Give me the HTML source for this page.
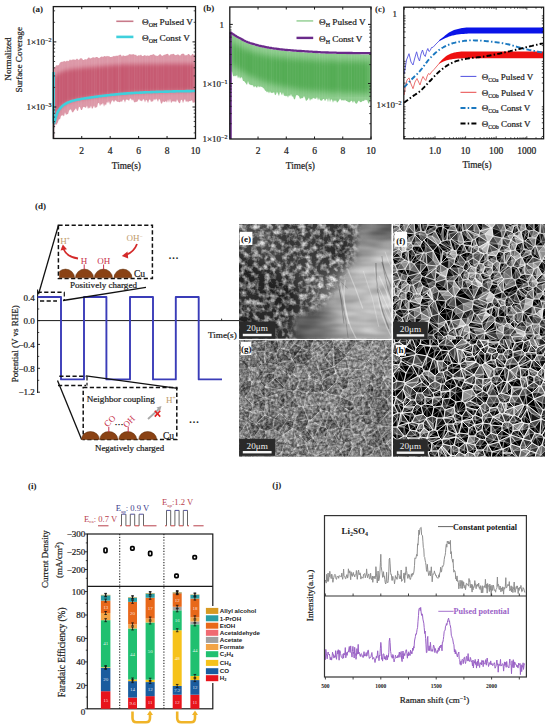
<!DOCTYPE html>
<html><head><meta charset="utf-8"><title>Figure</title>
<style>html,body{margin:0;padding:0;background:#fff;width:550px;height:727px;overflow:hidden}svg{display:block}</style>
</head><body>
<svg width="550" height="727" viewBox="0 0 550 727"><defs><filter id="gnoise" x="239" y="340" width="153" height="117" filterUnits="userSpaceOnUse" color-interpolation-filters="sRGB"><feTurbulence type="fractalNoise" baseFrequency="0.35" numOctaves="2" seed="9"/><feColorMatrix type="matrix" values="2 0 0 0 -0.5  2 0 0 0 -0.5  2 0 0 0 -0.5  0 0 0 0 1"/></filter>
<filter id="soft" x="0" y="0" width="550" height="727" filterUnits="userSpaceOnUse"><feGaussianBlur stdDeviation="0.45"/></filter>
<filter id="blur2" x="-5%" y="-5%" width="110%" height="110%"><feGaussianBlur stdDeviation="2"/></filter>
<filter id="blur3" x="-5%" y="-5%" width="110%" height="110%"><feGaussianBlur stdDeviation="3"/></filter><clipPath id="clip_e"><rect x="239.0" y="224.0" width="152.30" height="114.80"/></clipPath>
<filter id="tex_e" x="239.0" y="224.0" width="152.30" height="114.80" filterUnits="userSpaceOnUse" color-interpolation-filters="sRGB">
<feGaussianBlur in="SourceGraphic" stdDeviation="8.6" result="base"/>
<feTurbulence type="fractalNoise" baseFrequency="0.17" numOctaves="3" seed="101" result="n"/><feColorMatrix in="n" type="matrix" values="2.4 0 0 0 -0.95  2.4 0 0 0 -0.95  2.4 0 0 0 -0.95  0 0 0 0 1" result="ng"/>
<feComposite in="base" in2="ng" operator="arithmetic" k1="0" k2="1" k3="0.6" k4="-0.169"/>
</filter>
<filter id="mblur" x="200" y="200" width="250" height="200" filterUnits="userSpaceOnUse"><feGaussianBlur stdDeviation="3"/></filter><mask id="clip_e2" maskUnits="userSpaceOnUse" x="239" y="224" width="153" height="116"><polygon points="358,220 396,220 396,345 293,345 294,316 308,312 319,307 330,296 341,279 352,262 356,245" fill="#fff" filter="url(#mblur)"/></mask>
<filter id="tex_e2" x="239.0" y="224.0" width="152.30" height="114.80" filterUnits="userSpaceOnUse" color-interpolation-filters="sRGB">
<feGaussianBlur in="SourceGraphic" stdDeviation="8.6" result="base"/>
<feTurbulence type="fractalNoise" baseFrequency="0.03 0.12" numOctaves="2" seed="3" result="n"/>
<feColorMatrix in="n" type="matrix" values="1 0 0 0 0  1 0 0 0 0  1 0 0 0 0  0 0 0 0 1" result="ng"/>
<feComposite in="base" in2="ng" operator="arithmetic" k1="0" k2="1" k3="0.35" k4="-0.175"/>
</filter>
<clipPath id="clip_f"><rect x="393.1" y="224.0" width="151.90" height="115.60"/></clipPath>
<filter id="tex_f" x="393.1" y="224.0" width="151.90" height="115.60" filterUnits="userSpaceOnUse" color-interpolation-filters="sRGB">
<feGaussianBlur in="SourceGraphic" stdDeviation="8.5" result="base"/>
<feTurbulence type="turbulence" baseFrequency="0.13" numOctaves="2" seed="102" result="n"/><feColorMatrix in="n" type="matrix" values="-2.2 0 0 0 1.2  -2.2 0 0 0 1.2  -2.2 0 0 0 1.2  0 0 0 0 1" result="ng"/>
<feComposite in="base" in2="ng" operator="arithmetic" k1="0" k2="1" k3="0.85" k4="-0.538"/>
</filter>
<filter id="bl_f" x="393.1" y="224.0" width="151.90" height="115.60" filterUnits="userSpaceOnUse"><feGaussianBlur stdDeviation="8.5"/></filter>
<clipPath id="clip_g"><rect x="239.0" y="340.0" width="152.30" height="116.50"/></clipPath>
<filter id="tex_g" x="239.0" y="340.0" width="152.30" height="116.50" filterUnits="userSpaceOnUse" color-interpolation-filters="sRGB">
<feGaussianBlur in="SourceGraphic" stdDeviation="8.6" result="base"/>
<feTurbulence type="fractalNoise" baseFrequency="0.32" numOctaves="3" seed="103" result="n"/><feColorMatrix in="n" type="matrix" values="1.0 0 0 0 0.0  1.0 0 0 0 0.0  1.0 0 0 0 0.0  0 0 0 0 1" result="ng"/>
<feComposite in="base" in2="ng" operator="arithmetic" k1="0" k2="1" k3="0.6" k4="-0.300"/>
</filter>
<filter id="bl_g" x="239.0" y="340.0" width="152.30" height="116.50" filterUnits="userSpaceOnUse"><feGaussianBlur stdDeviation="8.6"/></filter>
<clipPath id="clip_h"><rect x="393.1" y="339.6" width="151.90" height="116.90"/></clipPath>
<filter id="tex_h" x="393.1" y="339.6" width="151.90" height="116.90" filterUnits="userSpaceOnUse" color-interpolation-filters="sRGB">
<feGaussianBlur in="SourceGraphic" stdDeviation="8.5" result="base"/>
<feTurbulence type="turbulence" baseFrequency="0.1" numOctaves="2" seed="104" result="n"/><feColorMatrix in="n" type="matrix" values="-2.6 0 0 0 1.35  -2.6 0 0 0 1.35  -2.6 0 0 0 1.35  0 0 0 0 1" result="ng"/>
<feComposite in="base" in2="ng" operator="arithmetic" k1="0" k2="1" k3="1.0" k4="-0.669"/>
</filter>
<filter id="bl_h" x="393.1" y="339.6" width="151.90" height="116.90" filterUnits="userSpaceOnUse"><feGaussianBlur stdDeviation="8.5"/></filter></defs><rect width="550" height="727" fill="#fff"/>
<clipPath id="clipA"><rect x="53.3" y="6.6" width="142.2" height="131.9"/></clipPath><g clip-path="url(#clipA)">
<polygon points="54.0,68.1 55.0,67.4 56.0,65.5 57.0,65.2 58.0,65.4 59.0,64.8 60.0,62.4 61.0,62.2 62.0,61.4 63.0,62.0 64.0,60.7 65.0,61.4 66.0,61.6 67.0,60.5 68.0,61.2 69.0,60.8 70.0,59.3 71.0,60.4 72.0,59.5 73.0,59.7 74.0,59.3 75.0,60.1 76.0,59.4 77.0,58.6 78.0,59.4 79.0,59.9 80.0,58.6 81.0,58.3 82.0,58.6 83.0,59.9 84.0,59.9 85.0,59.1 86.0,59.5 87.0,59.3 88.0,58.1 89.0,57.3 90.0,58.6 91.0,58.2 92.0,57.7 93.0,57.3 94.0,57.6 95.0,57.7 96.0,57.1 97.0,57.1 98.0,57.4 99.0,58.2 100.0,57.5 101.0,56.7 102.0,56.6 103.0,56.9 104.0,56.2 105.0,56.1 106.0,56.8 107.0,55.7 108.0,56.5 109.0,56.1 110.0,56.9 111.0,56.9 112.0,56.7 113.0,56.6 114.0,55.8 115.0,56.4 116.0,55.6 117.0,56.0 118.0,55.4 119.0,55.6 120.0,54.6 121.0,55.0 122.0,56.7 123.0,54.9 124.0,55.9 125.0,55.8 126.0,55.9 127.0,55.3 128.0,55.6 129.0,54.3 130.0,54.3 131.0,54.6 132.0,54.4 133.0,54.3 134.0,54.3 135.0,55.3 136.0,54.5 137.0,56.3 138.0,55.6 139.0,55.3 140.0,55.6 141.0,54.6 142.0,56.1 143.0,55.9 144.0,55.6 145.0,55.0 146.0,55.9 147.0,55.6 148.0,55.4 149.0,56.0 150.0,55.3 151.0,54.7 152.0,55.1 153.0,54.2 154.0,54.2 155.0,55.5 156.0,55.6 157.0,56.0 158.0,55.7 159.0,55.0 160.0,53.9 161.0,54.8 162.0,55.9 163.0,55.5 164.0,54.8 165.0,54.7 166.0,54.2 167.0,54.0 168.0,53.8 169.0,55.7 170.0,55.1 171.0,53.9 172.0,54.6 173.0,53.7 174.0,54.1 175.0,55.3 176.0,55.1 177.0,54.7 178.0,54.2 179.0,55.1 180.0,55.8 181.0,54.6 182.0,53.7 183.0,53.7 184.0,53.7 185.0,55.8 186.0,54.8 187.0,55.5 188.0,53.9 189.0,54.1 190.0,55.2 191.0,55.7 192.0,54.3 193.0,53.7 194.0,55.6 195.0,54.2 195.0,102.7 194.0,102.1 193.0,103.3 192.0,100.2 191.0,100.8 190.0,101.2 189.0,101.1 188.0,102.4 187.0,100.8 186.0,102.3 185.0,99.0 184.0,100.4 183.0,103.2 182.0,99.9 181.0,99.7 180.0,103.3 179.0,103.0 178.0,101.2 177.0,99.2 176.0,102.5 175.0,100.9 174.0,101.9 173.0,100.8 172.0,102.0 171.0,102.9 170.0,98.8 169.0,102.7 168.0,99.4 167.0,102.8 166.0,100.9 165.0,101.7 164.0,102.2 163.0,100.9 162.0,103.4 161.0,103.5 160.0,100.0 159.0,98.8 158.0,102.1 157.0,99.8 156.0,98.5 155.0,100.6 154.0,98.7 153.0,101.6 152.0,101.3 151.0,102.0 150.0,99.2 149.0,99.9 148.0,103.2 147.0,100.6 146.0,99.8 145.0,102.6 144.0,99.6 143.0,99.2 142.0,101.5 141.0,100.4 140.0,100.7 139.0,98.7 138.0,100.5 137.0,102.0 136.0,101.4 135.0,102.5 134.0,101.9 133.0,99.3 132.0,100.8 131.0,98.7 130.0,98.5 129.0,100.9 128.0,99.7 127.0,99.7 126.0,99.4 125.0,102.7 124.0,100.1 123.0,99.6 122.0,102.0 121.0,100.9 120.0,102.2 119.0,102.1 118.0,101.8 117.0,101.7 116.0,100.6 115.0,100.2 114.0,102.6 113.0,100.5 112.0,100.6 111.0,102.7 110.0,105.1 109.0,101.1 108.0,103.4 107.0,101.6 106.0,105.5 105.0,104.1 104.0,106.7 103.0,102.8 102.0,104.8 101.0,103.9 100.0,106.3 99.0,103.1 98.0,103.2 97.0,107.4 96.0,106.9 95.0,108.3 94.0,105.5 93.0,107.7 92.0,109.0 91.0,105.5 90.0,108.4 89.0,107.3 88.0,109.0 87.0,105.5 86.0,107.8 85.0,107.5 84.0,106.8 83.0,107.2 82.0,110.0 81.0,110.1 80.0,107.2 79.0,106.7 78.0,110.8 77.0,110.8 76.0,108.3 75.0,109.5 74.0,110.8 73.0,112.4 72.0,112.0 71.0,109.4 70.0,109.5 69.0,110.7 68.0,114.2 67.0,114.0 66.0,115.0 65.0,112.2 64.0,116.6 63.0,115.2 62.0,115.6 61.0,115.7 60.0,119.6 59.0,118.9 58.0,122.1 57.0,124.1 56.0,125.0 55.0,124.1 54.0,129.2" fill="#dc96a6" stroke="none" stroke-width="1" />
<polygon points="54.0,77.0 55.0,75.9 56.0,75.0 57.0,74.2 58.0,73.4 59.0,72.8 60.0,72.3 61.0,71.9 62.0,71.5 63.0,71.1 64.0,70.8 65.0,70.5 66.0,70.2 67.0,70.0 68.0,69.8 69.0,69.6 70.0,69.4 71.0,69.2 72.0,69.1 73.0,68.9 74.0,68.8 75.0,68.7 76.0,68.5 77.0,68.4 78.0,68.3 79.0,68.2 80.0,68.1 81.0,68.0 82.0,67.9 83.0,67.8 84.0,67.7 85.0,67.6 86.0,67.6 87.0,67.5 88.0,67.4 89.0,67.3 90.0,67.2 91.0,67.1 92.0,67.0 93.0,66.9 94.0,66.8 95.0,66.7 96.0,66.6 97.0,66.6 98.0,66.5 99.0,66.4 100.0,66.3 101.0,66.2 102.0,66.1 103.0,66.0 104.0,65.9 105.0,65.8 106.0,65.7 107.0,65.6 108.0,65.6 109.0,65.5 110.0,65.4 111.0,65.3 112.0,65.2 113.0,65.2 114.0,65.1 115.0,65.0 116.0,64.9 117.0,64.9 118.0,64.8 119.0,64.7 120.0,64.7 121.0,64.6 122.0,64.6 123.0,64.5 124.0,64.5 125.0,64.4 126.0,64.4 127.0,64.4 128.0,64.3 129.0,64.3 130.0,64.3 131.0,64.3 132.0,64.3 133.0,64.2 134.0,64.2 135.0,64.2 136.0,64.2 137.0,64.2 138.0,64.2 139.0,64.2 140.0,64.1 141.0,64.1 142.0,64.1 143.0,64.1 144.0,64.1 145.0,64.1 146.0,64.1 147.0,64.0 148.0,64.0 149.0,64.0 150.0,64.0 151.0,64.0 152.0,64.0 153.0,64.0 154.0,64.0 155.0,63.9 156.0,63.9 157.0,63.9 158.0,63.9 159.0,63.9 160.0,63.9 161.0,63.9 162.0,63.9 163.0,63.9 164.0,63.8 165.0,63.8 166.0,63.8 167.0,63.8 168.0,63.8 169.0,63.8 170.0,63.8 171.0,63.8 172.0,63.8 173.0,63.8 174.0,63.8 175.0,63.8 176.0,63.8 177.0,63.8 178.0,63.7 179.0,63.7 180.0,63.7 181.0,63.7 182.0,63.7 183.0,63.7 184.0,63.7 185.0,63.7 186.0,63.7 187.0,63.7 188.0,63.7 189.0,63.7 190.0,63.7 191.0,63.7 192.0,63.7 193.0,63.7 194.0,63.7 195.0,63.7 195.0,91.0 194.0,91.0 193.0,91.0 192.0,91.0 191.0,91.1 190.0,91.1 189.0,91.1 188.0,91.1 187.0,91.1 186.0,91.1 185.0,91.2 184.0,91.2 183.0,91.2 182.0,91.2 181.0,91.2 180.0,91.3 179.0,91.3 178.0,91.3 177.0,91.3 176.0,91.3 175.0,91.4 174.0,91.4 173.0,91.4 172.0,91.5 171.0,91.5 170.0,91.5 169.0,91.5 168.0,91.6 167.0,91.6 166.0,91.6 165.0,91.6 164.0,91.7 163.0,91.7 162.0,91.7 161.0,91.8 160.0,91.8 159.0,91.8 158.0,91.9 157.0,91.9 156.0,91.9 155.0,92.0 154.0,92.0 153.0,92.0 152.0,92.1 151.0,92.1 150.0,92.2 149.0,92.2 148.0,92.2 147.0,92.3 146.0,92.3 145.0,92.4 144.0,92.4 143.0,92.5 142.0,92.5 141.0,92.6 140.0,92.6 139.0,92.7 138.0,92.7 137.0,92.8 136.0,92.8 135.0,92.9 134.0,93.0 133.0,93.0 132.0,93.1 131.0,93.1 130.0,93.2 129.0,93.3 128.0,93.3 127.0,93.4 126.0,93.5 125.0,93.6 124.0,93.6 123.0,93.7 122.0,93.8 121.0,93.9 120.0,94.0 119.0,94.1 118.0,94.2 117.0,94.3 116.0,94.4 115.0,94.5 114.0,94.6 113.0,94.7 112.0,94.8 111.0,94.9 110.0,95.0 109.0,95.2 108.0,95.3 107.0,95.4 106.0,95.5 105.0,95.6 104.0,95.7 103.0,95.8 102.0,96.0 101.0,96.1 100.0,96.2 99.0,96.3 98.0,96.5 97.0,96.6 96.0,96.7 95.0,96.9 94.0,97.0 93.0,97.2 92.0,97.3 91.0,97.5 90.0,97.6 89.0,97.7 88.0,97.9 87.0,98.0 86.0,98.2 85.0,98.3 84.0,98.5 83.0,98.7 82.0,98.8 81.0,99.0 80.0,99.2 79.0,99.4 78.0,99.6 77.0,99.8 76.0,100.0 75.0,100.2 74.0,100.5 73.0,100.7 72.0,101.0 71.0,101.3 70.0,101.7 69.0,102.1 68.0,102.5 67.0,103.0 66.0,103.5 65.0,104.1 64.0,104.8 63.0,105.5 62.0,106.3 61.0,107.3 60.0,108.5 59.0,109.9 58.0,111.5 57.0,113.6 56.0,116.5 55.0,120.5 54.0,123.2" fill="#c65870" stroke="none" stroke-width="1" filter="url(#blur2)"/>
<path d="M54.5 67.5V125.9M60.9 62.9V116.6M62.5 62.3V118.0M64.1 61.8V116.0M75.3 59.6V111.0M84.9 58.6V106.4M86.5 58.5V109.4M88.1 58.4V107.8M89.7 58.2V107.1M100.9 57.2V106.5M102.5 57.0V105.4M104.1 56.9V105.6M116.9 55.9V102.9M124.9 55.4V100.0M131.3 55.3V102.6M132.9 55.3V100.8M137.7 55.2V102.8M140.9 55.1V100.0M142.5 55.1V102.9M150.5 55.0V101.5M152.1 55.0V101.7M158.5 54.9V100.0M160.1 54.9V101.4M161.7 54.9V100.5M164.9 54.8V100.2M169.7 54.8V100.3M171.3 54.8V102.3M172.9 54.8V99.8M176.1 54.8V100.4M177.7 54.7V102.5M182.5 54.7V102.7M188.9 54.7V100.0M192.1 54.7V102.5M193.7 54.7V99.8M195.3 54.7V102.5" stroke="#fff" stroke-opacity="0.1" stroke-width="0.6" fill="none"/>
<path d="M56.1 65.9V123.3M59.3 63.7V117.3M67.3 60.9V112.8M68.9 60.6V111.5M72.1 60.1V111.4M76.9 59.4V110.0M78.5 59.3V109.7M80.1 59.1V108.2M81.7 58.9V108.1M91.3 58.1V106.2M92.9 57.9V106.8M94.5 57.8V106.9M108.9 56.5V101.7M112.1 56.2V101.9M128.1 55.3V99.2M129.7 55.3V100.3M134.5 55.2V101.6M136.1 55.2V101.2M139.3 55.1V100.7M145.7 55.1V100.7M147.3 55.0V99.1M153.7 55.0V101.8M163.3 54.9V100.5M168.1 54.8V101.3M180.9 54.7V100.5M187.3 54.7V102.4M190.5 54.7V102.5" stroke="#fff" stroke-opacity="0.15" stroke-width="0.6" fill="none"/>
<path d="M57.7 64.7V121.9M65.7 61.3V113.9M70.5 60.3V111.5M73.7 59.8V109.1M83.3 58.8V109.6M97.7 57.5V106.2M105.7 56.8V103.1M110.5 56.3V102.7M113.7 56.1V104.0M115.3 56.0V102.7M121.7 55.6V100.7M123.3 55.5V101.7M126.5 55.4V101.5M144.1 55.1V101.2M148.9 55.0V101.5M155.3 54.9V99.1M166.5 54.8V102.1M174.5 54.8V101.9M179.3 54.7V102.6M184.1 54.7V100.1M185.7 54.7V101.3" stroke="#fff" stroke-opacity="0.05" stroke-width="0.6" fill="none"/>
<path d="M96.1 57.6V107.3M99.3 57.3V106.7M107.3 56.6V105.0M118.5 55.8V103.3M120.1 55.7V101.6M156.9 54.9V101.7" stroke="#fff" stroke-opacity="0.2" stroke-width="0.6" fill="none"/>
</g>
<polyline points="53.6,72.0 53.6,121.5 54.0,123.2 55.0,120.5 56.0,116.5 57.0,113.6 58.0,111.5 59.0,109.9 60.0,108.5 61.0,107.3 62.0,106.3 63.0,105.5 64.0,104.8 65.0,104.1 66.0,103.5 67.0,103.0 68.0,102.5 69.0,102.1 70.0,101.7 71.0,101.3 72.0,101.0 73.0,100.7 74.0,100.5 75.0,100.2 76.0,100.0 77.0,99.8 78.0,99.6 79.0,99.4 80.0,99.2 81.0,99.0 82.0,98.8 83.0,98.7 84.0,98.5 85.0,98.3 86.0,98.2 87.0,98.0 88.0,97.9 89.0,97.7 90.0,97.6 91.0,97.5 92.0,97.3 93.0,97.2 94.0,97.0 95.0,96.9 96.0,96.7 97.0,96.6 98.0,96.5 99.0,96.3 100.0,96.2 101.0,96.1 102.0,96.0 103.0,95.8 104.0,95.7 105.0,95.6 106.0,95.5 107.0,95.4 108.0,95.3 109.0,95.2 110.0,95.0 111.0,94.9 112.0,94.8 113.0,94.7 114.0,94.6 115.0,94.5 116.0,94.4 117.0,94.3 118.0,94.2 119.0,94.1 120.0,94.0 121.0,93.9 122.0,93.8 123.0,93.7 124.0,93.6 125.0,93.6 126.0,93.5 127.0,93.4 128.0,93.3 129.0,93.3 130.0,93.2 131.0,93.1 132.0,93.1 133.0,93.0 134.0,93.0 135.0,92.9 136.0,92.8 137.0,92.8 138.0,92.7 139.0,92.7 140.0,92.6 141.0,92.6 142.0,92.5 143.0,92.5 144.0,92.4 145.0,92.4 146.0,92.3 147.0,92.3 148.0,92.2 149.0,92.2 150.0,92.2 151.0,92.1 152.0,92.1 153.0,92.0 154.0,92.0 155.0,92.0 156.0,91.9 157.0,91.9 158.0,91.9 159.0,91.8 160.0,91.8 161.0,91.8 162.0,91.7 163.0,91.7 164.0,91.7 165.0,91.6 166.0,91.6 167.0,91.6 168.0,91.6 169.0,91.5 170.0,91.5 171.0,91.5 172.0,91.5 173.0,91.4 174.0,91.4 175.0,91.4 176.0,91.3 177.0,91.3 178.0,91.3 179.0,91.3 180.0,91.3 181.0,91.2 182.0,91.2 183.0,91.2 184.0,91.2 185.0,91.2 186.0,91.1 187.0,91.1 188.0,91.1 189.0,91.1 190.0,91.1 191.0,91.1 192.0,91.0 193.0,91.0 194.0,91.0 195.0,91.0" fill="none" stroke="#3fd0dc" stroke-width="2.6" stroke-linejoin="round" />
<line x1="53.6" y1="122" x2="53.6" y2="138.5" stroke="#4a2030" stroke-width="1.4" />
<rect x="53.3" y="6.6" width="142.2" height="131.9" fill="none" stroke="#1a1a1a" stroke-width="1.3" />
<line x1="53.3" y1="22.302947282274825" x2="55.099999999999994" y2="22.302947282274825" stroke="#1a1a1a" stroke-width="0.8" />
<line x1="195.5" y1="22.302947282274825" x2="193.7" y2="22.302947282274825" stroke="#1a1a1a" stroke-width="0.8" />
<line x1="53.3" y1="10.839406317749976" x2="55.099999999999994" y2="10.839406317749976" stroke="#1a1a1a" stroke-width="0.8" />
<line x1="195.5" y1="10.839406317749976" x2="193.7" y2="10.839406317749976" stroke="#1a1a1a" stroke-width="0.8" />
<line x1="53.3" y1="87.40294728227482" x2="55.099999999999994" y2="87.40294728227482" stroke="#1a1a1a" stroke-width="0.8" />
<line x1="195.5" y1="87.40294728227482" x2="193.7" y2="87.40294728227482" stroke="#1a1a1a" stroke-width="0.8" />
<line x1="53.3" y1="75.93940631774998" x2="55.099999999999994" y2="75.93940631774998" stroke="#1a1a1a" stroke-width="0.8" />
<line x1="195.5" y1="75.93940631774998" x2="193.7" y2="75.93940631774998" stroke="#1a1a1a" stroke-width="0.8" />
<line x1="53.3" y1="67.80589456454965" x2="55.099999999999994" y2="67.80589456454965" stroke="#1a1a1a" stroke-width="0.8" />
<line x1="195.5" y1="67.80589456454965" x2="193.7" y2="67.80589456454965" stroke="#1a1a1a" stroke-width="0.8" />
<line x1="53.3" y1="61.497052717725175" x2="55.099999999999994" y2="61.497052717725175" stroke="#1a1a1a" stroke-width="0.8" />
<line x1="195.5" y1="61.497052717725175" x2="193.7" y2="61.497052717725175" stroke="#1a1a1a" stroke-width="0.8" />
<line x1="53.3" y1="56.3423536000248" x2="55.099999999999994" y2="56.3423536000248" stroke="#1a1a1a" stroke-width="0.8" />
<line x1="195.5" y1="56.3423536000248" x2="193.7" y2="56.3423536000248" stroke="#1a1a1a" stroke-width="0.8" />
<line x1="53.3" y1="51.984117595071886" x2="55.099999999999994" y2="51.984117595071886" stroke="#1a1a1a" stroke-width="0.8" />
<line x1="195.5" y1="51.984117595071886" x2="193.7" y2="51.984117595071886" stroke="#1a1a1a" stroke-width="0.8" />
<line x1="53.3" y1="48.208841846824484" x2="55.099999999999994" y2="48.208841846824484" stroke="#1a1a1a" stroke-width="0.8" />
<line x1="195.5" y1="48.208841846824484" x2="193.7" y2="48.208841846824484" stroke="#1a1a1a" stroke-width="0.8" />
<line x1="53.3" y1="44.878812635499955" x2="55.099999999999994" y2="44.878812635499955" stroke="#1a1a1a" stroke-width="0.8" />
<line x1="195.5" y1="44.878812635499955" x2="193.7" y2="44.878812635499955" stroke="#1a1a1a" stroke-width="0.8" />
<line x1="53.3" y1="132.90589456454964" x2="55.099999999999994" y2="132.90589456454964" stroke="#1a1a1a" stroke-width="0.8" />
<line x1="195.5" y1="132.90589456454964" x2="193.7" y2="132.90589456454964" stroke="#1a1a1a" stroke-width="0.8" />
<line x1="53.3" y1="126.59705271772518" x2="55.099999999999994" y2="126.59705271772518" stroke="#1a1a1a" stroke-width="0.8" />
<line x1="195.5" y1="126.59705271772518" x2="193.7" y2="126.59705271772518" stroke="#1a1a1a" stroke-width="0.8" />
<line x1="53.3" y1="121.4423536000248" x2="55.099999999999994" y2="121.4423536000248" stroke="#1a1a1a" stroke-width="0.8" />
<line x1="195.5" y1="121.4423536000248" x2="193.7" y2="121.4423536000248" stroke="#1a1a1a" stroke-width="0.8" />
<line x1="53.3" y1="117.08411759507189" x2="55.099999999999994" y2="117.08411759507189" stroke="#1a1a1a" stroke-width="0.8" />
<line x1="195.5" y1="117.08411759507189" x2="193.7" y2="117.08411759507189" stroke="#1a1a1a" stroke-width="0.8" />
<line x1="53.3" y1="113.30884184682448" x2="55.099999999999994" y2="113.30884184682448" stroke="#1a1a1a" stroke-width="0.8" />
<line x1="195.5" y1="113.30884184682448" x2="193.7" y2="113.30884184682448" stroke="#1a1a1a" stroke-width="0.8" />
<line x1="53.3" y1="109.97881263549995" x2="55.099999999999994" y2="109.97881263549995" stroke="#1a1a1a" stroke-width="0.8" />
<line x1="195.5" y1="109.97881263549995" x2="193.7" y2="109.97881263549995" stroke="#1a1a1a" stroke-width="0.8" />
<line x1="53.3" y1="41.9" x2="56.3" y2="41.9" stroke="#1a1a1a" stroke-width="1" />
<line x1="195.5" y1="41.9" x2="192.5" y2="41.9" stroke="#1a1a1a" stroke-width="1" />
<line x1="53.3" y1="107.0" x2="56.3" y2="107.0" stroke="#1a1a1a" stroke-width="1" />
<line x1="195.5" y1="107.0" x2="192.5" y2="107.0" stroke="#1a1a1a" stroke-width="1" />
<line x1="81.74" y1="138.5" x2="81.74" y2="136.0" stroke="#1a1a1a" stroke-width="1" />
<line x1="81.74" y1="6.6" x2="81.74" y2="9.1" stroke="#1a1a1a" stroke-width="1" />
<text x="81.74" y="153.8" font-family="Liberation Serif" font-size="9.5" text-anchor="middle" fill="#222" font-weight="normal" stroke="#222" stroke-width="0.22" >2</text>
<line x1="110.17999999999999" y1="138.5" x2="110.17999999999999" y2="136.0" stroke="#1a1a1a" stroke-width="1" />
<line x1="110.17999999999999" y1="6.6" x2="110.17999999999999" y2="9.1" stroke="#1a1a1a" stroke-width="1" />
<text x="110.17999999999999" y="153.8" font-family="Liberation Serif" font-size="9.5" text-anchor="middle" fill="#222" font-weight="normal" stroke="#222" stroke-width="0.22" >4</text>
<line x1="138.62" y1="138.5" x2="138.62" y2="136.0" stroke="#1a1a1a" stroke-width="1" />
<line x1="138.62" y1="6.6" x2="138.62" y2="9.1" stroke="#1a1a1a" stroke-width="1" />
<text x="138.62" y="153.8" font-family="Liberation Serif" font-size="9.5" text-anchor="middle" fill="#222" font-weight="normal" stroke="#222" stroke-width="0.22" >6</text>
<line x1="167.06" y1="138.5" x2="167.06" y2="136.0" stroke="#1a1a1a" stroke-width="1" />
<line x1="167.06" y1="6.6" x2="167.06" y2="9.1" stroke="#1a1a1a" stroke-width="1" />
<text x="167.06" y="153.8" font-family="Liberation Serif" font-size="9.5" text-anchor="middle" fill="#222" font-weight="normal" stroke="#222" stroke-width="0.22" >8</text>
<line x1="195.5" y1="138.5" x2="195.5" y2="136.0" stroke="#1a1a1a" stroke-width="1" />
<line x1="195.5" y1="6.6" x2="195.5" y2="9.1" stroke="#1a1a1a" stroke-width="1" />
<text x="195.5" y="153.8" font-family="Liberation Serif" font-size="9.5" text-anchor="middle" fill="#222" font-weight="normal" stroke="#222" stroke-width="0.22" >10</text>
<text x="126.4" y="169" font-family="Liberation Serif" font-size="9.3" text-anchor="middle" fill="#222" font-weight="normal" stroke="#222" stroke-width="0.22" >Time(s)</text>
<text x="51.5" y="45" font-family="Liberation Serif" font-size="9" text-anchor="end" fill="#222" font-weight="normal" stroke="#222" stroke-width="0.22" >1×10<tspan dy="-3" font-size="6">−2</tspan></text>
<text x="51.5" y="110" font-family="Liberation Serif" font-size="9" text-anchor="end" fill="#222" font-weight="normal" stroke="#222" stroke-width="0.22" >1×10<tspan dy="-3" font-size="6">−3</tspan></text>
<text x="10.5" y="59" font-family="Liberation Serif" font-size="9.2" text-anchor="middle" fill="#222" font-weight="normal" stroke="#222" stroke-width="0.22" transform="rotate(-90 10.5 59)" >Normalized</text>
<text x="22" y="59.8" font-family="Liberation Serif" font-size="9.2" text-anchor="middle" fill="#222" font-weight="normal" stroke="#222" stroke-width="0.22" transform="rotate(-90 22 59.8)" >Surface Coverage</text>
<text x="32.4" y="11.5" font-family="Liberation Serif" font-size="9" text-anchor="start" fill="#222" font-weight="bold" >(a)</text>
<line x1="116.3" y1="21.3" x2="133.4" y2="21.3" stroke="#c87a8a" stroke-width="1.6" />
<line x1="116.3" y1="36.9" x2="133.4" y2="36.9" stroke="#3fd0dc" stroke-width="2.6" />
<text x="142" y="24.9" font-family="Liberation Serif" font-size="9.2" text-anchor="start" fill="#222" font-weight="normal" stroke="#222" stroke-width="0.22" >Θ<tspan font-size="6" dy="2">OH</tspan><tspan dy="-2"> Pulsed V</tspan></text>
<text x="142" y="40.8" font-family="Liberation Serif" font-size="9.2" text-anchor="start" fill="#222" font-weight="normal" stroke="#222" stroke-width="0.22" >Θ<tspan font-size="6" dy="2">OH</tspan><tspan dy="-2">  Const V</tspan></text>
<clipPath id="clipB"><rect x="229.8" y="7" width="141.2" height="132"/></clipPath><g clip-path="url(#clipB)">
<polygon points="231.0,33.8 232.0,34.6 233.0,35.3 234.0,36.0 235.0,36.7 236.0,37.3 237.0,37.9 238.0,38.4 239.0,39.0 240.0,39.5 241.0,40.0 242.0,40.6 243.0,41.1 244.0,41.7 245.0,42.2 246.0,42.7 247.0,43.1 248.0,43.5 249.0,43.8 250.0,44.2 251.0,44.5 252.0,44.8 253.0,45.1 254.0,45.4 255.0,45.7 256.0,46.0 257.0,46.2 258.0,46.5 259.0,46.8 260.0,47.0 261.0,47.2 262.0,47.5 263.0,47.7 264.0,47.9 265.0,48.1 266.0,48.3 267.0,48.5 268.0,48.7 269.0,48.9 270.0,49.0 271.0,49.2 272.0,49.4 273.0,49.5 274.0,49.7 275.0,49.8 276.0,49.9 277.0,50.1 278.0,50.2 279.0,50.3 280.0,50.5 281.0,50.6 282.0,50.7 283.0,50.8 284.0,50.9 285.0,51.0 286.0,51.1 287.0,51.2 288.0,51.3 289.0,51.4 290.0,51.4 291.0,51.5 292.0,51.6 293.0,51.7 294.0,51.8 295.0,51.8 296.0,51.9 297.0,52.0 298.0,52.0 299.0,52.1 300.0,52.2 301.0,52.2 302.0,52.3 303.0,52.4 304.0,52.4 305.0,52.5 306.0,52.6 307.0,52.6 308.0,52.7 309.0,52.8 310.0,52.8 311.0,52.9 312.0,52.9 313.0,53.0 314.0,53.1 315.0,53.1 316.0,53.2 317.0,53.2 318.0,53.3 319.0,53.4 320.0,53.4 321.0,53.5 322.0,53.5 323.0,53.6 324.0,53.6 325.0,53.6 326.0,53.7 327.0,53.7 328.0,53.7 329.0,53.8 330.0,53.8 331.0,53.8 332.0,53.8 333.0,53.9 334.0,53.9 335.0,53.9 336.0,53.9 337.0,54.0 338.0,54.0 339.0,54.0 340.0,54.0 341.0,54.0 342.0,54.1 343.0,54.1 344.0,54.1 345.0,54.1 346.0,54.1 347.0,54.2 348.0,54.2 349.0,54.2 350.0,54.2 351.0,54.2 352.0,54.2 353.0,54.3 354.0,54.3 355.0,54.3 356.0,54.3 357.0,54.3 358.0,54.3 359.0,54.3 360.0,54.3 361.0,54.4 362.0,54.4 363.0,54.4 364.0,54.4 365.0,54.4 366.0,54.4 367.0,54.4 368.0,54.4 369.0,54.4 370.0,54.4 371.0,54.4 371.0,99.2 370.0,99.9 369.0,103.9 368.0,102.4 367.0,99.8 366.0,100.5 365.0,99.4 364.0,101.3 363.0,100.7 362.0,101.6 361.0,102.3 360.0,102.0 359.0,100.4 358.0,101.6 357.0,103.4 356.0,103.8 355.0,102.4 354.0,100.5 353.0,103.1 352.0,100.9 351.0,100.7 350.0,102.2 349.0,102.3 348.0,101.9 347.0,101.1 346.0,100.9 345.0,99.5 344.0,101.0 343.0,99.7 342.0,100.7 341.0,100.1 340.0,98.6 339.0,100.6 338.0,101.7 337.0,102.7 336.0,100.1 335.0,101.6 334.0,100.1 333.0,102.8 332.0,99.8 331.0,99.3 330.0,102.2 329.0,97.8 328.0,102.2 327.0,98.4 326.0,99.5 325.0,101.3 324.0,98.9 323.0,98.9 322.0,100.8 321.0,100.4 320.0,100.2 319.0,98.0 318.0,100.4 317.0,97.1 316.0,98.9 315.0,98.6 314.0,98.4 313.0,97.7 312.0,99.7 311.0,98.7 310.0,101.1 309.0,97.4 308.0,99.2 307.0,100.3 306.0,101.1 305.0,98.0 304.0,95.9 303.0,98.1 302.0,98.3 301.0,98.2 300.0,99.0 299.0,96.2 298.0,95.6 297.0,95.1 296.0,95.4 295.0,99.2 294.0,99.2 293.0,96.2 292.0,96.7 291.0,94.0 290.0,96.4 289.0,95.0 288.0,97.8 287.0,95.6 286.0,96.4 285.0,95.4 284.0,96.0 283.0,92.3 282.0,95.6 281.0,93.2 280.0,91.8 279.0,96.3 278.0,93.8 277.0,91.7 276.0,94.6 275.0,95.2 274.0,91.7 273.0,93.2 272.0,92.6 271.0,93.3 270.0,91.3 269.0,93.5 268.0,91.2 267.0,92.6 266.0,91.0 265.0,90.4 264.0,88.5 263.0,88.1 262.0,86.7 261.0,86.9 260.0,86.3 259.0,87.6 258.0,85.4 257.0,88.0 256.0,86.8 255.0,86.0 254.0,87.6 253.0,85.6 252.0,85.1 251.0,85.2 250.0,84.4 249.0,84.2 248.0,80.9 247.0,84.9 246.0,83.4 245.0,82.3 244.0,80.9 243.0,80.9 242.0,77.6 241.0,77.3 240.0,78.7 239.0,76.3 238.0,78.6 237.0,74.8 236.0,76.5 235.0,75.5 234.0,76.4 233.0,75.7 232.0,71.2 231.0,72.0" fill="#8ccc8c" stroke="none" stroke-width="1" />
<polygon points="231.0,40.6 232.0,41.4 233.0,42.1 234.0,42.8 235.0,43.5 236.0,44.1 237.0,44.7 238.0,45.2 239.0,45.8 240.0,46.3 241.0,46.8 242.0,47.4 243.0,47.9 244.0,48.5 245.0,49.0 246.0,49.5 247.0,49.9 248.0,50.3 249.0,50.6 250.0,51.0 251.0,51.3 252.0,51.6 253.0,51.9 254.0,52.2 255.0,52.5 256.0,52.8 257.0,53.0 258.0,53.3 259.0,53.6 260.0,53.8 261.0,54.0 262.0,54.3 263.0,54.5 264.0,54.7 265.0,54.9 266.0,55.1 267.0,55.3 268.0,55.5 269.0,55.7 270.0,55.8 271.0,56.0 272.0,56.2 273.0,56.3 274.0,56.5 275.0,56.6 276.0,56.7 277.0,56.9 278.0,57.0 279.0,57.1 280.0,57.3 281.0,57.4 282.0,57.5 283.0,57.6 284.0,57.7 285.0,57.8 286.0,57.9 287.0,58.0 288.0,58.1 289.0,58.2 290.0,58.2 291.0,58.3 292.0,58.4 293.0,58.5 294.0,58.6 295.0,58.6 296.0,58.7 297.0,58.8 298.0,58.8 299.0,58.9 300.0,59.0 301.0,59.0 302.0,59.1 303.0,59.2 304.0,59.2 305.0,59.3 306.0,59.4 307.0,59.4 308.0,59.5 309.0,59.6 310.0,59.6 311.0,59.7 312.0,59.7 313.0,59.8 314.0,59.9 315.0,59.9 316.0,60.0 317.0,60.0 318.0,60.1 319.0,60.2 320.0,60.2 321.0,60.3 322.0,60.3 323.0,60.4 324.0,60.4 325.0,60.4 326.0,60.5 327.0,60.5 328.0,60.5 329.0,60.6 330.0,60.6 331.0,60.6 332.0,60.6 333.0,60.7 334.0,60.7 335.0,60.7 336.0,60.7 337.0,60.8 338.0,60.8 339.0,60.8 340.0,60.8 341.0,60.8 342.0,60.9 343.0,60.9 344.0,60.9 345.0,60.9 346.0,60.9 347.0,61.0 348.0,61.0 349.0,61.0 350.0,61.0 351.0,61.0 352.0,61.0 353.0,61.1 354.0,61.1 355.0,61.1 356.0,61.1 357.0,61.1 358.0,61.1 359.0,61.1 360.0,61.1 361.0,61.2 362.0,61.2 363.0,61.2 364.0,61.2 365.0,61.2 366.0,61.2 367.0,61.2 368.0,61.2 369.0,61.2 370.0,61.2 371.0,61.2 371.0,93.6 370.0,93.6 369.0,93.6 368.0,93.6 367.0,93.5 366.0,93.5 365.0,93.5 364.0,93.5 363.0,93.5 362.0,93.4 361.0,93.4 360.0,93.4 359.0,93.4 358.0,93.3 357.0,93.3 356.0,93.3 355.0,93.3 354.0,93.2 353.0,93.2 352.0,93.2 351.0,93.1 350.0,93.1 349.0,93.1 348.0,93.0 347.0,93.0 346.0,92.9 345.0,92.9 344.0,92.9 343.0,92.8 342.0,92.8 341.0,92.7 340.0,92.7 339.0,92.7 338.0,92.6 337.0,92.6 336.0,92.5 335.0,92.5 334.0,92.5 333.0,92.4 332.0,92.4 331.0,92.3 330.0,92.3 329.0,92.2 328.0,92.2 327.0,92.1 326.0,92.1 325.0,92.0 324.0,92.0 323.0,91.9 322.0,91.8 321.0,91.8 320.0,91.7 319.0,91.6 318.0,91.6 317.0,91.5 316.0,91.4 315.0,91.4 314.0,91.3 313.0,91.2 312.0,91.1 311.0,91.0 310.0,91.0 309.0,90.9 308.0,90.8 307.0,90.7 306.0,90.6 305.0,90.5 304.0,90.4 303.0,90.3 302.0,90.1 301.0,90.0 300.0,89.9 299.0,89.7 298.0,89.5 297.0,89.4 296.0,89.2 295.0,89.0 294.0,88.8 293.0,88.6 292.0,88.4 291.0,88.2 290.0,88.0 289.0,87.8 288.0,87.6 287.0,87.4 286.0,87.2 285.0,87.0 284.0,86.8 283.0,86.6 282.0,86.4 281.0,86.2 280.0,86.0 279.0,85.8 278.0,85.6 277.0,85.4 276.0,85.2 275.0,85.0 274.0,84.8 273.0,84.6 272.0,84.3 271.0,84.1 270.0,83.8 269.0,83.6 268.0,83.3 267.0,83.0 266.0,82.7 265.0,82.3 264.0,82.0 263.0,81.6 262.0,81.2 261.0,80.7 260.0,80.3 259.0,79.9 258.0,79.5 257.0,79.1 256.0,78.7 255.0,78.2 254.0,77.8 253.0,77.4 252.0,76.9 251.0,76.4 250.0,76.0 249.0,75.5 248.0,75.0 247.0,74.5 246.0,74.0 245.0,73.5 244.0,72.9 243.0,72.3 242.0,71.7 241.0,71.1 240.0,70.5 239.0,69.9 238.0,69.3 237.0,68.7 236.0,68.1 235.0,67.4 234.0,66.6 233.0,65.6 232.0,64.4 231.0,62.0" fill="#52ac52" stroke="none" stroke-width="1" filter="url(#blur3)"/>
<path d="M231.5 34.0V70.6M233.1 35.2V73.4M244.3 41.6V81.7M245.9 42.4V81.1M252.3 44.7V86.7M255.5 45.6V88.0M258.7 46.5V86.5M260.3 46.9V89.1M263.5 47.6V90.2M279.5 50.2V93.0M281.1 50.4V93.9M289.1 51.2V94.2M290.7 51.3V95.4M292.3 51.4V95.9M293.9 51.6V97.1M295.5 51.7V95.8M297.1 51.8V95.9M298.7 51.9V98.5M301.9 52.1V97.6M303.5 52.2V99.5M305.1 52.3V99.7M306.7 52.4V98.4M308.3 52.5V98.8M309.9 52.6V98.6M313.1 52.8V99.4M314.7 52.9V97.6M317.9 53.1V101.3M321.1 53.3V98.8M325.9 53.5V101.2M327.5 53.5V101.1M329.1 53.6V98.6M341.9 53.9V102.6M345.1 53.9V102.0M349.9 54.0V99.3M354.7 54.1V100.2M356.3 54.1V102.3M357.9 54.1V100.8M359.5 54.1V100.8M361.1 54.2V99.8M362.7 54.2V103.4M367.5 54.2V102.2M369.1 54.2V101.5" stroke="#fff" stroke-opacity="0.1" stroke-width="0.6" fill="none"/>
<path d="M234.7 36.3V76.9M241.1 39.9V80.9M247.5 43.1V81.7M249.1 43.7V83.9M250.7 44.2V85.5M268.3 48.5V90.8M274.7 49.6V94.3M277.9 50.0V91.8M282.7 50.6V95.7M284.3 50.7V93.1M285.9 50.9V93.7M300.3 52.0V96.2M311.5 52.7V98.9M330.7 53.6V98.3M332.3 53.7V101.5M333.9 53.7V98.8M335.5 53.7V102.0M343.5 53.9V102.0M346.7 54.0V101.8M353.1 54.1V100.2M364.3 54.2V102.5M370.7 54.2V103.2" stroke="#fff" stroke-opacity="0.05" stroke-width="0.6" fill="none"/>
<path d="M236.3 37.3V74.3M237.9 38.2V78.8M239.5 39.0V77.9M242.7 40.8V81.1M253.9 45.2V87.5M257.1 46.1V85.2M261.9 47.2V88.8M265.1 47.9V89.4M266.7 48.3V90.8M269.9 48.8V92.0M271.5 49.1V90.9M273.1 49.3V94.3M276.3 49.8V93.8M287.5 51.0V97.4M316.3 53.0V99.2M319.5 53.2V101.3M322.7 53.3V98.4M324.3 53.4V100.6M337.1 53.8V98.7M338.7 53.8V99.1M340.3 53.8V101.4M348.3 54.0V102.0M351.5 54.0V101.4M365.9 54.2V102.3" stroke="#fff" stroke-opacity="0.15" stroke-width="0.6" fill="none"/>
</g>
<polyline points="230.6,139.0 230.6,32.4 231.0,32.6 232.0,33.4 233.0,34.1 234.0,34.8 235.0,35.5 236.0,36.1 237.0,36.7 238.0,37.2 239.0,37.8 240.0,38.3 241.0,38.8 242.0,39.4 243.0,39.9 244.0,40.5 245.0,41.0 246.0,41.5 247.0,41.9 248.0,42.3 249.0,42.6 250.0,43.0 251.0,43.3 252.0,43.6 253.0,43.9 254.0,44.2 255.0,44.5 256.0,44.8 257.0,45.0 258.0,45.3 259.0,45.6 260.0,45.8 261.0,46.0 262.0,46.3 263.0,46.5 264.0,46.7 265.0,46.9 266.0,47.1 267.0,47.3 268.0,47.5 269.0,47.7 270.0,47.8 271.0,48.0 272.0,48.2 273.0,48.3 274.0,48.5 275.0,48.6 276.0,48.7 277.0,48.9 278.0,49.0 279.0,49.1 280.0,49.3 281.0,49.4 282.0,49.5 283.0,49.6 284.0,49.7 285.0,49.8 286.0,49.9 287.0,50.0 288.0,50.1 289.0,50.2 290.0,50.2 291.0,50.3 292.0,50.4 293.0,50.5 294.0,50.6 295.0,50.6 296.0,50.7 297.0,50.8 298.0,50.8 299.0,50.9 300.0,51.0 301.0,51.0 302.0,51.1 303.0,51.2 304.0,51.2 305.0,51.3 306.0,51.4 307.0,51.4 308.0,51.5 309.0,51.6 310.0,51.6 311.0,51.7 312.0,51.7 313.0,51.8 314.0,51.9 315.0,51.9 316.0,52.0 317.0,52.0 318.0,52.1 319.0,52.2 320.0,52.2 321.0,52.3 322.0,52.3 323.0,52.4 324.0,52.4 325.0,52.4 326.0,52.5 327.0,52.5 328.0,52.5 329.0,52.6 330.0,52.6 331.0,52.6 332.0,52.6 333.0,52.7 334.0,52.7 335.0,52.7 336.0,52.7 337.0,52.8 338.0,52.8 339.0,52.8 340.0,52.8 341.0,52.8 342.0,52.9 343.0,52.9 344.0,52.9 345.0,52.9 346.0,52.9 347.0,53.0 348.0,53.0 349.0,53.0 350.0,53.0 351.0,53.0 352.0,53.0 353.0,53.1 354.0,53.1 355.0,53.1 356.0,53.1 357.0,53.1 358.0,53.1 359.0,53.1 360.0,53.1 361.0,53.2 362.0,53.2 363.0,53.2 364.0,53.2 365.0,53.2 366.0,53.2 367.0,53.2 368.0,53.2 369.0,53.2 370.0,53.2 371.0,53.2" fill="none" stroke="#6a2a8a" stroke-width="2.3" stroke-linejoin="round" />
<rect x="229.8" y="7.0" width="141.2" height="132.0" fill="none" stroke="#1a1a1a" stroke-width="1.3" />
<line x1="229.8" y1="64.59077524932108" x2="231.60000000000002" y2="64.59077524932108" stroke="#1a1a1a" stroke-width="0.8" />
<line x1="371.0" y1="64.59077524932108" x2="369.2" y2="64.59077524932108" stroke="#1a1a1a" stroke-width="0.8" />
<line x1="229.8" y1="54.46552785361942" x2="231.60000000000002" y2="54.46552785361942" stroke="#1a1a1a" stroke-width="0.8" />
<line x1="371.0" y1="54.46552785361942" x2="369.2" y2="54.46552785361942" stroke="#1a1a1a" stroke-width="0.8" />
<line x1="229.8" y1="47.28155049864217" x2="231.60000000000002" y2="47.28155049864217" stroke="#1a1a1a" stroke-width="0.8" />
<line x1="371.0" y1="47.28155049864217" x2="369.2" y2="47.28155049864217" stroke="#1a1a1a" stroke-width="0.8" />
<line x1="229.8" y1="41.70922475067892" x2="231.60000000000002" y2="41.70922475067892" stroke="#1a1a1a" stroke-width="0.8" />
<line x1="371.0" y1="41.70922475067892" x2="369.2" y2="41.70922475067892" stroke="#1a1a1a" stroke-width="0.8" />
<line x1="229.8" y1="37.1563031029405" x2="231.60000000000002" y2="37.1563031029405" stroke="#1a1a1a" stroke-width="0.8" />
<line x1="371.0" y1="37.1563031029405" x2="369.2" y2="37.1563031029405" stroke="#1a1a1a" stroke-width="0.8" />
<line x1="229.8" y1="33.306862699180236" x2="231.60000000000002" y2="33.306862699180236" stroke="#1a1a1a" stroke-width="0.8" />
<line x1="371.0" y1="33.306862699180236" x2="369.2" y2="33.306862699180236" stroke="#1a1a1a" stroke-width="0.8" />
<line x1="229.8" y1="29.972325747963254" x2="231.60000000000002" y2="29.972325747963254" stroke="#1a1a1a" stroke-width="0.8" />
<line x1="371.0" y1="29.972325747963254" x2="369.2" y2="29.972325747963254" stroke="#1a1a1a" stroke-width="0.8" />
<line x1="229.8" y1="27.031055707238828" x2="231.60000000000002" y2="27.031055707238828" stroke="#1a1a1a" stroke-width="0.8" />
<line x1="371.0" y1="27.031055707238828" x2="369.2" y2="27.031055707238828" stroke="#1a1a1a" stroke-width="0.8" />
<line x1="229.8" y1="123.69077524932108" x2="231.60000000000002" y2="123.69077524932108" stroke="#1a1a1a" stroke-width="0.8" />
<line x1="371.0" y1="123.69077524932108" x2="369.2" y2="123.69077524932108" stroke="#1a1a1a" stroke-width="0.8" />
<line x1="229.8" y1="113.56552785361941" x2="231.60000000000002" y2="113.56552785361941" stroke="#1a1a1a" stroke-width="0.8" />
<line x1="371.0" y1="113.56552785361941" x2="369.2" y2="113.56552785361941" stroke="#1a1a1a" stroke-width="0.8" />
<line x1="229.8" y1="106.38155049864216" x2="231.60000000000002" y2="106.38155049864216" stroke="#1a1a1a" stroke-width="0.8" />
<line x1="371.0" y1="106.38155049864216" x2="369.2" y2="106.38155049864216" stroke="#1a1a1a" stroke-width="0.8" />
<line x1="229.8" y1="100.80922475067891" x2="231.60000000000002" y2="100.80922475067891" stroke="#1a1a1a" stroke-width="0.8" />
<line x1="371.0" y1="100.80922475067891" x2="369.2" y2="100.80922475067891" stroke="#1a1a1a" stroke-width="0.8" />
<line x1="229.8" y1="96.25630310294049" x2="231.60000000000002" y2="96.25630310294049" stroke="#1a1a1a" stroke-width="0.8" />
<line x1="371.0" y1="96.25630310294049" x2="369.2" y2="96.25630310294049" stroke="#1a1a1a" stroke-width="0.8" />
<line x1="229.8" y1="92.40686269918024" x2="231.60000000000002" y2="92.40686269918024" stroke="#1a1a1a" stroke-width="0.8" />
<line x1="371.0" y1="92.40686269918024" x2="369.2" y2="92.40686269918024" stroke="#1a1a1a" stroke-width="0.8" />
<line x1="229.8" y1="89.07232574796325" x2="231.60000000000002" y2="89.07232574796325" stroke="#1a1a1a" stroke-width="0.8" />
<line x1="371.0" y1="89.07232574796325" x2="369.2" y2="89.07232574796325" stroke="#1a1a1a" stroke-width="0.8" />
<line x1="229.8" y1="86.13105570723883" x2="231.60000000000002" y2="86.13105570723883" stroke="#1a1a1a" stroke-width="0.8" />
<line x1="371.0" y1="86.13105570723883" x2="369.2" y2="86.13105570723883" stroke="#1a1a1a" stroke-width="0.8" />
<line x1="229.8" y1="24.4" x2="232.8" y2="24.4" stroke="#1a1a1a" stroke-width="1" />
<line x1="371.0" y1="24.4" x2="368.0" y2="24.4" stroke="#1a1a1a" stroke-width="1" />
<line x1="229.8" y1="83.5" x2="232.8" y2="83.5" stroke="#1a1a1a" stroke-width="1" />
<line x1="371.0" y1="83.5" x2="368.0" y2="83.5" stroke="#1a1a1a" stroke-width="1" />
<line x1="258.04" y1="139.0" x2="258.04" y2="136.5" stroke="#1a1a1a" stroke-width="1" />
<line x1="258.04" y1="7.0" x2="258.04" y2="9.5" stroke="#1a1a1a" stroke-width="1" />
<text x="258.04" y="153.8" font-family="Liberation Serif" font-size="9.5" text-anchor="middle" fill="#222" font-weight="normal" stroke="#222" stroke-width="0.22" >2</text>
<line x1="286.28000000000003" y1="139.0" x2="286.28000000000003" y2="136.5" stroke="#1a1a1a" stroke-width="1" />
<line x1="286.28000000000003" y1="7.0" x2="286.28000000000003" y2="9.5" stroke="#1a1a1a" stroke-width="1" />
<text x="286.28000000000003" y="153.8" font-family="Liberation Serif" font-size="9.5" text-anchor="middle" fill="#222" font-weight="normal" stroke="#222" stroke-width="0.22" >4</text>
<line x1="314.52" y1="139.0" x2="314.52" y2="136.5" stroke="#1a1a1a" stroke-width="1" />
<line x1="314.52" y1="7.0" x2="314.52" y2="9.5" stroke="#1a1a1a" stroke-width="1" />
<text x="314.52" y="153.8" font-family="Liberation Serif" font-size="9.5" text-anchor="middle" fill="#222" font-weight="normal" stroke="#222" stroke-width="0.22" >6</text>
<line x1="342.76" y1="139.0" x2="342.76" y2="136.5" stroke="#1a1a1a" stroke-width="1" />
<line x1="342.76" y1="7.0" x2="342.76" y2="9.5" stroke="#1a1a1a" stroke-width="1" />
<text x="342.76" y="153.8" font-family="Liberation Serif" font-size="9.5" text-anchor="middle" fill="#222" font-weight="normal" stroke="#222" stroke-width="0.22" >8</text>
<line x1="371.0" y1="139.0" x2="371.0" y2="136.5" stroke="#1a1a1a" stroke-width="1" />
<line x1="371.0" y1="7.0" x2="371.0" y2="9.5" stroke="#1a1a1a" stroke-width="1" />
<text x="371.0" y="153.8" font-family="Liberation Serif" font-size="9.5" text-anchor="middle" fill="#222" font-weight="normal" stroke="#222" stroke-width="0.22" >10</text>
<text x="300.4" y="169" font-family="Liberation Serif" font-size="9.3" text-anchor="middle" fill="#222" font-weight="normal" stroke="#222" stroke-width="0.22" >Time(s)</text>
<text x="224" y="27.6" font-family="Liberation Serif" font-size="9" text-anchor="end" fill="#222" font-weight="normal" stroke="#222" stroke-width="0.22" >1</text>
<text x="227.5" y="86.6" font-family="Liberation Serif" font-size="9" text-anchor="end" fill="#222" font-weight="normal" stroke="#222" stroke-width="0.22" >1×10<tspan dy="-3" font-size="6">−1</tspan></text>
<text x="227.5" y="142.3" font-family="Liberation Serif" font-size="9" text-anchor="end" fill="#222" font-weight="normal" stroke="#222" stroke-width="0.22" >1×10<tspan dy="-3" font-size="6">−2</tspan></text>
<text x="203.3" y="10.6" font-family="Liberation Serif" font-size="9" text-anchor="start" fill="#222" font-weight="bold" >(b)</text>
<line x1="296.5" y1="20.9" x2="313.2" y2="20.9" stroke="#a8d8a8" stroke-width="1.8" />
<line x1="296.5" y1="37.9" x2="313.2" y2="37.9" stroke="#6a2a8a" stroke-width="2.4" />
<text x="319" y="24.5" font-family="Liberation Serif" font-size="9.2" text-anchor="start" fill="#222" font-weight="normal" stroke="#222" stroke-width="0.22" >Θ<tspan font-size="6" dy="2">H</tspan><tspan dy="-2"> Pulsed V</tspan></text>
<text x="319" y="41.5" font-family="Liberation Serif" font-size="9.2" text-anchor="start" fill="#222" font-weight="normal" stroke="#222" stroke-width="0.22" >Θ<tspan font-size="6" dy="2">H</tspan><tspan dy="-2">  Const V</tspan></text>
<polyline points="404.2,74.0 406.5,60.0 409.0,53.7 411.0,62.0 413.0,65.0 414.8,58.0 416.6,51.8 418.2,58.0 419.5,61.0 421.0,54.0 422.5,50.0 424.0,55.0 425.3,56.5 426.5,51.5 427.8,48.5 429.0,51.5 430.2,50.5 431.5,47.5 433.0,47.3 436.0,44.0 439.0,41.0 441.0,39.5" fill="none" stroke="#5555e0" stroke-width="0.9" stroke-linejoin="round" />
<polygon points="439.0,40.3 440.0,39.6 441.0,38.8 442.0,38.0 443.0,37.2 444.0,36.4 445.0,35.6 446.0,34.8 447.0,34.0 448.0,33.3 449.0,32.6 450.0,32.0 451.0,31.5 452.0,31.0 453.0,30.5 454.0,30.1 455.0,29.8 456.0,29.5 457.0,29.2 458.0,28.9 459.0,28.7 460.0,28.4 461.0,28.3 462.0,28.1 463.0,28.0 464.0,27.8 465.0,27.7 466.0,27.6 467.0,27.5 468.0,27.5 469.0,27.4 470.0,27.4 471.0,27.4 472.0,27.4 473.0,27.4 474.0,27.4 475.0,27.4 476.0,27.4 477.0,27.4 478.0,27.4 479.0,27.4 480.0,27.4 481.0,27.4 482.0,27.4 483.0,27.4 484.0,27.4 485.0,27.4 486.0,27.4 487.0,27.4 488.0,27.4 489.0,27.4 490.0,27.4 491.0,27.4 492.0,27.4 493.0,27.4 494.0,27.4 495.0,27.4 496.0,27.4 497.0,27.4 498.0,27.4 499.0,27.4 500.0,27.4 501.0,27.4 502.0,27.4 503.0,27.4 504.0,27.4 505.0,27.4 506.0,27.4 507.0,27.4 508.0,27.4 509.0,27.4 510.0,27.4 511.0,27.4 512.0,27.4 513.0,27.4 514.0,27.4 515.0,27.4 516.0,27.4 517.0,27.4 518.0,27.4 519.0,27.4 520.0,27.4 521.0,27.4 522.0,27.4 523.0,27.4 524.0,27.4 525.0,27.4 526.0,27.4 527.0,27.4 528.0,27.4 529.0,27.4 530.0,27.4 531.0,27.4 532.0,27.4 533.0,27.4 534.0,27.4 535.0,27.4 536.0,27.4 537.0,27.4 538.0,27.4 539.0,27.4 540.0,27.4 541.0,27.4 542.0,27.4 543.0,27.4 543.0,33.6 542.0,33.6 541.0,33.6 540.0,33.6 539.0,33.6 538.0,33.6 537.0,33.6 536.0,33.6 535.0,33.6 534.0,33.6 533.0,33.6 532.0,33.6 531.0,33.6 530.0,33.6 529.0,33.6 528.0,33.6 527.0,33.6 526.0,33.6 525.0,33.6 524.0,33.6 523.0,33.6 522.0,33.6 521.0,33.6 520.0,33.6 519.0,33.6 518.0,33.6 517.0,33.6 516.0,33.6 515.0,33.6 514.0,33.6 513.0,33.6 512.0,33.6 511.0,33.6 510.0,33.6 509.0,33.6 508.0,33.6 507.0,33.6 506.0,33.6 505.0,33.6 504.0,33.6 503.0,33.6 502.0,33.6 501.0,33.6 500.0,33.6 499.0,33.6 498.0,33.6 497.0,33.6 496.0,33.6 495.0,33.6 494.0,33.6 493.0,33.6 492.0,33.6 491.0,33.6 490.0,33.6 489.0,33.6 488.0,33.6 487.0,33.6 486.0,33.6 485.0,33.6 484.0,33.6 483.0,33.6 482.0,33.6 481.0,33.6 480.0,33.6 479.0,33.6 478.0,33.6 477.0,33.6 476.0,33.6 475.0,33.6 474.0,33.6 473.0,33.6 472.0,33.6 471.0,33.6 470.0,33.6 469.0,33.6 468.0,33.6 467.0,33.7 466.0,33.7 465.0,33.8 464.0,33.9 463.0,33.9 462.0,34.0 461.0,34.1 460.0,34.2 459.0,34.3 458.0,34.5 457.0,34.6 456.0,34.8 455.0,35.0 454.0,35.2 453.0,35.4 452.0,35.6 451.0,35.9 450.0,36.2 449.0,36.5 448.0,36.9 447.0,37.4 446.0,37.8 445.0,38.3 444.0,38.8 443.0,39.3 442.0,39.8 441.0,40.2 440.0,40.5 439.0,40.8" fill="#0a14e8" stroke="none" stroke-width="1" />
<polyline points="404.2,95.0 405.5,86.0 407.0,80.0 409.0,77.9 411.0,84.0 413.0,88.7 415.0,82.0 417.0,78.5 418.6,82.0 420.0,85.0 421.5,80.0 423.0,76.5 424.5,79.0 425.8,80.5 427.2,76.0 428.5,73.5 430.0,74.5 431.5,72.0 434.0,69.5 437.0,66.0 440.0,62.5" fill="none" stroke="#e86060" stroke-width="0.9" stroke-linejoin="round" />
<polygon points="439.0,63.2 440.0,62.0 441.0,60.8 442.0,59.8 443.0,58.8 444.0,57.9 445.0,57.1 446.0,56.3 447.0,55.6 448.0,54.9 449.0,54.4 450.0,53.9 451.0,53.5 452.0,53.2 453.0,52.9 454.0,52.6 455.0,52.4 456.0,52.2 457.0,52.0 458.0,51.9 459.0,51.8 460.0,51.7 461.0,51.6 462.0,51.6 463.0,51.6 464.0,51.5 465.0,51.5 466.0,51.5 467.0,51.4 468.0,51.4 469.0,51.4 470.0,51.4 471.0,51.4 472.0,51.4 473.0,51.4 474.0,51.4 475.0,51.4 476.0,51.4 477.0,51.4 478.0,51.4 479.0,51.4 480.0,51.4 481.0,51.4 482.0,51.4 483.0,51.4 484.0,51.4 485.0,51.4 486.0,51.4 487.0,51.4 488.0,51.4 489.0,51.4 490.0,51.4 491.0,51.4 492.0,51.4 493.0,51.4 494.0,51.4 495.0,51.4 496.0,51.4 497.0,51.4 498.0,51.4 499.0,51.4 500.0,51.4 501.0,51.4 502.0,51.4 503.0,51.4 504.0,51.4 505.0,51.4 506.0,51.4 507.0,51.4 508.0,51.4 509.0,51.4 510.0,51.4 511.0,51.4 512.0,51.4 513.0,51.4 514.0,51.4 515.0,51.4 516.0,51.4 517.0,51.4 518.0,51.4 519.0,51.4 520.0,51.4 521.0,51.4 522.0,51.4 523.0,51.4 524.0,51.4 525.0,51.4 526.0,51.4 527.0,51.4 528.0,51.4 529.0,51.4 530.0,51.4 531.0,51.4 532.0,51.4 533.0,51.4 534.0,51.4 535.0,51.4 536.0,51.4 537.0,51.4 538.0,51.4 539.0,51.4 540.0,51.4 541.0,51.4 542.0,51.4 543.0,51.4 543.0,58.2 542.0,58.2 541.0,58.2 540.0,58.2 539.0,58.2 538.0,58.2 537.0,58.2 536.0,58.2 535.0,58.2 534.0,58.2 533.0,58.2 532.0,58.2 531.0,58.2 530.0,58.2 529.0,58.2 528.0,58.2 527.0,58.2 526.0,58.2 525.0,58.2 524.0,58.2 523.0,58.2 522.0,58.2 521.0,58.2 520.0,58.2 519.0,58.2 518.0,58.2 517.0,58.2 516.0,58.2 515.0,58.2 514.0,58.2 513.0,58.2 512.0,58.2 511.0,58.2 510.0,58.2 509.0,58.2 508.0,58.2 507.0,58.2 506.0,58.2 505.0,58.2 504.0,58.2 503.0,58.2 502.0,58.2 501.0,58.2 500.0,58.2 499.0,58.2 498.0,58.2 497.0,58.2 496.0,58.2 495.0,58.2 494.0,58.2 493.0,58.2 492.0,58.2 491.0,58.2 490.0,58.2 489.0,58.2 488.0,58.2 487.0,58.2 486.0,58.2 485.0,58.2 484.0,58.2 483.0,58.2 482.0,58.2 481.0,58.2 480.0,58.2 479.0,58.2 478.0,58.2 477.0,58.2 476.0,58.2 475.0,58.2 474.0,58.2 473.0,58.2 472.0,58.2 471.0,58.2 470.0,58.2 469.0,58.2 468.0,58.2 467.0,58.2 466.0,58.2 465.0,58.3 464.0,58.3 463.0,58.3 462.0,58.3 461.0,58.4 460.0,58.4 459.0,58.4 458.0,58.5 457.0,58.6 456.0,58.7 455.0,58.8 454.0,58.9 453.0,59.1 452.0,59.2 451.0,59.4 450.0,59.6 449.0,59.8 448.0,60.0 447.0,60.3 446.0,60.6 445.0,60.9 444.0,61.3 443.0,61.7 442.0,62.2 441.0,62.7 440.0,63.2 439.0,63.8" fill="#ee1010" stroke="none" stroke-width="1" />
<polyline points="404.0,87.4 405.0,86.3 406.0,85.3 407.0,84.2 408.0,83.2 409.0,82.1 410.0,81.1 411.0,80.0 412.0,79.0 413.0,78.0 414.0,77.0 415.0,76.0 416.0,75.0 417.0,74.1 418.0,73.0 419.0,72.0 420.0,70.9 421.0,69.7 422.0,68.5 423.0,67.2 424.0,65.8 425.0,64.5 426.0,63.1 427.0,61.8 428.0,60.5 429.0,59.3 430.0,58.2 431.0,57.2 432.0,56.1 433.0,55.1 434.0,54.2 435.0,53.3 436.0,52.4 437.0,51.5 438.0,50.7 439.0,50.0 440.0,49.3 441.0,48.7 442.0,48.0 443.0,47.5 444.0,46.9 445.0,46.4 446.0,45.9 447.0,45.4 448.0,45.0 449.0,44.6 450.0,44.2 451.0,43.9 452.0,43.5 453.0,43.2 454.0,42.9 455.0,42.7 456.0,42.4 457.0,42.2 458.0,42.0 459.0,41.8 460.0,41.6 461.0,41.4 462.0,41.3 463.0,41.1 464.0,40.9 465.0,40.8 466.0,40.7 467.0,40.6 468.0,40.5 469.0,40.4 470.0,40.4 471.0,40.4 472.0,40.4 473.0,40.4 474.0,40.4 475.0,40.5 476.0,40.5 477.0,40.5 478.0,40.5 479.0,40.6 480.0,40.6 481.0,40.6 482.0,40.7 483.0,40.8 484.0,40.9 485.0,41.0 486.0,41.1 487.0,41.2 488.0,41.3 489.0,41.4 490.0,41.5 491.0,41.6 492.0,41.7 493.0,41.8 494.0,42.0 495.0,42.1 496.0,42.2 497.0,42.4 498.0,42.5 499.0,42.6 500.0,42.8 501.0,43.0 502.0,43.1 503.0,43.3 504.0,43.5 505.0,43.7 506.0,43.9 507.0,44.1 508.0,44.3 509.0,44.5 510.0,44.7 511.0,45.0 512.0,45.3 513.0,45.6 514.0,45.9 515.0,46.2 516.0,46.5 517.0,46.8 518.0,47.1 519.0,47.4 520.0,47.7 521.0,48.0 522.0,48.2 523.0,48.5 524.0,48.7 525.0,48.9 526.0,49.2 527.0,49.4 528.0,49.6 529.0,49.9 530.0,50.1 531.0,50.3 532.0,50.5 533.0,50.7 534.0,50.9 535.0,51.1 536.0,51.3 537.0,51.5 538.0,51.7 539.0,51.9 540.0,52.1 541.0,52.3 542.0,52.4 543.0,52.6" fill="none" stroke="#1a78c0" stroke-width="1.9" stroke-linejoin="round" stroke-dasharray="5,2.2,1.5,2.2"/>
<polyline points="404.0,102.7 405.0,101.9 406.0,101.2 407.0,100.5 408.0,99.7 409.0,99.0 410.0,98.2 411.0,97.5 412.0,96.8 413.0,96.1 414.0,95.4 415.0,94.8 416.0,94.1 417.0,93.4 418.0,92.7 419.0,92.0 420.0,91.2 421.0,90.3 422.0,89.4 423.0,88.4 424.0,87.4 425.0,86.3 426.0,85.3 427.0,84.2 428.0,83.1 429.0,82.0 430.0,81.0 431.0,80.0 432.0,78.9 433.0,77.8 434.0,76.8 435.0,75.7 436.0,74.7 437.0,73.7 438.0,72.7 439.0,71.8 440.0,70.9 441.0,70.1 442.0,69.3 443.0,68.5 444.0,67.7 445.0,67.0 446.0,66.3 447.0,65.6 448.0,65.0 449.0,64.4 450.0,63.9 451.0,63.4 452.0,62.9 453.0,62.5 454.0,62.0 455.0,61.6 456.0,61.2 457.0,60.9 458.0,60.6 459.0,60.3 460.0,60.0 461.0,59.8 462.0,59.5 463.0,59.3 464.0,59.1 465.0,59.0 466.0,58.8 467.0,58.6 468.0,58.5 469.0,58.3 470.0,58.2 471.0,58.1 472.0,57.9 473.0,57.8 474.0,57.7 475.0,57.6 476.0,57.5 477.0,57.4 478.0,57.3 479.0,57.2 480.0,57.1 481.0,56.9 482.0,56.8 483.0,56.7 484.0,56.5 485.0,56.3 486.0,56.2 487.0,56.0 488.0,55.8 489.0,55.7 490.0,55.5 491.0,55.3 492.0,55.1 493.0,54.9 494.0,54.7 495.0,54.5 496.0,54.3 497.0,54.1 498.0,53.9 499.0,53.7 500.0,53.5 501.0,53.2 502.0,53.0 503.0,52.8 504.0,52.6 505.0,52.3 506.0,52.1 507.0,51.9 508.0,51.6 509.0,51.4 510.0,51.2 511.0,50.9 512.0,50.7 513.0,50.4 514.0,50.2 515.0,50.0 516.0,49.7 517.0,49.5 518.0,49.2 519.0,49.0 520.0,48.7 521.0,48.5 522.0,48.2 523.0,48.0 524.0,47.7 525.0,47.5 526.0,47.3 527.0,47.0 528.0,46.8 529.0,46.6 530.0,46.3 531.0,46.1 532.0,45.9 533.0,45.6 534.0,45.4 535.0,45.2 536.0,44.9 537.0,44.7 538.0,44.5 539.0,44.2 540.0,44.0 541.0,43.8 542.0,43.6 543.0,43.3" fill="none" stroke="#000" stroke-width="1.9" stroke-linejoin="round" stroke-dasharray="5,2.2,1.5,2.2"/>
<rect x="403.8" y="7.2" width="139.8" height="131.60000000000002" fill="none" stroke="#1a1a1a" stroke-width="1.3" />
<line x1="403.8" y1="45.60313519728885" x2="405.6" y2="45.60313519728885" stroke="#1a1a1a" stroke-width="0.8" />
<line x1="543.6" y1="45.60313519728885" x2="541.8000000000001" y2="45.60313519728885" stroke="#1a1a1a" stroke-width="0.8" />
<line x1="403.8" y1="37.590982910255356" x2="405.6" y2="37.590982910255356" stroke="#1a1a1a" stroke-width="0.8" />
<line x1="543.6" y1="37.590982910255356" x2="541.8000000000001" y2="37.590982910255356" stroke="#1a1a1a" stroke-width="0.8" />
<line x1="403.8" y1="31.906270394577707" x2="405.6" y2="31.906270394577707" stroke="#1a1a1a" stroke-width="0.8" />
<line x1="543.6" y1="31.906270394577707" x2="541.8000000000001" y2="31.906270394577707" stroke="#1a1a1a" stroke-width="0.8" />
<line x1="403.8" y1="27.49686480271114" x2="405.6" y2="27.49686480271114" stroke="#1a1a1a" stroke-width="0.8" />
<line x1="543.6" y1="27.49686480271114" x2="541.8000000000001" y2="27.49686480271114" stroke="#1a1a1a" stroke-width="0.8" />
<line x1="403.8" y1="23.89411810754421" x2="405.6" y2="23.89411810754421" stroke="#1a1a1a" stroke-width="0.8" />
<line x1="543.6" y1="23.89411810754421" x2="541.8000000000001" y2="23.89411810754421" stroke="#1a1a1a" stroke-width="0.8" />
<line x1="403.8" y1="20.84803917935131" x2="405.6" y2="20.84803917935131" stroke="#1a1a1a" stroke-width="0.8" />
<line x1="543.6" y1="20.84803917935131" x2="541.8000000000001" y2="20.84803917935131" stroke="#1a1a1a" stroke-width="0.8" />
<line x1="403.8" y1="18.209405591866563" x2="405.6" y2="18.209405591866563" stroke="#1a1a1a" stroke-width="0.8" />
<line x1="543.6" y1="18.209405591866563" x2="541.8000000000001" y2="18.209405591866563" stroke="#1a1a1a" stroke-width="0.8" />
<line x1="403.8" y1="15.881965820510715" x2="405.6" y2="15.881965820510715" stroke="#1a1a1a" stroke-width="0.8" />
<line x1="543.6" y1="15.881965820510715" x2="541.8000000000001" y2="15.881965820510715" stroke="#1a1a1a" stroke-width="0.8" />
<line x1="403.8" y1="91.10313519728885" x2="405.6" y2="91.10313519728885" stroke="#1a1a1a" stroke-width="0.8" />
<line x1="543.6" y1="91.10313519728885" x2="541.8000000000001" y2="91.10313519728885" stroke="#1a1a1a" stroke-width="0.8" />
<line x1="403.8" y1="83.09098291025535" x2="405.6" y2="83.09098291025535" stroke="#1a1a1a" stroke-width="0.8" />
<line x1="543.6" y1="83.09098291025535" x2="541.8000000000001" y2="83.09098291025535" stroke="#1a1a1a" stroke-width="0.8" />
<line x1="403.8" y1="77.4062703945777" x2="405.6" y2="77.4062703945777" stroke="#1a1a1a" stroke-width="0.8" />
<line x1="543.6" y1="77.4062703945777" x2="541.8000000000001" y2="77.4062703945777" stroke="#1a1a1a" stroke-width="0.8" />
<line x1="403.8" y1="72.99686480271114" x2="405.6" y2="72.99686480271114" stroke="#1a1a1a" stroke-width="0.8" />
<line x1="543.6" y1="72.99686480271114" x2="541.8000000000001" y2="72.99686480271114" stroke="#1a1a1a" stroke-width="0.8" />
<line x1="403.8" y1="69.39411810754422" x2="405.6" y2="69.39411810754422" stroke="#1a1a1a" stroke-width="0.8" />
<line x1="543.6" y1="69.39411810754422" x2="541.8000000000001" y2="69.39411810754422" stroke="#1a1a1a" stroke-width="0.8" />
<line x1="403.8" y1="66.3480391793513" x2="405.6" y2="66.3480391793513" stroke="#1a1a1a" stroke-width="0.8" />
<line x1="543.6" y1="66.3480391793513" x2="541.8000000000001" y2="66.3480391793513" stroke="#1a1a1a" stroke-width="0.8" />
<line x1="403.8" y1="63.70940559186656" x2="405.6" y2="63.70940559186656" stroke="#1a1a1a" stroke-width="0.8" />
<line x1="543.6" y1="63.70940559186656" x2="541.8000000000001" y2="63.70940559186656" stroke="#1a1a1a" stroke-width="0.8" />
<line x1="403.8" y1="61.381965820510715" x2="405.6" y2="61.381965820510715" stroke="#1a1a1a" stroke-width="0.8" />
<line x1="543.6" y1="61.381965820510715" x2="541.8000000000001" y2="61.381965820510715" stroke="#1a1a1a" stroke-width="0.8" />
<line x1="403.8" y1="136.50313519728886" x2="405.6" y2="136.50313519728886" stroke="#1a1a1a" stroke-width="0.8" />
<line x1="543.6" y1="136.50313519728886" x2="541.8000000000001" y2="136.50313519728886" stroke="#1a1a1a" stroke-width="0.8" />
<line x1="403.8" y1="128.49098291025535" x2="405.6" y2="128.49098291025535" stroke="#1a1a1a" stroke-width="0.8" />
<line x1="543.6" y1="128.49098291025535" x2="541.8000000000001" y2="128.49098291025535" stroke="#1a1a1a" stroke-width="0.8" />
<line x1="403.8" y1="122.8062703945777" x2="405.6" y2="122.8062703945777" stroke="#1a1a1a" stroke-width="0.8" />
<line x1="543.6" y1="122.8062703945777" x2="541.8000000000001" y2="122.8062703945777" stroke="#1a1a1a" stroke-width="0.8" />
<line x1="403.8" y1="118.39686480271114" x2="405.6" y2="118.39686480271114" stroke="#1a1a1a" stroke-width="0.8" />
<line x1="543.6" y1="118.39686480271114" x2="541.8000000000001" y2="118.39686480271114" stroke="#1a1a1a" stroke-width="0.8" />
<line x1="403.8" y1="114.7941181075442" x2="405.6" y2="114.7941181075442" stroke="#1a1a1a" stroke-width="0.8" />
<line x1="543.6" y1="114.7941181075442" x2="541.8000000000001" y2="114.7941181075442" stroke="#1a1a1a" stroke-width="0.8" />
<line x1="403.8" y1="111.74803917935131" x2="405.6" y2="111.74803917935131" stroke="#1a1a1a" stroke-width="0.8" />
<line x1="543.6" y1="111.74803917935131" x2="541.8000000000001" y2="111.74803917935131" stroke="#1a1a1a" stroke-width="0.8" />
<line x1="403.8" y1="109.10940559186656" x2="405.6" y2="109.10940559186656" stroke="#1a1a1a" stroke-width="0.8" />
<line x1="543.6" y1="109.10940559186656" x2="541.8000000000001" y2="109.10940559186656" stroke="#1a1a1a" stroke-width="0.8" />
<line x1="403.8" y1="106.7819658205107" x2="405.6" y2="106.7819658205107" stroke="#1a1a1a" stroke-width="0.8" />
<line x1="543.6" y1="106.7819658205107" x2="541.8000000000001" y2="106.7819658205107" stroke="#1a1a1a" stroke-width="0.8" />
<line x1="404.4" y1="138.8" x2="404.4" y2="136.3" stroke="#1a1a1a" stroke-width="0.8" />
<line x1="404.4" y1="7.2" x2="404.4" y2="9.7" stroke="#1a1a1a" stroke-width="0.8" />
<line x1="413.6115178673178" y1="138.8" x2="413.6115178673178" y2="137.3" stroke="#1a1a1a" stroke-width="0.8" />
<line x1="413.6115178673178" y1="7.2" x2="413.6115178673178" y2="8.7" stroke="#1a1a1a" stroke-width="0.8" />
<line x1="418.99991039442165" y1="138.8" x2="418.99991039442165" y2="137.3" stroke="#1a1a1a" stroke-width="0.8" />
<line x1="418.99991039442165" y1="7.2" x2="418.99991039442165" y2="8.7" stroke="#1a1a1a" stroke-width="0.8" />
<line x1="422.82303573463565" y1="138.8" x2="422.82303573463565" y2="137.3" stroke="#1a1a1a" stroke-width="0.8" />
<line x1="422.82303573463565" y1="7.2" x2="422.82303573463565" y2="8.7" stroke="#1a1a1a" stroke-width="0.8" />
<line x1="425.78848213268213" y1="138.8" x2="425.78848213268213" y2="137.3" stroke="#1a1a1a" stroke-width="0.8" />
<line x1="425.78848213268213" y1="7.2" x2="425.78848213268213" y2="8.7" stroke="#1a1a1a" stroke-width="0.8" />
<line x1="428.21142826173946" y1="138.8" x2="428.21142826173946" y2="137.3" stroke="#1a1a1a" stroke-width="0.8" />
<line x1="428.21142826173946" y1="7.2" x2="428.21142826173946" y2="8.7" stroke="#1a1a1a" stroke-width="0.8" />
<line x1="430.26000002443624" y1="138.8" x2="430.26000002443624" y2="137.3" stroke="#1a1a1a" stroke-width="0.8" />
<line x1="430.26000002443624" y1="7.2" x2="430.26000002443624" y2="8.7" stroke="#1a1a1a" stroke-width="0.8" />
<line x1="432.03455360195346" y1="138.8" x2="432.03455360195346" y2="137.3" stroke="#1a1a1a" stroke-width="0.8" />
<line x1="432.03455360195346" y1="7.2" x2="432.03455360195346" y2="8.7" stroke="#1a1a1a" stroke-width="0.8" />
<line x1="433.5998207888433" y1="138.8" x2="433.5998207888433" y2="137.3" stroke="#1a1a1a" stroke-width="0.8" />
<line x1="433.5998207888433" y1="7.2" x2="433.5998207888433" y2="8.7" stroke="#1a1a1a" stroke-width="0.8" />
<line x1="435.0" y1="138.8" x2="435.0" y2="136.3" stroke="#1a1a1a" stroke-width="0.8" />
<line x1="435.0" y1="7.2" x2="435.0" y2="9.7" stroke="#1a1a1a" stroke-width="0.8" />
<line x1="444.2115178673178" y1="138.8" x2="444.2115178673178" y2="137.3" stroke="#1a1a1a" stroke-width="0.8" />
<line x1="444.2115178673178" y1="7.2" x2="444.2115178673178" y2="8.7" stroke="#1a1a1a" stroke-width="0.8" />
<line x1="449.59991039442167" y1="138.8" x2="449.59991039442167" y2="137.3" stroke="#1a1a1a" stroke-width="0.8" />
<line x1="449.59991039442167" y1="7.2" x2="449.59991039442167" y2="8.7" stroke="#1a1a1a" stroke-width="0.8" />
<line x1="453.4230357346357" y1="138.8" x2="453.4230357346357" y2="137.3" stroke="#1a1a1a" stroke-width="0.8" />
<line x1="453.4230357346357" y1="7.2" x2="453.4230357346357" y2="8.7" stroke="#1a1a1a" stroke-width="0.8" />
<line x1="456.38848213268216" y1="138.8" x2="456.38848213268216" y2="137.3" stroke="#1a1a1a" stroke-width="0.8" />
<line x1="456.38848213268216" y1="7.2" x2="456.38848213268216" y2="8.7" stroke="#1a1a1a" stroke-width="0.8" />
<line x1="458.8114282617395" y1="138.8" x2="458.8114282617395" y2="137.3" stroke="#1a1a1a" stroke-width="0.8" />
<line x1="458.8114282617395" y1="7.2" x2="458.8114282617395" y2="8.7" stroke="#1a1a1a" stroke-width="0.8" />
<line x1="460.86000002443626" y1="138.8" x2="460.86000002443626" y2="137.3" stroke="#1a1a1a" stroke-width="0.8" />
<line x1="460.86000002443626" y1="7.2" x2="460.86000002443626" y2="8.7" stroke="#1a1a1a" stroke-width="0.8" />
<line x1="462.6345536019535" y1="138.8" x2="462.6345536019535" y2="137.3" stroke="#1a1a1a" stroke-width="0.8" />
<line x1="462.6345536019535" y1="7.2" x2="462.6345536019535" y2="8.7" stroke="#1a1a1a" stroke-width="0.8" />
<line x1="464.19982078884334" y1="138.8" x2="464.19982078884334" y2="137.3" stroke="#1a1a1a" stroke-width="0.8" />
<line x1="464.19982078884334" y1="7.2" x2="464.19982078884334" y2="8.7" stroke="#1a1a1a" stroke-width="0.8" />
<line x1="465.6" y1="138.8" x2="465.6" y2="136.3" stroke="#1a1a1a" stroke-width="0.8" />
<line x1="465.6" y1="7.2" x2="465.6" y2="9.7" stroke="#1a1a1a" stroke-width="0.8" />
<line x1="474.81151786731783" y1="138.8" x2="474.81151786731783" y2="137.3" stroke="#1a1a1a" stroke-width="0.8" />
<line x1="474.81151786731783" y1="7.2" x2="474.81151786731783" y2="8.7" stroke="#1a1a1a" stroke-width="0.8" />
<line x1="480.1999103944217" y1="138.8" x2="480.1999103944217" y2="137.3" stroke="#1a1a1a" stroke-width="0.8" />
<line x1="480.1999103944217" y1="7.2" x2="480.1999103944217" y2="8.7" stroke="#1a1a1a" stroke-width="0.8" />
<line x1="484.0230357346357" y1="138.8" x2="484.0230357346357" y2="137.3" stroke="#1a1a1a" stroke-width="0.8" />
<line x1="484.0230357346357" y1="7.2" x2="484.0230357346357" y2="8.7" stroke="#1a1a1a" stroke-width="0.8" />
<line x1="486.9884821326822" y1="138.8" x2="486.9884821326822" y2="137.3" stroke="#1a1a1a" stroke-width="0.8" />
<line x1="486.9884821326822" y1="7.2" x2="486.9884821326822" y2="8.7" stroke="#1a1a1a" stroke-width="0.8" />
<line x1="489.4114282617395" y1="138.8" x2="489.4114282617395" y2="137.3" stroke="#1a1a1a" stroke-width="0.8" />
<line x1="489.4114282617395" y1="7.2" x2="489.4114282617395" y2="8.7" stroke="#1a1a1a" stroke-width="0.8" />
<line x1="491.4600000244363" y1="138.8" x2="491.4600000244363" y2="137.3" stroke="#1a1a1a" stroke-width="0.8" />
<line x1="491.4600000244363" y1="7.2" x2="491.4600000244363" y2="8.7" stroke="#1a1a1a" stroke-width="0.8" />
<line x1="493.2345536019535" y1="138.8" x2="493.2345536019535" y2="137.3" stroke="#1a1a1a" stroke-width="0.8" />
<line x1="493.2345536019535" y1="7.2" x2="493.2345536019535" y2="8.7" stroke="#1a1a1a" stroke-width="0.8" />
<line x1="494.79982078884336" y1="138.8" x2="494.79982078884336" y2="137.3" stroke="#1a1a1a" stroke-width="0.8" />
<line x1="494.79982078884336" y1="7.2" x2="494.79982078884336" y2="8.7" stroke="#1a1a1a" stroke-width="0.8" />
<line x1="496.2" y1="138.8" x2="496.2" y2="136.3" stroke="#1a1a1a" stroke-width="0.8" />
<line x1="496.2" y1="7.2" x2="496.2" y2="9.7" stroke="#1a1a1a" stroke-width="0.8" />
<line x1="505.4115178673178" y1="138.8" x2="505.4115178673178" y2="137.3" stroke="#1a1a1a" stroke-width="0.8" />
<line x1="505.4115178673178" y1="7.2" x2="505.4115178673178" y2="8.7" stroke="#1a1a1a" stroke-width="0.8" />
<line x1="510.79991039442166" y1="138.8" x2="510.79991039442166" y2="137.3" stroke="#1a1a1a" stroke-width="0.8" />
<line x1="510.79991039442166" y1="7.2" x2="510.79991039442166" y2="8.7" stroke="#1a1a1a" stroke-width="0.8" />
<line x1="514.6230357346357" y1="138.8" x2="514.6230357346357" y2="137.3" stroke="#1a1a1a" stroke-width="0.8" />
<line x1="514.6230357346357" y1="7.2" x2="514.6230357346357" y2="8.7" stroke="#1a1a1a" stroke-width="0.8" />
<line x1="517.5884821326822" y1="138.8" x2="517.5884821326822" y2="137.3" stroke="#1a1a1a" stroke-width="0.8" />
<line x1="517.5884821326822" y1="7.2" x2="517.5884821326822" y2="8.7" stroke="#1a1a1a" stroke-width="0.8" />
<line x1="520.0114282617395" y1="138.8" x2="520.0114282617395" y2="137.3" stroke="#1a1a1a" stroke-width="0.8" />
<line x1="520.0114282617395" y1="7.2" x2="520.0114282617395" y2="8.7" stroke="#1a1a1a" stroke-width="0.8" />
<line x1="522.0600000244362" y1="138.8" x2="522.0600000244362" y2="137.3" stroke="#1a1a1a" stroke-width="0.8" />
<line x1="522.0600000244362" y1="7.2" x2="522.0600000244362" y2="8.7" stroke="#1a1a1a" stroke-width="0.8" />
<line x1="523.8345536019534" y1="138.8" x2="523.8345536019534" y2="137.3" stroke="#1a1a1a" stroke-width="0.8" />
<line x1="523.8345536019534" y1="7.2" x2="523.8345536019534" y2="8.7" stroke="#1a1a1a" stroke-width="0.8" />
<line x1="525.3998207888434" y1="138.8" x2="525.3998207888434" y2="137.3" stroke="#1a1a1a" stroke-width="0.8" />
<line x1="525.3998207888434" y1="7.2" x2="525.3998207888434" y2="8.7" stroke="#1a1a1a" stroke-width="0.8" />
<line x1="526.8" y1="138.8" x2="526.8" y2="136.3" stroke="#1a1a1a" stroke-width="0.8" />
<line x1="526.8" y1="7.2" x2="526.8" y2="9.7" stroke="#1a1a1a" stroke-width="0.8" />
<line x1="536.0115178673178" y1="138.8" x2="536.0115178673178" y2="137.3" stroke="#1a1a1a" stroke-width="0.8" />
<line x1="536.0115178673178" y1="7.2" x2="536.0115178673178" y2="8.7" stroke="#1a1a1a" stroke-width="0.8" />
<line x1="541.3999103944217" y1="138.8" x2="541.3999103944217" y2="137.3" stroke="#1a1a1a" stroke-width="0.8" />
<line x1="541.3999103944217" y1="7.2" x2="541.3999103944217" y2="8.7" stroke="#1a1a1a" stroke-width="0.8" />
<text x="435" y="154" font-family="Liberation Serif" font-size="9.5" text-anchor="middle" fill="#222" font-weight="normal" stroke="#222" stroke-width="0.22" >1.0</text>
<text x="465.6" y="154" font-family="Liberation Serif" font-size="9.5" text-anchor="middle" fill="#222" font-weight="normal" stroke="#222" stroke-width="0.22" >10</text>
<text x="496.2" y="154" font-family="Liberation Serif" font-size="9.5" text-anchor="middle" fill="#222" font-weight="normal" stroke="#222" stroke-width="0.22" >100</text>
<text x="526.8" y="154" font-family="Liberation Serif" font-size="9.5" text-anchor="middle" fill="#222" font-weight="normal" stroke="#222" stroke-width="0.22" >1000</text>
<text x="477" y="167.5" font-family="Liberation Serif" font-size="9.3" text-anchor="middle" fill="#222" font-weight="normal" stroke="#222" stroke-width="0.22" >Time(s)</text>
<text x="397" y="17" font-family="Liberation Serif" font-size="9" text-anchor="end" fill="#222" font-weight="normal" stroke="#222" stroke-width="0.22" >1</text>
<text x="401.5" y="107.8" font-family="Liberation Serif" font-size="9" text-anchor="end" fill="#222" font-weight="normal" stroke="#222" stroke-width="0.22" >1×10<tspan dy="-3" font-size="6">−2</tspan></text>
<text x="375" y="12.2" font-family="Liberation Serif" font-size="9" text-anchor="start" fill="#222" font-weight="bold" >(c)</text>
<line x1="460.5" y1="76.4" x2="476.4" y2="76.4" stroke="#5050e0" stroke-width="1" />
<line x1="460.5" y1="92.3" x2="476.4" y2="92.3" stroke="#e84848" stroke-width="1" />
<line x1="460.5" y1="108" x2="476.4" y2="108" stroke="#1a78c0" stroke-width="1.9" stroke-dasharray="5,2.2,1.5,2.2"/>
<line x1="460.5" y1="123.5" x2="476.4" y2="123.5" stroke="#000" stroke-width="1.9" stroke-dasharray="5,2.2,1.5,2.2"/>
<text x="481.8" y="79.7" font-family="Liberation Serif" font-size="9" text-anchor="start" fill="#222" font-weight="normal" stroke="#222" stroke-width="0.22" >Θ<tspan font-size="5.5" dy="2">COa</tspan><tspan dy="-2"> Pulsed V</tspan></text>
<text x="481.8" y="95.6" font-family="Liberation Serif" font-size="9" text-anchor="start" fill="#222" font-weight="normal" stroke="#222" stroke-width="0.22" >Θ<tspan font-size="5.5" dy="2">COb</tspan><tspan dy="-2"> Pulsed V</tspan></text>
<text x="481.8" y="111.3" font-family="Liberation Serif" font-size="9" text-anchor="start" fill="#222" font-weight="normal" stroke="#222" stroke-width="0.22" >Θ<tspan font-size="5.5" dy="2">COa</tspan><tspan dy="-2">  Const V</tspan></text>
<text x="481.8" y="126.8" font-family="Liberation Serif" font-size="9" text-anchor="start" fill="#222" font-weight="normal" stroke="#222" stroke-width="0.22" >Θ<tspan font-size="5.5" dy="2">COb</tspan><tspan dy="-2">  Const V</tspan></text>
<text x="35" y="209" font-family="Liberation Serif" font-size="9" text-anchor="start" fill="#222" font-weight="bold" >(d)</text>
<line x1="37.6" y1="289.5" x2="37.6" y2="393" stroke="#1a1a1a" stroke-width="1.1" />
<line x1="37.6" y1="297.4" x2="40" y2="297.4" stroke="#1a1a1a" stroke-width="0.9" />
<text x="34.8" y="300.59999999999997" font-family="Liberation Serif" font-size="9" text-anchor="end" fill="#222" font-weight="normal" stroke="#222" stroke-width="0.22" >0.4</text>
<line x1="37.6" y1="320.6" x2="40" y2="320.6" stroke="#1a1a1a" stroke-width="0.9" />
<text x="34.8" y="323.8" font-family="Liberation Serif" font-size="9" text-anchor="end" fill="#222" font-weight="normal" stroke="#222" stroke-width="0.22" >0.0</text>
<line x1="37.6" y1="344.4" x2="40" y2="344.4" stroke="#1a1a1a" stroke-width="0.9" />
<text x="34.8" y="347.59999999999997" font-family="Liberation Serif" font-size="9" text-anchor="end" fill="#222" font-weight="normal" stroke="#222" stroke-width="0.22" >−0.4</text>
<line x1="37.6" y1="368.3" x2="40" y2="368.3" stroke="#1a1a1a" stroke-width="0.9" />
<text x="34.8" y="371.5" font-family="Liberation Serif" font-size="9" text-anchor="end" fill="#222" font-weight="normal" stroke="#222" stroke-width="0.22" >−0.8</text>
<line x1="37.6" y1="392.2" x2="40" y2="392.2" stroke="#1a1a1a" stroke-width="0.9" />
<text x="34.8" y="395.4" font-family="Liberation Serif" font-size="9" text-anchor="end" fill="#222" font-weight="normal" stroke="#222" stroke-width="0.22" >−1.2</text>
<line x1="37.6" y1="309" x2="39.2" y2="309" stroke="#1a1a1a" stroke-width="0.8" />
<line x1="37.6" y1="332.5" x2="39.2" y2="332.5" stroke="#1a1a1a" stroke-width="0.8" />
<line x1="37.6" y1="356.4" x2="39.2" y2="356.4" stroke="#1a1a1a" stroke-width="0.8" />
<line x1="37.6" y1="380.3" x2="39.2" y2="380.3" stroke="#1a1a1a" stroke-width="0.8" />
<line x1="37.6" y1="320.6" x2="239" y2="320.6" stroke="#1a1a1a" stroke-width="1" />
<line x1="221.6" y1="320.6" x2="221.6" y2="318.6" stroke="#1a1a1a" stroke-width="0.9" />
<text x="18.2" y="343.7" font-family="Liberation Serif" font-size="9.0" text-anchor="middle" fill="#222" font-weight="normal" stroke="#222" stroke-width="0.22" transform="rotate(-90 18.2 343.7)" >Potential (V vs RHE)</text>
<text x="208" y="338" font-family="Liberation Serif" font-size="9.2" text-anchor="start" fill="#222" font-weight="normal" stroke="#222" stroke-width="0.22" >Time(s)</text>
<polyline points="37.6,297.0 61.0,297.0 61.0,379.4 84.0,379.4 84.0,297.0 106.4,297.0 106.4,379.4 130.0,379.4 130.0,297.0 153.0,297.0 153.0,379.4 175.8,379.4 175.8,297.0 198.7,297.0 198.7,379.4 222.0,379.4" fill="none" stroke="#3a3cb8" stroke-width="1.9" stroke-linejoin="round" stroke-linejoin="miter"/>
<line x1="37.6" y1="292.3" x2="64.5" y2="292.3" stroke="#111" stroke-width="1.4" stroke-dasharray="4.2,2.4"/>
<line x1="40" y1="301" x2="57" y2="301" stroke="#111" stroke-width="1.4" stroke-dasharray="4.2,2.4"/>
<line x1="64.3" y1="292.3" x2="64.3" y2="301" stroke="#111" stroke-width="1.2" stroke-dasharray="4.2,2.4"/>
<line x1="38.5" y1="294.3" x2="58.4" y2="225.5" stroke="#111" stroke-width="1.3" />
<line x1="63" y1="300.5" x2="146" y2="287.4" stroke="#111" stroke-width="1.3" />
<rect x="58.4" y="225.3" width="94" height="53.3" fill="none" stroke="#111" stroke-width="1.5" stroke-dasharray="4.2,2.4"/>
<line x1="59.3" y1="376.2" x2="86" y2="376.2" stroke="#111" stroke-width="1.4" stroke-dasharray="4.2,2.4"/>
<line x1="58" y1="385.5" x2="86" y2="385.5" stroke="#111" stroke-width="1.4" stroke-dasharray="4.2,2.4"/>
<line x1="87" y1="376.2" x2="87" y2="385.5" stroke="#111" stroke-width="1.2" stroke-dasharray="4.2,2.4"/>
<line x1="86" y1="375.9" x2="177.6" y2="388.4" stroke="#111" stroke-width="1.3" />
<line x1="57.5" y1="380.5" x2="81.6" y2="439.5" stroke="#111" stroke-width="1.3" />
<rect x="83.2" y="387.4" width="93.6" height="52.1" fill="none" stroke="#111" stroke-width="1.5" stroke-dasharray="4.2,2.4"/>
<clipPath id="clipU"><rect x="59.2" y="220" width="93" height="60"/></clipPath>
<g clip-path="url(#clipU)">
<path d="M56.5,277.8 A9,8.7 0 0 1 74.5,277.8 Z" fill="#8a4214" stroke="#5a2a08" stroke-width="0.5"/>
<path d="M75.5,277.8 A9,8.7 0 0 1 93.5,277.8 Z" fill="#8a4214" stroke="#5a2a08" stroke-width="0.5"/>
<path d="M94.4,277.8 A9,8.7 0 0 1 112.4,277.8 Z" fill="#8a4214" stroke="#5a2a08" stroke-width="0.5"/>
<path d="M114.0,277.8 A9,8.7 0 0 1 132.0,277.8 Z" fill="#8a4214" stroke="#5a2a08" stroke-width="0.5"/>
</g>
<path d="M81.4,439.5 A9,8 0 0 1 99.4,439.5 Z" fill="#8a4214" stroke="#5a2a08" stroke-width="0.5"/>
<path d="M99.8,439.5 A9,8 0 0 1 117.8,439.5 Z" fill="#8a4214" stroke="#5a2a08" stroke-width="0.5"/>
<path d="M118.7,439.5 A9,8 0 0 1 136.7,439.5 Z" fill="#8a4214" stroke="#5a2a08" stroke-width="0.5"/>
<path d="M138.7,439.5 A9,8 0 0 1 156.7,439.5 Z" fill="#8a4214" stroke="#5a2a08" stroke-width="0.5"/>
<text x="84.1" y="263.5" font-family="Liberation Serif" font-size="9" text-anchor="middle" fill="#c8304a" font-weight="normal" >H</text>
<text x="103.7" y="263.5" font-family="Liberation Serif" font-size="9" text-anchor="middle" fill="#c8304a" font-weight="normal" >OH</text>
<line x1="84.2" y1="264.5" x2="84.2" y2="269.5" stroke="#c8304a" stroke-width="1" />
<line x1="103.6" y1="264.5" x2="103.6" y2="269.5" stroke="#c8304a" stroke-width="1" />
<text x="60.2" y="243.6" font-family="Liberation Serif" font-size="9" text-anchor="start" fill="#c09a6a" font-weight="normal" >H<tspan font-size="5.5" dy="-3">+</tspan></text>
<text x="126.5" y="241.2" font-family="Liberation Serif" font-size="9" text-anchor="start" fill="#c09a6a" font-weight="normal" >OH<tspan font-size="5.5" dy="-3">−</tspan></text>
<text x="134" y="276.5" font-family="Liberation Serif" font-size="9.5" text-anchor="start" fill="#222" font-weight="normal" stroke="#222" stroke-width="0.22" >Cu</text>
<text x="70" y="288" font-family="Liberation Serif" font-size="9.05" text-anchor="start" fill="#222" font-weight="normal" stroke="#222" stroke-width="0.22" >Positively charged</text>
<text x="86.8" y="402" font-family="Liberation Serif" font-size="9.05" text-anchor="start" fill="#222" font-weight="normal" stroke="#222" stroke-width="0.22" >Neighbor coupling</text>
<text x="95" y="451" font-family="Liberation Serif" font-size="8.9" text-anchor="start" fill="#222" font-weight="normal" stroke="#222" stroke-width="0.22" >Negatively charged</text>
<text x="163" y="438.5" font-family="Liberation Serif" font-size="9.5" text-anchor="start" fill="#222" font-weight="normal" stroke="#222" stroke-width="0.22" >Cu</text>
<text x="166" y="403" font-family="Liberation Serif" font-size="9" text-anchor="start" fill="#c09a6a" font-weight="normal" >H<tspan font-size="5.5" dy="-3">+</tspan></text>
<path d="M78,258.5 Q67,257 63.5,249" fill="none" stroke="#d42a2a" stroke-width="1.8"/>
<path d="M60.5,250.5 L62.8,244.5 L67,249.3 Z" fill="#d42a2a"/>
<path d="M137,244 Q134,252 126,255" fill="none" stroke="#d42a2a" stroke-width="1.8"/>
<path d="M127.5,251.5 L121.8,256 L128.2,258.4 Z" fill="#d42a2a"/>
<text x="107.5" y="427.5" font-family="Liberation Serif" font-size="8.8" text-anchor="start" fill="#c8304a" font-weight="normal" transform="rotate(-45 107.5 427.5)" >CO</text>
<text x="126.5" y="428.3" font-family="Liberation Serif" font-size="8.8" text-anchor="start" fill="#c8304a" font-weight="normal" transform="rotate(-45 126.5 428.3)" >OH</text>
<line x1="108.8" y1="426.8" x2="108.8" y2="432" stroke="#c8304a" stroke-width="1" />
<line x1="128.2" y1="426.8" x2="128.2" y2="432" stroke="#c8304a" stroke-width="1" />
<text x="119" y="427.2" font-family="Liberation Serif" font-size="9" text-anchor="middle" fill="#222" font-weight="bold" >···</text>
<path d="M148,419 L159,409" stroke="#a8a8a8" stroke-width="1.8" fill="none"/>
<path d="M156.5,407.5 L161.5,406 L160,411 Z" fill="#a8a8a8"/>
<line x1="154.8" y1="410.8" x2="160.2" y2="416.6" stroke="#e02020" stroke-width="1.6" />
<line x1="160.2" y1="410.8" x2="154.8" y2="416.6" stroke="#e02020" stroke-width="1.6" />
<text x="173.5" y="261.5" font-family="Liberation Serif" font-size="10.5" text-anchor="middle" fill="#222" font-weight="bold" >···</text>
<text x="194" y="425.5" font-family="Liberation Serif" font-size="10.5" text-anchor="middle" fill="#222" font-weight="bold" >···</text>
<g clip-path="url(#clip_e)"><g filter="url(#tex_e)">
<path d="M220.0 204.9h19.4v19.5h-19.4zM239.0 204.9h19.4v19.5h-19.4zM220.0 224.0h19.4v19.5h-19.4zM239.0 224.0h19.4v19.5h-19.4z" fill="rgb(115,115,115)"/>
<path d="M258.0 204.9h19.4v19.5h-19.4zM258.0 224.0h19.4v19.5h-19.4zM296.1 281.4h19.4v19.5h-19.4z" fill="rgb(120,120,120)"/>
<path d="M277.1 204.9h19.4v19.5h-19.4zM277.1 224.0h19.4v19.5h-19.4zM220.0 281.4h19.4v19.5h-19.4zM239.0 281.4h19.4v19.5h-19.4zM220.0 300.5h19.4v19.5h-19.4zM239.0 300.5h19.4v19.5h-19.4zM258.0 300.5h19.4v19.5h-19.4z" fill="rgb(90,90,90)"/>
<path d="M296.1 204.9h19.4v19.5h-19.4zM315.1 204.9h19.4v19.5h-19.4zM372.3 204.9h19.4v19.5h-19.4zM391.3 204.9h19.4v19.5h-19.4zM296.1 224.0h19.4v19.5h-19.4zM315.1 224.0h19.4v19.5h-19.4zM372.3 224.0h19.4v19.5h-19.4zM391.3 224.0h19.4v19.5h-19.4zM220.0 243.1h19.4v19.5h-19.4zM239.0 243.1h19.4v19.5h-19.4zM315.1 262.3h19.4v19.5h-19.4zM296.1 300.5h19.4v19.5h-19.4zM277.1 319.7h19.4v19.5h-19.4zM277.1 338.8h19.4v19.5h-19.4z" fill="rgb(100,100,100)"/>
<path d="M334.2 204.9h19.4v19.5h-19.4zM334.2 224.0h19.4v19.5h-19.4zM277.1 243.1h19.4v19.5h-19.4zM315.1 243.1h19.4v19.5h-19.4z" fill="rgb(95,95,95)"/>
<path d="M353.2 204.9h19.4v19.5h-19.4zM353.2 224.0h19.4v19.5h-19.4zM315.1 300.5h19.4v19.5h-19.4z" fill="rgb(130,130,130)"/>
<path d="M258.0 243.1h19.4v19.5h-19.4z" fill="rgb(125,125,125)"/>
<path d="M296.1 243.1h19.4v19.5h-19.4zM277.1 262.3h19.4v19.5h-19.4z" fill="rgb(105,105,105)"/>
<path d="M334.2 243.1h19.4v19.5h-19.4zM277.1 281.4h19.4v19.5h-19.4zM220.0 319.7h19.4v19.5h-19.4zM239.0 319.7h19.4v19.5h-19.4zM220.0 338.8h19.4v19.5h-19.4zM239.0 338.8h19.4v19.5h-19.4z" fill="rgb(60,60,60)"/>
<path d="M353.2 243.1h19.4v19.5h-19.4z" fill="rgb(165,165,165)"/>
<path d="M372.3 243.1h19.4v19.5h-19.4zM391.3 243.1h19.4v19.5h-19.4zM372.3 262.3h19.4v19.5h-19.4zM391.3 262.3h19.4v19.5h-19.4zM353.2 281.4h19.4v19.5h-19.4z" fill="rgb(195,195,195)"/>
<path d="M220.0 262.3h19.4v19.5h-19.4zM239.0 262.3h19.4v19.5h-19.4zM258.0 319.7h19.4v19.5h-19.4zM258.0 338.8h19.4v19.5h-19.4z" fill="rgb(70,70,70)"/>
<path d="M258.0 262.3h19.4v19.5h-19.4zM296.1 319.7h19.4v19.5h-19.4zM296.1 338.8h19.4v19.5h-19.4z" fill="rgb(85,85,85)"/>
<path d="M296.1 262.3h19.4v19.5h-19.4zM315.1 319.7h19.4v19.5h-19.4zM315.1 338.8h19.4v19.5h-19.4z" fill="rgb(110,110,110)"/>
<path d="M334.2 262.3h19.4v19.5h-19.4z" fill="rgb(160,160,160)"/>
<path d="M353.2 262.3h19.4v19.5h-19.4zM372.3 281.4h19.4v19.5h-19.4zM391.3 281.4h19.4v19.5h-19.4zM353.2 300.5h19.4v19.5h-19.4zM372.3 300.5h19.4v19.5h-19.4zM391.3 300.5h19.4v19.5h-19.4zM353.2 319.7h19.4v19.5h-19.4zM353.2 338.8h19.4v19.5h-19.4z" fill="rgb(190,190,190)"/>
<path d="M258.0 281.4h19.4v19.5h-19.4z" fill="rgb(75,75,75)"/>
<path d="M315.1 281.4h19.4v19.5h-19.4z" fill="rgb(150,150,150)"/>
<path d="M334.2 281.4h19.4v19.5h-19.4zM372.3 319.7h19.4v19.5h-19.4zM391.3 319.7h19.4v19.5h-19.4zM372.3 338.8h19.4v19.5h-19.4zM391.3 338.8h19.4v19.5h-19.4z" fill="rgb(185,185,185)"/>
<path d="M277.1 300.5h19.4v19.5h-19.4z" fill="rgb(80,80,80)"/>
<path d="M334.2 300.5h19.4v19.5h-19.4z" fill="rgb(180,180,180)"/>
<path d="M334.2 319.7h19.4v19.5h-19.4zM334.2 338.8h19.4v19.5h-19.4z" fill="rgb(175,175,175)"/>
</g>
<g mask="url(#clip_e2)"><g filter="url(#tex_e2)">
<path d="M220.0 204.9h19.4v19.5h-19.4zM239.0 204.9h19.4v19.5h-19.4zM220.0 224.0h19.4v19.5h-19.4zM239.0 224.0h19.4v19.5h-19.4z" fill="rgb(115,115,115)"/>
<path d="M258.0 204.9h19.4v19.5h-19.4zM258.0 224.0h19.4v19.5h-19.4zM296.1 281.4h19.4v19.5h-19.4z" fill="rgb(120,120,120)"/>
<path d="M277.1 204.9h19.4v19.5h-19.4zM277.1 224.0h19.4v19.5h-19.4zM220.0 281.4h19.4v19.5h-19.4zM239.0 281.4h19.4v19.5h-19.4zM220.0 300.5h19.4v19.5h-19.4zM239.0 300.5h19.4v19.5h-19.4zM258.0 300.5h19.4v19.5h-19.4z" fill="rgb(90,90,90)"/>
<path d="M296.1 204.9h19.4v19.5h-19.4zM315.1 204.9h19.4v19.5h-19.4zM372.3 204.9h19.4v19.5h-19.4zM391.3 204.9h19.4v19.5h-19.4zM296.1 224.0h19.4v19.5h-19.4zM315.1 224.0h19.4v19.5h-19.4zM372.3 224.0h19.4v19.5h-19.4zM391.3 224.0h19.4v19.5h-19.4zM220.0 243.1h19.4v19.5h-19.4zM239.0 243.1h19.4v19.5h-19.4zM315.1 262.3h19.4v19.5h-19.4zM296.1 300.5h19.4v19.5h-19.4zM277.1 319.7h19.4v19.5h-19.4zM277.1 338.8h19.4v19.5h-19.4z" fill="rgb(100,100,100)"/>
<path d="M334.2 204.9h19.4v19.5h-19.4zM334.2 224.0h19.4v19.5h-19.4zM277.1 243.1h19.4v19.5h-19.4zM315.1 243.1h19.4v19.5h-19.4z" fill="rgb(95,95,95)"/>
<path d="M353.2 204.9h19.4v19.5h-19.4zM353.2 224.0h19.4v19.5h-19.4zM315.1 300.5h19.4v19.5h-19.4z" fill="rgb(130,130,130)"/>
<path d="M258.0 243.1h19.4v19.5h-19.4z" fill="rgb(125,125,125)"/>
<path d="M296.1 243.1h19.4v19.5h-19.4zM277.1 262.3h19.4v19.5h-19.4z" fill="rgb(105,105,105)"/>
<path d="M334.2 243.1h19.4v19.5h-19.4zM277.1 281.4h19.4v19.5h-19.4zM220.0 319.7h19.4v19.5h-19.4zM239.0 319.7h19.4v19.5h-19.4zM220.0 338.8h19.4v19.5h-19.4zM239.0 338.8h19.4v19.5h-19.4z" fill="rgb(60,60,60)"/>
<path d="M353.2 243.1h19.4v19.5h-19.4z" fill="rgb(165,165,165)"/>
<path d="M372.3 243.1h19.4v19.5h-19.4zM391.3 243.1h19.4v19.5h-19.4zM372.3 262.3h19.4v19.5h-19.4zM391.3 262.3h19.4v19.5h-19.4zM353.2 281.4h19.4v19.5h-19.4z" fill="rgb(195,195,195)"/>
<path d="M220.0 262.3h19.4v19.5h-19.4zM239.0 262.3h19.4v19.5h-19.4zM258.0 319.7h19.4v19.5h-19.4zM258.0 338.8h19.4v19.5h-19.4z" fill="rgb(70,70,70)"/>
<path d="M258.0 262.3h19.4v19.5h-19.4zM296.1 319.7h19.4v19.5h-19.4zM296.1 338.8h19.4v19.5h-19.4z" fill="rgb(85,85,85)"/>
<path d="M296.1 262.3h19.4v19.5h-19.4zM315.1 319.7h19.4v19.5h-19.4zM315.1 338.8h19.4v19.5h-19.4z" fill="rgb(110,110,110)"/>
<path d="M334.2 262.3h19.4v19.5h-19.4z" fill="rgb(160,160,160)"/>
<path d="M353.2 262.3h19.4v19.5h-19.4zM372.3 281.4h19.4v19.5h-19.4zM391.3 281.4h19.4v19.5h-19.4zM353.2 300.5h19.4v19.5h-19.4zM372.3 300.5h19.4v19.5h-19.4zM391.3 300.5h19.4v19.5h-19.4zM353.2 319.7h19.4v19.5h-19.4zM353.2 338.8h19.4v19.5h-19.4z" fill="rgb(190,190,190)"/>
<path d="M258.0 281.4h19.4v19.5h-19.4z" fill="rgb(75,75,75)"/>
<path d="M315.1 281.4h19.4v19.5h-19.4z" fill="rgb(150,150,150)"/>
<path d="M334.2 281.4h19.4v19.5h-19.4zM372.3 319.7h19.4v19.5h-19.4zM391.3 319.7h19.4v19.5h-19.4zM372.3 338.8h19.4v19.5h-19.4zM391.3 338.8h19.4v19.5h-19.4z" fill="rgb(185,185,185)"/>
<path d="M277.1 300.5h19.4v19.5h-19.4z" fill="rgb(80,80,80)"/>
<path d="M334.2 300.5h19.4v19.5h-19.4z" fill="rgb(180,180,180)"/>
<path d="M334.2 319.7h19.4v19.5h-19.4zM334.2 338.8h19.4v19.5h-19.4z" fill="rgb(175,175,175)"/>
</g>
<path d="M328.3,257.3 Q329.3,272.9 347.7,288.4" fill="none" stroke="#333" stroke-opacity="0.35" stroke-width="0.6"/>
<path d="M345.3,279.8 Q339.9,309.4 356.4,339.0" fill="none" stroke="#fff" stroke-opacity="0.35" stroke-width="1.3"/>
<path d="M333.9,250.7 Q341.5,287.3 348.8,323.9" fill="none" stroke="#fff" stroke-opacity="0.35" stroke-width="1.4"/>
<path d="M375.9,263.1 Q374.8,295.9 389.0,328.7" fill="none" stroke="#333" stroke-opacity="0.35" stroke-width="1.3"/>
<path d="M386.2,285.6 Q386.6,304.8 401.5,324.0" fill="none" stroke="#fff" stroke-opacity="0.35" stroke-width="0.8"/>
<path d="M346.9,267.6 Q355.7,288.0 362.8,308.5" fill="none" stroke="#fff" stroke-opacity="0.35" stroke-width="1.2"/>
<path d="M381.9,256.1 Q384.7,287.4 399.2,318.7" fill="none" stroke="#333" stroke-opacity="0.35" stroke-width="0.9"/>
<path d="M379.3,276.0 Q392.0,303.3 402.2,330.5" fill="none" stroke="#fff" stroke-opacity="0.35" stroke-width="1.3"/>
<path d="M377.8,293.3 Q380.2,319.6 396.8,346.0" fill="none" stroke="#fff" stroke-opacity="0.35" stroke-width="1.3"/>
<path d="M334.4,264.1 Q341.3,293.8 344.0,323.6" fill="none" stroke="#333" stroke-opacity="0.35" stroke-width="0.9"/>
<path d="M378.9,287.8 Q389.2,308.9 397.2,330.1" fill="none" stroke="#fff" stroke-opacity="0.35" stroke-width="1.0"/>
<path d="M374.5,267.6 Q376.3,300.2 396.8,332.7" fill="none" stroke="#fff" stroke-opacity="0.35" stroke-width="0.7"/>
<path d="M381.9,261.9 Q386.4,277.9 394.6,294.0" fill="none" stroke="#333" stroke-opacity="0.35" stroke-width="1.2"/>
<path d="M385.1,251.7 Q390.2,271.1 407.3,290.5" fill="none" stroke="#fff" stroke-opacity="0.35" stroke-width="0.9"/>
<path d="M363.2,270.7 Q373.9,298.7 378.8,326.8" fill="none" stroke="#fff" stroke-opacity="0.35" stroke-width="0.8"/>
<path d="M339.0,289.0 Q347.3,320.8 350.0,352.7" fill="none" stroke="#333" stroke-opacity="0.35" stroke-width="0.7"/>
</g>
</g>
<g clip-path="url(#clip_f)"><g filter="url(#bl_f)">
<path d="M374.1 204.7h19.4v19.7h-19.4zM393.1 204.7h19.4v19.7h-19.4zM374.1 224.0h19.4v19.7h-19.4zM393.1 224.0h19.4v19.7h-19.4zM374.1 243.3h19.4v19.7h-19.4zM393.1 243.3h19.4v19.7h-19.4zM450.1 243.3h19.4v19.7h-19.4zM374.1 281.8h19.4v19.7h-19.4zM393.1 281.8h19.4v19.7h-19.4zM431.1 281.8h19.4v19.7h-19.4zM507.0 281.8h19.4v19.7h-19.4zM412.1 301.1h19.4v19.7h-19.4zM507.0 320.3h19.4v19.7h-19.4zM526.0 320.3h19.4v19.7h-19.4zM545.0 320.3h19.4v19.7h-19.4zM507.0 339.6h19.4v19.7h-19.4zM526.0 339.6h19.4v19.7h-19.4zM545.0 339.6h19.4v19.7h-19.4z" fill="rgb(120,120,120)"/>
<path d="M412.1 204.7h19.4v19.7h-19.4zM412.1 224.0h19.4v19.7h-19.4z" fill="rgb(90,90,90)"/>
<path d="M431.1 204.7h19.4v19.7h-19.4zM431.1 224.0h19.4v19.7h-19.4z" fill="rgb(75,75,75)"/>
<path d="M450.1 204.7h19.4v19.7h-19.4zM450.1 224.0h19.4v19.7h-19.4zM526.0 281.8h19.4v19.7h-19.4zM545.0 281.8h19.4v19.7h-19.4zM374.1 320.3h19.4v19.7h-19.4zM393.1 320.3h19.4v19.7h-19.4zM412.1 320.3h19.4v19.7h-19.4zM374.1 339.6h19.4v19.7h-19.4zM393.1 339.6h19.4v19.7h-19.4zM412.1 339.6h19.4v19.7h-19.4z" fill="rgb(100,100,100)"/>
<path d="M469.1 204.7h19.4v19.7h-19.4zM469.1 224.0h19.4v19.7h-19.4zM469.1 262.5h19.4v19.7h-19.4z" fill="rgb(140,140,140)"/>
<path d="M488.0 204.7h19.4v19.7h-19.4zM488.0 224.0h19.4v19.7h-19.4zM488.0 262.5h19.4v19.7h-19.4z" fill="rgb(150,150,150)"/>
<path d="M507.0 204.7h19.4v19.7h-19.4zM507.0 224.0h19.4v19.7h-19.4z" fill="rgb(135,135,135)"/>
<path d="M526.0 204.7h19.4v19.7h-19.4zM545.0 204.7h19.4v19.7h-19.4zM526.0 224.0h19.4v19.7h-19.4zM545.0 224.0h19.4v19.7h-19.4zM374.1 262.5h19.4v19.7h-19.4zM393.1 262.5h19.4v19.7h-19.4zM431.1 262.5h19.4v19.7h-19.4zM412.1 281.8h19.4v19.7h-19.4zM431.1 301.1h19.4v19.7h-19.4zM507.0 301.1h19.4v19.7h-19.4z" fill="rgb(115,115,115)"/>
<path d="M412.1 243.3h19.4v19.7h-19.4z" fill="rgb(85,85,85)"/>
<path d="M431.1 243.3h19.4v19.7h-19.4z" fill="rgb(80,80,80)"/>
<path d="M469.1 243.3h19.4v19.7h-19.4z" fill="rgb(145,145,145)"/>
<path d="M488.0 243.3h19.4v19.7h-19.4z" fill="rgb(165,165,165)"/>
<path d="M507.0 243.3h19.4v19.7h-19.4zM450.1 262.5h19.4v19.7h-19.4zM450.1 281.8h19.4v19.7h-19.4zM469.1 281.8h19.4v19.7h-19.4zM488.0 281.8h19.4v19.7h-19.4zM450.1 301.1h19.4v19.7h-19.4zM469.1 301.1h19.4v19.7h-19.4zM469.1 320.3h19.4v19.7h-19.4zM469.1 339.6h19.4v19.7h-19.4z" fill="rgb(130,130,130)"/>
<path d="M526.0 243.3h19.4v19.7h-19.4zM545.0 243.3h19.4v19.7h-19.4zM412.1 262.5h19.4v19.7h-19.4zM526.0 301.1h19.4v19.7h-19.4zM545.0 301.1h19.4v19.7h-19.4z" fill="rgb(110,110,110)"/>
<path d="M507.0 262.5h19.4v19.7h-19.4zM374.1 301.1h19.4v19.7h-19.4zM393.1 301.1h19.4v19.7h-19.4zM488.0 301.1h19.4v19.7h-19.4zM431.1 320.3h19.4v19.7h-19.4zM450.1 320.3h19.4v19.7h-19.4zM488.0 320.3h19.4v19.7h-19.4zM431.1 339.6h19.4v19.7h-19.4zM450.1 339.6h19.4v19.7h-19.4zM488.0 339.6h19.4v19.7h-19.4z" fill="rgb(125,125,125)"/>
<path d="M526.0 262.5h19.4v19.7h-19.4zM545.0 262.5h19.4v19.7h-19.4z" fill="rgb(105,105,105)"/>
</g>
<g filter="url(#soft)"><path d="M392 220L385 226 388 219zM406 221L401 222 401 217zM433 221L424 218 427 212zM433 221L427 212 434 216zM433 221L428 225 424 218zM438 221L436 226 434 216zM452 221L446 215 448 212zM452 221L448 212 456 219zM452 221L455 226 444 223zM452 221L444 223 446 215zM459 223L461 232 458 232zM459 223L458 232 457 231zM459 223L457 231 455 226zM459 223L455 226 456 219zM514 224L514 226 507 223zM532 218L525 218 535 211zM394 229L386 228 394 225zM394 229L388 232 386 228zM409 227L405 232 409 224zM419 226L414 222 415 220zM419 226L415 220 416 219zM419 226L415 233 414 222zM423 226L420 219 424 218zM423 226L421 231 420 219zM430 229L428 225 436 226zM430 229L425 232 428 225zM451 226L443 226 444 223zM451 226L444 223 455 226zM451 226L448 230 443 227zM451 226L443 227 443 226zM474 231L479 235 467 230zM483 228L476 223 482 222zM483 228L480 231 476 223zM516 227L514 234 512 232zM516 227L512 232 514 226zM529 225L524 219 525 218zM529 225L529 231 526 229zM529 225L526 229 524 219zM539 225L534 223 538 220zM539 225L538 220 541 221zM539 225L534 230 534 223zM419 234L415 235 415 234zM419 234L415 234 415 233zM441 235L435 231 437 227zM441 235L437 227 443 226zM441 235L443 241 441 242zM441 235L441 242 435 231zM447 234L443 227 448 230zM447 234L443 241 443 227zM449 234L447 240 448 230zM525 235L528 238 525 241zM525 235L525 241 523 241zM525 235L523 241 523 241zM525 235L523 241 521 232zM551 237L546 241 544 234zM389 244L388 251 381 248zM389 244L381 248 387 240zM400 241L396 238 399 237zM409 238L406 233 415 234zM428 245L424 240 427 237zM428 245L433 251 433 251zM428 245L433 251 424 240zM455 244L450 240 451 239zM455 244L456 251 453 250zM455 244L453 250 450 240zM471 246L463 244 464 242zM471 246L464 245 463 244zM474 245L472 247 471 246zM474 245L471 246 472 241zM479 242L475 239 479 236zM479 242L477 245 475 239zM530 240L525 241 528 238zM541 242L536 238 539 233zM541 242L544 246 536 246zM541 242L536 246 535 246zM541 242L535 246 536 238zM417 252L412 249 413 246zM417 252L413 246 420 246zM417 252L420 246 424 253zM417 252L416 255 412 249zM426 246L422 242 424 240zM426 246L424 253 420 246zM426 246L420 246 422 242zM448 250L438 245 440 243zM448 250L440 243 452 250zM448 250L443 251 438 245zM451 247L440 243 441 242zM451 247L441 242 443 241zM451 247L452 250 440 243zM463 250L460 255 457 255zM463 250L457 255 456 251zM463 250L456 251 460 245zM469 247L464 245 471 246zM469 247L467 252 464 245zM521 249L520 254 515 250zM521 249L515 250 517 244zM528 248L523 242 523 241zM528 248L523 241 525 241zM528 248L524 249 523 242zM406 254L401 257 402 252zM412 256L416 255 411 262zM412 256L411 262 409 262zM412 256L409 262 408 251zM417 259L420 260 414 264zM417 259L414 264 411 262zM417 259L411 262 416 255zM441 255L433 251 438 245zM441 255L438 245 438 245zM441 255L440 264 433 251zM443 254L447 257 441 263zM443 254L441 263 443 251zM467 258L460 255 467 252zM467 258L467 252 471 253zM467 258L466 262 460 255zM485 260L483 264 479 263zM485 260L479 263 479 262zM502 257L496 256 499 251zM502 257L497 261 496 256zM527 259L522 258 531 254zM527 259L533 257 527 264zM527 259L527 264 525 264zM527 259L525 264 522 258zM535 254L541 260 533 257zM535 254L533 257 531 254zM535 254L531 254 531 251zM552 258L547 252 552 251zM399 261L405 260 395 265zM399 261L395 265 394 264zM399 261L394 264 392 258zM421 264L414 264 420 260zM423 261L427 265 427 265zM423 261L427 265 420 260zM449 260L440 264 441 263zM449 260L441 263 447 257zM458 262L455 259 457 255zM458 262L454 264 455 259zM474 265L471 266 468 261zM491 259L488 260 488 255zM551 262L542 261 542 261zM551 262L542 261 543 259zM551 262L543 259 555 260zM551 262L554 266 549 267zM551 262L549 267 542 261zM410 270L408 276 405 269zM429 271L425 277 422 276zM429 271L422 276 420 273zM429 271L420 273 427 265zM458 268L450 268 454 264zM458 268L454 264 463 267zM469 267L464 270 463 267zM502 268L500 263 505 263zM502 268L500 273 499 272zM502 268L499 272 500 263zM516 270L511 267 513 266zM516 270L512 278 511 267zM527 270L525 265 525 264zM527 270L525 274 525 265zM394 276L389 275 397 272zM402 274L397 270 405 269zM412 280L410 285 408 284zM412 280L408 284 406 281zM412 280L406 281 408 276zM454 276L448 269 450 268zM464 275L460 275 464 270zM485 276L483 280 480 274zM495 276L490 276 493 272zM495 276L490 278 490 276zM527 279L519 278 521 275zM527 279L528 282 519 278zM548 277L548 282 547 281zM393 285L394 288 387 287zM393 285L387 287 388 279zM397 284L396 287 393 281zM428 284L420 281 422 276zM428 284L422 276 425 277zM428 284L430 289 423 286zM428 284L423 286 420 281zM444 287L435 286 436 282zM444 287L448 291 439 291zM444 287L439 291 435 286zM458 282L454 281 459 275zM500 287L502 292 498 285zM524 284L515 280 519 278zM524 284L516 285 515 280zM423 293L422 297 420 294zM423 293L420 294 423 286zM432 294L435 301 434 301zM432 294L434 301 433 300zM432 294L433 300 430 289zM465 293L473 301 455 296zM465 293L455 296 460 289zM473 290L468 288 472 284zM497 288L492 284 498 285zM497 288L490 292 489 290zM497 288L489 290 492 284zM509 293L504 290 516 285zM509 293L516 285 518 289zM509 293L509 297 507 297zM509 293L507 297 503 292zM509 293L503 292 504 290zM524 291L518 289 522 288zM524 291L526 296 518 289zM528 289L522 288 529 286zM528 289L528 292 522 288zM546 287L543 293 543 292zM546 287L543 292 548 283zM395 300L393 304 392 297zM411 295L406 293 409 291zM411 295L414 294 410 301zM411 295L410 301 409 301zM411 295L409 301 406 299zM411 295L406 299 406 293zM428 296L422 298 422 297zM428 296L422 297 427 293zM501 299L494 297 494 295zM501 299L494 295 502 292zM514 300L520 304 514 303zM514 300L514 303 509 297zM522 296L526 298 520 302zM522 296L520 302 516 293zM529 294L526 298 526 296zM529 294L526 296 528 292zM545 300L539 299 543 294zM545 300L541 301 539 299zM398 303L393 304 400 299zM405 305L400 309 402 300zM414 306L420 307 409 310zM414 306L409 310 409 301zM428 302L421 305 420 304zM428 302L420 304 422 298zM442 307L435 301 437 300zM442 307L437 300 446 301zM442 307L445 308 439 314zM442 307L439 314 439 314zM442 307L439 314 435 301zM448 305L453 310 445 308zM448 305L445 308 446 301zM483 305L486 309 473 304zM509 302L505 301 507 297zM509 302L505 305 505 301zM515 306L511 306 514 303zM515 306L514 303 520 304zM538 305L533 300 534 299zM538 305L534 299 539 299zM538 305L539 299 541 301zM538 305L534 307 532 306zM538 305L532 306 533 300zM404 314L396 314 395 311zM404 314L395 311 400 309zM404 314L402 318 396 314zM447 313L445 308 453 310zM447 313L451 320 446 321zM447 313L446 321 439 314zM447 313L439 314 445 308zM456 314L451 321 451 320zM456 314L451 320 453 310zM489 309L490 315 486 312zM489 309L486 312 486 310zM496 310L495 318 491 315zM496 310L491 315 493 307zM504 311L505 317 498 316zM532 314L523 312 523 312zM532 314L528 316 523 312zM549 313L543 309 550 306zM549 313L549 320 542 319zM549 313L542 319 542 318zM549 313L542 318 543 309zM399 321L403 321 393 325zM399 321L393 325 393 321zM405 317L403 321 402 318zM409 319L406 324 406 324zM409 319L406 324 409 313zM475 320L471 322 474 313zM487 322L482 324 482 322zM502 324L495 321 495 318zM502 324L495 318 498 316zM518 321L518 324 514 320zM526 322L523 312 523 312zM526 322L522 321 523 312zM533 316L528 316 536 314zM387 322L381 322 384 319zM387 322L384 319 385 319zM387 322L393 326 384 326zM387 322L384 326 381 322zM400 325L395 330 393 326zM400 325L393 326 393 325zM400 325L393 325 403 321zM422 327L417 333 416 325zM449 328L450 331 446 321zM477 325L468 325 471 322zM477 325L483 329 469 327zM477 325L469 327 468 325zM494 328L495 321 495 322zM494 328L495 322 497 330zM494 328L485 333 485 333zM494 328L485 333 485 333zM494 328L485 333 485 331zM494 328L485 331 495 321zM514 322L515 329 510 324zM520 326L518 324 522 321zM520 326L515 328 518 324zM388 330L384 326 393 326zM388 330L393 334 384 330zM388 330L384 330 384 326zM402 335L395 330 403 329zM402 335L407 335 394 335zM402 335L394 335 394 335zM402 335L394 335 393 334zM402 335L393 334 393 334zM402 335L393 334 395 330zM408 328L403 329 406 324zM408 328L414 335 407 335zM408 328L407 335 403 329zM434 329L427 335 427 335zM434 329L427 335 429 322zM444 332L438 331 439 329zM444 332L439 329 444 325zM444 332L448 335 446 336zM444 332L446 336 444 337zM444 332L444 337 438 331zM453 332L450 331 454 328zM453 332L448 333 450 331zM474 330L470 332 469 327zM496 333L485 333 497 330zM544 333L541 337 539 334zM544 333L539 334 540 326zM548 329L546 329 550 325zM548 329L550 325 552 327zM393 343L389 338 393 334zM393 343L393 334 394 335zM393 343L394 335 394 349zM393 343L392 349 389 338zM395 342L394 349 394 335zM410 342L404 341 407 335zM410 342L407 335 407 335zM410 342L407 335 414 335zM420 339L422 343 415 344zM420 339L415 344 414 335zM433 342L430 347 427 335zM438 336L433 335 438 331zM438 336L437 341 433 335zM459 342L455 338 455 337zM459 342L455 337 457 336zM459 342L457 336 460 336zM459 342L460 346 455 338zM473 338L470 344 469 332zM479 340L482 346 473 349zM479 340L473 349 471 345zM479 340L471 345 477 335zM491 340L484 342 485 333zM509 342L506 348 500 343zM517 340L520 343 513 340zM531 338L525 335 525 334zM531 338L529 342 525 335zM548 339L552 342 543 342zM548 339L543 342 541 338zM390 343L384 341 386 339zM390 343L386 339 389 338zM420 346L415 344 422 343zM425 342L426 349 422 343zM457 343L459 347 452 344zM457 343L452 344 455 338zM531 346L535 351 528 349zM531 346L528 349 526 346zM531 346L526 346 529 342zM539 343L543 347 538 350zM539 343L538 350 537 350zM539 343L537 350 535 344z" fill="rgb(0,0,0)" stroke="rgb(0,0,0)" stroke-width="0.6"/><path d="M392 220L386 228 385 226zM438 221L437 227 436 226zM459 223L463 231 461 232zM465 223L463 231 462 218zM481 218L476 223 474 223zM481 218L474 223 478 216zM550 223L548 227 544 220zM423 226L425 232 421 231zM510 227L507 223 514 226zM539 225L539 233 534 230zM542 224L541 221 544 220zM441 235L443 226 443 227zM468 238L464 242 461 232zM501 231L493 236 492 228zM551 237L544 234 548 231zM551 237L550 242 546 241zM400 241L394 242 396 238zM471 246L464 242 472 241zM471 246L471 246 464 245zM479 242L479 247 477 245zM394 248L391 253 388 251zM448 250L447 253 443 251zM451 247L443 241 447 240zM463 250L460 245 463 244zM474 248L471 253 472 247zM512 244L509 247 511 240zM528 248L531 251 524 249zM550 245L547 252 544 246zM406 254L405 260 401 257zM412 256L408 251 412 249zM441 255L438 245 443 251zM526 252L520 254 524 249zM552 258L552 251 555 260zM389 265L394 264 388 267zM389 265L388 267 380 264zM449 260L448 269 440 264zM458 262L457 255 460 255zM551 262L555 260 554 266zM391 269L389 275 388 267zM469 267L466 271 464 270zM469 267L463 267 466 262zM504 272L500 273 508 266zM527 270L525 264 527 264zM545 271L538 267 542 261zM394 276L388 276 389 275zM402 274L397 272 397 270zM431 272L425 277 436 268zM454 276L446 277 448 269zM485 276L480 274 483 273zM485 276L490 278 483 280zM495 276L492 281 490 278zM527 279L521 275 525 274zM542 278L536 280 542 274zM548 277L547 281 544 275zM506 285L504 290 503 280zM405 291L401 291 401 290zM432 294L437 300 435 301zM465 293L460 289 462 288zM465 293L474 300 473 301zM497 288L494 295 490 292zM509 293L518 289 516 293zM528 289L533 289 528 292zM546 287L551 292 543 293zM395 300L392 297 395 295zM401 295L398 296 401 291zM501 299L497 299 494 297zM398 303L392 309 393 304zM414 306L409 301 410 301zM414 306L420 304 421 305zM414 306L421 305 420 307zM463 304L455 297 455 296zM463 304L456 307 455 297zM498 302L499 308 494 306zM509 302L507 297 509 297zM509 302L507 307 505 305zM414 310L409 313 409 313zM427 309L420 307 421 305zM389 316L385 319 389 309zM399 321L393 321 396 314zM405 317L402 318 409 313zM422 319L415 324 415 318zM487 322L482 322 490 315zM511 319L507 323 505 317zM526 322L523 312 528 316zM533 316L533 324 528 316zM400 325L403 329 395 330zM438 324L429 321 430 318zM449 329L448 333 444 325zM449 328L446 321 446 321zM477 325L471 322 482 324zM494 328L497 330 485 333zM434 329L433 335 427 335zM444 332L444 325 448 333zM402 337L401 342 394 335zM410 342L412 349 404 341zM420 339L414 335 417 333zM473 338L471 345 470 344zM491 340L496 346 484 342zM509 342L500 341 504 335zM509 342L500 343 500 341zM548 339L541 338 541 337zM425 342L430 347 426 349zM531 346L529 342 532 342zM539 343L535 344 541 338z" fill="rgb(12,12,12)" stroke="rgb(12,12,12)" stroke-width="0.6"/><path d="M433 221L434 216 436 226zM404 225L399 226 401 222zM409 227L406 233 405 232zM419 226L416 219 420 219zM529 225L534 230 529 231zM398 233L396 238 393 234zM419 234L415 233 421 231zM419 234L422 242 415 235zM432 236L427 235 435 231zM441 235L443 227 443 241zM449 234L450 240 447 240zM501 231L502 238 493 236zM508 236L503 238 506 230zM532 237L528 238 529 231zM428 245L438 245 433 251zM458 241L460 245 451 239zM515 238L511 240 514 235zM541 242L539 233 540 233zM541 242L540 233 544 234zM394 248L388 251 394 242zM451 247L447 240 450 240zM474 248L473 254 471 253zM550 245L544 246 546 241zM397 253L401 257 392 258zM397 253L392 258 392 258zM406 254L402 252 406 251zM467 258L471 253 473 254zM485 260L479 262 484 254zM502 257L500 263 497 261zM535 254L531 251 534 247zM552 258L543 259 547 252zM401 263L395 265 405 260zM421 264L420 260 427 265zM488 265L485 267 483 264zM491 259L488 255 496 256zM469 267L471 266 466 271zM481 270L476 273 476 268zM487 272L483 273 485 267zM497 268L493 272 492 268zM516 270L513 266 518 268zM523 269L521 275 518 268zM545 271L542 261 549 267zM545 271L542 274 538 267zM394 276L388 279 388 276zM402 274L405 269 408 276zM440 275L435 280 436 272zM454 276L446 279 446 277zM464 275L463 280 460 275zM402 285L397 287 401 280zM458 282L460 289 454 281zM466 282L462 288 463 280zM487 282L482 286 482 284zM487 282L482 284 483 280zM497 282L498 285 492 284zM497 282L492 284 492 281zM524 284L519 278 528 282zM524 284L518 289 516 285zM542 285L538 283 547 281zM542 285L536 286 538 283zM413 291L414 294 409 291zM483 293L474 300 474 298zM483 293L474 298 479 287zM509 293L516 293 509 297zM524 291L522 288 528 292zM537 294L533 289 533 288zM537 294L533 288 536 286zM537 294L534 299 533 289zM411 295L409 291 414 294zM514 300L520 302 520 304zM548 296L543 294 543 293zM398 303L395 311 392 309zM428 302L422 298 432 299zM428 302L429 306 421 305zM432 306L432 316 429 306zM491 307L488 303 492 302zM414 310L408 310 409 310zM414 310L409 313 408 310zM427 309L421 305 429 306zM447 313L453 310 451 320zM456 314L461 319 451 321zM482 310L472 309 473 304zM482 310L474 313 472 309zM489 309L491 315 490 315zM504 311L507 315 505 317zM504 311L498 316 499 308zM511 310L507 315 507 307zM409 319L415 324 406 324zM422 319L416 325 415 324zM468 318L461 319 464 312zM475 320L474 313 477 315zM502 324L495 322 495 321zM502 324L504 326 495 322zM511 319L505 317 507 315zM511 319L510 324 507 323zM438 324L429 322 429 321zM438 324L439 329 429 322zM449 328L446 321 451 320zM546 325L540 326 539 324zM408 328L406 324 415 324zM453 332L454 328 455 329zM453 332L448 335 448 333zM459 331L457 336 455 329zM474 330L477 335 470 332zM530 331L525 332 527 327zM534 329L534 334 531 325zM395 342L395 350 394 349zM467 337L463 337 469 332zM491 340L485 333 485 333zM420 346L413 348 415 344zM425 342L422 343 426 335zM517 345L512 347 513 340z" fill="rgb(24,24,24)" stroke="rgb(24,24,24)" stroke-width="0.6"/><path d="M392 220L388 219 394 215zM392 220L394 225 386 228zM395 223L394 225 394 215zM406 221L401 217 405 213zM465 223L462 218 466 215zM394 229L393 234 388 232zM404 225L400 229 399 226zM430 229L436 226 437 227zM510 227L504 224 504 224zM510 227L504 224 507 223zM510 227L506 230 504 224zM516 227L514 226 517 225zM516 227L519 231 514 234zM539 225L540 233 539 233zM393 238L394 242 394 242zM393 238L394 242 387 240zM398 233L393 234 400 229zM449 234L448 230 457 231zM468 238L472 241 464 242zM525 235L521 232 526 229zM525 235L529 231 528 238zM389 244L387 240 394 242zM400 241L399 246 394 242zM409 238L415 234 415 235zM416 242L413 246 411 243zM416 242L411 243 415 235zM428 245L427 237 438 245zM455 244L460 245 456 251zM474 245L472 241 473 240zM498 244L499 250 489 244zM508 245L509 247 502 245zM406 248L408 251 406 251zM463 250L467 252 460 255zM505 250L499 250 502 245zM512 244L511 240 511 240zM521 249L517 244 523 242zM441 255L441 263 440 264zM441 255L440 264 440 264zM502 257L499 251 504 253zM514 257L516 260 511 255zM526 252L521 257 520 254zM527 259L531 254 533 257zM421 264L420 273 414 264zM433 260L427 265 426 253zM474 265L476 268 471 266zM512 260L506 263 511 255zM410 270L420 273 408 276zM481 270L476 273 476 273zM497 268L492 268 493 264zM502 268L505 263 506 263zM504 272L502 277 500 273zM516 270L515 280 512 278zM394 276L388 279 388 279zM454 276L450 268 459 275zM470 277L472 282 468 279zM537 276L536 280 532 275zM537 276L532 275 532 275zM542 278L538 283 536 280zM548 277L553 279 548 282zM393 285L388 279 393 281zM428 284L425 277 435 280zM458 282L459 275 460 275zM466 282L468 288 462 288zM524 284L522 288 518 289zM524 284L518 289 518 289zM393 291L387 287 394 288zM398 291L394 288 396 287zM405 291L406 293 401 291zM423 293L427 293 422 297zM465 293L474 298 474 300zM473 290L474 298 468 288zM483 293L479 287 482 286zM483 293L478 299 474 300zM524 291L528 292 526 296zM528 289L533 288 533 289zM428 296L432 299 422 298zM442 295L437 300 439 291zM501 299L502 292 503 292zM514 300L509 297 516 293zM522 296L526 296 526 298zM414 306L410 301 420 304zM483 305L473 304 473 301zM491 307L486 309 488 303zM501 302L501 306 497 299zM509 302L511 306 507 307zM544 303L543 309 541 301zM404 314L400 309 408 310zM427 309L421 313 420 307zM496 310L498 316 495 318zM532 314L523 312 532 306zM405 317L409 313 409 313zM405 317L406 324 403 321zM468 318L464 312 472 309zM487 322L483 329 482 324zM502 324L498 316 505 317zM438 324L430 318 432 316zM477 325L482 324 483 329zM514 322L515 328 515 329zM514 322L510 324 514 320zM520 326L522 321 527 327zM408 328L417 333 414 335zM444 332L448 333 448 335zM464 331L460 336 464 326zM530 331L525 334 525 332zM544 333L540 326 546 329zM548 329L548 335 546 329zM393 343L394 349 392 349zM420 339L426 335 422 343zM459 342L460 336 463 337zM473 338L469 332 470 332zM523 342L520 343 524 336zM531 338L525 334 534 334zM537 339L535 344 532 342zM537 339L532 342 535 335zM390 343L385 348 384 341zM438 344L437 351 433 348zM457 343L460 346 459 347zM547 345L543 347 543 342z" fill="rgb(36,36,36)" stroke="rgb(36,36,36)" stroke-width="0.6"/><path d="M433 221L436 226 428 225zM438 221L434 216 446 215zM438 221L443 226 437 227zM481 218L482 222 476 223zM514 224L507 223 518 214zM532 218L534 223 525 218zM550 223L544 220 547 217zM419 226L421 231 415 233zM423 226L424 218 428 225zM430 229L437 227 435 231zM474 231L467 230 474 223zM521 227L519 231 517 225zM529 225L525 218 534 223zM552 225L548 227 554 219zM393 238L396 238 394 242zM432 236L427 237 427 235zM447 234L447 240 443 241zM449 234L457 231 458 232zM449 234L451 239 450 240zM468 238L461 232 463 231zM474 235L475 239 473 240zM551 237L548 231 558 231zM455 244L451 239 460 245zM471 246L472 241 471 246zM474 245L473 240 475 239zM508 245L502 238 503 238zM508 245L502 245 502 238zM530 240L534 247 525 241zM426 246L426 253 424 253zM448 250L452 250 447 253zM505 250L499 251 499 250zM528 248L525 241 534 247zM397 253L392 258 391 253zM406 254L409 262 409 262zM417 259L416 255 423 253zM450 254L447 257 447 253zM467 258L473 254 473 258zM507 256L505 263 504 253zM514 257L511 255 510 251zM389 265L380 264 392 258zM399 261L392 258 401 257zM421 264L420 273 420 273zM474 265L468 261 473 258zM512 260L508 266 506 263zM391 269L388 267 394 264zM441 273L436 272 436 268zM471 268L466 271 471 266zM523 269L518 268 525 265zM412 280L413 285 410 285zM431 272L435 280 425 277zM454 276L447 281 446 279zM402 285L401 290 397 287zM444 287L436 282 446 279zM453 286L448 291 447 281zM487 282L483 280 490 278zM506 285L503 280 504 279zM393 291L385 290 387 287zM413 291L409 291 410 285zM432 294L439 291 437 300zM465 293L468 288 474 298zM537 294L536 286 543 292zM546 287L552 290 551 292zM395 300L395 295 398 296zM442 295L446 301 437 300zM522 296L516 293 518 289zM529 294L533 300 526 298zM545 300L551 302 541 301zM548 296L551 301 543 294zM448 305L446 301 453 296zM483 305L473 301 474 300zM491 307L492 302 494 306zM498 302L494 306 492 302zM538 305L543 309 534 307zM414 310L415 318 409 313zM482 310L477 315 474 313zM511 310L507 307 511 306zM518 321L514 320 514 315zM387 322L393 325 393 326zM400 325L403 321 406 324zM438 324L432 316 439 314zM449 329L444 325 446 321zM449 328L451 320 451 321zM499 327L497 330 495 322zM546 325L539 324 542 319zM546 325L546 329 540 326zM388 330L393 326 395 330zM388 330L395 330 393 334zM402 335L403 329 407 335zM434 329L438 331 433 335zM459 331L455 329 464 326zM517 333L510 335 515 329zM544 333L548 335 541 337zM548 329L552 327 552 335zM548 329L552 335 548 335zM402 337L394 335 407 335zM410 342L414 335 415 344zM433 342L427 335 433 335zM438 336L438 331 444 337zM438 336L441 341 437 341zM459 342L463 337 465 342zM517 340L513 340 512 337zM523 342L522 346 520 343zM548 339L541 337 548 335zM438 344L439 351 437 351zM438 344L433 348 437 341zM517 345L520 348 512 347z" fill="rgb(48,48,48)" stroke="rgb(48,48,48)" stroke-width="0.6"/><path d="M395 223L394 215 401 217zM452 221L456 219 455 226zM459 223L456 219 462 218zM481 218L478 216 487 213zM409 227L415 234 406 233zM423 226L428 225 425 232zM542 224L544 220 548 227zM542 224L540 233 541 221zM419 234L424 240 422 242zM447 234L448 230 447 240zM449 234L458 232 451 239zM468 238L463 231 466 230zM474 235L473 240 466 230zM501 231L492 228 496 223zM525 235L526 229 529 231zM389 244L394 242 388 251zM409 238L406 242 406 233zM458 241L451 239 458 232zM479 242L479 236 488 242zM541 242L544 234 546 241zM541 242L546 241 544 246zM417 252L424 253 423 253zM417 252L423 253 416 255zM426 246L424 240 433 251zM463 250L463 244 464 245zM469 247L471 253 467 252zM474 248L478 251 473 254zM521 249L524 249 520 254zM406 254L409 262 405 260zM412 256L412 249 416 255zM441 255L443 251 441 263zM443 254L443 251 447 253zM443 254L447 253 447 257zM467 258L468 261 466 262zM507 256L504 253 510 251zM526 252L522 258 521 257zM535 254L534 247 535 246zM535 254L535 246 536 246zM535 254L536 246 541 260zM401 263L397 270 395 265zM423 261L420 260 423 253zM520 265L518 268 513 266zM520 265L513 266 516 260zM429 271L427 265 427 265zM441 273L436 268 437 266zM481 270L476 268 479 263zM502 268L508 266 500 273zM504 272L508 266 511 267zM516 270L519 278 515 280zM394 276L397 272 400 279zM402 274L400 279 397 272zM412 280L408 276 420 273zM440 275L436 282 435 280zM464 275L464 270 466 271zM470 277L468 279 469 273zM479 279L482 284 475 278zM537 276L532 275 534 269zM393 285L396 287 394 288zM397 284L393 281 400 279zM397 284L397 287 396 287zM500 287L504 290 503 292zM500 287L503 292 502 292zM532 281L529 286 528 282zM542 285L547 281 548 282zM398 291L396 287 397 287zM398 291L395 295 394 288zM417 289L413 285 420 281zM417 289L417 294 413 285zM465 293L462 288 468 288zM483 293L482 286 489 290zM528 289L529 286 533 288zM401 295L400 299 398 296zM501 299L503 292 507 297zM522 296L518 289 518 289zM545 300L543 294 551 301zM398 303L400 299 402 300zM405 305L402 300 406 299zM405 305L408 310 400 309zM432 306L439 314 432 316zM442 307L446 301 445 308zM448 305L456 307 453 310zM483 305L488 303 486 309zM491 307L486 310 486 309zM498 302L501 306 499 308zM501 302L497 299 505 301zM509 302L509 297 514 303zM525 304L520 304 520 302zM538 305L541 301 543 309zM404 314L409 313 402 318zM482 310L473 304 486 309zM496 310L493 307 494 306zM532 314L536 314 528 316zM549 313L558 315 549 320zM389 316L389 309 392 309zM399 321L396 314 402 318zM468 318L472 309 474 313zM487 322L490 315 491 315zM526 322L527 327 522 321zM533 316L539 324 533 324zM387 322L393 321 393 325zM400 325L406 324 406 324zM422 327L426 335 417 333zM449 328L451 321 454 328zM510 328L510 335 504 335zM510 328L504 335 503 333zM510 328L503 333 504 326zM514 322L518 324 515 328zM402 335L407 335 407 335zM408 328L415 324 416 325zM408 328L416 325 417 333zM434 329L429 322 439 329zM453 332L455 337 448 335zM464 331L463 337 460 336zM496 333L500 341 485 333zM534 329L535 335 534 334zM548 329L552 335 552 335zM395 342L394 335 394 335zM395 342L397 349 395 350zM410 342L415 344 413 348zM410 342L413 348 412 349zM420 339L417 333 426 335zM433 342L433 348 430 347zM459 342L465 342 460 346zM467 337L465 342 463 337zM479 340L484 342 482 346zM509 342L504 335 510 335zM509 342L511 347 506 348zM531 338L532 342 529 342zM425 342L426 335 427 335zM425 342L427 335 427 335zM531 346L537 350 535 351zM539 343L541 338 543 342zM539 343L543 342 543 347z" fill="rgb(60,60,60)" stroke="rgb(60,60,60)" stroke-width="0.6"/><path d="M392 220L394 215 394 215zM406 221L409 224 401 222zM459 223L462 218 463 231zM465 223L466 230 463 231zM514 224L518 214 521 218zM532 218L535 211 538 220zM394 229L394 225 399 226zM404 225L405 232 403 232zM404 225L403 232 400 229zM430 229L427 235 425 232zM474 231L474 223 474 223zM483 228L482 222 491 228zM521 227L517 225 521 218zM529 225L534 223 534 230zM539 225L541 221 540 233zM542 224L544 234 540 233zM552 225L548 231 548 227zM393 238L387 240 386 238zM474 235L466 230 467 230zM485 234L479 236 479 235zM485 234L479 235 480 231zM501 231L503 238 502 238zM508 236L506 230 512 232zM518 236L514 234 519 231zM400 241L399 237 404 243zM474 245L477 245 472 247zM498 244L489 242 493 236zM498 244L489 244 489 242zM515 238L517 244 511 240zM426 246L433 251 426 253zM451 247L453 250 452 250zM492 252L487 253 489 244zM505 250L502 245 509 247zM505 250L504 253 499 251zM550 245L546 241 550 242zM550 245L552 251 547 252zM397 253L391 253 399 249zM406 254L406 251 408 251zM467 258L473 258 468 261zM485 260L484 254 487 253zM485 260L488 260 483 264zM502 257L505 263 500 263zM507 256L506 263 505 263zM514 257L510 251 511 251zM552 258L555 260 543 259zM389 265L392 258 394 264zM423 261L423 253 424 253zM423 261L426 253 427 265zM449 260L450 268 448 269zM533 263L533 257 541 260zM533 263L527 264 533 257zM441 273L437 266 440 264zM458 268L463 267 464 270zM458 268L459 275 450 268zM469 267L466 262 468 261zM481 270L480 274 476 273zM487 272L485 267 492 268zM497 268L499 272 493 272zM502 268L506 263 508 266zM504 272L504 279 502 277zM516 270L521 275 519 278zM527 270L527 264 534 269zM479 279L475 278 476 273zM495 276L493 272 499 272zM527 279L525 274 532 275zM542 278L542 274 544 275zM428 284L435 280 436 282zM458 282L460 275 463 280zM458 282L462 288 460 289zM487 282L489 290 482 286zM393 291L388 295 385 290zM413 291L410 285 413 285zM497 288L502 292 494 295zM389 299L388 295 392 297zM415 299L410 301 414 294zM486 299L488 303 478 299zM514 300L516 293 520 302zM545 300L551 301 551 302zM548 296L543 293 551 292zM398 303L400 309 395 311zM432 306L429 306 434 301zM463 304L455 296 473 301zM463 304L464 312 456 307zM483 305L474 300 478 299zM491 307L493 307 486 310zM509 302L514 303 511 306zM515 306L520 304 523 312zM515 306L517 313 511 306zM525 304L523 312 520 304zM544 303L543 309 543 309zM489 309L493 307 491 315zM504 311L499 308 501 306zM504 311L507 307 507 315zM549 313L550 306 558 315zM399 321L402 318 403 321zM409 319L415 318 415 324zM422 319L415 318 421 313zM487 322L485 331 483 329zM511 319L507 315 514 315zM518 321L514 315 517 313zM518 321L522 321 518 324zM526 322L528 316 533 324zM533 316L542 318 542 319zM387 322L385 319 393 321zM400 325L406 324 403 329zM422 327L416 325 429 321zM438 324L439 314 439 314zM449 329L446 321 450 331zM459 326L455 329 454 328zM459 326L454 328 451 321zM474 330L469 327 483 329zM517 333L512 337 510 335zM530 331L527 327 531 325zM534 329L539 334 535 335zM447 341L441 341 444 337zM450 341L451 345 449 344zM450 341L449 344 446 336zM473 338L470 332 477 335zM479 340L477 335 485 333zM491 340L485 333 500 341zM548 339L553 340 552 342zM390 343L389 338 392 349zM390 343L387 349 385 348zM420 346L422 343 426 349zM457 343L455 338 460 346zM531 346L532 342 535 344zM531 346L535 344 537 350zM547 345L543 342 552 342z" fill="rgb(72,72,72)" stroke="rgb(72,72,72)" stroke-width="0.6"/><path d="M465 223L466 215 474 223zM465 223L467 230 466 230zM481 218L487 213 488 213zM486 221L482 222 488 213zM514 224L517 225 514 226zM409 227L409 224 414 222zM419 226L420 219 421 231zM430 229L435 231 427 235zM474 231L474 223 476 223zM542 224L548 231 544 234zM398 233L399 237 396 238zM419 234L427 237 424 240zM518 236L514 235 514 234zM532 237L529 231 534 230zM416 242L415 235 422 242zM508 245L503 238 511 240zM402 247L399 249 399 246zM406 248L412 249 408 251zM451 247L450 240 453 250zM469 247L472 247 471 253zM482 249L484 254 478 251zM492 252L489 244 499 250zM512 244L511 251 509 247zM521 249L523 242 524 249zM528 248L534 247 531 251zM539 251L541 260 536 246zM417 259L423 253 420 260zM481 253L479 262 473 258zM481 253L473 258 473 254zM389 265L392 258 392 258zM399 261L401 257 405 260zM421 264L427 265 420 273zM423 261L424 253 426 253zM433 260L426 253 433 251zM433 260L433 251 433 251zM433 260L437 266 427 265zM449 260L447 257 455 259zM449 260L454 264 450 268zM458 262L460 255 466 262zM458 262L463 267 454 264zM488 265L483 264 488 260zM491 259L496 256 497 261zM491 259L493 264 488 260zM512 260L511 267 508 266zM391 269L397 272 389 275zM441 273L440 264 440 264zM469 267L468 261 471 266zM471 268L469 273 466 271zM487 272L490 276 483 273zM516 270L518 268 521 275zM523 269L525 274 521 275zM394 276L393 281 388 279zM412 280L420 273 420 273zM454 276L454 281 447 281zM485 276L490 276 490 278zM542 278L547 281 538 283zM548 277L554 275 553 279zM402 285L401 280 406 281zM428 284L436 282 435 286zM428 284L435 286 430 289zM444 287L446 279 447 281zM453 286L447 281 454 281zM458 282L463 280 462 288zM542 285L548 282 548 283zM405 291L401 290 408 284zM423 293L423 286 430 289zM423 293L430 289 430 289zM473 290L472 284 479 287zM546 287L548 283 552 290zM395 300L398 296 400 299zM401 295L401 291 406 293zM428 296L427 293 432 299zM522 296L518 289 526 296zM529 294L528 292 533 289zM448 305L453 296 455 297zM448 305L455 297 456 307zM491 307L494 306 493 307zM498 302L492 302 494 297zM515 306L523 312 523 312zM525 304L520 302 526 298zM404 314L408 310 409 313zM482 310L486 312 477 315zM496 310L499 308 498 316zM539 311L534 307 543 309zM539 311L536 314 534 307zM389 316L393 321 385 319zM405 317L409 313 406 324zM468 318L466 325 461 319zM487 322L491 315 495 318zM502 324L505 317 507 323zM511 319L514 320 510 324zM533 316L536 314 542 318zM533 316L542 319 539 324zM422 327L427 335 426 335zM438 324L439 314 446 321zM510 328L515 329 510 335zM520 326L527 327 525 332zM520 326L525 332 515 328zM459 331L460 336 457 336zM517 333L515 329 515 328zM530 331L534 334 525 334zM534 329L531 325 533 324zM544 333L546 329 548 335zM402 337L404 341 401 342zM438 336L444 337 441 341zM447 341L444 337 446 336zM447 341L443 345 441 341zM473 338L477 335 471 345zM479 340L485 333 485 333zM491 340L500 341 500 343zM491 340L500 343 496 346zM509 342L510 335 512 337zM509 342L512 347 511 347zM523 342L524 336 525 335zM420 346L426 349 426 350zM420 346L426 350 426 350zM425 342L427 335 430 347zM438 344L443 347 439 351zM517 345L513 340 520 343zM547 345L547 349 543 347z" fill="rgb(84,84,84)" stroke="rgb(84,84,84)" stroke-width="0.6"/><path d="M438 221L446 215 444 223zM438 221L444 223 443 226zM514 224L521 218 517 225zM550 223L547 217 552 216zM474 231L480 231 479 235zM516 227L517 225 519 231zM542 224L548 227 548 231zM419 234L421 231 425 232zM419 234L425 232 427 235zM419 234L427 235 427 237zM501 231L496 223 504 224zM508 236L511 240 503 238zM532 237L536 238 528 238zM403 239L404 243 404 243zM403 239L404 243 399 237zM409 238L415 235 411 243zM474 245L475 239 477 245zM479 242L488 242 479 247zM530 240L528 238 536 238zM530 240L535 246 534 247zM394 248L399 249 391 253zM402 247L399 246 404 243zM463 250L464 245 467 252zM482 249L478 251 479 247zM406 254L408 251 409 262zM450 254L447 253 452 250zM485 260L487 253 488 255zM514 257L511 251 515 250zM526 252L531 254 522 258zM552 258L555 260 555 260zM401 263L405 269 397 270zM458 262L466 262 463 267zM488 265L492 268 485 267zM512 260L513 266 511 267zM520 265L516 260 521 257zM533 263L541 260 542 261zM533 263L542 261 542 261zM391 269L394 264 395 265zM410 270L405 269 409 262zM429 271L427 265 437 266zM429 271L437 266 436 268zM429 271L436 268 425 277zM545 271L549 267 549 271zM394 276L400 279 393 281zM402 274L408 276 406 281zM402 274L406 281 401 280zM412 280L422 276 420 281zM412 280L420 281 413 285zM431 272L436 268 436 272zM464 275L466 271 469 273zM464 275L468 279 463 280zM470 277L475 278 472 282zM485 276L483 273 490 276zM548 277L544 275 549 271zM444 287L447 281 448 291zM453 286L453 296 448 291zM476 281L472 284 472 282zM487 282L490 278 492 281zM497 282L492 281 502 277zM524 284L528 282 529 286zM524 284L529 286 522 288zM532 281L533 288 529 286zM532 281L528 282 532 275zM542 285L543 292 536 286zM398 291L397 287 401 290zM432 294L430 289 430 289zM395 300L400 299 393 304zM401 295L402 300 400 299zM415 299L414 294 417 294zM429 296L427 293 430 289zM529 294L534 299 533 300zM405 305L406 299 409 301zM428 302L432 299 433 300zM428 302L433 300 434 301zM432 306L434 301 435 301zM432 306L435 301 439 314zM515 306L523 312 523 312zM515 306L523 312 517 313zM456 314L453 310 456 307zM456 314L464 312 461 319zM504 311L501 306 505 305zM511 310L514 315 507 315zM532 314L532 306 534 307zM389 316L392 309 395 311zM409 319L409 313 415 318zM422 319L429 321 416 325zM475 320L477 315 482 322zM475 320L482 322 482 324zM475 320L482 324 471 322zM484 316L482 322 477 315zM518 321L523 312 522 321zM449 329L450 331 448 333zM453 332L457 336 455 337zM474 330L485 333 477 335zM433 342L433 335 437 341zM450 341L452 344 451 345zM479 340L485 333 484 342zM509 342L512 337 513 340zM517 340L524 336 520 343zM420 346L426 350 413 348z" fill="rgb(96,96,96)" stroke="rgb(96,96,96)" stroke-width="0.6"/><path d="M395 223L401 217 401 222zM406 221L405 213 415 220zM465 223L474 223 467 230zM532 218L538 220 534 223zM394 229L400 229 393 234zM404 225L401 222 409 224zM409 227L415 233 415 234zM451 226L457 231 448 230zM474 231L476 223 480 231zM521 227L521 218 524 219zM521 227L521 232 519 231zM552 225L554 219 554 219zM432 236L435 231 441 242zM468 238L466 230 473 240zM474 235L479 236 475 239zM501 231L506 230 503 238zM508 236L512 232 514 234zM400 241L404 243 399 246zM458 241L458 232 461 232zM458 241L463 244 460 245zM498 244L493 236 502 238zM394 248L394 242 394 242zM406 248L413 246 412 249zM469 247L471 246 472 247zM492 252L488 255 487 253zM539 251L536 246 544 246zM539 251L542 261 541 260zM550 245L559 248 552 251zM450 254L455 259 447 257zM481 253L473 254 478 251zM481 253L484 254 479 262zM507 256L510 251 511 255zM526 252L524 249 531 251zM449 260L455 259 454 264zM474 265L473 258 479 262zM391 269L395 265 397 270zM391 269L397 270 397 272zM410 270L409 262 411 262zM410 270L414 264 420 273zM458 268L460 275 459 275zM481 270L483 273 480 274zM497 268L493 264 497 261zM504 272L511 267 512 278zM527 270L532 275 525 274zM545 271L544 275 542 274zM412 280L420 273 422 276zM431 272L436 272 435 280zM440 275L446 279 436 282zM454 276L459 275 454 281zM479 279L476 273 480 274zM479 279L483 280 482 284zM495 276L499 272 500 273zM495 276L500 273 502 277zM495 276L502 277 492 281zM527 279L532 275 532 275zM548 277L549 271 554 275zM393 285L393 281 396 287zM397 284L400 279 401 280zM466 282L463 280 468 279zM466 282L472 284 468 288zM500 287L498 285 503 280zM506 285L504 279 512 278zM506 285L515 280 516 285zM506 285L516 285 504 290zM417 289L420 281 423 286zM423 293L430 289 427 293zM432 294L435 286 439 291zM473 290L479 287 474 298zM483 293L489 290 490 292zM537 294L543 292 543 293zM501 299L507 297 505 301zM398 303L402 300 400 309zM428 302L434 301 429 306zM483 305L478 299 488 303zM544 303L550 306 543 309zM414 310L409 310 420 307zM427 309L430 318 421 313zM496 310L494 306 499 308zM504 311L505 305 507 307zM389 316L395 311 396 314zM468 318L474 313 471 322zM487 322L495 321 485 331zM518 321L517 313 523 312zM422 327L429 321 429 322zM499 327L495 322 504 326zM546 325L542 319 549 320zM434 329L439 329 438 331zM453 332L455 329 457 336zM496 333L497 330 503 333zM395 342L394 335 401 342zM395 342L401 342 397 349zM450 341L446 336 448 335zM517 340L512 337 524 336zM523 342L526 346 522 346zM531 338L535 335 532 342zM548 339L548 335 552 335zM548 339L552 335 553 340zM390 343L392 349 387 349z" fill="rgb(108,108,108)" stroke="rgb(108,108,108)" stroke-width="0.6"/><path d="M392 220L394 215 394 225zM481 218L488 213 482 222zM550 223L552 216 554 219zM550 223L554 219 548 227zM394 229L399 226 400 229zM409 227L414 222 415 233zM451 226L455 226 457 231zM483 228L491 228 480 231zM510 227L512 232 506 230zM393 238L386 238 388 232zM468 238L473 240 472 241zM474 235L467 230 479 235zM485 234L488 242 479 236zM508 236L514 234 514 235zM518 236L519 231 521 232zM532 237L534 230 539 233zM551 237L558 231 550 242zM403 239L406 242 404 243zM416 242L420 246 413 246zM498 244L502 245 499 250zM530 240L536 238 535 246zM402 247L402 252 399 249zM512 244L511 240 517 244zM512 244L515 250 511 251zM485 260L488 255 488 260zM502 257L504 253 505 263zM507 256L511 255 506 263zM491 259L497 261 493 264zM512 260L511 255 516 260zM410 270L409 262 409 262zM410 270L411 262 414 264zM441 273L440 264 448 269zM458 268L464 270 460 275zM481 270L479 263 483 264zM504 272L512 278 504 279zM402 274L401 280 400 279zM527 279L532 275 528 282zM537 276L534 269 538 267zM397 284L401 280 397 287zM453 286L455 297 453 296zM476 281L472 282 475 278zM487 282L492 284 489 290zM500 287L503 280 504 290zM506 285L512 278 515 280zM532 281L536 286 533 288zM393 291L392 297 388 295zM413 291L417 294 414 294zM432 294L430 289 435 286zM497 288L498 285 502 292zM537 294L543 293 543 294zM537 294L539 299 534 299zM415 299L417 294 420 294zM442 295L453 296 446 301zM501 299L505 301 497 299zM529 294L533 289 534 299zM405 305L409 310 408 310zM498 302L497 299 501 306zM501 302L505 305 501 306zM544 303L541 301 551 302zM414 310L421 313 415 318zM456 314L456 307 464 312zM511 310L517 313 514 315zM532 314L534 307 536 314zM389 316L396 314 393 321zM484 316L477 315 486 312zM487 322L495 318 495 321zM502 324L507 323 504 326zM526 322L533 324 531 325zM526 322L531 325 527 327zM438 324L444 325 439 329zM449 328L454 328 450 331zM459 326L451 321 461 319zM464 331L464 326 466 325zM464 331L466 325 468 325zM464 331L469 332 463 337zM474 330L483 329 485 331zM474 330L485 331 485 333zM496 333L503 333 504 335zM496 333L504 335 500 341zM530 331L531 325 534 334zM534 329L540 326 539 334zM433 342L437 341 433 348zM447 341L449 344 443 345zM523 342L525 335 529 342zM531 338L534 334 535 335zM537 339L535 335 539 334zM537 339L541 338 535 344zM438 344L443 345 443 347z" fill="rgb(120,120,120)" stroke="rgb(120,120,120)" stroke-width="0.6"/><path d="M404 225L409 224 405 232zM552 225L558 231 548 231zM398 233L400 229 403 232zM398 233L403 232 399 237zM474 235L479 235 479 236zM501 231L504 224 506 230zM409 238L411 243 406 242zM515 238L514 235 523 241zM515 238L523 241 523 241zM515 238L523 241 523 242zM394 248L394 242 399 246zM406 248L411 243 413 246zM406 248L406 251 404 243zM474 248L472 247 477 245zM474 248L479 247 478 251zM482 249L487 253 484 254zM492 252L499 250 499 251zM539 251L543 259 542 261zM550 245L550 242 559 248zM397 253L402 252 401 257zM450 254L452 250 453 250zM514 257L515 250 520 254zM526 252L531 251 531 254zM401 263L405 260 409 262zM474 265L479 262 479 263zM474 265L479 263 476 268zM520 265L521 257 522 258zM520 265L525 265 518 268zM533 263L542 261 538 267zM441 273L446 277 436 272zM471 268L476 273 469 273zM487 272L492 268 493 272zM497 268L497 261 500 263zM527 270L534 269 532 275zM545 271L549 271 544 275zM464 275L469 273 468 279zM470 277L476 273 475 278zM479 279L480 274 483 280zM542 278L544 275 547 281zM402 285L406 281 408 284zM453 286L455 296 455 297zM466 282L472 282 472 284zM476 281L479 287 472 284zM487 282L492 281 492 284zM542 285L548 283 543 292zM393 291L394 288 395 295zM398 291L398 296 395 295zM405 291L408 284 410 285zM405 291L410 285 409 291zM405 291L409 291 406 293zM413 291L413 285 417 294zM483 293L490 292 478 299zM537 294L543 294 539 299zM401 295L406 293 406 299zM401 295L406 299 402 300zM415 299L420 294 422 297zM429 296L433 300 432 299zM486 299L478 299 490 292zM548 296L551 292 553 298zM548 296L553 298 552 301zM548 296L552 301 551 301zM405 305L409 301 409 310zM463 304L473 301 473 304zM463 304L472 309 464 312zM498 302L494 297 497 299zM427 309L429 306 432 316zM427 309L432 316 430 318zM489 309L486 310 493 307zM468 318L468 325 466 325zM511 319L514 315 514 320zM422 327L429 322 427 335zM499 327L503 333 497 330zM514 322L514 320 518 324zM459 331L464 326 460 336zM517 333L524 336 512 337zM534 329L533 324 539 324zM402 337L407 335 404 341zM467 337L470 344 465 342zM509 342L513 340 512 347zM523 342L529 342 526 346zM517 345L520 343 522 346zM517 345L522 346 520 348z" fill="rgb(132,132,132)" stroke="rgb(132,132,132)" stroke-width="0.6"/><path d="M406 221L415 220 414 222zM406 221L414 222 409 224zM510 227L514 226 512 232zM521 227L524 219 526 229zM521 227L526 229 521 232zM432 236L441 242 440 243zM432 236L440 243 438 245zM432 236L438 245 427 237zM508 236L511 240 511 240zM532 237L539 233 536 238zM416 242L422 242 420 246zM458 241L461 232 464 242zM458 241L464 242 463 244zM515 238L523 242 517 244zM394 248L399 246 399 249zM402 247L404 243 404 243zM406 248L404 243 406 242zM474 248L477 245 479 247zM539 251L547 252 543 259zM397 253L399 249 402 252zM401 263L409 262 405 269zM433 260L433 251 440 264zM433 260L440 264 437 266zM488 265L488 260 493 264zM512 260L516 260 513 266zM533 263L534 269 527 264zM481 270L483 264 485 267zM497 268L500 263 499 272zM440 275L446 277 446 279zM470 277L469 273 476 273zM470 277L476 273 476 273zM402 285L408 284 401 290zM453 286L460 289 455 296zM466 282L468 279 472 282zM497 282L502 277 504 279zM497 282L504 279 503 280zM497 282L503 280 498 285zM398 291L401 290 401 291zM398 291L401 291 398 296zM417 289L420 294 417 294zM389 299L382 306 388 295zM415 299L420 304 410 301zM442 295L439 291 448 291zM463 304L473 304 472 309zM501 302L505 301 505 305zM544 303L551 302 550 306zM414 310L420 307 421 313zM482 310L486 309 486 310zM482 310L486 310 486 312zM511 310L511 306 517 313zM539 311L543 309 543 309zM422 319L421 313 430 318zM422 319L430 318 429 321zM468 318L471 322 468 325zM438 324L446 321 446 321zM438 324L446 321 444 325zM510 328L504 326 507 323zM464 331L468 325 469 327zM534 329L539 324 540 326zM447 341L446 336 449 344zM547 345L552 342 552 345z" fill="rgb(144,144,144)" stroke="rgb(144,144,144)" stroke-width="0.6"/><path d="M395 223L401 222 399 226zM395 223L399 226 394 225zM486 221L488 213 496 221zM552 225L554 219 558 231zM393 238L388 232 393 234zM393 238L393 234 396 238zM432 236L438 245 438 245zM485 234L480 231 491 228zM508 236L514 235 511 240zM508 245L511 240 509 247zM406 248L406 242 411 243zM505 250L509 247 511 251zM505 250L510 251 504 253zM512 244L517 244 515 250zM539 251L544 246 547 252zM514 257L520 254 521 257zM488 265L493 264 492 268zM520 265L522 258 525 264zM471 268L471 266 476 268zM487 272L493 272 490 276zM523 269L525 265 525 274zM440 275L436 272 446 277zM537 276L542 274 536 280zM532 281L532 275 536 280zM393 291L395 295 392 297zM415 299L422 297 422 298zM442 295L448 291 453 296zM486 299L492 302 488 303zM546 325L549 320 550 325zM546 325L550 325 546 329zM464 331L469 327 470 332zM464 331L470 332 469 332zM450 341L455 337 455 338zM450 341L455 338 452 344zM467 337L469 332 470 344zM537 339L539 334 541 337zM438 344L441 341 443 345z" fill="rgb(156,156,156)" stroke="rgb(156,156,156)" stroke-width="0.6"/><path d="M486 221L491 228 482 222zM552 225L558 231 558 231zM485 234L489 242 488 242zM498 244L502 238 502 245zM492 252L499 251 496 256zM505 250L511 251 510 251zM450 254L453 250 456 251zM450 254L456 251 457 255zM450 254L457 255 455 259zM514 257L521 257 516 260zM533 263L538 267 534 269zM471 268L476 268 476 273zM537 276L538 267 542 274zM453 286L454 281 460 289zM532 281L538 283 536 286zM417 289L423 286 420 294zM389 299L392 297 393 304zM429 296L432 299 427 293zM525 304L526 298 533 300zM525 304L532 306 523 312zM499 327L504 326 503 333zM510 328L507 323 510 324zM510 328L510 324 515 329zM517 333L515 328 525 332zM450 341L448 335 455 337zM537 339L541 337 541 338zM438 344L437 341 441 341zM547 345L552 345 547 349z" fill="rgb(168,168,168)" stroke="rgb(168,168,168)" stroke-width="0.6"/><path d="M486 221L496 221 496 223zM485 234L491 228 492 228zM482 249L489 244 487 253zM492 252L496 256 488 255zM520 265L525 264 525 265zM441 273L448 269 446 277zM481 270L485 267 483 273zM415 299L422 298 420 304zM429 296L430 289 433 300zM486 299L494 295 494 297zM486 299L494 297 492 302zM539 311L542 318 536 314zM484 316L490 315 482 322zM459 326L464 326 455 329zM517 333L525 332 525 334z" fill="rgb(180,180,180)" stroke="rgb(180,180,180)" stroke-width="0.6"/><path d="M486 221L496 223 492 228zM485 234L493 236 489 242zM518 236L521 232 523 241zM518 236L523 241 514 235zM402 247L404 243 406 251zM482 249L479 247 488 242zM476 281L482 286 479 287zM532 281L536 280 538 283zM389 299L392 309 389 309zM525 304L533 300 532 306zM459 326L461 319 466 325zM517 333L525 334 525 335zM517 333L525 335 524 336z" fill="rgb(192,192,192)" stroke="rgb(192,192,192)" stroke-width="0.6"/><path d="M486 221L492 228 491 228zM403 239L399 237 403 232zM403 239L406 233 406 242zM402 247L406 251 402 252zM482 249L488 242 489 242zM482 249L489 242 489 244zM476 281L482 284 482 286zM486 299L490 292 494 295zM459 326L466 325 464 326z" fill="rgb(204,204,204)" stroke="rgb(204,204,204)" stroke-width="0.6"/><path d="M485 234L492 228 493 236zM403 239L403 232 405 232zM403 239L405 232 406 233zM481 253L478 251 484 254zM389 299L389 309 382 306zM539 311L543 309 542 318zM484 316L486 312 490 315z" fill="rgb(216,216,216)" stroke="rgb(216,216,216)" stroke-width="0.6"/><path d="M476 281L475 278 482 284zM389 299L393 304 392 309z" fill="rgb(228,228,228)" stroke="rgb(228,228,228)" stroke-width="0.6"/><path d="M392 220L388 219M392 220L394 215M392 220L394 215M392 220L394 225M392 220L386 228M392 220L385 226M395 223L394 215M395 223L401 217M395 223L401 222M395 223L399 226M395 223L394 225M406 221L401 217M406 221L405 213M406 221L415 220M406 221L414 222M406 221L409 224M406 221L401 222M433 221L424 218M433 221L427 212M433 221L434 216M433 221L436 226M433 221L428 225M438 221L434 216M438 221L446 215M438 221L444 223M438 221L443 226M438 221L437 227M438 221L436 226M452 221L446 215M452 221L448 212M452 221L456 219M452 221L455 226M452 221L444 223M459 223L456 219M459 223L462 218M459 223L463 231M459 223L461 232M459 223L458 232M459 223L457 231M459 223L455 226M465 223L462 218M465 223L466 215M465 223L474 223M465 223L467 230M465 223L466 230M465 223L463 231M481 218L478 216M481 218L487 213M481 218L488 213M481 218L482 222M481 218L476 223M481 218L474 223M486 221L488 213M486 221L496 221M486 221L496 223M486 221L492 228M486 221L491 228M486 221L482 222M514 224L507 223M514 224L518 214M514 224L521 218M514 224L517 225M514 224L514 226M532 218L535 211M532 218L538 220M532 218L534 223M532 218L525 218M550 223L544 220M550 223L547 217M550 223L552 216M550 223L554 219M550 223L548 227M394 229L386 228M394 229L394 225M394 229L399 226M394 229L400 229M394 229L393 234M394 229L388 232M404 225L401 222M404 225L409 224M404 225L405 232M404 225L403 232M404 225L400 229M404 225L399 226M409 227L409 224M409 227L414 222M409 227L415 233M409 227L415 234M409 227L406 233M409 227L405 232M419 226L414 222M419 226L415 220M419 226L416 219M419 226L420 219M419 226L421 231M419 226L415 233M423 226L420 219M423 226L424 218M423 226L428 225M423 226L425 232M423 226L421 231M430 229L428 225M430 229L436 226M430 229L437 227M430 229L435 231M430 229L427 235M430 229L425 232M451 226L443 226M451 226L444 223M451 226L455 226M451 226L457 231M451 226L448 230M451 226L443 227M474 231L467 230M474 231L474 223M474 231L474 223M474 231L476 223M474 231L480 231M474 231L479 235M483 228L476 223M483 228L482 222M483 228L491 228M483 228L480 231M510 227L504 224M510 227L504 224M510 227L507 223M510 227L514 226M510 227L512 232M510 227L506 230M516 227L514 226M516 227L517 225M516 227L519 231M516 227L514 234M516 227L512 232M521 227L517 225M521 227L521 218M521 227L524 219M521 227L526 229M521 227L521 232M521 227L519 231M529 225L524 219M529 225L525 218M529 225L534 223M529 225L534 230M529 225L529 231M529 225L526 229M539 225L534 223M539 225L538 220M539 225L541 221M539 225L540 233M539 225L539 233M539 225L534 230M542 224L541 221M542 224L544 220M542 224L548 227M542 224L548 231M542 224L544 234M542 224L540 233M552 225L554 219M552 225L554 219M552 225L558 231M552 225L558 231M552 225L548 231M552 225L548 227M393 238L388 232M393 238L393 234M393 238L396 238M393 238L394 242M393 238L394 242M393 238L387 240M393 238L386 238M398 233L393 234M398 233L400 229M398 233L403 232M398 233L399 237M398 233L396 238M419 234L415 235M419 234L415 234M419 234L415 233M419 234L421 231M419 234L425 232M419 234L427 235M419 234L427 237M419 234L424 240M419 234L422 242M432 236L427 235M432 236L435 231M432 236L441 242M432 236L440 243M432 236L438 245M432 236L438 245M432 236L427 237M441 235L435 231M441 235L437 227M441 235L443 226M441 235L443 227M441 235L443 241M441 235L441 242M447 234L443 227M447 234L448 230M447 234L447 240M447 234L443 241M449 234L448 230M449 234L457 231M449 234L458 232M449 234L451 239M449 234L450 240M449 234L447 240M468 238L461 232M468 238L463 231M468 238L466 230M468 238L473 240M468 238L472 241M468 238L464 242M474 235L466 230M474 235L467 230M474 235L479 235M474 235L479 236M474 235L475 239M474 235L473 240M485 234L480 231M485 234L491 228M485 234L492 228M485 234L493 236M485 234L489 242M485 234L488 242M485 234L479 236M485 234L479 235M501 231L492 228M501 231L496 223M501 231L504 224M501 231L506 230M501 231L503 238M501 231L502 238M501 231L493 236M508 236L506 230M508 236L512 232M508 236L514 234M508 236L514 235M508 236L511 240M508 236L511 240M508 236L503 238M518 236L514 235M518 236L514 234M518 236L519 231M518 236L521 232M518 236L523 241M525 235L521 232M525 235L526 229M525 235L529 231M525 235L528 238M525 235L525 241M525 235L523 241M525 235L523 241M532 237L529 231M532 237L534 230M532 237L539 233M532 237L536 238M532 237L528 238M551 237L544 234M551 237L548 231M551 237L558 231M551 237L550 242M551 237L546 241M389 244L387 240M389 244L394 242M389 244L388 251M389 244L381 248M400 241L396 238M400 241L399 237M400 241L404 243M400 241L399 246M400 241L394 242M403 239L399 237M403 239L403 232M403 239L405 232M403 239L406 233M403 239L406 242M403 239L404 243M403 239L404 243M409 238L406 233M409 238L415 234M409 238L415 235M409 238L411 243M409 238L406 242M416 242L415 235M416 242L422 242M416 242L420 246M416 242L413 246M416 242L411 243M428 245L424 240M428 245L427 237M428 245L438 245M428 245L433 251M428 245L433 251M455 244L450 240M455 244L451 239M455 244L460 245M455 244L456 251M455 244L453 250M458 241L451 239M458 241L458 232M458 241L461 232M458 241L464 242M458 241L463 244M458 241L460 245M471 246L463 244M471 246L464 242M471 246L472 241M471 246L471 246M471 246L464 245M474 245L472 241M474 245L473 240M474 245L475 239M474 245L477 245M474 245L472 247M474 245L471 246M479 242L475 239M479 242L479 236M479 242L488 242M479 242L479 247M479 242L477 245M498 244L489 242M498 244L493 236M498 244L502 238M498 244L502 245M498 244L499 250M498 244L489 244M508 245L502 238M508 245L503 238M508 245L511 240M508 245L509 247M508 245L502 245M515 238L514 235M515 238L523 241M515 238L523 241M515 238L523 242M515 238L517 244M515 238L511 240M530 240L525 241M530 240L528 238M530 240L536 238M530 240L535 246M530 240L534 247M541 242L536 238M541 242L539 233M541 242L540 233M541 242L544 234M541 242L546 241M541 242L544 246M541 242L536 246M541 242L535 246M394 248L394 242M394 248L394 242M394 248L399 246M394 248L399 249M394 248L391 253M394 248L388 251M402 247L399 246M402 247L404 243M402 247L404 243M402 247L406 251M402 247L402 252M402 247L399 249M406 248L404 243M406 248L406 242M406 248L411 243M406 248L413 246M406 248L412 249M406 248L408 251M406 248L406 251M417 252L412 249M417 252L413 246M417 252L420 246M417 252L424 253M417 252L423 253M417 252L416 255M426 246L422 242M426 246L424 240M426 246L433 251M426 246L426 253M426 246L424 253M426 246L420 246M448 250L438 245M448 250L440 243M448 250L452 250M448 250L447 253M448 250L443 251M451 247L440 243M451 247L441 242M451 247L443 241M451 247L447 240M451 247L450 240M451 247L453 250M451 247L452 250M463 250L460 245M463 250L463 244M463 250L464 245M463 250L467 252M463 250L460 255M463 250L457 255M463 250L456 251M469 247L464 245M469 247L471 246M469 247L472 247M469 247L471 253M469 247L467 252M474 248L472 247M474 248L477 245M474 248L479 247M474 248L478 251M474 248L473 254M474 248L471 253M482 249L479 247M482 249L488 242M482 249L489 242M482 249L489 244M482 249L487 253M482 249L484 254M482 249L478 251M492 252L489 244M492 252L499 250M492 252L499 251M492 252L496 256M492 252L488 255M492 252L487 253M505 250L502 245M505 250L509 247M505 250L511 251M505 250L510 251M505 250L504 253M505 250L499 251M505 250L499 250M512 244L511 240M512 244L511 240M512 244L517 244M512 244L515 250M512 244L511 251M512 244L509 247M521 249L517 244M521 249L523 242M521 249L524 249M521 249L520 254M521 249L515 250M528 248L523 242M528 248L523 241M528 248L525 241M528 248L534 247M528 248L531 251M528 248L524 249M539 251L536 246M539 251L544 246M539 251L547 252M539 251L543 259M539 251L542 261M539 251L541 260M550 245L546 241M550 245L550 242M550 245L559 248M550 245L552 251M550 245L547 252M550 245L544 246M397 253L391 253M397 253L399 249M397 253L402 252M397 253L401 257M397 253L392 258M397 253L392 258M406 254L402 252M406 254L406 251M406 254L408 251M406 254L409 262M406 254L409 262M406 254L405 260M406 254L401 257M412 256L408 251M412 256L412 249M412 256L416 255M412 256L411 262M412 256L409 262M417 259L416 255M417 259L423 253M417 259L420 260M417 259L414 264M417 259L411 262M441 255L433 251M441 255L438 245M441 255L438 245M441 255L443 251M441 255L441 263M441 255L440 264M441 255L440 264M443 254L443 251M443 254L447 253M443 254L447 257M443 254L441 263M450 254L447 253M450 254L452 250M450 254L453 250M450 254L456 251M450 254L457 255M450 254L455 259M450 254L447 257M467 258L460 255M467 258L467 252M467 258L471 253M467 258L473 254M467 258L473 258M467 258L468 261M467 258L466 262M481 253L473 254M481 253L478 251M481 253L484 254M481 253L479 262M481 253L473 258M485 260L484 254M485 260L487 253M485 260L488 255M485 260L488 260M485 260L483 264M485 260L479 263M485 260L479 262M502 257L496 256M502 257L499 251M502 257L504 253M502 257L505 263M502 257L500 263M502 257L497 261M507 256L504 253M507 256L510 251M507 256L511 255M507 256L506 263M507 256L505 263M514 257L510 251M514 257L511 251M514 257L515 250M514 257L520 254M514 257L521 257M514 257L516 260M514 257L511 255M526 252L524 249M526 252L531 251M526 252L531 254M526 252L522 258M526 252L521 257M526 252L520 254M527 259L522 258M527 259L531 254M527 259L533 257M527 259L527 264M527 259L525 264M535 254L531 251M535 254L534 247M535 254L535 246M535 254L536 246M535 254L541 260M535 254L533 257M535 254L531 254M552 258L547 252M552 258L552 251M552 258L555 260M552 258L555 260M552 258L543 259M389 265L380 264M389 265L392 258M389 265L392 258M389 265L394 264M389 265L388 267M399 261L392 258M399 261L401 257M399 261L405 260M399 261L395 265M399 261L394 264M401 263L405 260M401 263L409 262M401 263L405 269M401 263L397 270M401 263L395 265M421 264L420 260M421 264L427 265M421 264L420 273M421 264L420 273M421 264L414 264M423 261L420 260M423 261L423 253M423 261L424 253M423 261L426 253M423 261L427 265M423 261L427 265M433 260L426 253M433 260L433 251M433 260L433 251M433 260L440 264M433 260L437 266M433 260L427 265M449 260L447 257M449 260L455 259M449 260L454 264M449 260L450 268M449 260L448 269M449 260L440 264M449 260L441 263M458 262L455 259M458 262L457 255M458 262L460 255M458 262L466 262M458 262L463 267M458 262L454 264M474 265L468 261M474 265L473 258M474 265L479 262M474 265L479 263M474 265L476 268M474 265L471 266M488 265L488 260M488 265L493 264M488 265L492 268M488 265L485 267M488 265L483 264M491 259L488 255M491 259L496 256M491 259L497 261M491 259L493 264M491 259L488 260M512 260L511 255M512 260L516 260M512 260L513 266M512 260L511 267M512 260L508 266M512 260L506 263M520 265L516 260M520 265L521 257M520 265L522 258M520 265L525 264M520 265L525 265M520 265L518 268M520 265L513 266M533 263L533 257M533 263L541 260M533 263L542 261M533 263L542 261M533 263L538 267M533 263L534 269M533 263L527 264M551 262L542 261M551 262L542 261M551 262L543 259M551 262L555 260M551 262L554 266M551 262L549 267M391 269L388 267M391 269L394 264M391 269L395 265M391 269L397 270M391 269L397 272M391 269L389 275M410 270L405 269M410 270L409 262M410 270L409 262M410 270L411 262M410 270L414 264M410 270L420 273M410 270L408 276M429 271L427 265M429 271L427 265M429 271L437 266M429 271L436 268M429 271L425 277M429 271L422 276M429 271L420 273M441 273L436 272M441 273L436 268M441 273L437 266M441 273L440 264M441 273L440 264M441 273L448 269M441 273L446 277M458 268L450 268M458 268L454 264M458 268L463 267M458 268L464 270M458 268L460 275M458 268L459 275M469 267L466 262M469 267L468 261M469 267L471 266M469 267L466 271M469 267L464 270M469 267L463 267M471 268L471 266M471 268L476 268M471 268L476 273M471 268L469 273M471 268L466 271M481 270L476 268M481 270L479 263M481 270L483 264M481 270L485 267M481 270L483 273M481 270L480 274M481 270L476 273M481 270L476 273M487 272L485 267M487 272L492 268M487 272L493 272M487 272L490 276M487 272L483 273M497 268L493 264M497 268L497 261M497 268L500 263M497 268L499 272M497 268L493 272M497 268L492 268M502 268L500 263M502 268L505 263M502 268L506 263M502 268L508 266M502 268L500 273M502 268L499 272M504 272L508 266M504 272L511 267M504 272L512 278M504 272L504 279M504 272L502 277M504 272L500 273M516 270L511 267M516 270L513 266M516 270L518 268M516 270L521 275M516 270L519 278M516 270L515 280M516 270L512 278M523 269L518 268M523 269L525 265M523 269L525 274M523 269L521 275M527 270L525 265M527 270L525 264M527 270L527 264M527 270L534 269M527 270L532 275M527 270L525 274M545 271L538 267M545 271L542 261M545 271L549 267M545 271L549 271M545 271L544 275M545 271L542 274M394 276L388 276M394 276L389 275M394 276L397 272M394 276L400 279M394 276L393 281M394 276L388 279M394 276L388 279M402 274L397 272M402 274L397 270M402 274L405 269M402 274L408 276M402 274L406 281M402 274L401 280M402 274L400 279M412 280L408 276M412 280L420 273M412 280L420 273M412 280L422 276M412 280L420 281M412 280L413 285M412 280L410 285M412 280L408 284M412 280L406 281M431 272L436 268M431 272L436 272M431 272L435 280M431 272L425 277M440 275L436 272M440 275L446 277M440 275L446 279M440 275L436 282M440 275L435 280M454 276L448 269M454 276L450 268M454 276L459 275M454 276L454 281M454 276L447 281M454 276L446 279M454 276L446 277M464 275L460 275M464 275L464 270M464 275L466 271M464 275L469 273M464 275L468 279M464 275L463 280M470 277L469 273M470 277L476 273M470 277L476 273M470 277L475 278M470 277L472 282M470 277L468 279M479 279L475 278M479 279L476 273M479 279L480 274M479 279L483 280M479 279L482 284M485 276L480 274M485 276L483 273M485 276L490 276M485 276L490 278M485 276L483 280M495 276L490 276M495 276L493 272M495 276L499 272M495 276L500 273M495 276L502 277M495 276L492 281M495 276L490 278M527 279L519 278M527 279L521 275M527 279L525 274M527 279L532 275M527 279L532 275M527 279L528 282M537 276L532 275M537 276L534 269M537 276L538 267M537 276L542 274M537 276L536 280M537 276L532 275M542 278L542 274M542 278L544 275M542 278L547 281M542 278L538 283M542 278L536 280M548 277L544 275M548 277L549 271M548 277L554 275M548 277L553 279M548 277L548 282M548 277L547 281M393 285L388 279M393 285L393 281M393 285L396 287M393 285L394 288M393 285L387 287M397 284L393 281M397 284L400 279M397 284L401 280M397 284L397 287M397 284L396 287M402 285L401 280M402 285L406 281M402 285L408 284M402 285L401 290M402 285L397 287M428 284L420 281M428 284L422 276M428 284L425 277M428 284L435 280M428 284L436 282M428 284L435 286M428 284L430 289M428 284L423 286M444 287L435 286M444 287L436 282M444 287L446 279M444 287L447 281M444 287L448 291M444 287L439 291M453 286L447 281M453 286L454 281M453 286L460 289M453 286L455 296M453 286L455 297M453 286L453 296M453 286L448 291M458 282L454 281M458 282L459 275M458 282L460 275M458 282L463 280M458 282L462 288M458 282L460 289M466 282L463 280M466 282L468 279M466 282L472 282M466 282L472 284M466 282L468 288M466 282L462 288M476 281L472 282M476 281L475 278M476 281L482 284M476 281L482 286M476 281L479 287M476 281L472 284M487 282L483 280M487 282L490 278M487 282L492 281M487 282L492 284M487 282L489 290M487 282L482 286M487 282L482 284M497 282L492 281M497 282L502 277M497 282L504 279M497 282L503 280M497 282L498 285M497 282L492 284M500 287L498 285M500 287L503 280M500 287L504 290M500 287L503 292M500 287L502 292M506 285L503 280M506 285L504 279M506 285L512 278M506 285L515 280M506 285L516 285M506 285L504 290M524 284L515 280M524 284L519 278M524 284L528 282M524 284L529 286M524 284L522 288M524 284L518 289M524 284L518 289M524 284L516 285M532 281L532 275M532 281L536 280M532 281L538 283M532 281L536 286M532 281L533 288M532 281L529 286M532 281L528 282M542 285L538 283M542 285L547 281M542 285L548 282M542 285L548 283M542 285L543 292M542 285L536 286M393 291L385 290M393 291L387 287M393 291L394 288M393 291L395 295M393 291L392 297M393 291L388 295M398 291L394 288M398 291L396 287M398 291L397 287M398 291L401 290M398 291L401 291M398 291L398 296M398 291L395 295M405 291L408 284M405 291L410 285M405 291L409 291M405 291L406 293M405 291L401 291M405 291L401 290M413 291L410 285M413 291L413 285M413 291L417 294M413 291L414 294M413 291L409 291M417 289L413 285M417 289L420 281M417 289L423 286M417 289L420 294M417 289L417 294M423 293L423 286M423 293L430 289M423 293L430 289M423 293L427 293M423 293L422 297M423 293L420 294M432 294L430 289M432 294L430 289M432 294L435 286M432 294L439 291M432 294L437 300M432 294L435 301M432 294L434 301M432 294L433 300M465 293L460 289M465 293L462 288M465 293L468 288M465 293L474 298M465 293L474 300M465 293L473 301M465 293L455 296M473 290L468 288M473 290L472 284M473 290L479 287M473 290L474 298M483 293L479 287M483 293L482 286M483 293L489 290M483 293L490 292M483 293L478 299M483 293L474 300M483 293L474 298M497 288L492 284M497 288L498 285M497 288L502 292M497 288L494 295M497 288L490 292M497 288L489 290M509 293L504 290M509 293L516 285M509 293L518 289M509 293L516 293M509 293L509 297M509 293L507 297M509 293L503 292M524 291L518 289M524 291L522 288M524 291L528 292M524 291L526 296M528 289L522 288M528 289L529 286M528 289L533 288M528 289L533 289M528 289L528 292M537 294L533 289M537 294L533 288M537 294L536 286M537 294L543 292M537 294L543 293M537 294L543 294M537 294L539 299M537 294L534 299M546 287L548 283M546 287L552 290M546 287L551 292M546 287L543 293M546 287L543 292M389 299L388 295M389 299L392 297M389 299L393 304M389 299L392 309M389 299L389 309M389 299L382 306M395 300L392 297M395 300L395 295M395 300L398 296M395 300L400 299M395 300L393 304M401 295L401 291M401 295L406 293M401 295L406 299M401 295L402 300M401 295L400 299M401 295L398 296M411 295L406 293M411 295L409 291M411 295L414 294M411 295L410 301M411 295L409 301M411 295L406 299M415 299L414 294M415 299L417 294M415 299L420 294M415 299L422 297M415 299L422 298M415 299L420 304M415 299L410 301M428 296L427 293M428 296L432 299M428 296L422 298M428 296L422 297M429 296L427 293M429 296L430 289M429 296L433 300M429 296L432 299M442 295L439 291M442 295L448 291M442 295L453 296M442 295L446 301M442 295L437 300M486 299L478 299M486 299L490 292M486 299L494 295M486 299L494 297M486 299L492 302M486 299L488 303M501 299L494 297M501 299L494 295M501 299L502 292M501 299L503 292M501 299L507 297M501 299L505 301M501 299L497 299M514 300L509 297M514 300L516 293M514 300L520 302M514 300L520 304M514 300L514 303M522 296L516 293M522 296L518 289M522 296L518 289M522 296L526 296M522 296L526 298M522 296L520 302M529 294L528 292M529 294L533 289M529 294L534 299M529 294L533 300M529 294L526 298M529 294L526 296M545 300L539 299M545 300L543 294M545 300L551 301M545 300L551 302M545 300L541 301M548 296L543 294M548 296L543 293M548 296L551 292M548 296L553 298M548 296L552 301M548 296L551 301M398 303L400 299M398 303L402 300M398 303L400 309M398 303L395 311M398 303L392 309M398 303L393 304M405 305L402 300M405 305L406 299M405 305L409 301M405 305L409 310M405 305L408 310M405 305L400 309M414 306L409 301M414 306L410 301M414 306L420 304M414 306L421 305M414 306L420 307M414 306L409 310M428 302L422 298M428 302L432 299M428 302L433 300M428 302L434 301M428 302L429 306M428 302L421 305M428 302L420 304M432 306L429 306M432 306L434 301M432 306L435 301M432 306L439 314M432 306L432 316M442 307L435 301M442 307L437 300M442 307L446 301M442 307L445 308M442 307L439 314M442 307L439 314M448 305L446 301M448 305L453 296M448 305L455 297M448 305L456 307M448 305L453 310M448 305L445 308M463 304L455 297M463 304L455 296M463 304L473 301M463 304L473 304M463 304L472 309M463 304L464 312M463 304L456 307M483 305L473 304M483 305L473 301M483 305L474 300M483 305L478 299M483 305L488 303M483 305L486 309M491 307L488 303M491 307L492 302M491 307L494 306M491 307L493 307M491 307L486 310M491 307L486 309M498 302L492 302M498 302L494 297M498 302L497 299M498 302L501 306M498 302L499 308M498 302L494 306M501 302L497 299M501 302L505 301M501 302L505 305M501 302L501 306M509 302L505 301M509 302L507 297M509 302L509 297M509 302L514 303M509 302L511 306M509 302L507 307M509 302L505 305M515 306L511 306M515 306L514 303M515 306L520 304M515 306L523 312M515 306L523 312M515 306L523 312M515 306L517 313M525 304L520 302M525 304L526 298M525 304L533 300M525 304L532 306M525 304L523 312M525 304L520 304M538 305L533 300M538 305L534 299M538 305L539 299M538 305L541 301M538 305L543 309M538 305L534 307M538 305L532 306M544 303L541 301M544 303L551 302M544 303L550 306M544 303L543 309M544 303L543 309M404 314L396 314M404 314L395 311M404 314L400 309M404 314L408 310M404 314L409 313M404 314L402 318M414 310L408 310M414 310L409 310M414 310L420 307M414 310L421 313M414 310L415 318M414 310L409 313M414 310L409 313M427 309L420 307M427 309L421 305M427 309L429 306M427 309L432 316M427 309L430 318M427 309L421 313M447 313L445 308M447 313L453 310M447 313L451 320M447 313L446 321M447 313L439 314M456 314L453 310M456 314L456 307M456 314L464 312M456 314L461 319M456 314L451 321M456 314L451 320M482 310L472 309M482 310L473 304M482 310L486 309M482 310L486 310M482 310L486 312M482 310L477 315M482 310L474 313M489 309L493 307M489 309L491 315M489 309L490 315M489 309L486 312M489 309L486 310M496 310L493 307M496 310L494 306M496 310L499 308M496 310L498 316M496 310L495 318M496 310L491 315M504 311L499 308M504 311L501 306M504 311L505 305M504 311L507 307M504 311L507 315M504 311L505 317M504 311L498 316M511 310L507 307M511 310L511 306M511 310L517 313M511 310L514 315M511 310L507 315M532 314L523 312M532 314L523 312M532 314L532 306M532 314L534 307M532 314L536 314M532 314L528 316M539 311L534 307M539 311L543 309M539 311L543 309M539 311L542 318M539 311L536 314M549 313L543 309M549 313L550 306M549 313L558 315M549 313L549 320M549 313L542 319M549 313L542 318M389 316L389 309M389 316L392 309M389 316L395 311M389 316L396 314M389 316L393 321M389 316L385 319M399 321L396 314M399 321L402 318M399 321L403 321M399 321L393 325M399 321L393 321M405 317L409 313M405 317L409 313M405 317L406 324M405 317L403 321M405 317L402 318M409 319L409 313M409 319L415 318M409 319L415 324M409 319L406 324M409 319L406 324M422 319L415 318M422 319L421 313M422 319L430 318M422 319L429 321M422 319L416 325M422 319L415 324M468 318L464 312M468 318L472 309M468 318L474 313M468 318L471 322M468 318L468 325M468 318L466 325M468 318L461 319M475 320L474 313M475 320L477 315M475 320L482 322M475 320L482 324M475 320L471 322M484 316L477 315M484 316L486 312M484 316L490 315M484 316L482 322M487 322L482 322M487 322L490 315M487 322L491 315M487 322L495 318M487 322L495 321M487 322L485 331M487 322L483 329M487 322L482 324M502 324L495 322M502 324L495 321M502 324L495 318M502 324L498 316M502 324L505 317M502 324L507 323M502 324L504 326M511 319L505 317M511 319L507 315M511 319L514 315M511 319L514 320M511 319L510 324M511 319L507 323M518 321L514 315M518 321L517 313M518 321L523 312M518 321L522 321M518 321L518 324M518 321L514 320M526 322L523 312M526 322L523 312M526 322L528 316M526 322L533 324M526 322L531 325M526 322L527 327M526 322L522 321M533 316L528 316M533 316L536 314M533 316L542 318M533 316L542 319M533 316L539 324M533 316L533 324M387 322L381 322M387 322L384 319M387 322L385 319M387 322L393 321M387 322L393 325M387 322L393 326M387 322L384 326M400 325L403 321M400 325L406 324M400 325L406 324M400 325L403 329M400 325L395 330M400 325L393 326M400 325L393 325M422 327L416 325M422 327L429 321M422 327L429 322M422 327L427 335M422 327L426 335M422 327L417 333M438 324L429 322M438 324L429 321M438 324L430 318M438 324L432 316M438 324L439 314M438 324L439 314M438 324L446 321M438 324L446 321M438 324L444 325M438 324L439 329M449 329L444 325M449 329L446 321M449 329L450 331M449 329L448 333M449 328L446 321M449 328L446 321M449 328L451 320M449 328L451 321M449 328L454 328M449 328L450 331M459 326L451 321M459 326L461 319M459 326L466 325M459 326L464 326M459 326L455 329M459 326L454 328M477 325L468 325M477 325L471 322M477 325L482 324M477 325L483 329M477 325L469 327M494 328L495 321M494 328L495 322M494 328L497 330M494 328L485 333M494 328L485 333M494 328L485 333M494 328L485 331M499 327L495 322M499 327L504 326M499 327L503 333M499 327L497 330M510 328L504 326M510 328L507 323M510 328L510 324M510 328L515 329M510 328L510 335M510 328L504 335M510 328L503 333M514 322L514 320M514 322L518 324M514 322L515 328M514 322L515 329M514 322L510 324M520 326L518 324M520 326L522 321M520 326L527 327M520 326L525 332M520 326L515 328M546 325L539 324M546 325L542 319M546 325L549 320M546 325L550 325M546 325L546 329M546 325L540 326M388 330L384 326M388 330L393 326M388 330L395 330M388 330L393 334M388 330L384 330M402 335L395 330M402 335L403 329M402 335L407 335M402 335L407 335M402 335L394 335M402 335L394 335M402 335L393 334M402 335L393 334M408 328L403 329M408 328L406 324M408 328L415 324M408 328L416 325M408 328L417 333M408 328L414 335M408 328L407 335M434 329L429 322M434 329L439 329M434 329L438 331M434 329L433 335M434 329L427 335M434 329L427 335M444 332L438 331M444 332L439 329M444 332L444 325M444 332L448 333M444 332L448 335M444 332L446 336M444 332L444 337M453 332L450 331M453 332L454 328M453 332L455 329M453 332L457 336M453 332L455 337M453 332L448 335M453 332L448 333M459 331L455 329M459 331L464 326M459 331L460 336M459 331L457 336M464 331L464 326M464 331L466 325M464 331L468 325M464 331L469 327M464 331L470 332M464 331L469 332M464 331L463 337M464 331L460 336M474 330L469 327M474 330L483 329M474 330L485 331M474 330L485 333M474 330L477 335M474 330L470 332M496 333L485 333M496 333L497 330M496 333L503 333M496 333L504 335M496 333L500 341M517 333L515 329M517 333L515 328M517 333L525 332M517 333L525 334M517 333L525 335M517 333L524 336M517 333L512 337M517 333L510 335M530 331L527 327M530 331L531 325M530 331L534 334M530 331L525 334M530 331L525 332M534 329L531 325M534 329L533 324M534 329L539 324M534 329L540 326M534 329L539 334M534 329L535 335M534 329L534 334M544 333L540 326M544 333L546 329M544 333L548 335M544 333L541 337M544 333L539 334M548 329L546 329M548 329L550 325M548 329L552 327M548 329L552 335M548 329L552 335M548 329L548 335M393 343L389 338M393 343L393 334M393 343L394 335M393 343L394 349M393 343L392 349M395 342L394 335M395 342L394 335M395 342L401 342M395 342L397 349M395 342L395 350M395 342L394 349M402 337L394 335M402 337L407 335M402 337L404 341M402 337L401 342M410 342L404 341M410 342L407 335M410 342L407 335M410 342L414 335M410 342L415 344M410 342L413 348M410 342L412 349M420 339L414 335M420 339L417 333M420 339L426 335M420 339L422 343M420 339L415 344M433 342L427 335M433 342L433 335M433 342L437 341M433 342L433 348M433 342L430 347M438 336L433 335M438 336L438 331M438 336L444 337M438 336L441 341M438 336L437 341M447 341L441 341M447 341L444 337M447 341L446 336M447 341L449 344M447 341L443 345M450 341L446 336M450 341L448 335M450 341L455 337M450 341L455 338M450 341L452 344M450 341L451 345M450 341L449 344M459 342L455 338M459 342L455 337M459 342L457 336M459 342L460 336M459 342L463 337M459 342L465 342M459 342L460 346M467 337L469 332M467 337L470 344M467 337L465 342M467 337L463 337M473 338L469 332M473 338L470 332M473 338L477 335M473 338L471 345M473 338L470 344M479 340L477 335M479 340L485 333M479 340L485 333M479 340L484 342M479 340L482 346M479 340L473 349M479 340L471 345M491 340L485 333M491 340L485 333M491 340L500 341M491 340L500 343M491 340L496 346M491 340L484 342M509 342L500 341M509 342L504 335M509 342L510 335M509 342L512 337M509 342L513 340M509 342L512 347M509 342L511 347M509 342L506 348M509 342L500 343M517 340L512 337M517 340L524 336M517 340L520 343M517 340L513 340M523 342L524 336M523 342L525 335M523 342L529 342M523 342L526 346M523 342L522 346M523 342L520 343M531 338L525 335M531 338L525 334M531 338L534 334M531 338L535 335M531 338L532 342M531 338L529 342M537 339L535 335M537 339L539 334M537 339L541 337M537 339L541 338M537 339L535 344M537 339L532 342M548 339L541 338M548 339L541 337M548 339L548 335M548 339L552 335M548 339L553 340M548 339L552 342M548 339L543 342M390 343L384 341M390 343L386 339M390 343L389 338M390 343L392 349M390 343L387 349M390 343L385 348M420 346L415 344M420 346L422 343M420 346L426 349M420 346L426 350M420 346L426 350M420 346L413 348M425 342L426 335M425 342L427 335M425 342L427 335M425 342L430 347M425 342L426 349M425 342L422 343M438 344L437 341M438 344L441 341M438 344L443 345M438 344L443 347M438 344L439 351M438 344L437 351M438 344L433 348M457 343L455 338M457 343L460 346M457 343L459 347M457 343L452 344M517 345L513 340M517 345L520 343M517 345L522 346M517 345L520 348M517 345L512 347M531 346L529 342M531 346L532 342M531 346L535 344M531 346L537 350M531 346L535 351M531 346L528 349M531 346L526 346M539 343L541 338M539 343L543 342M539 343L543 347M539 343L538 350M539 343L537 350M539 343L535 344M547 345L543 342M547 345L552 342M547 345L552 345M547 345L547 349M547 345L543 347" fill="none" stroke="#fff" stroke-opacity="0.55" stroke-width="0.5"/><path d="M388 219L394 215L394 215L394 225L386 228L385 226zM394 215L401 217L401 222L399 226L394 225zM401 217L405 213L415 220L414 222L409 224L401 222zM424 218L427 212L434 216L436 226L428 225zM434 216L446 215L444 223L443 226L437 227L436 226zM446 215L448 212L456 219L455 226L444 223zM456 219L462 218L463 231L461 232L458 232L457 231L455 226zM462 218L466 215L474 223L467 230L466 230L463 231zM478 216L487 213L488 213L482 222L476 223L474 223zM488 213L496 221L496 223L492 228L491 228L482 222zM507 223L518 214L521 218L517 225L514 226zM535 211L538 220L534 223L525 218zM544 220L547 217L552 216L554 219L548 227zM386 228L394 225L399 226L400 229L393 234L388 232zM401 222L409 224L405 232L403 232L400 229L399 226zM409 224L414 222L415 233L415 234L406 233L405 232zM414 222L415 220L416 219L420 219L421 231L415 233zM420 219L424 218L428 225L425 232L421 231zM428 225L436 226L437 227L435 231L427 235L425 232zM443 226L444 223L455 226L457 231L448 230L443 227zM467 230L474 223L474 223L476 223L480 231L479 235zM476 223L482 222L491 228L480 231zM504 224L504 224L507 223L514 226L512 232L506 230zM514 226L517 225L519 231L514 234L512 232zM517 225L521 218L524 219L526 229L521 232L519 231zM524 219L525 218L534 223L534 230L529 231L526 229zM534 223L538 220L541 221L540 233L539 233L534 230zM541 221L544 220L548 227L548 231L544 234L540 233zM554 219L554 219L558 231L558 231L548 231L548 227zM388 232L393 234L396 238L394 242L394 242L387 240L386 238zM393 234L400 229L403 232L399 237L396 238zM415 235L415 234L415 233L421 231L425 232L427 235L427 237L424 240L422 242zM427 235L435 231L441 242L440 243L438 245L438 245L427 237zM435 231L437 227L443 226L443 227L443 241L441 242zM443 227L448 230L447 240L443 241zM448 230L457 231L458 232L451 239L450 240L447 240zM461 232L463 231L466 230L473 240L472 241L464 242zM466 230L467 230L479 235L479 236L475 239L473 240zM480 231L491 228L492 228L493 236L489 242L488 242L479 236L479 235zM492 228L496 223L504 224L506 230L503 238L502 238L493 236zM506 230L512 232L514 234L514 235L511 240L511 240L503 238zM514 235L514 234L519 231L521 232L523 241zM521 232L526 229L529 231L528 238L525 241L523 241L523 241zM529 231L534 230L539 233L536 238L528 238zM544 234L548 231L558 231L550 242L546 241zM387 240L394 242L388 251L381 248zM396 238L399 237L404 243L399 246L394 242zM399 237L403 232L405 232L406 233L406 242L404 243L404 243zM406 233L415 234L415 235L411 243L406 242zM415 235L422 242L420 246L413 246L411 243zM424 240L427 237L438 245L433 251L433 251zM450 240L451 239L460 245L456 251L453 250zM451 239L458 232L461 232L464 242L463 244L460 245zM463 244L464 242L472 241L471 246L464 245zM472 241L473 240L475 239L477 245L472 247L471 246zM475 239L479 236L488 242L479 247L477 245zM489 242L493 236L502 238L502 245L499 250L489 244zM502 238L503 238L511 240L509 247L502 245zM514 235L523 241L523 241L523 242L517 244L511 240zM525 241L528 238L536 238L535 246L534 247zM536 238L539 233L540 233L544 234L546 241L544 246L536 246L535 246zM394 242L394 242L399 246L399 249L391 253L388 251zM399 246L404 243L404 243L406 251L402 252L399 249zM404 243L406 242L411 243L413 246L412 249L408 251L406 251zM412 249L413 246L420 246L424 253L423 253L416 255zM422 242L424 240L433 251L426 253L424 253L420 246zM438 245L440 243L452 250L447 253L443 251zM440 243L441 242L443 241L447 240L450 240L453 250L452 250zM460 245L463 244L464 245L467 252L460 255L457 255L456 251zM464 245L471 246L472 247L471 253L467 252zM472 247L477 245L479 247L478 251L473 254L471 253zM479 247L488 242L489 242L489 244L487 253L484 254L478 251zM489 244L499 250L499 251L496 256L488 255L487 253zM502 245L509 247L511 251L510 251L504 253L499 251L499 250zM511 240L511 240L517 244L515 250L511 251L509 247zM517 244L523 242L524 249L520 254L515 250zM523 242L523 241L525 241L534 247L531 251L524 249zM536 246L544 246L547 252L543 259L542 261L541 260zM546 241L550 242L559 248L552 251L547 252L544 246zM391 253L399 249L402 252L401 257L392 258L392 258zM402 252L406 251L408 251L409 262L409 262L405 260L401 257zM408 251L412 249L416 255L411 262L409 262zM416 255L423 253L420 260L414 264L411 262zM433 251L438 245L438 245L443 251L441 263L440 264L440 264zM443 251L447 253L447 257L441 263zM447 253L452 250L453 250L456 251L457 255L455 259L447 257zM460 255L467 252L471 253L473 254L473 258L468 261L466 262zM473 254L478 251L484 254L479 262L473 258zM484 254L487 253L488 255L488 260L483 264L479 263L479 262zM496 256L499 251L504 253L505 263L500 263L497 261zM504 253L510 251L511 255L506 263L505 263zM510 251L511 251L515 250L520 254L521 257L516 260L511 255zM524 249L531 251L531 254L522 258L521 257L520 254zM522 258L531 254L533 257L527 264L525 264zM531 251L534 247L535 246L536 246L541 260L533 257L531 254zM547 252L552 251L555 260L555 260L543 259zM380 264L392 258L392 258L394 264L388 267zM392 258L401 257L405 260L395 265L394 264zM405 260L409 262L405 269L397 270L395 265zM420 260L427 265L420 273L420 273L414 264zM420 260L423 253L424 253L426 253L427 265L427 265zM426 253L433 251L433 251L440 264L437 266L427 265zM447 257L455 259L454 264L450 268L448 269L440 264L441 263zM455 259L457 255L460 255L466 262L463 267L454 264zM468 261L473 258L479 262L479 263L476 268L471 266zM488 260L493 264L492 268L485 267L483 264zM488 255L496 256L497 261L493 264L488 260zM511 255L516 260L513 266L511 267L508 266L506 263zM516 260L521 257L522 258L525 264L525 265L518 268L513 266zM533 257L541 260L542 261L542 261L538 267L534 269L527 264zM542 261L542 261L543 259L555 260L554 266L549 267zM388 267L394 264L395 265L397 270L397 272L389 275zM405 269L409 262L409 262L411 262L414 264L420 273L408 276zM427 265L427 265L437 266L436 268L425 277L422 276L420 273zM436 272L436 268L437 266L440 264L440 264L448 269L446 277zM450 268L454 264L463 267L464 270L460 275L459 275zM466 262L468 261L471 266L466 271L464 270L463 267zM471 266L476 268L476 273L469 273L466 271zM476 268L479 263L483 264L485 267L483 273L480 274L476 273L476 273zM485 267L492 268L493 272L490 276L483 273zM493 264L497 261L500 263L499 272L493 272L492 268zM500 263L505 263L506 263L508 266L500 273L499 272zM508 266L511 267L512 278L504 279L502 277L500 273zM511 267L513 266L518 268L521 275L519 278L515 280L512 278zM518 268L525 265L525 274L521 275zM525 265L525 264L527 264L534 269L532 275L525 274zM538 267L542 261L549 267L549 271L544 275L542 274zM388 276L389 275L397 272L400 279L393 281L388 279L388 279zM397 272L397 270L405 269L408 276L406 281L401 280L400 279zM408 276L420 273L420 273L422 276L420 281L413 285L410 285L408 284L406 281zM436 268L436 272L435 280L425 277zM436 272L446 277L446 279L436 282L435 280zM448 269L450 268L459 275L454 281L447 281L446 279L446 277zM460 275L464 270L466 271L469 273L468 279L463 280zM469 273L476 273L476 273L475 278L472 282L468 279zM475 278L476 273L480 274L483 280L482 284zM480 274L483 273L490 276L490 278L483 280zM490 276L493 272L499 272L500 273L502 277L492 281L490 278zM519 278L521 275L525 274L532 275L532 275L528 282zM532 275L534 269L538 267L542 274L536 280L532 275zM542 274L544 275L547 281L538 283L536 280zM544 275L549 271L554 275L553 279L548 282L547 281zM388 279L393 281L396 287L394 288L387 287zM393 281L400 279L401 280L397 287L396 287zM401 280L406 281L408 284L401 290L397 287zM420 281L422 276L425 277L435 280L436 282L435 286L430 289L423 286zM435 286L436 282L446 279L447 281L448 291L439 291zM447 281L454 281L460 289L455 296L455 297L453 296L448 291zM454 281L459 275L460 275L463 280L462 288L460 289zM463 280L468 279L472 282L472 284L468 288L462 288zM472 282L475 278L482 284L482 286L479 287L472 284zM483 280L490 278L492 281L492 284L489 290L482 286L482 284zM492 281L502 277L504 279L503 280L498 285L492 284zM498 285L503 280L504 290L503 292L502 292zM503 280L504 279L512 278L515 280L516 285L504 290zM515 280L519 278L528 282L529 286L522 288L518 289L518 289L516 285zM532 275L536 280L538 283L536 286L533 288L529 286L528 282zM538 283L547 281L548 282L548 283L543 292L536 286zM385 290L387 287L394 288L395 295L392 297L388 295zM394 288L396 287L397 287L401 290L401 291L398 296L395 295zM408 284L410 285L409 291L406 293L401 291L401 290zM410 285L413 285L417 294L414 294L409 291zM413 285L420 281L423 286L420 294L417 294zM423 286L430 289L430 289L427 293L422 297L420 294zM430 289L430 289L435 286L439 291L437 300L435 301L434 301L433 300zM460 289L462 288L468 288L474 298L474 300L473 301L455 296zM468 288L472 284L479 287L474 298zM479 287L482 286L489 290L490 292L478 299L474 300L474 298zM492 284L498 285L502 292L494 295L490 292L489 290zM504 290L516 285L518 289L516 293L509 297L507 297L503 292zM518 289L522 288L528 292L526 296zM522 288L529 286L533 288L533 289L528 292zM533 289L533 288L536 286L543 292L543 293L543 294L539 299L534 299zM548 283L552 290L551 292L543 293L543 292zM388 295L392 297L393 304L392 309L389 309L382 306zM392 297L395 295L398 296L400 299L393 304zM401 291L406 293L406 299L402 300L400 299L398 296zM406 293L409 291L414 294L410 301L409 301L406 299zM414 294L417 294L420 294L422 297L422 298L420 304L410 301zM427 293L432 299L422 298L422 297zM427 293L430 289L433 300L432 299zM439 291L448 291L453 296L446 301L437 300zM478 299L490 292L494 295L494 297L492 302L488 303zM494 297L494 295L502 292L503 292L507 297L505 301L497 299zM509 297L516 293L520 302L520 304L514 303zM516 293L518 289L518 289L526 296L526 298L520 302zM528 292L533 289L534 299L533 300L526 298L526 296zM539 299L543 294L551 301L551 302L541 301zM543 294L543 293L551 292L553 298L552 301L551 301zM400 299L402 300L400 309L395 311L392 309L393 304zM402 300L406 299L409 301L409 310L408 310L400 309zM409 301L410 301L420 304L421 305L420 307L409 310zM422 298L432 299L433 300L434 301L429 306L421 305L420 304zM429 306L434 301L435 301L439 314L432 316zM435 301L437 300L446 301L445 308L439 314L439 314zM446 301L453 296L455 297L456 307L453 310L445 308zM455 297L455 296L473 301L473 304L472 309L464 312L456 307zM473 304L473 301L474 300L478 299L488 303L486 309zM488 303L492 302L494 306L493 307L486 310L486 309zM492 302L494 297L497 299L501 306L499 308L494 306zM497 299L505 301L505 305L501 306zM505 301L507 297L509 297L514 303L511 306L507 307L505 305zM511 306L514 303L520 304L523 312L523 312L523 312L517 313zM520 302L526 298L533 300L532 306L523 312L520 304zM533 300L534 299L539 299L541 301L543 309L534 307L532 306zM541 301L551 302L550 306L543 309L543 309zM396 314L395 311L400 309L408 310L409 313L402 318zM408 310L409 310L420 307L421 313L415 318L409 313L409 313zM420 307L421 305L429 306L432 316L430 318L421 313zM445 308L453 310L451 320L446 321L439 314zM453 310L456 307L464 312L461 319L451 321L451 320zM472 309L473 304L486 309L486 310L486 312L477 315L474 313zM493 307L491 315L490 315L486 312L486 310zM493 307L494 306L499 308L498 316L495 318L491 315zM499 308L501 306L505 305L507 307L507 315L505 317L498 316zM507 307L511 306L517 313L514 315L507 315zM523 312L523 312L532 306L534 307L536 314L528 316zM534 307L543 309L543 309L542 318L536 314zM543 309L550 306L558 315L549 320L542 319L542 318zM389 309L392 309L395 311L396 314L393 321L385 319zM396 314L402 318L403 321L393 325L393 321zM409 313L409 313L406 324L403 321L402 318zM409 313L415 318L415 324L406 324L406 324zM415 318L421 313L430 318L429 321L416 325L415 324zM464 312L472 309L474 313L471 322L468 325L466 325L461 319zM474 313L477 315L482 322L482 324L471 322zM477 315L486 312L490 315L482 322zM482 322L490 315L491 315L495 318L495 321L485 331L483 329L482 324zM495 322L495 321L495 318L498 316L505 317L507 323L504 326zM505 317L507 315L514 315L514 320L510 324L507 323zM514 315L517 313L523 312L522 321L518 324L514 320zM523 312L523 312L528 316L533 324L531 325L527 327L522 321zM528 316L536 314L542 318L542 319L539 324L533 324zM381 322L384 319L385 319L393 321L393 325L393 326L384 326zM403 321L406 324L406 324L403 329L395 330L393 326L393 325zM416 325L429 321L429 322L427 335L426 335L417 333zM429 322L429 321L430 318L432 316L439 314L439 314L446 321L446 321L444 325L439 329zM444 325L446 321L450 331L448 333zM446 321L446 321L451 320L451 321L454 328L450 331zM451 321L461 319L466 325L464 326L455 329L454 328zM468 325L471 322L482 324L483 329L469 327zM495 321L495 322L497 330L485 333L485 333L485 333L485 331zM495 322L504 326L503 333L497 330zM504 326L507 323L510 324L515 329L510 335L504 335L503 333zM514 320L518 324L515 328L515 329L510 324zM518 324L522 321L527 327L525 332L515 328zM539 324L542 319L549 320L550 325L546 329L540 326zM384 326L393 326L395 330L393 334L384 330zM395 330L403 329L407 335L407 335L394 335L394 335L393 334L393 334zM403 329L406 324L415 324L416 325L417 333L414 335L407 335zM429 322L439 329L438 331L433 335L427 335L427 335zM438 331L439 329L444 325L448 333L448 335L446 336L444 337zM450 331L454 328L455 329L457 336L455 337L448 335L448 333zM455 329L464 326L460 336L457 336zM464 326L466 325L468 325L469 327L470 332L469 332L463 337L460 336zM469 327L483 329L485 331L485 333L477 335L470 332zM485 333L497 330L503 333L504 335L500 341zM515 329L515 328L525 332L525 334L525 335L524 336L512 337L510 335zM527 327L531 325L534 334L525 334L525 332zM531 325L533 324L539 324L540 326L539 334L535 335L534 334zM540 326L546 329L548 335L541 337L539 334zM546 329L550 325L552 327L552 335L552 335L548 335zM389 338L393 334L394 335L394 349L392 349zM394 335L394 335L401 342L397 349L395 350L394 349zM394 335L407 335L404 341L401 342zM404 341L407 335L407 335L414 335L415 344L413 348L412 349zM414 335L417 333L426 335L422 343L415 344zM427 335L433 335L437 341L433 348L430 347zM433 335L438 331L444 337L441 341L437 341zM441 341L444 337L446 336L449 344L443 345zM446 336L448 335L455 337L455 338L452 344L451 345L449 344zM455 338L455 337L457 336L460 336L463 337L465 342L460 346zM469 332L470 344L465 342L463 337zM469 332L470 332L477 335L471 345L470 344zM477 335L485 333L485 333L484 342L482 346L473 349L471 345zM485 333L485 333L500 341L500 343L496 346L484 342zM500 341L504 335L510 335L512 337L513 340L512 347L511 347L506 348L500 343zM512 337L524 336L520 343L513 340zM524 336L525 335L529 342L526 346L522 346L520 343zM525 335L525 334L534 334L535 335L532 342L529 342zM535 335L539 334L541 337L541 338L535 344L532 342zM541 338L541 337L548 335L552 335L553 340L552 342L543 342zM384 341L386 339L389 338L392 349L387 349L385 348zM415 344L422 343L426 349L426 350L426 350L413 348zM426 335L427 335L427 335L430 347L426 349L422 343zM437 341L441 341L443 345L443 347L439 351L437 351L433 348zM455 338L460 346L459 347L452 344zM513 340L520 343L522 346L520 348L512 347zM529 342L532 342L535 344L537 350L535 351L528 349L526 346zM541 338L543 342L543 347L538 350L537 350L535 344zM543 342L552 342L552 345L547 349L543 347z" fill="none" stroke="#fff" stroke-opacity="0.75" stroke-width="0.65" stroke-linejoin="bevel"/></g>
</g>
<g clip-path="url(#clip_g)"><g filter="url(#bl_g)">
<path d="M220.0 320.6h19.4v19.8h-19.4zM239.0 320.6h19.4v19.8h-19.4zM220.0 340.0h19.4v19.8h-19.4zM239.0 340.0h19.4v19.8h-19.4zM220.0 398.2h19.4v19.8h-19.4zM239.0 398.2h19.4v19.8h-19.4zM258.0 417.7h19.4v19.8h-19.4z" fill="rgb(120,120,120)"/>
<path d="M258.0 320.6h19.4v19.8h-19.4zM258.0 340.0h19.4v19.8h-19.4zM258.0 359.4h19.4v19.8h-19.4zM277.1 378.8h19.4v19.8h-19.4zM258.0 398.2h19.4v19.8h-19.4zM277.1 417.7h19.4v19.8h-19.4zM277.1 437.1h19.4v19.8h-19.4zM277.1 456.5h19.4v19.8h-19.4z" fill="rgb(125,125,125)"/>
<path d="M277.1 320.6h19.4v19.8h-19.4zM296.1 320.6h19.4v19.8h-19.4zM334.2 320.6h19.4v19.8h-19.4zM372.3 320.6h19.4v19.8h-19.4zM391.3 320.6h19.4v19.8h-19.4zM277.1 340.0h19.4v19.8h-19.4zM296.1 340.0h19.4v19.8h-19.4zM334.2 340.0h19.4v19.8h-19.4zM372.3 340.0h19.4v19.8h-19.4zM391.3 340.0h19.4v19.8h-19.4zM315.1 359.4h19.4v19.8h-19.4zM372.3 359.4h19.4v19.8h-19.4zM391.3 359.4h19.4v19.8h-19.4zM296.1 378.8h19.4v19.8h-19.4zM353.2 378.8h19.4v19.8h-19.4zM315.1 398.2h19.4v19.8h-19.4zM372.3 398.2h19.4v19.8h-19.4zM391.3 398.2h19.4v19.8h-19.4zM296.1 417.7h19.4v19.8h-19.4zM334.2 417.7h19.4v19.8h-19.4zM372.3 417.7h19.4v19.8h-19.4zM391.3 417.7h19.4v19.8h-19.4zM315.1 437.1h19.4v19.8h-19.4zM353.2 437.1h19.4v19.8h-19.4zM315.1 456.5h19.4v19.8h-19.4zM353.2 456.5h19.4v19.8h-19.4z" fill="rgb(130,130,130)"/>
<path d="M315.1 320.6h19.4v19.8h-19.4zM315.1 340.0h19.4v19.8h-19.4zM277.1 359.4h19.4v19.8h-19.4zM372.3 378.8h19.4v19.8h-19.4zM391.3 378.8h19.4v19.8h-19.4zM277.1 398.2h19.4v19.8h-19.4zM296.1 398.2h19.4v19.8h-19.4zM334.2 398.2h19.4v19.8h-19.4zM315.1 417.7h19.4v19.8h-19.4zM353.2 417.7h19.4v19.8h-19.4zM296.1 437.1h19.4v19.8h-19.4zM334.2 437.1h19.4v19.8h-19.4zM372.3 437.1h19.4v19.8h-19.4zM391.3 437.1h19.4v19.8h-19.4zM296.1 456.5h19.4v19.8h-19.4zM334.2 456.5h19.4v19.8h-19.4zM372.3 456.5h19.4v19.8h-19.4zM391.3 456.5h19.4v19.8h-19.4z" fill="rgb(128,128,128)"/>
<path d="M353.2 320.6h19.4v19.8h-19.4zM353.2 340.0h19.4v19.8h-19.4zM334.2 359.4h19.4v19.8h-19.4zM353.2 359.4h19.4v19.8h-19.4zM315.1 378.8h19.4v19.8h-19.4z" fill="rgb(135,135,135)"/>
<path d="M220.0 359.4h19.4v19.8h-19.4zM239.0 359.4h19.4v19.8h-19.4zM220.0 417.7h19.4v19.8h-19.4zM239.0 417.7h19.4v19.8h-19.4z" fill="rgb(115,115,115)"/>
<path d="M296.1 359.4h19.4v19.8h-19.4zM334.2 378.8h19.4v19.8h-19.4zM353.2 398.2h19.4v19.8h-19.4z" fill="rgb(132,132,132)"/>
<path d="M220.0 378.8h19.4v19.8h-19.4zM239.0 378.8h19.4v19.8h-19.4zM220.0 437.1h19.4v19.8h-19.4zM239.0 437.1h19.4v19.8h-19.4zM220.0 456.5h19.4v19.8h-19.4zM239.0 456.5h19.4v19.8h-19.4z" fill="rgb(118,118,118)"/>
<path d="M258.0 378.8h19.4v19.8h-19.4zM258.0 437.1h19.4v19.8h-19.4zM258.0 456.5h19.4v19.8h-19.4z" fill="rgb(122,122,122)"/>
</g>
<g filter="url(#soft)"><path d="M272 345L277 340 279 348zM295 348L302 348 292 360zM342 406L351 411 349 411zM265 422L266 431 260 429zM287 426L287 420 292 421zM287 426L294 422 293 428zM351 421L351 427 351 429zM306 436L313 438 306 443zM239 456L242 450 243 459z" fill="rgb(48,48,48)" stroke="rgb(48,48,48)" stroke-width="0.6"/><path d="M272 345L266 341 277 340zM272 345L279 348 276 354zM397 346L406 350 393 351zM261 357L264 351 265 363zM285 354L292 360 278 363zM295 348L301 346 302 348zM334 360L346 357 334 367zM287 371L296 365 293 374zM269 380L265 374 274 373zM269 380L274 373 275 378zM341 383L347 388 343 390zM375 384L377 377 383 377zM370 388L374 388 372 396zM279 399L285 390 285 406zM293 401L299 406 295 408zM342 406L355 407 355 408zM342 406L355 408 351 411zM259 407L264 399 266 402zM364 412L371 415 360 416zM237 426L246 424 240 433zM265 422L273 429 266 431zM287 426L292 421 294 422zM251 430L260 429 254 437zM300 426L306 429 300 433zM318 435L325 427 328 430zM306 436L306 429 313 438zM238 446L241 444 244 448zM238 446L244 448 242 450zM238 446L242 450 234 451zM246 451L247 447 255 451zM396 450L423 450 398 459zM283 462L286 457 288 464zM390 456L387 444 398 459zM314 464L319 468 314 471z" fill="rgb(60,60,60)" stroke="rgb(60,60,60)" stroke-width="0.6"/><path d="M272 334L278 339 277 340zM300 337L304 331 305 332zM300 337L305 332 301 346zM321 331L332 337 333 337zM232 343L236 337 242 348zM261 345L266 341 265 351zM261 345L265 351 264 351zM261 345L264 351 255 352zM397 346L406 349 406 350zM231 359L235 352 236 352zM231 359L236 352 236 358zM231 359L236 358 232 369zM261 357L265 363 262 364zM267 358L278 363 277 365zM285 354L292 360 292 360zM295 348L294 344 301 346zM295 348L292 360 289 350zM298 354L313 357 304 365zM298 354L304 365 296 365zM334 360L346 355 347 356zM334 360L347 356 346 357zM241 362L249 362 249 368zM241 362L249 368 249 368zM256 361L262 364 259 367zM256 361L259 367 249 368zM267 368L277 367 274 373zM287 371L293 374 290 376zM319 380L323 380 322 384zM325 374L335 370 336 373zM269 380L275 378 265 387zM271 385L275 378 284 387zM271 385L284 387 284 389zM271 385L282 390 265 387zM294 383L300 380 296 390zM303 386L308 392 307 393zM316 384L322 384 324 391zM331 377L324 391 322 384zM341 383L349 380 347 388zM375 384L383 377 384 377zM375 384L384 377 384 378zM375 384L384 378 383 380zM241 389L252 382 250 391zM241 389L250 391 245 397zM241 389L245 397 239 397zM260 391L265 387 265 398zM370 388L371 383 374 388zM377 389L383 397 373 398zM246 404L252 410 250 412zM254 400L264 398 264 399zM254 400L264 399 253 405zM275 400L277 394 276 406zM293 401L295 408 285 406zM342 406L349 411 339 404zM361 398L363 396 362 406zM378 405L383 397 387 399zM378 405L387 399 390 411zM378 405L390 411 389 412zM244 412L250 412 249 421zM259 407L266 402 264 412zM290 416L292 421 287 420zM364 412L369 406 371 408zM364 412L371 408 371 415zM375 411L371 408 389 412zM375 411L389 412 377 425zM237 426L248 422 246 424zM265 422L274 419 273 429zM281 422L287 420 279 432zM281 422L279 432 273 429zM333 420L332 430 328 430zM340 419L343 428 339 427zM351 421L351 429 344 428zM351 421L344 428 343 428zM365 418L367 425 360 421zM251 430L248 422 249 421zM251 430L249 421 256 424zM251 430L256 424 260 429zM300 426L308 419 309 420zM300 426L309 420 306 429zM390 432L383 444 382 438zM244 441L249 439 247 447zM260 439L266 431 264 445zM306 436L313 438 313 438zM332 439L338 441 335 446zM338 436L341 440 338 441zM347 438L346 442 341 440zM371 437L378 429 382 438zM371 437L382 438 383 444zM246 451L255 451 255 453zM346 449L353 446 347 458zM346 449L346 459 346 459zM363 453L372 454 360 459zM396 450L387 444 413 443zM396 450L415 445 423 450zM239 456L243 459 239 465zM248 462L252 470 239 465zM248 462L239 465 239 465zM283 462L288 464 284 466zM290 458L294 465 288 464zM290 458L288 464 286 457zM390 456L383 444 386 444zM390 456L398 459 397 460zM314 464L319 463 319 468zM326 466L332 466 331 469z" fill="rgb(72,72,72)" stroke="rgb(72,72,72)" stroke-width="0.6"/><path d="M258 340L262 333 266 341zM258 340L266 341 251 344zM272 334L277 340 266 341zM321 331L330 333 332 337zM321 331L332 338 315 338zM285 344L291 337 291 337zM306 339L314 339 310 351zM306 339L310 351 302 348zM231 359L226 356 235 352zM231 359L232 369 231 368zM240 358L249 362 236 358zM267 358L276 354 278 363zM267 358L277 365 265 363zM285 354L289 350 292 360zM298 354L312 354 313 357zM298 354L296 365 292 360zM298 354L292 360 292 360zM333 358L334 367 334 367zM333 358L334 367 333 367zM334 360L334 345 346 355zM241 362L249 368 232 369zM256 361L249 368 249 362zM267 368L277 365 277 367zM267 368L274 373 265 374zM323 365L320 371 319 371zM390 360L392 355 395 362zM393 365L395 362 402 367zM258 373L265 374 260 382zM282 376L290 376 284 387zM282 376L284 387 275 378zM287 371L292 360 296 365zM325 374L334 367 335 370zM325 374L336 373 323 380zM371 374L377 377 371 381zM230 388L236 381 230 392zM271 385L284 389 282 390zM294 383L296 390 293 391zM294 383L293 391 285 390zM303 386L308 379 308 392zM303 386L307 393 296 390zM316 384L324 391 322 393zM331 377L336 382 326 392zM331 377L326 392 324 391zM357 383L360 378 362 388zM357 383L362 388 358 390zM375 384L383 380 381 385zM390 385L400 386 398 391zM390 385L398 391 393 393zM393 378L402 376 402 383zM236 386L239 383 239 397zM236 386L232 402 230 392zM241 389L239 383 250 380zM241 389L250 380 252 382zM272 391L277 394 265 398zM361 394L362 388 364 388zM370 388L372 396 366 392zM377 389L381 385 383 397zM377 389L373 398 372 396zM388 388L393 393 387 399zM246 404L253 405 252 410zM279 399L285 406 280 409zM329 404L331 412 329 412zM337 401L341 397 339 404zM342 406L341 397 353 402zM342 406L353 402 355 407zM366 399L372 396 373 398zM366 399L373 398 369 406zM366 399L369 406 362 406zM378 405L389 412 371 408zM244 412L249 421 248 422zM259 407L253 405 264 399zM297 416L303 407 308 419zM297 416L308 419 294 422zM313 410L321 410 311 420zM340 409L349 411 345 413zM237 426L240 433 230 434zM265 422L265 415 274 419zM281 422L273 429 274 419zM333 420L339 427 332 430zM333 420L328 430 325 427zM333 420L325 427 329 412zM354 421L360 421 351 427zM365 418L373 423 367 425zM389 427L400 415 399 425zM318 435L320 426 325 427zM318 435L328 430 326 437zM386 430L394 427 382 438zM238 440L241 435 241 444zM260 439L264 445 261 445zM271 441L282 438 270 447zM271 441L270 447 264 445zM306 436L306 443 300 435zM322 440L327 444 318 444zM338 436L338 441 332 430zM347 438L351 442 346 442zM371 437L383 444 379 447zM371 437L379 447 375 448zM246 451L242 450 244 448zM246 451L244 448 247 447zM246 451L255 453 250 458zM263 452L270 447 273 457zM280 451L284 439 285 442zM301 450L305 456 297 455zM334 455L341 452 343 456zM343 443L341 440 346 442zM346 449L347 458 346 459zM358 452L353 446 361 448zM396 450L413 443 415 445zM239 456L234 451 242 450zM248 462L239 465 243 459zM300 461L305 456 304 467zM323 458L329 460 319 463zM334 459L343 456 346 459zM377 463L379 447 385 464zM377 463L385 464 372 465zM390 456L386 444 387 444zM390 456L397 460 385 464zM270 463L274 464 258 472zM270 463L258 472 262 460zM326 466L331 469 321 469z" fill="rgb(84,84,84)" stroke="rgb(84,84,84)" stroke-width="0.6"/><path d="M244 337L242 348 236 337zM272 334L274 322 278 339zM300 337L299 330 304 331zM312 329L314 339 305 332zM312 329L305 332 304 331zM321 331L316 329 330 333zM321 331L333 337 332 338zM384 332L390 335 383 338zM232 343L242 348 236 352zM272 345L276 354 265 351zM272 345L265 351 266 341zM285 344L290 336 291 337zM286 346L291 337 294 344zM306 339L302 348 301 346zM319 346L332 339 312 354zM347 344L354 333 356 344zM347 344L356 344 346 355zM388 342L396 334 391 349zM397 346L407 342 407 343zM397 346L407 343 406 349zM397 346L393 351 391 349zM231 359L231 368 226 356zM240 358L249 349 250 351zM261 357L262 364 255 352zM285 354L278 363 276 354zM298 354L302 348 310 351zM298 354L310 351 312 354zM298 354L292 360 302 348zM323 350L332 339 334 345zM323 350L334 345 333 348zM323 350L333 348 325 358zM333 358L333 367 325 358zM334 360L334 367 333 348zM384 356L392 355 381 364zM397 358L406 350 408 366zM397 358L408 366 404 368zM397 358L404 368 402 367zM397 358L402 367 395 362zM241 362L236 358 249 362zM241 362L232 369 232 369zM267 368L265 363 277 365zM323 365L325 358 333 367zM323 365L333 367 320 371zM393 365L402 367 385 371zM258 373L259 367 265 374zM300 376L309 377 309 378zM311 370L319 371 309 377zM319 380L320 371 323 380zM325 374L320 371 333 367zM325 374L333 367 334 367zM356 375L360 378 350 380zM356 375L350 380 349 380zM230 388L231 376 236 381zM269 380L265 387 260 382zM269 380L260 382 265 374zM294 383L285 390 284 389zM316 384L322 393 308 392zM331 377L322 384 323 380zM341 383L338 376 347 377zM341 383L347 377 349 380zM341 383L343 390 336 382zM393 378L402 383 400 386zM236 386L239 397 232 402zM260 391L265 398 264 398zM302 395L296 390 307 393zM302 395L307 393 304 406zM337 388L340 396 329 394zM361 394L366 392 363 396zM377 389L372 396 374 388zM388 388L387 399 383 397zM254 400L250 391 264 398zM279 399L284 389 285 390zM279 399L280 409 276 406zM329 404L329 412 321 410zM337 401L339 404 333 412zM361 398L362 406 355 407zM366 399L362 406 363 396zM378 405L373 398 383 397zM398 403L398 391 408 403zM398 403L408 403 404 413zM398 403L404 413 400 415zM258 415L265 415 256 424zM270 408L276 406 280 409zM270 408L280 409 280 413zM290 416L295 408 292 421zM313 410L309 420 308 419zM340 409L345 413 334 413zM364 412L362 406 369 406zM265 422L260 429 256 424zM287 426L293 428 282 436zM340 419L345 413 343 428zM340 419L339 427 334 413zM351 421L343 428 345 413zM354 421L360 416 360 421zM365 418L371 415 373 423zM389 427L399 425 394 427zM248 433L251 437 249 439zM248 433L249 439 241 435zM251 430L246 424 248 422zM251 430L254 437 251 437zM294 433L300 435 296 438zM300 426L300 433 293 428zM311 430L320 426 314 437zM311 430L314 437 313 438zM311 430L313 438 306 429zM318 435L326 437 314 437zM360 430L362 435 354 434zM369 430L378 426 378 429zM390 432L400 429 386 444zM390 432L386 444 383 444zM244 441L247 447 244 448zM244 441L244 448 241 444zM254 443L254 437 261 445zM293 442L296 438 298 446zM293 442L298 446 294 449zM301 440L300 435 306 443zM306 436L300 435 300 433zM306 436L300 433 306 429zM332 439L335 446 329 446zM332 439L329 446 327 444zM358 442L365 438 367 445zM358 442L367 445 361 448zM371 437L375 448 367 445zM396 439L400 429 413 443zM396 439L413 443 387 444zM238 446L234 451 230 448zM238 446L230 448 230 441zM263 452L264 445 270 447zM280 451L282 438 284 439zM280 451L285 442 281 454zM280 451L281 454 273 457zM288 453L294 452 286 457zM288 453L286 457 281 454zM301 450L309 453 305 456zM311 447L313 438 318 444zM311 447L318 444 313 454zM321 451L327 451 316 456zM334 455L343 456 330 457zM343 443L346 442 341 452zM346 449L346 459 343 456zM346 449L343 456 341 452zM358 452L361 448 360 459zM363 453L367 445 375 448zM363 453L375 448 372 454zM239 456L239 465 233 463zM239 456L233 463 234 451zM290 458L297 455 294 465zM300 461L304 467 296 468zM311 463L306 468 306 468zM311 463L306 468 304 467zM323 458L330 457 329 460zM334 459L346 459 332 466zM368 460L372 465 366 472zM368 460L366 472 360 460zM390 456L379 447 383 444zM270 463L275 463 274 464zM314 464L316 458 319 463zM314 464L314 471 306 468zM326 466L329 460 332 466z" fill="rgb(96,96,96)" stroke="rgb(96,96,96)" stroke-width="0.6"/><path d="M244 337L251 344 249 349zM244 337L249 349 242 348zM272 334L266 341 266 341zM272 334L266 341 262 333zM283 333L290 336 278 339zM300 337L301 346 294 344zM312 329L316 329 315 338zM312 329L315 338 314 339zM232 343L232 336 236 337zM261 345L266 341 266 341zM261 345L255 352 250 351zM261 345L250 351 249 349zM261 345L249 349 251 344zM285 344L291 337 284 349zM286 346L294 344 289 350zM286 346L284 349 291 337zM306 339L301 346 305 332zM319 346L332 338 332 339zM347 344L342 333 354 333zM388 342L391 349 386 348zM240 358L250 351 249 362zM240 358L236 358 236 352zM267 358L265 351 276 354zM285 354L279 348 284 349zM285 354L284 349 289 350zM333 358L333 348 334 367zM334 360L333 348 334 345zM360 355L366 363 347 356zM360 355L347 356 346 355zM241 362L232 369 236 358zM256 361L249 362 250 351zM323 365L319 371 315 358zM354 366L365 366 364 369zM354 366L364 369 350 370zM354 366L350 370 349 368zM239 377L232 369 249 368zM287 371L277 365 278 363zM287 371L290 376 277 367zM300 376L304 365 309 377zM311 370L315 358 319 371zM319 380L319 371 320 371zM343 370L350 370 347 377zM356 375L363 376 360 378zM356 375L349 380 347 377zM374 372L381 364 383 366zM374 372L385 371 383 377zM374 372L383 377 377 377zM394 375L402 367 404 368zM394 375L404 368 402 376zM230 388L230 377 231 376zM269 380L265 387 265 387zM294 383L293 374 300 380zM354 388L349 380 350 380zM354 388L350 380 358 390zM357 383L358 390 350 380zM367 381L371 383 364 388zM375 384L371 381 377 377zM375 384L381 385 374 388zM390 385L384 378 400 386zM393 378L400 386 384 378zM241 389L239 397 239 383zM260 391L264 398 250 391zM272 391L265 398 265 387zM337 388L329 394 326 392zM337 388L326 392 336 382zM348 392L347 388 355 393zM361 394L364 388 366 392zM370 388L366 392 364 388zM377 389L374 388 381 385zM388 388L383 397 381 385zM246 404L245 397 253 405zM275 400L276 406 266 402zM279 399L282 390 284 389zM293 401L285 406 285 390zM315 401L322 393 319 405zM329 404L321 410 319 405zM342 406L339 404 341 397zM398 403L400 415 390 411zM244 412L248 422 227 414zM258 415L264 412 265 415zM270 408L266 402 276 406zM270 408L280 413 274 419zM313 410L311 420 309 420zM340 409L339 404 349 411zM340 409L334 413 333 412zM364 412L355 408 355 407zM364 412L360 416 355 408zM375 411L377 425 373 423zM281 422L274 419 280 413zM287 426L279 432 287 420zM323 420L329 412 325 427zM323 420L325 427 320 426zM333 420L331 412 333 412zM365 418L360 421 360 416zM389 427L389 412 390 411zM251 430L251 437 246 424zM294 433L300 433 300 435zM300 426L294 422 308 419zM318 435L314 437 320 426zM360 430L354 434 351 429zM360 430L351 429 351 427zM369 430L377 425 378 426zM369 430L378 429 365 438zM386 430L382 438 378 429zM238 440L240 433 241 435zM238 440L241 444 230 441zM244 441L241 435 249 439zM254 443L261 445 255 451zM260 439L260 429 266 431zM271 441L282 436 282 438zM301 440L306 443 306 444zM338 436L339 427 343 428zM338 436L344 428 341 440zM347 438L354 434 351 442zM358 442L361 448 353 446zM371 437L365 438 378 429zM238 446L230 441 241 444zM263 452L261 445 264 445zM288 453L294 449 294 452zM301 450L306 444 309 453zM301 450L297 455 294 452zM311 447L313 454 309 453zM321 451L327 444 329 446zM346 449L346 442 351 442zM346 449L351 442 353 446zM248 462L243 459 250 458zM248 462L250 458 252 470zM254 463L262 460 258 472zM254 463L258 472 257 474zM254 463L257 474 252 470zM283 462L281 454 286 457zM283 462L284 466 275 463zM290 458L286 457 294 452zM290 458L294 452 297 455zM323 458L316 458 316 456zM323 458L327 451 330 457zM323 458L319 463 316 458zM334 459L330 457 343 456zM368 460L372 454 372 465zM377 463L372 454 375 448zM390 456L385 464 379 447zM270 463L273 457 275 463zM326 466L321 469 319 468zM354 468L360 460 366 472zM354 468L366 472 366 473zM354 468L366 473 356 472z" fill="rgb(108,108,108)" stroke="rgb(108,108,108)" stroke-width="0.6"/><path d="M244 337L252 330 251 344zM258 340L251 344 252 330zM300 337L291 337 299 330zM300 337L294 344 291 337zM312 329L304 331 305 330zM365 339L364 330 374 338zM365 339L374 338 369 351zM384 332L381 322 390 335zM232 343L223 342 232 336zM232 343L236 352 235 352zM285 344L278 339 290 336zM285 344L279 348 277 340zM286 346L289 350 284 349zM319 346L315 338 332 338zM319 346L312 354 310 351zM347 344L346 355 334 345zM378 347L383 338 386 348zM378 347L386 348 372 357zM397 346L396 334 396 334zM397 346L396 334 407 342zM261 357L255 352 264 351zM267 358L264 351 265 351zM285 354L276 354 279 348zM295 348L289 350 294 344zM323 350L312 354 332 339zM384 356L393 351 392 355zM384 356L381 364 372 357zM256 361L250 351 255 352zM256 361L255 352 262 364zM267 368L265 374 259 367zM345 368L346 357 349 368zM390 360L395 362 383 366zM239 377L249 368 250 380zM239 377L250 380 239 383zM258 373L260 382 252 382zM282 376L277 367 290 376zM287 371L277 367 277 365zM287 371L278 363 292 360zM300 376L309 378 308 379zM300 376L308 379 300 380zM311 370L304 365 313 357zM319 380L309 377 319 371zM325 374L323 380 320 371zM343 370L349 368 350 370zM356 375L364 369 363 376zM371 374L365 366 377 377zM374 372L383 366 385 371zM230 388L230 392 228 389zM230 388L228 389 230 377zM294 383L284 389 284 387zM303 386L300 380 308 379zM316 384L308 392 308 379zM331 377L338 376 336 382zM354 388L358 390 355 393zM357 383L350 380 360 378zM367 381L371 381 371 383zM367 381L364 388 362 388zM367 381L362 388 360 378zM390 385L393 393 383 380zM260 391L260 382 265 387zM272 391L282 390 277 394zM302 395L304 406 303 407zM337 388L343 390 340 396zM348 392L355 393 355 396zM370 388L364 388 371 383zM388 388L381 385 383 380zM254 400L245 397 250 391zM275 400L264 399 264 398zM275 400L265 398 277 394zM275 400L266 402 264 399zM279 399L277 394 282 390zM279 399L276 406 277 394zM293 401L285 390 293 391zM293 401L293 391 299 406zM337 401L340 396 341 397zM361 398L355 407 353 402zM361 398L353 402 355 396zM366 399L366 392 372 396zM378 405L371 408 369 406zM378 405L369 406 373 398zM398 403L393 393 398 391zM244 412L227 414 224 409zM259 407L264 412 252 410zM259 407L252 410 253 405zM270 408L274 419 265 415zM290 416L280 409 285 406zM290 416L285 406 295 408zM290 416L287 420 280 413zM297 416L299 406 303 407zM297 416L294 422 292 421zM313 410L319 405 321 410zM313 410L308 419 303 407zM237 426L230 434 227 414zM265 422L256 424 265 415zM281 422L280 413 287 420zM287 426L282 436 279 432zM333 420L329 412 331 412zM333 420L334 413 339 427zM351 421L345 413 349 411zM351 421L349 411 351 411zM351 421L351 411 351 427zM354 421L351 411 355 408zM354 421L355 408 360 416zM389 427L390 411 400 415zM389 427L377 425 389 412zM248 433L240 433 246 424zM248 433L241 435 240 433zM294 433L293 428 300 433zM360 430L367 425 362 435zM369 430L367 425 373 423zM369 430L373 423 377 425zM386 430L378 426 394 427zM386 430L378 429 378 426zM390 432L399 425 400 429zM390 432L382 438 394 427zM238 440L228 437 230 434zM238 440L230 441 228 437zM260 439L254 437 260 429zM260 439L261 445 254 437zM271 441L273 429 279 432zM322 440L313 438 314 437zM322 440L326 437 327 444zM332 439L332 430 338 441zM338 436L332 430 339 427zM347 438L344 428 351 429zM347 438L341 440 344 428zM246 451L250 458 243 459zM246 451L243 459 242 450zM263 452L273 457 262 460zM263 452L255 453 255 451zM280 451L270 447 282 438zM280 451L273 457 273 457zM280 451L273 457 270 447zM288 453L281 454 285 442zM301 450L298 446 306 444zM321 451L329 446 327 451zM334 455L335 446 341 452zM343 443L338 441 341 440zM358 452L360 459 360 460zM363 453L361 448 367 445zM283 462L273 457 281 454zM283 462L275 463 273 457zM300 461L296 468 294 465zM311 463L309 453 313 454zM334 459L332 466 329 460zM377 463L375 448 379 447zM390 456L385 464 385 464zM326 466L319 463 329 460zM326 466L319 468 319 463zM354 468L347 458 360 460z" fill="rgb(120,120,120)" stroke="rgb(120,120,120)" stroke-width="0.6"/><path d="M258 340L252 330 262 333zM272 334L262 333 274 322zM300 337L291 337 291 337zM384 332L383 338 378 336zM384 332L378 336 381 322zM261 345L251 344 266 341zM285 344L284 349 279 348zM378 347L374 338 378 336zM378 347L378 336 383 338zM378 347L372 357 372 357zM378 347L372 357 369 351zM388 342L390 335 396 334zM397 346L391 349 396 334zM240 358L236 352 242 348zM240 358L242 348 249 349zM323 350L325 358 315 358zM333 358L325 358 333 348zM384 356L386 348 391 349zM384 356L391 349 393 351zM267 368L259 367 262 364zM267 368L262 364 265 363zM323 365L315 358 325 358zM354 366L346 357 347 356zM354 366L349 368 346 357zM390 360L381 364 392 355zM393 365L385 371 383 366zM258 373L252 382 250 380zM311 370L313 357 315 358zM319 380L322 384 309 378zM343 370L347 377 338 376zM356 375L350 370 364 369zM371 374L364 369 365 366zM371 374L371 381 363 376zM394 375L385 371 402 367zM271 385L265 387 275 378zM294 383L290 376 293 374zM294 383L284 387 290 376zM303 386L296 390 300 380zM316 384L308 379 309 378zM331 377L323 380 336 373zM341 383L336 382 338 376zM354 388L355 393 347 388zM375 384L371 383 371 381zM375 384L374 388 371 383zM393 378L384 377 402 376zM236 386L236 381 239 383zM260 391L250 391 252 382zM272 391L265 387 265 387zM302 395L293 391 296 390zM302 395L299 406 293 391zM348 392L355 396 353 402zM348 392L353 402 341 397zM361 394L355 393 358 390zM361 394L358 390 362 388zM246 404L231 403 232 402zM246 404L250 412 231 403zM275 400L264 398 265 398zM315 401L307 393 308 392zM315 401L308 392 322 393zM315 401L319 405 304 406zM329 404L324 391 326 392zM329 404L329 394 331 412zM329 404L319 405 322 393zM337 401L333 412 331 412zM361 398L355 396 363 396zM398 403L387 399 393 393zM398 403L390 411 387 399zM244 412L224 409 231 403zM244 412L231 403 250 412zM258 415L252 410 264 412zM258 415L256 424 249 421zM258 415L249 421 250 412zM270 408L265 415 264 412zM290 416L280 413 280 409zM297 416L295 408 299 406zM340 409L333 412 339 404zM364 412L355 407 362 406zM375 411L373 423 371 415zM375 411L371 415 371 408zM237 426L227 414 248 422zM323 420L320 426 311 420zM333 420L333 412 334 413zM354 421L351 427 351 411zM365 418L360 416 371 415zM389 427L394 427 378 426zM389 427L378 426 377 425zM300 426L293 428 294 422zM311 430L311 420 320 426zM360 430L360 421 367 425zM390 432L394 427 399 425zM238 440L230 434 240 433zM244 441L241 444 241 435zM254 443L249 439 251 437zM254 443L255 451 247 447zM271 441L266 431 273 429zM271 441L279 432 282 436zM293 442L284 439 296 438zM293 442L294 449 285 442zM301 440L296 438 300 435zM301 440L306 444 298 446zM322 440L313 438 313 438zM322 440L318 444 313 438zM332 439L328 430 332 430zM332 439L327 444 326 437zM338 436L343 428 344 428zM347 438L351 429 354 434zM358 442L362 435 365 438zM371 437L367 445 365 438zM396 439L387 444 386 444zM263 452L255 451 261 445zM288 453L285 442 294 449zM301 450L294 452 294 449zM301 450L294 449 298 446zM321 451L318 444 327 444zM321 451L316 456 313 454zM334 455L329 446 335 446zM343 443L341 452 335 446zM346 449L341 452 346 442zM363 453L360 459 361 448zM396 450L398 459 387 444zM254 463L255 453 262 460zM311 463L305 456 309 453zM311 463L313 454 316 456zM311 463L316 456 316 458zM311 463L316 458 306 468zM323 458L316 456 327 451zM377 463L372 465 372 454zM270 463L262 460 273 457zM270 463L273 457 273 457zM314 464L306 468 316 458z" fill="rgb(132,132,132)" stroke="rgb(132,132,132)" stroke-width="0.6"/><path d="M244 337L236 337 250 328zM244 337L250 328 252 330zM312 329L305 330 314 323zM312 329L314 323 316 329zM365 339L354 333 357 329zM365 339L357 329 364 330zM365 339L369 351 356 344zM232 343L235 352 223 342zM285 344L277 340 278 339zM306 339L305 332 314 339zM319 346L310 351 314 339zM347 344L332 338 333 337zM347 344L333 337 342 333zM347 344L334 345 332 339zM388 342L383 338 390 335zM388 342L386 348 383 338zM323 350L315 358 313 357zM360 355L372 357 366 363zM360 355L346 355 356 344zM397 358L393 351 406 350zM397 358L395 362 392 355zM345 368L334 367 334 367zM345 368L334 367 346 357zM345 368L349 368 335 370zM345 368L335 370 334 367zM354 366L366 363 365 366zM390 360L383 366 381 364zM393 365L383 366 395 362zM258 373L249 368 259 367zM258 373L250 380 249 368zM282 376L274 373 277 367zM282 376L275 378 274 373zM300 376L296 365 304 365zM300 376L293 374 296 365zM311 370L309 377 304 365zM319 380L309 378 309 377zM343 370L338 376 336 373zM343 370L335 370 349 368zM356 375L347 377 350 370zM371 374L363 376 364 369zM374 372L366 363 372 357zM374 372L372 357 381 364zM394 375L402 376 384 377zM394 375L384 377 383 377zM394 375L383 377 385 371zM316 384L309 378 322 384zM331 377L336 373 338 376zM354 388L347 388 349 380zM390 385L383 380 384 378zM236 386L230 392 236 381zM260 391L252 382 260 382zM272 391L265 387 282 390zM302 395L303 407 299 406zM361 394L355 396 355 393zM388 388L383 380 393 393zM246 404L232 402 239 397zM246 404L239 397 245 397zM254 400L253 405 245 397zM329 404L322 393 324 391zM329 404L326 392 329 394zM337 401L329 394 340 396zM366 399L363 396 366 392zM270 408L264 412 266 402zM313 410L303 407 304 406zM313 410L304 406 319 405zM323 420L321 410 329 412zM323 420L311 420 321 410zM340 419L334 413 345 413zM248 433L246 424 251 437zM294 433L296 438 284 439zM294 433L282 438 282 436zM311 430L309 420 311 420zM360 430L351 427 360 421zM369 430L365 438 362 435zM254 443L251 437 254 437zM271 441L264 445 266 431zM293 442L285 442 284 439zM322 440L314 437 326 437zM332 439L326 437 328 430zM358 442L354 434 362 435zM358 442L353 446 351 442zM396 439L386 444 400 429zM311 447L309 453 306 444zM321 451L313 454 318 444zM334 455L327 451 329 446zM334 455L330 457 327 451zM343 443L335 446 338 441zM358 452L360 460 347 458zM358 452L347 458 353 446zM254 463L250 458 255 453zM254 463L252 470 250 458zM300 461L297 455 305 456zM300 461L294 465 297 455zM311 463L304 467 305 456zM334 459L329 460 330 457zM368 460L360 460 360 459zM368 460L360 459 372 454zM354 468L346 459 347 458z" fill="rgb(144,144,144)" stroke="rgb(144,144,144)" stroke-width="0.6"/><path d="M283 333L274 322 278 310zM283 333L278 310 290 336zM321 331L315 338 316 329zM319 346L314 339 315 338zM347 344L332 339 332 338zM378 347L369 351 374 338zM267 358L265 363 264 351zM323 350L313 357 312 354zM360 355L356 344 369 351zM360 355L369 351 372 357zM384 356L372 357 386 348zM397 358L392 355 393 351zM354 366L347 356 366 363zM239 377L236 381 231 376zM239 377L231 376 232 369zM258 373L249 368 249 368zM343 370L336 373 335 370zM374 372L365 366 366 363zM374 372L372 357 372 357zM374 372L377 377 365 366zM367 381L360 378 363 376zM367 381L363 376 371 381zM393 378L384 378 384 377zM337 388L336 382 343 390zM348 392L343 390 347 388zM348 392L341 397 340 396zM361 394L363 396 355 396zM315 401L304 406 307 393zM337 401L331 412 329 394zM258 415L250 412 252 410zM297 416L292 421 295 408zM294 433L284 439 282 438zM254 443L247 447 249 439zM301 440L298 446 296 438zM358 442L351 442 354 434zM263 452L262 460 255 453zM311 447L306 444 306 443zM311 447L306 443 313 438zM354 468L346 463 346 459zM354 468L356 472 346 463z" fill="rgb(156,156,156)" stroke="rgb(156,156,156)" stroke-width="0.6"/><path d="M283 333L278 339 274 322zM365 339L356 344 354 333zM239 377L239 383 236 381zM300 376L300 380 293 374zM348 392L340 396 343 390zM294 433L282 436 293 428zM311 430L306 429 309 420zM369 430L362 435 367 425z" fill="rgb(168,168,168)" stroke="rgb(168,168,168)" stroke-width="0.6"/><path d="M244 337L236 337M244 337L250 328M244 337L252 330M244 337L251 344M244 337L249 349M244 337L242 348M258 340L252 330M258 340L262 333M258 340L266 341M258 340L251 344M272 334L262 333M272 334L274 322M272 334L278 339M272 334L277 340M272 334L266 341M272 334L266 341M283 333L274 322M283 333L278 310M283 333L290 336M283 333L278 339M300 337L291 337M300 337L291 337M300 337L299 330M300 337L304 331M300 337L305 332M300 337L301 346M300 337L294 344M312 329L305 330M312 329L314 323M312 329L316 329M312 329L315 338M312 329L314 339M312 329L305 332M312 329L304 331M321 331L316 329M321 331L330 333M321 331L332 337M321 331L333 337M321 331L332 338M321 331L315 338M365 339L354 333M365 339L357 329M365 339L364 330M365 339L374 338M365 339L369 351M365 339L356 344M384 332L381 322M384 332L390 335M384 332L383 338M384 332L378 336M232 343L223 342M232 343L232 336M232 343L236 337M232 343L242 348M232 343L236 352M232 343L235 352M261 345L251 344M261 345L266 341M261 345L266 341M261 345L265 351M261 345L264 351M261 345L255 352M261 345L250 351M261 345L249 349M272 345L266 341M272 345L277 340M272 345L279 348M272 345L276 354M272 345L265 351M285 344L277 340M285 344L278 339M285 344L290 336M285 344L291 337M285 344L291 337M285 344L284 349M285 344L279 348M286 346L291 337M286 346L294 344M286 346L289 350M286 346L284 349M306 339L305 332M306 339L314 339M306 339L310 351M306 339L302 348M306 339L301 346M319 346L314 339M319 346L315 338M319 346L332 338M319 346L332 339M319 346L312 354M319 346L310 351M347 344L332 339M347 344L332 338M347 344L333 337M347 344L342 333M347 344L354 333M347 344L356 344M347 344L346 355M347 344L334 345M378 347L374 338M378 347L378 336M378 347L383 338M378 347L386 348M378 347L372 357M378 347L372 357M378 347L369 351M388 342L383 338M388 342L390 335M388 342L396 334M388 342L391 349M388 342L386 348M397 346L396 334M397 346L396 334M397 346L407 342M397 346L407 343M397 346L406 349M397 346L406 350M397 346L393 351M397 346L391 349M231 359L226 356M231 359L235 352M231 359L236 352M231 359L236 358M231 359L232 369M231 359L231 368M240 358L236 352M240 358L242 348M240 358L249 349M240 358L250 351M240 358L249 362M240 358L236 358M261 357L255 352M261 357L264 351M261 357L265 363M261 357L262 364M267 358L264 351M267 358L265 351M267 358L276 354M267 358L278 363M267 358L277 365M267 358L265 363M285 354L276 354M285 354L279 348M285 354L284 349M285 354L289 350M285 354L292 360M285 354L292 360M285 354L278 363M295 348L289 350M295 348L294 344M295 348L301 346M295 348L302 348M295 348L292 360M298 354L302 348M298 354L310 351M298 354L312 354M298 354L313 357M298 354L304 365M298 354L296 365M298 354L292 360M298 354L292 360M323 350L332 339M323 350L334 345M323 350L333 348M323 350L325 358M323 350L315 358M323 350L313 357M323 350L312 354M333 358L333 348M333 358L334 367M333 358L334 367M333 358L333 367M333 358L325 358M334 360L333 348M334 360L334 345M334 360L346 355M334 360L347 356M334 360L346 357M334 360L334 367M360 355L356 344M360 355L369 351M360 355L372 357M360 355L366 363M360 355L347 356M360 355L346 355M384 356L386 348M384 356L391 349M384 356L393 351M384 356L392 355M384 356L381 364M384 356L372 357M397 358L392 355M397 358L393 351M397 358L406 350M397 358L408 366M397 358L404 368M397 358L402 367M397 358L395 362M241 362L236 358M241 362L249 362M241 362L249 368M241 362L249 368M241 362L232 369M241 362L232 369M256 361L250 351M256 361L255 352M256 361L262 364M256 361L259 367M256 361L249 368M256 361L249 362M267 368L259 367M267 368L262 364M267 368L265 363M267 368L277 365M267 368L277 367M267 368L274 373M267 368L265 374M323 365L315 358M323 365L325 358M323 365L333 367M323 365L320 371M323 365L319 371M345 368L334 367M345 368L334 367M345 368L346 357M345 368L349 368M345 368L335 370M354 366L346 357M354 366L347 356M354 366L366 363M354 366L365 366M354 366L364 369M354 366L350 370M354 366L349 368M390 360L392 355M390 360L395 362M390 360L383 366M390 360L381 364M393 365L395 362M393 365L402 367M393 365L385 371M393 365L383 366M239 377L232 369M239 377L249 368M239 377L250 380M239 377L239 383M239 377L236 381M239 377L231 376M258 373L249 368M258 373L249 368M258 373L259 367M258 373L265 374M258 373L260 382M258 373L252 382M258 373L250 380M282 376L274 373M282 376L277 367M282 376L290 376M282 376L284 387M282 376L275 378M287 371L277 367M287 371L277 365M287 371L278 363M287 371L292 360M287 371L296 365M287 371L293 374M287 371L290 376M300 376L296 365M300 376L304 365M300 376L309 377M300 376L309 378M300 376L308 379M300 376L300 380M300 376L293 374M311 370L304 365M311 370L313 357M311 370L315 358M311 370L319 371M311 370L309 377M319 380L309 377M319 380L319 371M319 380L320 371M319 380L323 380M319 380L322 384M319 380L309 378M325 374L320 371M325 374L333 367M325 374L334 367M325 374L335 370M325 374L336 373M325 374L323 380M343 370L349 368M343 370L350 370M343 370L347 377M343 370L338 376M343 370L336 373M343 370L335 370M356 375L350 370M356 375L364 369M356 375L363 376M356 375L360 378M356 375L350 380M356 375L349 380M356 375L347 377M371 374L363 376M371 374L364 369M371 374L365 366M371 374L377 377M371 374L371 381M374 372L365 366M374 372L366 363M374 372L372 357M374 372L372 357M374 372L381 364M374 372L383 366M374 372L385 371M374 372L383 377M374 372L377 377M394 375L385 371M394 375L402 367M394 375L404 368M394 375L402 376M394 375L384 377M394 375L383 377M230 388L230 377M230 388L231 376M230 388L236 381M230 388L230 392M230 388L228 389M269 380L265 374M269 380L274 373M269 380L275 378M269 380L265 387M269 380L265 387M269 380L260 382M271 385L275 378M271 385L284 387M271 385L284 389M271 385L282 390M271 385L265 387M294 383L290 376M294 383L293 374M294 383L300 380M294 383L296 390M294 383L293 391M294 383L285 390M294 383L284 389M294 383L284 387M303 386L300 380M303 386L308 379M303 386L308 392M303 386L307 393M303 386L296 390M316 384L308 379M316 384L309 378M316 384L322 384M316 384L324 391M316 384L322 393M316 384L308 392M331 377L323 380M331 377L336 373M331 377L338 376M331 377L336 382M331 377L326 392M331 377L324 391M331 377L322 384M341 383L336 382M341 383L338 376M341 383L347 377M341 383L349 380M341 383L347 388M341 383L343 390M354 388L349 380M354 388L350 380M354 388L358 390M354 388L355 393M354 388L347 388M357 383L350 380M357 383L360 378M357 383L362 388M357 383L358 390M367 381L360 378M367 381L363 376M367 381L371 381M367 381L371 383M367 381L364 388M367 381L362 388M375 384L371 383M375 384L371 381M375 384L377 377M375 384L383 377M375 384L384 377M375 384L384 378M375 384L383 380M375 384L381 385M375 384L374 388M390 385L383 380M390 385L384 378M390 385L400 386M390 385L398 391M390 385L393 393M393 378L384 378M393 378L384 377M393 378L402 376M393 378L402 383M393 378L400 386M236 386L236 381M236 386L239 383M236 386L239 397M236 386L232 402M236 386L230 392M241 389L239 383M241 389L250 380M241 389L252 382M241 389L250 391M241 389L245 397M241 389L239 397M260 391L252 382M260 391L260 382M260 391L265 387M260 391L265 398M260 391L264 398M260 391L250 391M272 391L265 387M272 391L265 387M272 391L282 390M272 391L277 394M272 391L265 398M302 395L293 391M302 395L296 390M302 395L307 393M302 395L304 406M302 395L303 407M302 395L299 406M337 388L336 382M337 388L343 390M337 388L340 396M337 388L329 394M337 388L326 392M348 392L343 390M348 392L347 388M348 392L355 393M348 392L355 396M348 392L353 402M348 392L341 397M348 392L340 396M361 394L355 393M361 394L358 390M361 394L362 388M361 394L364 388M361 394L366 392M361 394L363 396M361 394L355 396M370 388L371 383M370 388L374 388M370 388L372 396M370 388L366 392M370 388L364 388M377 389L374 388M377 389L381 385M377 389L383 397M377 389L373 398M377 389L372 396M388 388L381 385M388 388L383 380M388 388L393 393M388 388L387 399M388 388L383 397M246 404L231 403M246 404L232 402M246 404L239 397M246 404L245 397M246 404L253 405M246 404L252 410M246 404L250 412M254 400L245 397M254 400L250 391M254 400L264 398M254 400L264 399M254 400L253 405M275 400L264 399M275 400L264 398M275 400L265 398M275 400L277 394M275 400L276 406M275 400L266 402M279 399L277 394M279 399L282 390M279 399L284 389M279 399L285 390M279 399L285 406M279 399L280 409M279 399L276 406M293 401L285 390M293 401L293 391M293 401L299 406M293 401L295 408M293 401L285 406M315 401L307 393M315 401L308 392M315 401L322 393M315 401L319 405M315 401L304 406M329 404L322 393M329 404L324 391M329 404L326 392M329 404L329 394M329 404L331 412M329 404L329 412M329 404L321 410M329 404L319 405M337 401L329 394M337 401L340 396M337 401L341 397M337 401L339 404M337 401L333 412M337 401L331 412M342 406L339 404M342 406L341 397M342 406L353 402M342 406L355 407M342 406L355 408M342 406L351 411M342 406L349 411M361 398L355 396M361 398L363 396M361 398L362 406M361 398L355 407M361 398L353 402M366 399L363 396M366 399L366 392M366 399L372 396M366 399L373 398M366 399L369 406M366 399L362 406M378 405L373 398M378 405L383 397M378 405L387 399M378 405L390 411M378 405L389 412M378 405L371 408M378 405L369 406M398 403L387 399M398 403L393 393M398 403L398 391M398 403L408 403M398 403L404 413M398 403L400 415M398 403L390 411M244 412L224 409M244 412L231 403M244 412L250 412M244 412L249 421M244 412L248 422M244 412L227 414M258 415L250 412M258 415L252 410M258 415L264 412M258 415L265 415M258 415L256 424M258 415L249 421M259 407L253 405M259 407L264 399M259 407L266 402M259 407L264 412M259 407L252 410M270 408L266 402M270 408L276 406M270 408L280 409M270 408L280 413M270 408L274 419M270 408L265 415M270 408L264 412M290 416L280 413M290 416L280 409M290 416L285 406M290 416L295 408M290 416L292 421M290 416L287 420M297 416L295 408M297 416L299 406M297 416L303 407M297 416L308 419M297 416L294 422M297 416L292 421M313 410L303 407M313 410L304 406M313 410L319 405M313 410L321 410M313 410L311 420M313 410L309 420M313 410L308 419M340 409L339 404M340 409L349 411M340 409L345 413M340 409L334 413M340 409L333 412M364 412L355 408M364 412L355 407M364 412L362 406M364 412L369 406M364 412L371 408M364 412L371 415M364 412L360 416M375 411L371 408M375 411L389 412M375 411L377 425M375 411L373 423M375 411L371 415M237 426L227 414M237 426L248 422M237 426L246 424M237 426L240 433M237 426L230 434M265 422L265 415M265 422L274 419M265 422L273 429M265 422L266 431M265 422L260 429M265 422L256 424M281 422L274 419M281 422L280 413M281 422L287 420M281 422L279 432M281 422L273 429M287 426L287 420M287 426L292 421M287 426L294 422M287 426L293 428M287 426L282 436M287 426L279 432M323 420L321 410M323 420L329 412M323 420L325 427M323 420L320 426M323 420L311 420M333 420L329 412M333 420L331 412M333 420L333 412M333 420L334 413M333 420L339 427M333 420L332 430M333 420L328 430M333 420L325 427M340 419L334 413M340 419L345 413M340 419L343 428M340 419L339 427M351 421L345 413M351 421L349 411M351 421L351 411M351 421L351 427M351 421L351 429M351 421L344 428M351 421L343 428M354 421L351 411M354 421L355 408M354 421L360 416M354 421L360 421M354 421L351 427M365 418L360 416M365 418L371 415M365 418L373 423M365 418L367 425M365 418L360 421M389 427L389 412M389 427L390 411M389 427L400 415M389 427L399 425M389 427L394 427M389 427L378 426M389 427L377 425M248 433L240 433M248 433L246 424M248 433L251 437M248 433L249 439M248 433L241 435M251 430L246 424M251 430L248 422M251 430L249 421M251 430L256 424M251 430L260 429M251 430L254 437M251 430L251 437M294 433L293 428M294 433L300 433M294 433L300 435M294 433L296 438M294 433L284 439M294 433L282 438M294 433L282 436M300 426L294 422M300 426L308 419M300 426L309 420M300 426L306 429M300 426L300 433M300 426L293 428M311 430L306 429M311 430L309 420M311 430L311 420M311 430L320 426M311 430L314 437M311 430L313 438M318 435L320 426M318 435L325 427M318 435L328 430M318 435L326 437M318 435L314 437M360 430L360 421M360 430L367 425M360 430L362 435M360 430L354 434M360 430L351 429M360 430L351 427M369 430L367 425M369 430L373 423M369 430L377 425M369 430L378 426M369 430L378 429M369 430L365 438M369 430L362 435M386 430L378 426M386 430L394 427M386 430L382 438M386 430L378 429M390 432L394 427M390 432L399 425M390 432L400 429M390 432L386 444M390 432L383 444M390 432L382 438M238 440L228 437M238 440L230 434M238 440L240 433M238 440L241 435M238 440L241 444M238 440L230 441M244 441L241 435M244 441L249 439M244 441L247 447M244 441L244 448M244 441L241 444M254 443L249 439M254 443L251 437M254 443L254 437M254 443L261 445M254 443L255 451M254 443L247 447M260 439L254 437M260 439L260 429M260 439L266 431M260 439L264 445M260 439L261 445M271 441L266 431M271 441L273 429M271 441L279 432M271 441L282 436M271 441L282 438M271 441L270 447M271 441L264 445M293 442L284 439M293 442L296 438M293 442L298 446M293 442L294 449M293 442L285 442M301 440L296 438M301 440L300 435M301 440L306 443M301 440L306 444M301 440L298 446M306 436L300 435M306 436L300 433M306 436L306 429M306 436L313 438M306 436L313 438M306 436L306 443M322 440L313 438M322 440L313 438M322 440L314 437M322 440L326 437M322 440L327 444M322 440L318 444M332 439L326 437M332 439L328 430M332 439L332 430M332 439L338 441M332 439L335 446M332 439L329 446M332 439L327 444M338 436L332 430M338 436L339 427M338 436L343 428M338 436L344 428M338 436L341 440M338 436L338 441M347 438L344 428M347 438L351 429M347 438L354 434M347 438L351 442M347 438L346 442M347 438L341 440M358 442L354 434M358 442L362 435M358 442L365 438M358 442L367 445M358 442L361 448M358 442L353 446M358 442L351 442M371 437L378 429M371 437L382 438M371 437L383 444M371 437L379 447M371 437L375 448M371 437L367 445M371 437L365 438M396 439L400 429M396 439L413 443M396 439L387 444M396 439L386 444M238 446L230 441M238 446L241 444M238 446L244 448M238 446L242 450M238 446L234 451M238 446L230 448M246 451L242 450M246 451L244 448M246 451L247 447M246 451L255 451M246 451L255 453M246 451L250 458M246 451L243 459M263 452L255 451M263 452L261 445M263 452L264 445M263 452L270 447M263 452L273 457M263 452L262 460M263 452L255 453M280 451L270 447M280 451L282 438M280 451L284 439M280 451L285 442M280 451L281 454M280 451L273 457M280 451L273 457M288 453L285 442M288 453L294 449M288 453L294 452M288 453L286 457M288 453L281 454M301 450L298 446M301 450L306 444M301 450L309 453M301 450L305 456M301 450L297 455M301 450L294 452M301 450L294 449M311 447L306 444M311 447L306 443M311 447L313 438M311 447L318 444M311 447L313 454M311 447L309 453M321 451L318 444M321 451L327 444M321 451L329 446M321 451L327 451M321 451L316 456M321 451L313 454M334 455L327 451M334 455L329 446M334 455L335 446M334 455L341 452M334 455L343 456M334 455L330 457M343 443L338 441M343 443L341 440M343 443L346 442M343 443L341 452M343 443L335 446M346 449L346 442M346 449L351 442M346 449L353 446M346 449L347 458M346 449L346 459M346 449L346 459M346 449L343 456M346 449L341 452M358 452L353 446M358 452L361 448M358 452L360 459M358 452L360 460M358 452L347 458M363 453L361 448M363 453L367 445M363 453L375 448M363 453L372 454M363 453L360 459M396 450L387 444M396 450L413 443M396 450L415 445M396 450L423 450M396 450L398 459M239 456L234 451M239 456L242 450M239 456L243 459M239 456L239 465M239 456L233 463M248 462L243 459M248 462L250 458M248 462L252 470M248 462L239 465M248 462L239 465M254 463L250 458M254 463L255 453M254 463L262 460M254 463L258 472M254 463L257 474M254 463L252 470M283 462L273 457M283 462L281 454M283 462L286 457M283 462L288 464M283 462L284 466M283 462L275 463M290 458L286 457M290 458L294 452M290 458L297 455M290 458L294 465M290 458L288 464M300 461L297 455M300 461L305 456M300 461L304 467M300 461L296 468M300 461L294 465M311 463L305 456M311 463L309 453M311 463L313 454M311 463L316 456M311 463L316 458M311 463L306 468M311 463L306 468M311 463L304 467M323 458L316 458M323 458L316 456M323 458L327 451M323 458L330 457M323 458L329 460M323 458L319 463M334 459L329 460M334 459L330 457M334 459L343 456M334 459L346 459M334 459L332 466M368 460L360 460M368 460L360 459M368 460L372 454M368 460L372 465M368 460L366 472M377 463L372 454M377 463L375 448M377 463L379 447M377 463L385 464M377 463L372 465M390 456L379 447M390 456L383 444M390 456L386 444M390 456L387 444M390 456L398 459M390 456L397 460M390 456L385 464M390 456L385 464M270 463L262 460M270 463L273 457M270 463L273 457M270 463L275 463M270 463L274 464M270 463L258 472M314 464L316 458M314 464L319 463M314 464L319 468M314 464L314 471M314 464L306 468M326 466L319 463M326 466L329 460M326 466L332 466M326 466L331 469M326 466L321 469M326 466L319 468M354 468L346 463M354 468L346 459M354 468L347 458M354 468L360 460M354 468L366 472M354 468L366 473M354 468L356 472" fill="none" stroke="#fff" stroke-opacity="0.3" stroke-width="0.5"/><path d="M236 337L250 328L252 330L251 344L249 349L242 348zM252 330L262 333L266 341L251 344zM262 333L274 322L278 339L277 340L266 341L266 341zM274 322L278 310L290 336L278 339zM291 337L291 337L299 330L304 331L305 332L301 346L294 344zM305 330L314 323L316 329L315 338L314 339L305 332L304 331zM316 329L330 333L332 337L333 337L332 338L315 338zM354 333L357 329L364 330L374 338L369 351L356 344zM381 322L390 335L383 338L378 336zM223 342L232 336L236 337L242 348L236 352L235 352zM251 344L266 341L266 341L265 351L264 351L255 352L250 351L249 349zM266 341L277 340L279 348L276 354L265 351zM277 340L278 339L290 336L291 337L291 337L284 349L279 348zM291 337L294 344L289 350L284 349zM305 332L314 339L310 351L302 348L301 346zM314 339L315 338L332 338L332 339L312 354L310 351zM332 339L332 338L333 337L342 333L354 333L356 344L346 355L334 345zM374 338L378 336L383 338L386 348L372 357L372 357L369 351zM383 338L390 335L396 334L391 349L386 348zM396 334L396 334L407 342L407 343L406 349L406 350L393 351L391 349zM226 356L235 352L236 352L236 358L232 369L231 368zM236 352L242 348L249 349L250 351L249 362L236 358zM255 352L264 351L265 363L262 364zM264 351L265 351L276 354L278 363L277 365L265 363zM276 354L279 348L284 349L289 350L292 360L292 360L278 363zM289 350L294 344L301 346L302 348L292 360zM302 348L310 351L312 354L313 357L304 365L296 365L292 360L292 360zM332 339L334 345L333 348L325 358L315 358L313 357L312 354zM333 348L334 367L334 367L333 367L325 358zM333 348L334 345L346 355L347 356L346 357L334 367zM356 344L369 351L372 357L366 363L347 356L346 355zM386 348L391 349L393 351L392 355L381 364L372 357zM392 355L393 351L406 350L408 366L404 368L402 367L395 362zM236 358L249 362L249 368L249 368L232 369L232 369zM250 351L255 352L262 364L259 367L249 368L249 362zM259 367L262 364L265 363L277 365L277 367L274 373L265 374zM315 358L325 358L333 367L320 371L319 371zM334 367L334 367L346 357L349 368L335 370zM346 357L347 356L366 363L365 366L364 369L350 370L349 368zM392 355L395 362L383 366L381 364zM395 362L402 367L385 371L383 366zM232 369L249 368L250 380L239 383L236 381L231 376zM249 368L249 368L259 367L265 374L260 382L252 382L250 380zM274 373L277 367L290 376L284 387L275 378zM277 367L277 365L278 363L292 360L296 365L293 374L290 376zM296 365L304 365L309 377L309 378L308 379L300 380L293 374zM304 365L313 357L315 358L319 371L309 377zM309 377L319 371L320 371L323 380L322 384L309 378zM320 371L333 367L334 367L335 370L336 373L323 380zM349 368L350 370L347 377L338 376L336 373L335 370zM350 370L364 369L363 376L360 378L350 380L349 380L347 377zM363 376L364 369L365 366L377 377L371 381zM365 366L366 363L372 357L372 357L381 364L383 366L385 371L383 377L377 377zM385 371L402 367L404 368L402 376L384 377L383 377zM230 377L231 376L236 381L230 392L228 389zM265 374L274 373L275 378L265 387L265 387L260 382zM275 378L284 387L284 389L282 390L265 387zM290 376L293 374L300 380L296 390L293 391L285 390L284 389L284 387zM300 380L308 379L308 392L307 393L296 390zM308 379L309 378L322 384L324 391L322 393L308 392zM323 380L336 373L338 376L336 382L326 392L324 391L322 384zM336 382L338 376L347 377L349 380L347 388L343 390zM349 380L350 380L358 390L355 393L347 388zM350 380L360 378L362 388L358 390zM360 378L363 376L371 381L371 383L364 388L362 388zM371 383L371 381L377 377L383 377L384 377L384 378L383 380L381 385L374 388zM383 380L384 378L400 386L398 391L393 393zM384 378L384 377L402 376L402 383L400 386zM236 381L239 383L239 397L232 402L230 392zM239 383L250 380L252 382L250 391L245 397L239 397zM252 382L260 382L265 387L265 398L264 398L250 391zM265 387L265 387L282 390L277 394L265 398zM293 391L296 390L307 393L304 406L303 407L299 406zM336 382L343 390L340 396L329 394L326 392zM343 390L347 388L355 393L355 396L353 402L341 397L340 396zM355 393L358 390L362 388L364 388L366 392L363 396L355 396zM371 383L374 388L372 396L366 392L364 388zM374 388L381 385L383 397L373 398L372 396zM381 385L383 380L393 393L387 399L383 397zM231 403L232 402L239 397L245 397L253 405L252 410L250 412zM245 397L250 391L264 398L264 399L253 405zM264 399L264 398L265 398L277 394L276 406L266 402zM277 394L282 390L284 389L285 390L285 406L280 409L276 406zM285 390L293 391L299 406L295 408L285 406zM307 393L308 392L322 393L319 405L304 406zM322 393L324 391L326 392L329 394L331 412L329 412L321 410L319 405zM329 394L340 396L341 397L339 404L333 412L331 412zM339 404L341 397L353 402L355 407L355 408L351 411L349 411zM355 396L363 396L362 406L355 407L353 402zM363 396L366 392L372 396L373 398L369 406L362 406zM373 398L383 397L387 399L390 411L389 412L371 408L369 406zM387 399L393 393L398 391L408 403L404 413L400 415L390 411zM224 409L231 403L250 412L249 421L248 422L227 414zM250 412L252 410L264 412L265 415L256 424L249 421zM253 405L264 399L266 402L264 412L252 410zM266 402L276 406L280 409L280 413L274 419L265 415L264 412zM280 413L280 409L285 406L295 408L292 421L287 420zM295 408L299 406L303 407L308 419L294 422L292 421zM303 407L304 406L319 405L321 410L311 420L309 420L308 419zM339 404L349 411L345 413L334 413L333 412zM355 408L355 407L362 406L369 406L371 408L371 415L360 416zM371 408L389 412L377 425L373 423L371 415zM227 414L248 422L246 424L240 433L230 434zM265 415L274 419L273 429L266 431L260 429L256 424zM274 419L280 413L287 420L279 432L273 429zM287 420L292 421L294 422L293 428L282 436L279 432zM321 410L329 412L325 427L320 426L311 420zM329 412L331 412L333 412L334 413L339 427L332 430L328 430L325 427zM334 413L345 413L343 428L339 427zM345 413L349 411L351 411L351 427L351 429L344 428L343 428zM351 411L355 408L360 416L360 421L351 427zM360 416L371 415L373 423L367 425L360 421zM389 412L390 411L400 415L399 425L394 427L378 426L377 425zM240 433L246 424L251 437L249 439L241 435zM246 424L248 422L249 421L256 424L260 429L254 437L251 437zM293 428L300 433L300 435L296 438L284 439L282 438L282 436zM294 422L308 419L309 420L306 429L300 433L293 428zM306 429L309 420L311 420L320 426L314 437L313 438zM320 426L325 427L328 430L326 437L314 437zM360 421L367 425L362 435L354 434L351 429L351 427zM367 425L373 423L377 425L378 426L378 429L365 438L362 435zM378 426L394 427L382 438L378 429zM394 427L399 425L400 429L386 444L383 444L382 438zM228 437L230 434L240 433L241 435L241 444L230 441zM241 435L249 439L247 447L244 448L241 444zM249 439L251 437L254 437L261 445L255 451L247 447zM254 437L260 429L266 431L264 445L261 445zM266 431L273 429L279 432L282 436L282 438L270 447L264 445zM284 439L296 438L298 446L294 449L285 442zM296 438L300 435L306 443L306 444L298 446zM300 435L300 433L306 429L313 438L313 438L306 443zM313 438L313 438L314 437L326 437L327 444L318 444zM326 437L328 430L332 430L338 441L335 446L329 446L327 444zM332 430L339 427L343 428L344 428L341 440L338 441zM344 428L351 429L354 434L351 442L346 442L341 440zM354 434L362 435L365 438L367 445L361 448L353 446L351 442zM378 429L382 438L383 444L379 447L375 448L367 445L365 438zM400 429L413 443L387 444L386 444zM230 441L241 444L244 448L242 450L234 451L230 448zM242 450L244 448L247 447L255 451L255 453L250 458L243 459zM255 451L261 445L264 445L270 447L273 457L262 460L255 453zM270 447L282 438L284 439L285 442L281 454L273 457L273 457zM285 442L294 449L294 452L286 457L281 454zM298 446L306 444L309 453L305 456L297 455L294 452L294 449zM306 444L306 443L313 438L318 444L313 454L309 453zM318 444L327 444L329 446L327 451L316 456L313 454zM327 451L329 446L335 446L341 452L343 456L330 457zM338 441L341 440L346 442L341 452L335 446zM346 442L351 442L353 446L347 458L346 459L346 459L343 456L341 452zM353 446L361 448L360 459L360 460L347 458zM361 448L367 445L375 448L372 454L360 459zM387 444L413 443L415 445L423 450L398 459zM234 451L242 450L243 459L239 465L233 463zM243 459L250 458L252 470L239 465L239 465zM250 458L255 453L262 460L258 472L257 474L252 470zM273 457L281 454L286 457L288 464L284 466L275 463zM286 457L294 452L297 455L294 465L288 464zM297 455L305 456L304 467L296 468L294 465zM305 456L309 453L313 454L316 456L316 458L306 468L306 468L304 467zM316 458L316 456L327 451L330 457L329 460L319 463zM329 460L330 457L343 456L346 459L332 466zM360 460L360 459L372 454L372 465L366 472zM372 454L375 448L379 447L385 464L372 465zM379 447L383 444L386 444L387 444L398 459L397 460L385 464L385 464zM262 460L273 457L273 457L275 463L274 464L258 472zM316 458L319 463L319 468L314 471L306 468zM319 463L329 460L332 466L331 469L321 469L319 468zM346 463L346 459L347 458L360 460L366 472L366 473L356 472z" fill="none" stroke="#fff" stroke-opacity="0.4" stroke-width="0.7" stroke-linejoin="bevel"/></g>
<rect x="239.0" y="340.0" width="152.3" height="116.5" fill="#808080" filter="url(#gnoise)" opacity="0.35"/>
<path d="M393 361L405 344M393 361L372 365M366 345L366 359M366 359L372 365M348 395L336 367M348 395L368 392M368 392L369 390M369 390L372 365M340 361L336 367M340 361L366 359M378 424L376 427M378 424L379 423M376 427L387 446M380 423L379 423M380 423L404 443M364 436L376 427M364 436L344 442M344 442L342 445M342 453L342 445M330 338L317 340M317 340L298 320M366 345L334 332M340 361L330 338M380 423L408 420M368 392L379 419M369 390L403 391M379 419L405 393M393 361L401 371M379 419L379 423M236 408L238 394M236 408L216 427M238 394L221 391M246 437L248 445M236 408L255 424M255 424L246 437M248 445L260 449M255 424L260 422M260 422L268 441M268 441L260 449M270 416L294 428M270 416L260 422M294 428L293 445M268 441L293 445M340 403L313 390M340 403L340 408M340 408L336 421M313 390L311 392M311 392L323 420M336 421L323 420M348 395L340 403M336 367L315 375M315 375L313 390M378 424L340 408M344 442L336 421M299 425L298 425M299 425L323 420M298 425L303 397M303 397L311 392M299 425L338 444M342 445L338 444M342 453L331 465M239 354L255 340M239 354L220 358M254 336L255 340M245 388L238 394M245 388L220 358M317 340L307 353M287 340L307 353M289 456L294 447M297 448L294 447M285 460L289 456M338 444L297 448M293 445L294 447M294 428L298 425M255 340L271 357M287 340L280 349M271 357L280 349M307 353L306 359M280 349L306 359M315 375L306 365M306 365L306 359M287 369L271 358M287 369L285 390M271 358L256 381M268 396L285 390M268 396L255 385M255 385L256 381M271 357L271 358M306 365L287 369M303 397L285 390M239 354L256 381M270 416L268 396M245 388L255 385" fill="none" stroke="#000" stroke-opacity="0.28" stroke-width="0.8"/>
</g>
<g clip-path="url(#clip_h)"><g filter="url(#bl_h)">
<path d="M374.1 320.1h19.4v19.9h-19.4zM393.1 320.1h19.4v19.9h-19.4zM431.1 320.1h19.4v19.9h-19.4zM374.1 339.6h19.4v19.9h-19.4zM393.1 339.6h19.4v19.9h-19.4zM431.1 339.6h19.4v19.9h-19.4zM450.1 359.1h19.4v19.9h-19.4zM469.1 378.6h19.4v19.9h-19.4zM450.1 417.5h19.4v19.9h-19.4zM450.1 437.0h19.4v19.9h-19.4zM450.1 456.5h19.4v19.9h-19.4z" fill="rgb(120,120,120)"/>
<path d="M412.1 320.1h19.4v19.9h-19.4zM412.1 339.6h19.4v19.9h-19.4zM431.1 359.1h19.4v19.9h-19.4zM450.1 398.1h19.4v19.9h-19.4zM431.1 417.5h19.4v19.9h-19.4zM412.1 437.0h19.4v19.9h-19.4zM431.1 437.0h19.4v19.9h-19.4zM412.1 456.5h19.4v19.9h-19.4zM431.1 456.5h19.4v19.9h-19.4z" fill="rgb(115,115,115)"/>
<path d="M450.1 320.1h19.4v19.9h-19.4zM488.0 320.1h19.4v19.9h-19.4zM526.0 320.1h19.4v19.9h-19.4zM545.0 320.1h19.4v19.9h-19.4zM450.1 339.6h19.4v19.9h-19.4zM488.0 339.6h19.4v19.9h-19.4zM526.0 339.6h19.4v19.9h-19.4zM545.0 339.6h19.4v19.9h-19.4zM488.0 359.1h19.4v19.9h-19.4zM507.0 359.1h19.4v19.9h-19.4zM507.0 378.6h19.4v19.9h-19.4zM526.0 378.6h19.4v19.9h-19.4zM545.0 378.6h19.4v19.9h-19.4zM488.0 398.1h19.4v19.9h-19.4zM507.0 398.1h19.4v19.9h-19.4zM526.0 398.1h19.4v19.9h-19.4zM545.0 398.1h19.4v19.9h-19.4zM507.0 417.5h19.4v19.9h-19.4zM526.0 417.5h19.4v19.9h-19.4zM545.0 417.5h19.4v19.9h-19.4zM488.0 437.0h19.4v19.9h-19.4zM507.0 437.0h19.4v19.9h-19.4zM526.0 437.0h19.4v19.9h-19.4zM545.0 437.0h19.4v19.9h-19.4zM488.0 456.5h19.4v19.9h-19.4zM507.0 456.5h19.4v19.9h-19.4zM526.0 456.5h19.4v19.9h-19.4zM545.0 456.5h19.4v19.9h-19.4z" fill="rgb(130,130,130)"/>
<path d="M469.1 320.1h19.4v19.9h-19.4zM507.0 320.1h19.4v19.9h-19.4zM469.1 339.6h19.4v19.9h-19.4zM507.0 339.6h19.4v19.9h-19.4zM469.1 359.1h19.4v19.9h-19.4zM488.0 378.6h19.4v19.9h-19.4zM469.1 398.1h19.4v19.9h-19.4zM469.1 417.5h19.4v19.9h-19.4zM488.0 417.5h19.4v19.9h-19.4zM469.1 437.0h19.4v19.9h-19.4zM469.1 456.5h19.4v19.9h-19.4z" fill="rgb(125,125,125)"/>
<path d="M374.1 359.1h19.4v19.9h-19.4zM393.1 359.1h19.4v19.9h-19.4zM412.1 378.6h19.4v19.9h-19.4zM450.1 378.6h19.4v19.9h-19.4zM374.1 398.1h19.4v19.9h-19.4zM393.1 398.1h19.4v19.9h-19.4zM431.1 398.1h19.4v19.9h-19.4zM412.1 417.5h19.4v19.9h-19.4zM374.1 437.0h19.4v19.9h-19.4zM393.1 437.0h19.4v19.9h-19.4zM374.1 456.5h19.4v19.9h-19.4zM393.1 456.5h19.4v19.9h-19.4z" fill="rgb(110,110,110)"/>
<path d="M412.1 359.1h19.4v19.9h-19.4zM374.1 378.6h19.4v19.9h-19.4zM393.1 378.6h19.4v19.9h-19.4zM412.1 398.1h19.4v19.9h-19.4zM374.1 417.5h19.4v19.9h-19.4zM393.1 417.5h19.4v19.9h-19.4z" fill="rgb(105,105,105)"/>
<path d="M526.0 359.1h19.4v19.9h-19.4zM545.0 359.1h19.4v19.9h-19.4z" fill="rgb(135,135,135)"/>
<path d="M431.1 378.6h19.4v19.9h-19.4z" fill="rgb(100,100,100)"/>
</g>
<g filter="url(#soft)"><path d="M391 336L392 332 395 343zM391 336L395 343 394 344zM391 336L394 344 381 339zM394 336L403 334 399 342zM394 336L399 342 395 343zM394 336L395 343 392 332zM411 334L411 338 403 334zM419 333L423 337 421 338zM419 333L421 338 416 336zM425 332L430 338 423 337zM438 337L446 338 439 344zM452 334L454 334 451 341zM452 334L451 341 447 338zM452 334L447 338 448 333zM458 337L462 339 455 346zM458 337L455 346 451 341zM458 337L451 341 454 334zM493 339L499 342 488 342zM493 339L488 342 488 341zM525 334L525 327 534 335zM525 334L534 335 533 337zM525 334L533 337 529 340zM525 334L529 340 524 342zM525 334L524 342 523 341zM525 334L523 341 520 337zM548 336L553 336 547 344zM548 336L547 344 547 344zM548 336L547 344 539 335zM387 347L394 344 392 353zM387 347L392 353 390 354zM407 341L411 338 406 347zM410 343L416 348 415 352zM416 339L421 338 420 344zM416 339L420 344 416 348zM416 339L416 348 412 338zM422 340L430 338 430 346zM422 340L430 346 420 344zM422 340L420 344 421 338zM433 341L431 336 437 339zM433 341L437 339 439 344zM433 341L439 344 438 346zM433 341L438 346 431 346zM433 341L431 346 430 346zM433 341L430 346 430 338zM445 345L449 351 441 350zM445 345L441 350 438 346zM469 342L465 340 476 334zM469 342L476 334 476 335zM469 342L476 335 478 339zM469 342L478 339 476 344zM469 342L476 344 473 345zM469 342L473 345 471 345zM483 344L484 347 480 349zM483 345L488 345 484 347zM494 344L496 349 489 347zM504 345L509 349 506 350zM511 342L515 343 512 350zM517 346L524 342 522 350zM539 345L547 344 538 347zM399 349L406 347 399 356zM404 353L406 347 415 352zM404 353L415 352 416 354zM404 353L416 354 415 355zM404 353L415 355 401 358zM404 353L401 358 399 356zM424 346L431 346 427 356zM424 346L427 356 427 356zM424 346L427 356 416 354zM424 346L416 354 415 352zM424 346L415 352 416 348zM424 346L416 348 420 344zM435 351L441 350 434 359zM435 351L434 359 433 359zM435 351L433 359 427 356zM435 351L427 356 431 346zM467 353L466 357 462 350zM470 349L472 353 462 350zM470 349L462 350 462 350zM476 352L480 349 481 350zM476 352L481 350 474 357zM476 352L474 357 473 356zM476 352L473 356 472 353zM492 352L497 352 492 354zM502 348L499 344 506 350zM502 348L506 350 503 354zM502 348L503 354 499 354zM502 348L499 354 497 352zM502 348L497 352 496 349zM528 346L531 345 528 352zM528 346L528 352 525 353zM528 346L525 353 522 350zM532 350L536 350 536 353zM532 350L536 353 528 352zM541 350L543 355 537 355zM541 350L537 355 536 353zM549 354L552 347 554 353zM549 354L554 353 551 360zM549 354L551 360 547 360zM549 354L547 360 543 355zM396 361L399 365 392 364zM407 362L412 365 410 366zM407 362L410 366 401 361zM407 362L401 361 401 358zM442 355L449 351 448 353zM442 355L448 353 443 361zM442 355L443 361 437 361zM442 355L437 361 434 359zM442 355L434 359 441 350zM447 360L452 363 448 366zM447 360L448 366 443 361zM454 359L459 364 452 363zM454 359L452 363 448 353zM468 359L466 357 473 356zM468 359L473 356 474 357zM468 359L474 357 476 362zM468 359L476 362 465 361zM478 354L485 354 485 363zM478 354L485 363 485 363zM478 354L485 363 482 365zM478 354L482 365 480 365zM478 354L480 365 476 362zM478 354L476 362 476 362zM478 354L476 362 474 357zM490 354L492 354 491 360zM490 354L491 360 485 363zM494 356L497 358 495 360zM494 356L495 360 491 360zM494 356L491 360 492 354zM502 360L507 360 505 365zM502 360L505 365 497 358zM508 355L513 352 513 357zM508 355L513 357 507 360zM526 360L525 355 531 360zM526 360L531 360 519 366zM531 354L528 352 536 353zM531 354L536 353 537 355zM531 354L537 355 534 360zM531 354L534 360 532 361zM531 354L532 361 531 360zM531 354L531 360 525 355zM389 365L392 364 390 370zM389 365L390 370 382 370zM389 365L382 370 381 370zM402 365L401 361 410 366zM402 365L410 366 406 373zM402 365L406 373 399 367zM402 365L399 367 399 365zM422 363L427 356 422 367zM426 364L433 359 429 371zM426 364L429 371 424 371zM426 364L424 371 422 367zM436 367L437 361 439 372zM436 367L439 372 435 376zM436 367L435 376 429 371zM442 368L447 370 443 372zM453 368L452 363 459 364zM453 368L459 364 460 364zM453 368L460 364 461 368zM453 368L461 368 461 369zM453 368L461 369 453 375zM453 368L453 375 447 370zM494 364L497 367 494 369zM494 364L494 369 485 363zM499 363L505 365 505 367zM499 363L505 367 504 368zM499 363L504 368 497 367zM499 363L497 367 495 360zM510 364L510 370 509 370zM526 365L530 368 528 369zM526 365L528 369 520 368zM526 365L520 368 519 366zM534 366L542 368 538 372zM534 366L538 372 530 368zM534 366L530 368 532 361zM399 370L406 373 404 382zM399 370L404 382 397 381zM399 370L397 381 394 376zM399 370L394 376 393 374zM414 373L410 366 412 365zM414 373L412 365 418 376zM414 373L418 376 405 383zM414 373L405 383 404 382zM414 373L404 382 406 373zM419 368L422 367 424 371zM419 368L424 371 422 374zM419 368L422 374 419 376zM419 368L419 376 418 376zM447 375L453 375 453 378zM447 375L453 378 453 378zM447 375L453 378 446 381zM466 375L465 380 464 378zM484 374L489 378 483 379zM497 371L499 376 494 376zM505 375L507 382 507 382zM505 375L507 382 503 381zM505 375L503 381 499 376zM505 375L499 376 504 368zM516 374L521 377 520 379zM516 374L520 379 517 378zM525 372L528 369 529 375zM525 372L529 375 526 377zM525 372L526 377 521 377zM530 371L529 375 528 369zM541 375L544 380 544 380zM553 373L558 375 557 377zM553 373L557 377 552 378zM387 378L394 376 397 381zM387 378L397 381 388 386zM387 378L388 386 384 381zM387 378L384 381 386 376zM425 379L430 384 428 387zM443 377L443 372 446 381zM451 384L446 381 453 378zM451 384L453 378 457 386zM451 384L457 386 450 390zM451 384L450 390 444 384zM459 380L464 382 461 388zM459 380L461 388 457 386zM482 385L483 386 482 389zM485 383L491 381 483 386zM497 382L503 381 496 386zM497 382L496 386 492 383zM515 381L517 378 520 379zM515 381L520 379 522 387zM515 381L522 387 512 387zM515 381L512 387 508 382zM528 380L534 377 534 382zM540 380L544 380 543 382zM540 380L543 382 541 386zM540 380L541 386 539 386zM546 382L552 378 550 385zM546 382L550 385 543 382zM395 390L403 389 396 397zM395 390L396 397 389 395zM421 386L422 393 417 393zM443 390L450 390 450 391zM443 390L450 391 441 392zM443 390L441 392 440 390zM467 385L474 385 472 389zM476 390L476 395 472 389zM486 386L487 393 483 391zM486 386L483 391 482 389zM486 386L482 389 483 386zM493 388L496 386 499 394zM501 386L503 381 507 382zM501 386L507 382 501 393zM501 386L501 393 499 394zM507 392L512 387 511 396zM507 392L511 396 511 396zM534 388L539 386 532 393zM534 388L532 393 526 388zM402 401L403 389 406 397zM402 401L406 397 403 403zM430 395L433 393 434 397zM430 395L434 397 433 398zM430 395L433 398 425 397zM436 393L440 390 441 392zM436 393L441 392 441 397zM436 393L441 397 434 397zM436 393L434 397 433 393zM446 392L450 391 450 398zM446 392L450 398 443 399zM455 393L457 386 461 388zM455 393L461 388 463 391zM455 393L463 391 462 401zM455 393L462 401 456 402zM455 393L456 402 450 398zM481 397L489 396 486 403zM481 397L486 403 484 403zM481 397L484 403 476 396zM505 400L509 402 506 403zM505 400L506 403 502 403zM526 395L532 393 534 399zM526 395L534 399 534 399zM526 395L534 399 527 405zM526 395L527 405 527 405zM526 395L527 405 524 405zM526 395L524 405 523 404zM553 396L559 395 557 402zM553 396L557 402 554 404zM553 396L554 404 550 404zM389 402L396 398 394 405zM389 402L394 405 374 408zM398 404L403 403 404 407zM398 404L404 407 404 407zM398 404L404 407 402 413zM398 404L402 413 402 413zM398 404L402 413 401 413zM398 404L401 413 398 413zM398 404L398 413 394 405zM406 402L411 400 404 407zM411 405L417 404 414 407zM422 400L425 404 421 406zM422 400L421 406 417 404zM428 401L432 405 425 404zM439 401L443 399 442 406zM439 401L442 406 434 407zM447 406L450 398 456 402zM447 406L456 402 454 407zM447 406L454 407 445 410zM473 405L480 406 480 407zM473 405L480 407 477 410zM473 405L477 410 466 407zM477 403L484 403 480 406zM477 403L480 406 470 401zM494 403L500 402 497 407zM494 403L497 407 490 408zM507 407L514 407 514 407zM507 407L514 407 506 410zM542 403L550 404 545 409zM542 403L545 409 543 410zM542 403L543 410 534 399zM410 409L412 412 402 413zM417 410L421 406 423 414zM417 410L423 414 415 416zM417 410L415 416 412 412zM427 408L425 404 432 405zM427 408L432 405 434 407zM427 408L434 407 432 416zM427 408L432 416 427 418zM427 408L427 418 423 414zM440 410L445 410 444 418zM440 410L444 418 443 418zM440 410L443 418 437 418zM440 410L437 418 432 416zM440 410L432 416 434 407zM458 412L456 402 462 401zM458 412L462 401 465 403zM458 412L465 403 466 407zM458 412L466 407 466 410zM458 412L466 410 462 416zM458 412L462 416 455 413zM473 410L477 410 475 415zM473 410L475 415 473 416zM473 410L473 416 466 410zM479 412L482 418 475 415zM479 412L475 415 477 410zM485 411L489 412 483 415zM496 410L497 407 500 413zM496 410L500 413 493 417zM521 414L524 405 527 405zM521 414L527 405 527 409zM521 414L527 409 521 419zM521 414L521 419 518 417zM521 414L518 417 524 405zM531 413L531 422 527 409zM536 407L527 405 534 399zM536 407L541 416 527 405zM552 413L552 414 546 421zM550 413L556 413 552 414zM388 418L360 410 372 408zM388 418L372 408 374 408zM388 418L374 408 393 415zM388 418L391 426 360 410zM397 419L401 413 398 426zM397 419L398 426 397 427zM397 419L397 427 391 427zM397 419L391 427 391 426zM401 421L409 423 408 423zM401 421L408 423 398 426zM410 416L415 416 412 422zM410 416L412 422 409 423zM410 416L409 423 402 413zM452 419L456 422 453 424zM452 419L453 424 447 424zM452 419L447 424 446 424zM456 419L462 416 462 421zM456 419L462 421 462 422zM456 419L462 422 456 422zM470 417L472 419 462 421zM470 417L462 421 462 421zM470 417L462 421 462 416zM476 420L483 423 475 425zM495 421L503 423 502 426zM495 421L502 426 491 425zM495 421L491 425 490 424zM510 416L513 416 509 422zM516 421L518 417 521 419zM516 421L521 419 522 422zM516 421L522 422 513 425zM525 416L527 409 531 422zM525 416L531 422 529 424zM525 416L529 424 524 423zM525 416L524 423 522 422zM525 416L522 422 521 419zM404 427L408 423 410 430zM404 427L410 430 406 436zM404 427L406 436 404 436zM415 426L419 424 416 431zM415 426L416 431 410 430zM430 428L433 430 429 432zM430 428L429 432 424 428zM433 424L437 418 435 430zM436 427L446 424 437 431zM436 427L437 431 435 430zM453 429L456 434 448 431zM457 425L462 422 459 433zM457 425L459 433 457 434zM457 425L457 434 453 424zM462 427L462 421 469 428zM462 427L469 428 468 434zM462 427L468 434 459 433zM469 423L475 425 474 425zM478 428L482 430 477 432zM508 428L513 431 511 435zM508 428L511 435 510 435zM508 428L510 435 502 430zM535 427L540 434 535 433zM535 427L535 433 529 428zM543 428L549 423 542 435zM543 428L542 435 540 434zM397 434L397 440 397 440zM397 434L397 440 390 434zM415 435L420 433 420 437zM415 435L420 437 419 438zM415 435L419 438 408 438zM431 435L435 430 437 431zM431 435L437 431 439 437zM431 435L439 437 427 438zM445 430L448 431 443 439zM445 430L443 439 442 440zM445 430L442 440 441 439zM445 430L441 439 439 437zM445 430L439 437 437 431zM445 430L437 431 446 424zM449 436L456 434 456 437zM449 436L456 437 443 439zM472 429L474 425 477 432zM472 429L477 432 475 436zM472 429L475 436 469 436zM472 429L469 436 468 434zM480 434L486 437 485 440zM480 434L485 440 480 439zM480 434L480 439 475 436zM486 430L482 430 483 423zM486 430L491 425 491 433zM486 430L491 433 486 437zM486 430L486 437 482 430zM495 430L502 426 502 430zM495 430L502 430 497 435zM502 436L502 430 510 435zM502 436L510 435 510 436zM502 436L510 436 499 441zM518 435L519 430 524 437zM518 435L524 437 523 439zM518 435L523 439 523 439zM518 435L523 439 511 435zM546 430L551 435 544 438zM546 430L544 438 542 435zM389 441L397 440 395 444zM389 441L395 444 388 445zM403 443L409 443 404 448zM415 441L419 444 413 447zM425 442L427 440 424 448zM425 442L424 448 419 444zM432 441L441 439 432 443zM449 439L456 437 454 445zM458 442L465 443 459 448zM458 442L459 448 454 445zM461 438L468 434 469 436zM461 438L469 436 467 443zM461 438L467 443 466 443zM461 438L466 443 465 443zM461 438L465 443 456 437zM494 440L499 441 499 442zM494 440L499 442 488 445zM494 440L488 445 488 444zM504 441L511 444 510 446zM504 441L510 446 503 449zM504 441L503 449 502 449zM504 441L502 449 499 442zM515 441L523 439 520 447zM515 441L520 447 511 444zM550 441L555 446 547 449zM391 447L395 444 397 454zM391 447L397 454 391 456zM391 447L391 456 388 454zM391 447L388 454 386 448zM410 450L413 448 408 454zM410 450L408 454 402 452zM418 448L424 448 425 451zM418 448L425 451 423 453zM428 445L432 443 431 451zM428 445L431 451 428 452zM428 445L428 452 425 451zM435 446L432 443 441 439zM435 446L441 439 442 440zM435 446L442 440 443 444zM435 446L443 444 442 446zM435 446L442 446 441 447zM435 446L441 447 438 451zM447 452L451 446 451 455zM447 452L451 455 451 456zM447 452L451 456 451 456zM453 451L455 456 451 455zM453 451L451 455 451 446zM464 450L468 452 465 455zM464 450L465 455 459 452zM473 449L477 450 474 454zM473 449L474 454 468 452zM480 446L485 440 488 444zM480 446L488 444 483 450zM480 446L483 450 477 450zM480 446L477 450 475 445zM487 451L491 460 485 456zM496 447L502 449 492 452zM496 447L492 452 488 445zM507 452L510 446 512 453zM507 452L512 453 503 453zM513 451L519 459 512 453zM526 447L532 443 526 449zM405 458L410 457 408 462zM416 457L420 459 417 460zM435 456L439 457 436 460zM435 456L436 460 431 461zM442 453L447 458 445 459zM442 453L445 459 439 457zM459 457L465 458 457 459zM498 453L503 453 503 458zM498 453L503 458 493 463zM498 453L493 463 493 463zM498 453L493 463 491 460zM498 453L491 460 492 452zM509 456L519 459 511 463zM509 456L511 463 503 458zM509 456L503 458 503 453zM529 455L535 458 523 459zM529 455L523 459 523 459zM394 462L399 457 398 467zM394 462L398 467 396 468zM403 463L408 462 409 467zM403 463L409 467 401 469zM413 461L414 457 417 460zM413 461L417 460 414 466zM413 461L414 466 410 468zM413 461L410 468 409 467zM413 461L409 467 408 462zM419 464L425 466 424 468zM441 462L445 459 445 466zM441 462L445 466 442 469zM451 463L454 467 445 466zM451 463L445 466 445 459zM453 460L457 459 458 469zM453 460L458 469 454 467zM460 460L465 458 467 465zM460 460L467 465 467 466zM460 460L467 466 460 470zM460 460L460 470 458 469zM460 460L458 469 457 459zM475 463L480 466 480 466zM475 463L480 466 474 469zM481 460L491 460 493 463zM481 460L493 463 480 466zM481 460L480 466 477 458zM530 463L535 458 537 460zM530 463L537 460 536 464zM530 463L536 464 535 465zM530 463L535 465 530 468z" fill="rgb(0,0,0)" stroke="rgb(0,0,0)" stroke-width="0.6"/><path d="M411 334L412 338 411 338zM419 333L423 331 423 337zM419 333L416 336 416 332zM425 332L423 337 423 331zM438 337L439 344 437 339zM467 336L476 334 465 340zM486 336L487 331 490 336zM486 336L490 336 488 341zM493 339L503 335 499 342zM515 337L523 341 515 343zM407 341L403 334 411 338zM407 341L406 347 406 347zM494 344L499 344 496 349zM504 345L506 350 499 344zM517 346L523 341 524 342zM536 346L538 347 536 350zM424 346L430 346 431 346zM470 349L473 345 472 353zM476 352L476 344 480 349zM484 347L487 352 485 354zM484 347L485 354 481 350zM484 347L481 350 480 349zM484 347L480 349 484 347zM492 352L496 349 497 352zM502 348L496 349 499 344zM396 361L401 361 399 365zM442 355L441 350 449 351zM526 360L519 365 518 363zM539 361L547 360 542 368zM539 361L542 368 542 368zM396 368L399 367 393 374zM442 368L443 372 439 372zM510 364L519 365 510 370zM510 364L509 370 505 367zM526 365L532 361 530 368zM414 373L406 373 410 366zM419 368L418 376 412 365zM466 375L474 375 465 380zM546 376L552 378 544 380zM553 373L552 378 552 378zM387 378L386 376 394 376zM418 382L419 376 422 382zM425 379L428 387 422 382zM443 377L446 381 444 384zM451 384L444 384 446 381zM528 380L529 375 534 377zM395 390L389 395 387 387zM421 386L428 387 422 393zM435 389L440 390 433 393zM467 385L472 389 463 391zM476 390L483 391 476 395zM493 388L499 394 497 396zM501 386L499 394 496 386zM507 392L511 396 501 393zM547 385L550 385 551 386zM436 393L433 393 440 390zM505 400L502 403 500 402zM526 395L523 404 519 396zM389 402L389 395 396 397zM389 402L396 397 396 398zM389 402L374 408 372 408zM411 405L414 407 404 407zM422 400L425 397 425 404zM473 405L470 401 480 406zM477 403L476 396 484 403zM505 407L506 410 505 411zM507 407L509 402 514 407zM391 410L398 413 393 415zM479 412L483 415 482 418zM485 411L490 408 489 412zM502 409L505 411 504 413zM509 414L513 416 504 413zM552 413L546 421 541 419zM476 420L482 418 483 423zM486 418L493 417 490 424zM516 421L514 415 518 417zM419 429L420 433 416 431zM430 428L424 428 423 423zM433 424L435 430 433 430zM436 427L443 418 446 424zM462 427L459 433 462 422zM469 423L474 425 469 428zM535 427L541 419 540 434zM543 428L546 421 549 423zM445 430L446 424 447 424zM480 434L475 436 477 432zM522 430L529 428 524 437zM522 430L524 437 519 430zM529 434L535 433 531 441zM389 441L388 445 385 439zM415 441L419 438 419 444zM432 441L432 443 427 440zM449 439L454 445 451 446zM536 437L544 438 542 445zM536 437L542 445 539 447zM536 437L539 447 532 443zM550 441L551 435 555 446zM550 441L547 449 542 445zM418 448L419 444 424 448zM428 445L427 440 432 443zM487 451L492 452 491 460zM513 451L519 459 519 459zM513 451L519 459 519 459zM530 449L536 453 530 451zM530 449L530 451 526 449zM416 457L423 453 420 459zM435 456L438 451 439 457zM435 456L431 461 428 452zM446 453L451 456 447 458zM498 453L503 449 503 453zM529 455L536 453 535 458zM541 455L549 460 537 460zM451 463L445 459 447 458zM453 460L455 456 457 459zM475 463L474 469 467 466z" fill="rgb(12,12,12)" stroke="rgb(12,12,12)" stroke-width="0.6"/><path d="M525 334L520 337 525 327zM387 347L381 339 394 344zM407 341L403 334 403 334zM410 343L412 338 416 348zM410 343L415 352 406 347zM445 345L438 346 439 344zM483 344L480 349 476 344zM494 344L489 347 488 345zM511 342L512 350 509 349zM517 346L515 343 523 341zM517 346L522 350 513 352zM399 349L399 356 392 353zM404 353L406 347 406 347zM467 353L473 356 466 357zM541 350L536 353 536 350zM407 362L401 358 415 355zM407 362L413 364 412 365zM462 358L466 357 465 361zM462 358L465 361 460 364zM490 354L485 363 485 354zM508 355L512 350 513 352zM521 355L518 363 513 357zM526 360L519 366 519 365zM531 354L525 355 525 353zM389 365L381 370 387 360zM442 368L448 366 447 370zM453 368L448 366 452 363zM470 369L480 365 474 375zM494 364L485 363 485 363zM428 376L430 384 422 374zM447 375L446 381 443 372zM460 378L464 378 453 378zM460 378L453 378 453 375zM484 374L482 365 489 378zM497 371L504 368 499 376zM541 375L544 380 537 375zM546 376L546 371 552 378zM425 379L422 374 430 384zM443 377L444 384 441 384zM459 380L465 380 464 382zM471 384L476 378 475 384zM471 384L475 384 474 385zM482 385L483 379 483 386zM497 382L492 383 491 381zM515 381L508 382 517 378zM528 380L534 382 528 386zM546 382L552 378 552 378zM421 386L428 387 428 387zM421 386L417 393 412 388zM435 389L433 393 428 387zM443 390L440 390 441 384zM443 390L444 384 450 390zM467 385L464 382 474 385zM467 385L463 391 461 388zM547 385L551 386 549 391zM402 401L403 403 396 398zM410 396L417 393 415 400zM481 397L476 396 476 395zM481 397L487 393 489 396zM406 402L406 397 411 400zM411 405L415 400 417 404zM411 405L404 407 404 407zM428 401L433 398 432 405zM439 401L434 407 432 405zM477 403L470 401 476 396zM515 402L523 404 514 407zM417 410L412 412 414 407zM427 408L423 414 421 406zM451 413L453 416 444 418zM458 412L454 407 456 402zM458 412L455 413 454 407zM496 410L493 417 489 412zM502 409L502 403 505 411zM531 413L541 419 531 422zM552 413L541 419 541 419zM552 413L541 419 541 416zM397 419L398 413 401 413zM419 421L423 423 419 424zM452 419L453 416 456 422zM456 419L455 413 462 416zM470 417L473 416 472 419zM476 420L475 425 472 419zM486 418L490 424 483 423zM499 418L505 422 503 423zM510 416L509 422 505 422zM404 427L404 436 397 427zM415 426L410 430 408 423zM453 429L457 434 456 434zM462 427L462 421 462 421zM469 423L472 419 475 425zM508 428L513 425 513 431zM397 434L404 436 397 440zM415 435L416 431 420 433zM415 435L408 438 406 436zM431 435L433 430 435 430zM445 430L447 424 448 431zM449 436L448 431 456 434zM486 430L490 424 491 425zM495 430L491 425 502 426zM518 435L511 435 513 431zM389 441L390 434 397 440zM403 443L408 438 409 443zM415 441L413 447 409 443zM432 441L439 437 441 439zM449 439L451 446 443 444zM474 442L480 439 475 445zM494 440L488 444 485 440zM504 441L499 442 499 441zM410 450L402 452 404 448zM418 448L423 453 416 452zM428 445L425 451 424 448zM464 450L466 443 468 452zM487 451L485 456 483 450zM526 447L531 441 532 443zM416 457L417 460 414 457zM435 456L428 452 431 451zM442 453L441 447 447 458zM529 455L523 459 530 451zM394 462L396 468 390 461zM413 461L410 457 414 457zM419 464L420 459 425 466zM419 464L424 468 414 466zM460 460L457 459 465 458z" fill="rgb(24,24,24)" stroke="rgb(24,24,24)" stroke-width="0.6"/><path d="M394 336L400 330 403 334zM425 332L431 336 430 338zM437 336L441 335 437 339zM438 337L441 335 446 338zM438 337L437 339 441 335zM467 336L472 331 476 334zM493 339L488 341 490 336zM548 336L551 331 553 336zM407 341L406 347 399 342zM407 341L399 342 403 334zM416 339L416 336 421 338zM422 340L423 337 430 338zM433 341L430 338 431 336zM445 345L455 347 449 351zM483 345L488 342 488 345zM504 345L503 335 509 349zM539 345L539 335 547 344zM435 351L438 346 441 350zM470 349L462 350 471 345zM528 346L522 350 524 342zM549 354L548 345 552 347zM454 359L448 353 449 351zM490 354L487 352 492 354zM494 356L497 352 499 354zM494 356L499 354 497 358zM508 355L509 349 512 350zM531 354L525 353 528 352zM422 363L416 354 427 356zM426 364L427 356 433 359zM436 367L429 371 433 359zM453 368L447 370 448 366zM468 365L464 369 461 368zM468 365L461 368 460 364zM470 369L474 375 464 369zM494 364L495 360 497 367zM526 365L531 360 532 361zM526 365L519 366 531 360zM534 366L534 360 542 368zM549 368L555 368 546 371zM399 370L399 367 406 373zM447 375L447 370 453 375zM466 375L474 375 474 375zM514 377L510 370 517 378zM541 375L545 370 544 380zM459 380L453 378 453 378zM459 380L457 386 453 378zM482 385L482 389 475 384zM485 383L483 386 483 379zM497 382L491 381 491 378zM525 381L528 386 526 388zM525 381L526 388 523 388zM546 382L543 382 544 380zM546 382L544 380 552 378zM395 390L387 387 388 386zM395 390L405 384 403 389zM421 386L422 382 428 387zM486 386L492 383 487 393zM538 392L544 395 534 399zM538 392L534 399 532 393zM402 401L396 397 403 389zM446 392L443 399 441 397zM472 396L476 396 470 401zM505 400L511 396 509 402zM553 396L557 393 559 395zM553 396L550 404 544 395zM389 402L372 408 389 395zM406 402L404 407 403 403zM411 405L411 400 415 400zM422 400L417 404 415 400zM439 401L441 397 443 399zM447 406L443 399 450 398zM410 409L414 407 412 412zM427 408L421 406 425 404zM440 410L434 407 442 406zM550 413L554 404 556 413zM388 418L393 415 391 426zM397 419L391 426 393 415zM410 416L402 413 412 412zM470 417L462 416 466 410zM476 420L475 415 482 418zM495 421L493 417 503 423zM419 429L424 428 420 433zM430 428L426 419 433 430zM453 429L448 431 447 424zM462 427L462 422 462 421zM478 428L477 432 474 425zM517 429L519 430 513 431zM535 427L529 428 529 424zM543 428L540 434 541 419zM397 434L390 430 391 427zM431 435L429 432 433 430zM486 430L483 423 490 424zM518 435L513 431 519 430zM546 430L549 423 551 435zM432 441L427 440 427 438zM449 439L456 437 456 437zM461 438L459 433 468 434zM494 440L497 435 499 441zM494 440L485 440 486 437zM504 441L510 436 511 444zM536 437L532 443 531 441zM391 447L386 448 388 445zM401 447L404 448 402 452zM453 451L459 452 455 456zM464 450L459 452 459 448zM473 449L475 445 477 450zM513 451L512 453 510 446zM526 447L526 449 521 450zM405 458L408 454 410 457zM416 457L416 452 423 453zM425 458L431 462 425 466zM469 458L476 458 467 465zM479 453L483 450 485 456zM498 453L502 449 503 449zM509 456L512 453 519 459zM541 455L547 449 549 460zM413 461L408 462 410 457zM530 463L523 459 535 458z" fill="rgb(36,36,36)" stroke="rgb(36,36,36)" stroke-width="0.6"/><path d="M411 334L416 336 412 338zM419 333L422 328 423 331zM458 337L462 334 462 339zM515 337L520 337 523 341zM483 345L488 341 488 342zM494 344L488 345 488 342zM517 346L513 352 512 350zM404 353L399 356 406 347zM424 346L420 344 430 346zM470 349L471 345 473 345zM476 352L473 345 476 344zM532 350L531 345 536 350zM541 350L548 345 543 355zM541 350L536 350 538 347zM396 361L401 358 401 361zM396 361L392 364 388 359zM407 362L415 355 413 364zM447 360L443 361 448 353zM468 359L465 361 466 357zM494 356L492 354 497 352zM521 355L525 355 518 363zM521 355L513 357 513 352zM539 361L543 355 547 360zM539 361L542 368 534 360zM402 365L399 365 401 361zM436 367L433 359 434 359zM436 367L434 359 437 361zM494 364L485 363 491 360zM510 364L505 367 505 365zM534 366L532 361 534 360zM399 370L393 374 399 367zM460 378L453 375 461 369zM505 375L509 370 507 382zM516 374L520 368 521 377zM530 371L528 369 530 368zM530 371L534 377 529 375zM553 373L555 368 558 375zM418 382L422 382 412 388zM443 377L441 384 435 381zM459 380L464 378 465 380zM471 384L474 375 476 378zM497 382L491 378 494 376zM497 382L499 376 503 381zM525 381L526 377 528 386zM528 380L526 377 529 375zM540 380L539 386 534 382zM546 382L544 380 544 380zM395 390L405 383 405 384zM435 389L428 387 428 387zM443 390L441 384 444 384zM501 386L496 386 503 381zM507 392L508 382 512 387zM514 391L523 388 519 396zM514 391L519 396 511 396zM534 388L526 388 528 386zM547 385L549 391 545 393zM402 401L396 398 396 397zM410 396L412 388 417 393zM410 396L415 400 411 400zM430 395L422 393 428 387zM430 395L428 387 433 393zM430 395L425 397 422 393zM455 393L450 390 457 386zM455 393L450 398 450 391zM481 397L476 395 483 391zM505 400L500 402 497 396zM526 395L526 388 532 393zM398 404L396 398 403 403zM447 406L445 410 442 406zM447 406L442 406 443 399zM505 407L505 411 502 403zM507 407L506 403 509 402zM507 407L506 410 506 403zM515 402L519 396 523 404zM542 403L534 399 534 399zM417 410L414 407 417 404zM440 410L442 406 445 410zM473 410L466 410 466 407zM479 412L477 410 480 407zM502 409L504 413 502 414zM531 413L527 409 527 405zM552 413L541 416 543 410zM401 421L402 413 409 423zM410 416L412 412 415 416zM419 421L426 419 423 423zM419 421L419 424 412 422zM452 419L446 424 443 418zM486 418L483 423 483 423zM495 421L490 424 493 417zM499 418L502 414 505 422zM516 421L513 416 514 415zM404 427L397 427 398 426zM415 426L408 423 409 423zM415 426L412 422 419 424zM430 428L423 423 426 419zM436 427L437 418 443 418zM436 427L435 430 437 418zM478 428L483 423 482 430zM508 428L502 430 502 426zM543 428L541 419 546 421zM397 434L390 434 390 430zM424 433L427 438 420 437zM472 429L468 434 469 428zM480 434L482 430 486 437zM502 436L497 435 502 430zM522 430L529 424 529 428zM529 434L529 428 535 433zM425 442L419 444 419 438zM432 441L427 438 439 437zM458 442L456 437 465 443zM458 442L454 445 456 437zM461 438L456 437 456 437zM461 438L456 437 456 434zM461 438L456 434 457 434zM536 437L542 435 544 438zM550 441L542 445 544 438zM410 450L413 447 413 448zM435 446L438 451 431 451zM480 446L475 445 480 439zM480 446L480 439 485 440zM496 447L499 442 502 449zM507 452L503 449 510 446zM513 451L521 450 519 459zM526 447L523 439 531 441zM530 449L539 447 536 453zM415 455L416 452 414 457zM425 458L431 461 431 462zM425 458L425 466 420 459zM479 453L485 456 477 458zM403 463L401 469 398 467zM441 462L442 469 436 460zM451 463L447 458 451 456zM451 463L451 456 454 467zM453 460L451 455 455 456zM453 460L454 467 451 456zM475 463L477 458 480 466z" fill="rgb(48,48,48)" stroke="rgb(48,48,48)" stroke-width="0.6"/><path d="M391 336L381 339 392 332zM437 336L439 332 441 335zM452 334L453 328 454 334zM452 334L448 333 453 328zM493 339L490 336 503 335zM548 336L539 335 547 328zM548 336L547 328 551 331zM445 345L439 344 446 338zM445 345L455 346 455 347zM467 343L471 345 462 350zM469 342L471 345 465 340zM483 344L476 344 478 339zM494 344L499 342 499 344zM504 345L499 342 503 335zM504 345L503 335 503 335zM536 346L536 350 531 345zM539 345L533 337 534 335zM435 351L431 346 438 346zM467 353L472 353 473 356zM476 352L472 353 473 345zM484 347L489 347 487 352zM492 352L492 354 487 352zM549 354L543 355 548 345zM447 360L448 353 452 363zM454 359L449 351 455 347zM454 359L457 349 459 364zM462 358L460 364 459 364zM478 354L481 350 485 354zM490 354L485 354 487 352zM526 360L518 363 525 355zM396 368L393 374 390 370zM422 363L415 355 416 354zM426 364L427 356 427 356zM442 368L443 361 448 366zM499 363L495 360 497 358zM499 363L497 358 505 365zM419 368L412 365 413 364zM419 368L413 364 422 367zM428 376L435 381 430 384zM447 375L443 372 447 370zM460 378L461 369 464 378zM466 375L464 369 474 375zM491 371L494 369 494 376zM491 371L494 376 491 378zM497 371L494 376 494 369zM505 375L504 368 505 367zM505 375L505 367 509 370zM514 377L509 370 510 370zM516 374L519 366 520 368zM418 382L418 376 419 376zM425 379L422 382 419 376zM482 385L476 378 483 379zM485 383L491 378 491 381zM525 381L523 388 522 387zM540 380L537 375 544 380zM395 390L397 381 404 382zM395 390L404 382 405 383zM435 389L428 387 430 384zM467 385L461 388 464 382zM476 390L482 389 483 391zM493 388L497 396 489 396zM507 392L507 382 508 382zM514 391L522 387 523 388zM534 388L528 386 534 382zM534 388L534 382 539 386zM547 385L543 382 550 385zM446 392L441 397 441 392zM455 393L450 391 450 390zM472 396L476 395 476 396zM481 397L483 391 487 393zM428 401L425 404 425 397zM473 405L465 403 470 401zM494 403L490 408 486 403zM515 402L514 407 509 402zM542 403L544 395 550 404zM391 410L394 405 398 413zM410 409L402 413 404 407zM451 413L444 418 445 410zM502 409L500 402 502 403zM509 414L504 413 505 411zM509 414L514 415 513 416zM518 411L518 417 514 415zM531 413L527 405 527 405zM536 407L534 399 543 410zM552 413L543 410 545 409zM550 413L545 409 550 404zM550 413L550 404 554 404zM397 419L393 415 398 413zM410 416L402 413 402 413zM419 421L427 418 426 419zM476 420L472 419 473 416zM486 418L493 417 493 417zM499 418L503 423 493 417zM510 416L505 422 502 414zM525 416L521 419 527 409zM415 426L409 423 412 422zM433 424L427 418 432 416zM433 424L432 416 437 418zM469 423L469 428 462 421zM478 428L483 423 483 423zM535 427L529 424 531 422zM535 427L541 419 541 419zM415 435L406 436 410 430zM472 429L469 428 474 425zM495 430L497 435 491 433zM529 434L531 441 523 439zM389 441L385 439 390 434zM449 439L443 444 442 440zM461 438L457 434 459 433zM474 442L475 436 480 439zM391 447L388 445 395 444zM428 445L424 448 427 440zM453 451L451 446 454 445zM464 450L465 443 466 443zM496 447L488 445 499 442zM435 456L431 451 438 451zM446 453L447 458 441 447zM459 457L465 455 465 458zM469 458L467 465 465 458zM498 453L492 452 502 449zM529 455L530 451 536 453zM541 455L537 460 535 458zM394 462L397 455 399 457zM441 462L439 457 445 459zM451 463L451 456 451 456zM481 460L485 456 491 460zM530 463L530 468 523 459z" fill="rgb(60,60,60)" stroke="rgb(60,60,60)" stroke-width="0.6"/><path d="M394 336L392 332 393 330zM394 336L393 330 400 330zM411 334L403 334 411 328zM458 337L461 332 462 334zM467 336L465 340 462 339zM486 336L481 331 487 331zM515 337L515 343 507 331zM387 347L366 339 381 339zM387 347L390 354 366 339zM422 340L421 338 423 337zM445 345L451 341 455 346zM483 344L478 339 480 340zM539 345L534 335 535 334zM539 345L535 334 539 335zM539 345L538 347 533 337zM399 349L395 343 399 342zM399 349L399 342 406 347zM467 353L462 350 472 353zM492 352L489 347 496 349zM492 352L487 352 489 347zM528 346L524 342 529 340zM528 346L529 340 531 345zM532 350L528 352 531 345zM502 360L503 354 507 360zM508 355L507 360 503 354zM389 365L387 360 388 359zM389 365L388 359 392 364zM396 368L399 365 399 367zM422 363L422 367 413 364zM426 364L422 367 427 356zM468 365L476 362 464 369zM468 365L460 364 465 361zM470 369L476 362 480 365zM510 364L518 363 519 365zM549 368L546 371 545 370zM388 376L394 376 386 376zM466 375L464 378 461 369zM484 374L480 365 482 365zM484 374L483 379 476 378zM497 371L497 367 504 368zM514 377L517 378 508 382zM525 372L521 377 520 368zM443 377L435 376 439 372zM485 383L483 379 489 378zM485 383L489 378 491 378zM540 380L534 382 534 377zM395 390L388 386 397 381zM421 386L412 388 422 382zM435 389L441 384 440 390zM476 390L472 389 474 385zM493 388L492 383 496 386zM505 400L497 396 499 394zM553 396L544 395 545 393zM398 404L394 405 396 398zM406 402L403 403 406 397zM411 405L404 407 411 400zM422 400L422 393 425 397zM422 400L415 400 417 393zM439 401L432 405 433 398zM473 405L466 407 465 403zM494 403L497 396 500 402zM505 407L506 403 506 410zM417 410L417 404 421 406zM451 413L455 413 453 416zM473 410L466 407 477 410zM479 412L480 407 483 415zM485 411L486 403 490 408zM502 409L502 414 500 413zM509 414L505 411 506 410zM531 413L541 416 541 419zM536 407L543 410 541 416zM452 419L443 418 444 418zM456 419L453 416 455 413zM486 418L489 412 493 417zM516 421L513 425 509 422zM516 421L509 422 513 416zM404 427L398 426 408 423zM419 429L416 431 419 424zM453 429L447 424 453 424zM457 425L456 422 462 422zM508 428L502 426 503 423zM508 428L503 423 505 422zM535 427L531 422 541 419zM397 434L391 427 397 427zM415 435L410 430 416 431zM424 433L429 432 427 438zM480 434L477 432 482 430zM502 436L499 441 497 435zM403 443L404 436 406 436zM403 443L406 436 408 438zM403 443L404 448 397 440zM415 441L409 443 408 438zM425 442L419 438 420 437zM425 442L420 437 427 438zM425 442L427 438 427 440zM449 439L443 439 456 437zM494 440L486 437 491 433zM504 441L499 441 510 436zM515 441L511 435 523 439zM515 441L511 444 510 436zM536 437L540 434 542 435zM401 447L402 452 397 455zM401 447L397 455 397 454zM410 450L404 448 409 443zM447 452L442 446 443 444zM447 452L443 444 451 446zM447 452L451 456 442 446zM464 450L459 448 465 443zM473 449L468 452 466 443zM507 452L503 453 503 449zM513 451L510 446 511 444zM526 447L523 439 523 439zM526 447L521 450 520 447zM405 458L402 452 408 454zM415 455L414 457 410 457zM459 457L457 459 455 456zM509 456L503 453 512 453zM528 454L530 451 523 459zM453 460L451 456 451 455zM475 463L467 466 467 465z" fill="rgb(72,72,72)" stroke="rgb(72,72,72)" stroke-width="0.6"/><path d="M411 334L416 332 416 336zM419 333L416 332 422 328zM425 332L423 331 432 333zM425 332L432 333 431 336zM458 337L454 334 461 332zM486 336L488 341 480 340zM445 345L447 338 451 341zM467 343L462 350 457 349zM467 343L457 349 455 347zM483 344L480 340 484 347zM504 345L499 344 499 342zM517 346L512 350 515 343zM399 349L392 353 394 344zM484 347L484 347 488 345zM484 347L488 345 489 347zM541 350L538 347 547 344zM541 350L547 344 547 344zM396 361L399 356 401 358zM454 359L455 347 457 349zM478 354L474 357 481 350zM502 360L497 358 499 354zM502 360L499 354 503 354zM508 355L506 350 509 349zM422 363L413 364 415 355zM494 364L491 360 495 360zM510 364L513 357 518 363zM549 368L556 364 555 368zM549 368L545 370 542 368zM466 375L461 369 461 368zM491 371L491 378 489 378zM514 377L507 382 509 370zM516 374L519 365 519 366zM525 372L520 368 528 369zM530 371L537 375 534 377zM553 373L552 378 546 371zM443 377L439 372 443 372zM443 377L435 381 435 376zM459 380L453 378 464 378zM471 384L465 380 474 375zM482 385L475 384 476 378zM497 382L494 376 499 376zM528 380L528 386 526 377zM540 380L534 377 537 375zM435 389L430 384 435 381zM486 386L483 386 491 381zM493 388L489 396 487 393zM507 392L507 382 507 382zM507 392L501 393 507 382zM538 392L545 393 544 395zM547 385L545 393 541 386zM410 396L403 389 405 384zM410 396L405 384 412 388zM472 396L470 401 465 403zM505 400L499 394 501 393zM526 395L519 396 523 388zM553 396L545 393 549 391zM422 400L417 393 422 393zM428 401L425 397 433 398zM439 401L434 397 441 397zM494 403L486 403 489 396zM494 403L489 396 497 396zM410 409L404 407 414 407zM485 411L484 403 486 403zM485 411L483 415 480 407zM502 409L497 407 500 402zM518 411L524 405 518 417zM531 413L527 405 541 416zM552 413L545 409 552 414zM550 413L552 414 545 409zM401 421L401 413 402 413zM401 421L398 426 401 413zM419 421L423 414 427 418zM419 421L412 422 415 416zM456 419L456 422 453 416zM470 417L466 410 473 416zM476 420L473 416 475 415zM486 418L483 423 482 418zM510 416L502 414 504 413zM510 416L504 413 513 416zM433 424L426 419 427 418zM478 428L474 425 475 425zM478 428L475 425 483 423zM397 434L397 427 404 436zM431 435L427 438 427 438zM449 436L443 439 448 431zM495 430L491 433 491 425zM522 430L524 423 529 424zM425 442L427 438 427 438zM449 439L442 440 443 439zM474 442L475 445 467 443zM494 440L491 433 497 435zM515 441L510 436 510 435zM536 437L531 441 535 433zM401 447L397 440 404 448zM410 450L409 443 413 447zM453 451L454 445 459 448zM453 451L459 448 459 452zM473 449L466 443 467 443zM487 451L483 450 488 444zM487 451L488 445 492 452zM526 447L520 447 523 439zM530 449L532 443 539 447zM530 449L526 449 532 443zM405 458L408 462 399 457zM415 455L413 448 416 452zM442 453L439 457 438 451zM459 457L459 452 465 455zM469 458L474 454 476 458zM479 453L477 450 483 450zM528 454L523 459 519 459zM394 462L390 461 391 456zM394 462L391 456 397 454zM394 462L397 454 397 455zM403 463L399 457 408 462zM419 464L417 460 420 459zM475 463L476 458 477 458zM475 463L467 465 476 458zM481 460L477 458 485 456z" fill="rgb(84,84,84)" stroke="rgb(84,84,84)" stroke-width="0.6"/><path d="M467 336L462 334 472 331zM467 336L462 339 462 334zM486 336L480 340 478 339zM410 343L411 338 412 338zM410 343L406 347 411 338zM416 339L412 338 416 336zM445 345L446 338 447 338zM483 345L480 340 488 341zM483 345L484 347 480 340zM494 344L488 342 499 342zM511 342L506 330 507 331zM511 342L507 331 515 343zM399 349L394 344 395 343zM396 361L390 354 392 353zM396 361L392 353 399 356zM462 358L462 350 462 350zM462 358L462 350 466 357zM508 355L503 354 506 350zM521 355L513 352 522 350zM539 361L537 355 543 355zM470 369L464 369 476 362zM510 364L505 365 507 360zM388 376L393 374 394 376zM428 376L422 374 424 371zM466 375L461 368 464 369zM484 374L474 375 474 375zM484 374L474 375 480 365zM497 371L494 369 497 367zM514 377L508 382 507 382zM541 375L542 368 542 368zM546 376L545 370 546 371zM418 382L405 383 418 376zM471 384L474 385 464 382zM525 381L522 387 520 379zM435 389L435 381 441 384zM476 390L475 384 482 389zM486 386L491 381 492 383zM514 391L512 387 522 387zM472 396L465 403 462 401zM505 400L501 393 511 396zM526 395L523 388 526 388zM553 396L549 391 557 393zM439 401L433 398 434 397zM515 402L511 396 519 396zM542 403L534 399 544 395zM391 410L393 415 374 408zM485 411L480 407 480 406zM485 411L480 406 484 403zM496 410L490 408 497 407zM496 410L489 412 490 408zM509 414L514 407 514 415zM452 419L444 418 453 416zM453 429L453 424 457 434zM457 425L453 424 456 422zM508 428L509 422 513 425zM424 433L420 437 420 433zM529 434L523 439 524 437zM546 430L549 423 549 423zM403 443L397 440 404 436zM415 441L408 438 419 438zM515 441L510 435 511 435zM536 437L535 433 540 434zM550 441L551 435 551 435zM435 446L431 451 432 443zM473 449L467 443 475 445zM487 451L488 444 488 445zM513 451L511 444 520 447zM513 451L520 447 521 450zM415 455L410 457 408 454zM416 457L414 457 416 452zM425 458L428 452 431 461zM446 453L441 447 442 446zM446 453L442 446 451 456zM479 453L477 458 476 458zM541 455L542 445 547 449zM541 455L535 458 536 453zM403 463L398 467 399 457zM441 462L436 460 439 457z" fill="rgb(96,96,96)" stroke="rgb(96,96,96)" stroke-width="0.6"/><path d="M486 336L476 335 478 333zM486 336L478 333 481 331zM486 336L478 339 476 335zM515 337L507 331 520 337zM467 343L465 340 471 345zM467 343L455 347 455 346zM511 342L503 335 506 330zM511 342L509 349 503 335zM536 346L531 345 529 340zM541 350L547 344 548 345zM396 361L388 359 390 354zM396 368L390 370 392 364zM510 364L507 360 513 357zM549 368L551 360 556 364zM388 376L386 376 382 370zM428 376L435 376 435 381zM484 374L476 378 474 375zM516 374L517 378 510 370zM530 371L530 368 538 372zM530 371L538 372 537 375zM541 375L537 375 538 372zM541 375L538 372 542 368zM541 375L542 368 545 370zM546 376L544 380 545 370zM418 382L412 388 405 384zM425 379L419 376 422 374zM476 390L474 385 475 384zM493 388L487 393 492 383zM538 392L541 386 545 393zM538 392L532 393 539 386zM547 385L541 386 543 382zM410 396L411 400 406 397zM446 392L441 392 450 391zM472 396L472 389 476 395zM505 407L502 403 506 403zM451 413L445 410 454 407zM509 414L506 410 514 407zM419 421L415 416 423 414zM486 418L483 415 489 412zM486 418L482 418 483 415zM419 429L423 423 424 428zM433 424L433 430 426 419zM469 423L462 421 472 419zM508 428L505 422 509 422zM517 429L513 431 513 425zM431 435L427 438 429 432zM546 430L542 435 549 423zM550 441L544 438 551 435zM401 447L397 454 395 444zM418 448L413 448 413 447zM418 448L413 447 419 444zM418 448L416 452 413 448zM405 458L399 457 397 455zM415 455L408 454 413 448zM469 458L468 452 474 454zM469 458L465 458 465 455zM528 454L519 459 521 450zM419 464L414 466 417 460z" fill="rgb(108,108,108)" stroke="rgb(108,108,108)" stroke-width="0.6"/><path d="M411 334L411 328 416 332zM437 336L437 339 431 336zM467 343L455 346 462 339zM536 346L529 340 533 337zM462 358L457 349 462 350zM462 358L459 364 457 349zM521 355L522 350 525 353zM521 355L525 353 525 355zM539 361L534 360 537 355zM396 368L392 364 399 365zM442 368L437 361 443 361zM442 368L439 372 437 361zM468 365L476 362 476 362zM388 376L382 370 390 370zM388 376L390 370 393 374zM516 374L510 370 519 365zM553 373L546 371 555 368zM471 384L464 382 465 380zM525 381L520 379 521 377zM525 381L521 377 526 377zM515 402L511 396 511 396zM515 402L509 402 511 396zM502 409L500 413 497 407zM518 411L523 404 524 405zM499 418L500 413 502 414zM419 429L419 424 423 423zM474 442L469 436 475 436zM401 447L395 444 397 440zM401 447L397 440 397 440zM405 458L397 455 402 452zM425 458L420 459 423 453zM442 453L438 451 441 447zM459 457L455 456 459 452zM479 453L476 458 474 454zM528 454L526 449 530 451zM541 455L536 453 539 447zM541 455L539 447 542 445z" fill="rgb(120,120,120)" stroke="rgb(120,120,120)" stroke-width="0.6"/><path d="M428 376L424 371 429 371zM418 382L405 384 405 383zM410 396L406 397 403 389zM391 410L374 408 394 405zM451 413L454 407 455 413zM518 411L514 415 514 407zM517 429L513 425 522 422zM522 430L519 430 524 423zM529 434L524 437 529 428zM425 458L425 451 428 452zM479 453L474 454 477 450z" fill="rgb(132,132,132)" stroke="rgb(132,132,132)" stroke-width="0.6"/><path d="M437 336L432 333 433 332zM437 336L433 332 439 332zM536 346L533 337 538 347zM468 365L465 361 476 362zM549 368L547 360 551 360zM549 368L542 368 547 360zM428 376L429 371 435 376zM491 371L482 365 485 363zM491 371L485 363 494 369zM472 396L463 391 472 389zM472 396L462 401 463 391zM518 411L514 407 514 407zM499 418L493 417 493 417zM499 418L493 417 500 413zM517 429L524 423 519 430zM424 433L424 428 429 432zM424 433L420 433 424 428zM474 442L467 443 469 436zM425 458L423 453 425 451zM469 458L465 455 468 452zM528 454L521 450 526 449z" fill="rgb(144,144,144)" stroke="rgb(144,144,144)" stroke-width="0.6"/><path d="M437 336L431 336 432 333zM467 343L462 339 465 340zM491 371L489 378 482 365zM514 391L511 396 512 387zM538 392L539 386 541 386zM518 411L514 407 523 404zM517 429L522 422 524 423z" fill="rgb(156,156,156)" stroke="rgb(156,156,156)" stroke-width="0.6"/><path d="M391 336L392 332M391 336L395 343M391 336L394 344M391 336L381 339M394 336L392 332M394 336L393 330M394 336L400 330M394 336L403 334M394 336L399 342M394 336L395 343M411 334L403 334M411 334L411 328M411 334L416 332M411 334L416 336M411 334L412 338M411 334L411 338M419 333L416 332M419 333L422 328M419 333L423 331M419 333L423 337M419 333L421 338M419 333L416 336M425 332L423 331M425 332L432 333M425 332L431 336M425 332L430 338M425 332L423 337M437 336L431 336M437 336L432 333M437 336L433 332M437 336L439 332M437 336L441 335M437 336L437 339M438 337L441 335M438 337L446 338M438 337L439 344M438 337L437 339M452 334L453 328M452 334L454 334M452 334L451 341M452 334L447 338M452 334L448 333M458 337L454 334M458 337L461 332M458 337L462 334M458 337L462 339M458 337L455 346M458 337L451 341M467 336L462 334M467 336L472 331M467 336L476 334M467 336L465 340M467 336L462 339M486 336L476 335M486 336L478 333M486 336L481 331M486 336L487 331M486 336L490 336M486 336L488 341M486 336L480 340M486 336L478 339M493 339L490 336M493 339L503 335M493 339L499 342M493 339L488 342M493 339L488 341M515 337L507 331M515 337L520 337M515 337L523 341M515 337L515 343M525 334L525 327M525 334L534 335M525 334L533 337M525 334L529 340M525 334L524 342M525 334L523 341M525 334L520 337M548 336L539 335M548 336L547 328M548 336L551 331M548 336L553 336M548 336L547 344M548 336L547 344M387 347L366 339M387 347L381 339M387 347L394 344M387 347L392 353M387 347L390 354M407 341L403 334M407 341L403 334M407 341L411 338M407 341L406 347M407 341L406 347M407 341L399 342M410 343L411 338M410 343L412 338M410 343L416 348M410 343L415 352M410 343L406 347M416 339L412 338M416 339L416 336M416 339L421 338M416 339L420 344M416 339L416 348M422 340L421 338M422 340L423 337M422 340L430 338M422 340L430 346M422 340L420 344M433 341L430 338M433 341L431 336M433 341L437 339M433 341L439 344M433 341L438 346M433 341L431 346M433 341L430 346M445 345L439 344M445 345L446 338M445 345L447 338M445 345L451 341M445 345L455 346M445 345L455 347M445 345L449 351M445 345L441 350M445 345L438 346M467 343L462 339M467 343L465 340M467 343L471 345M467 343L462 350M467 343L457 349M467 343L455 347M467 343L455 346M469 342L465 340M469 342L476 334M469 342L476 335M469 342L478 339M469 342L476 344M469 342L473 345M469 342L471 345M483 344L476 344M483 344L478 339M483 344L480 340M483 344L484 347M483 344L480 349M483 345L480 340M483 345L488 341M483 345L488 342M483 345L488 345M483 345L484 347M494 344L488 342M494 344L499 342M494 344L499 344M494 344L496 349M494 344L489 347M494 344L488 345M504 345L499 344M504 345L499 342M504 345L503 335M504 345L503 335M504 345L509 349M504 345L506 350M511 342L503 335M511 342L506 330M511 342L507 331M511 342L515 343M511 342L512 350M511 342L509 349M517 346L515 343M517 346L523 341M517 346L524 342M517 346L522 350M517 346L513 352M517 346L512 350M536 346L531 345M536 346L529 340M536 346L533 337M536 346L538 347M536 346L536 350M539 345L533 337M539 345L534 335M539 345L535 334M539 345L539 335M539 345L547 344M539 345L538 347M399 349L394 344M399 349L395 343M399 349L399 342M399 349L406 347M399 349L399 356M399 349L392 353M404 353L406 347M404 353L406 347M404 353L415 352M404 353L416 354M404 353L415 355M404 353L401 358M404 353L399 356M424 346L420 344M424 346L430 346M424 346L431 346M424 346L427 356M424 346L427 356M424 346L416 354M424 346L415 352M424 346L416 348M435 351L431 346M435 351L438 346M435 351L441 350M435 351L434 359M435 351L433 359M435 351L427 356M467 353L462 350M467 353L472 353M467 353L473 356M467 353L466 357M470 349L462 350M470 349L471 345M470 349L473 345M470 349L472 353M470 349L462 350M476 352L473 345M476 352L476 344M476 352L480 349M476 352L481 350M476 352L474 357M476 352L473 356M476 352L472 353M484 347L484 347M484 347L488 345M484 347L489 347M484 347L487 352M484 347L485 354M484 347L481 350M484 347L480 349M492 352L489 347M492 352L496 349M492 352L497 352M492 352L492 354M492 352L487 352M502 348L496 349M502 348L499 344M502 348L506 350M502 348L503 354M502 348L499 354M502 348L497 352M528 346L524 342M528 346L529 340M528 346L531 345M528 346L528 352M528 346L525 353M528 346L522 350M532 350L531 345M532 350L536 350M532 350L536 353M532 350L528 352M541 350L538 347M541 350L547 344M541 350L547 344M541 350L548 345M541 350L543 355M541 350L537 355M541 350L536 353M541 350L536 350M549 354L548 345M549 354L552 347M549 354L554 353M549 354L551 360M549 354L547 360M549 354L543 355M396 361L388 359M396 361L390 354M396 361L392 353M396 361L399 356M396 361L401 358M396 361L401 361M396 361L399 365M396 361L392 364M407 362L401 358M407 362L415 355M407 362L413 364M407 362L412 365M407 362L410 366M407 362L401 361M442 355L441 350M442 355L449 351M442 355L448 353M442 355L443 361M442 355L437 361M442 355L434 359M447 360L448 353M447 360L452 363M447 360L448 366M447 360L443 361M454 359L448 353M454 359L449 351M454 359L455 347M454 359L457 349M454 359L459 364M454 359L452 363M462 358L457 349M462 358L462 350M462 358L462 350M462 358L466 357M462 358L465 361M462 358L460 364M462 358L459 364M468 359L466 357M468 359L473 356M468 359L474 357M468 359L476 362M468 359L465 361M478 354L481 350M478 354L485 354M478 354L485 363M478 354L485 363M478 354L482 365M478 354L480 365M478 354L476 362M478 354L476 362M478 354L474 357M490 354L485 354M490 354L487 352M490 354L492 354M490 354L491 360M490 354L485 363M494 356L492 354M494 356L497 352M494 356L499 354M494 356L497 358M494 356L495 360M494 356L491 360M502 360L497 358M502 360L499 354M502 360L503 354M502 360L507 360M502 360L505 365M508 355L503 354M508 355L506 350M508 355L509 349M508 355L512 350M508 355L513 352M508 355L513 357M508 355L507 360M521 355L513 352M521 355L522 350M521 355L525 353M521 355L525 355M521 355L518 363M521 355L513 357M526 360L525 355M526 360L531 360M526 360L519 366M526 360L519 365M526 360L518 363M531 354L525 353M531 354L528 352M531 354L536 353M531 354L537 355M531 354L534 360M531 354L532 361M531 354L531 360M531 354L525 355M539 361L534 360M539 361L537 355M539 361L543 355M539 361L547 360M539 361L542 368M539 361L542 368M389 365L387 360M389 365L388 359M389 365L392 364M389 365L390 370M389 365L382 370M389 365L381 370M396 368L392 364M396 368L399 365M396 368L399 367M396 368L393 374M396 368L390 370M402 365L399 365M402 365L401 361M402 365L410 366M402 365L406 373M402 365L399 367M422 363L415 355M422 363L416 354M422 363L427 356M422 363L422 367M422 363L413 364M426 364L427 356M426 364L427 356M426 364L433 359M426 364L429 371M426 364L424 371M426 364L422 367M436 367L433 359M436 367L434 359M436 367L437 361M436 367L439 372M436 367L435 376M436 367L429 371M442 368L437 361M442 368L443 361M442 368L448 366M442 368L447 370M442 368L443 372M442 368L439 372M453 368L448 366M453 368L452 363M453 368L459 364M453 368L460 364M453 368L461 368M453 368L461 369M453 368L453 375M453 368L447 370M468 365L465 361M468 365L476 362M468 365L476 362M468 365L464 369M468 365L461 368M468 365L460 364M470 369L476 362M470 369L480 365M470 369L474 375M470 369L464 369M494 364L485 363M494 364L485 363M494 364L491 360M494 364L495 360M494 364L497 367M494 364L494 369M499 363L495 360M499 363L497 358M499 363L505 365M499 363L505 367M499 363L504 368M499 363L497 367M510 364L507 360M510 364L513 357M510 364L518 363M510 364L519 365M510 364L510 370M510 364L509 370M510 364L505 367M510 364L505 365M526 365L531 360M526 365L532 361M526 365L530 368M526 365L528 369M526 365L520 368M526 365L519 366M534 366L532 361M534 366L534 360M534 366L542 368M534 366L538 372M534 366L530 368M549 368L547 360M549 368L551 360M549 368L556 364M549 368L555 368M549 368L546 371M549 368L545 370M549 368L542 368M388 376L382 370M388 376L390 370M388 376L393 374M388 376L394 376M388 376L386 376M399 370L399 367M399 370L406 373M399 370L404 382M399 370L397 381M399 370L394 376M399 370L393 374M414 373L410 366M414 373L412 365M414 373L418 376M414 373L405 383M414 373L404 382M414 373L406 373M419 368L412 365M419 368L413 364M419 368L422 367M419 368L424 371M419 368L422 374M419 368L419 376M419 368L418 376M428 376L422 374M428 376L424 371M428 376L429 371M428 376L435 376M428 376L435 381M428 376L430 384M447 375L443 372M447 375L447 370M447 375L453 375M447 375L453 378M447 375L453 378M447 375L446 381M460 378L453 375M460 378L461 369M460 378L464 378M460 378L453 378M466 375L461 369M466 375L461 368M466 375L464 369M466 375L474 375M466 375L474 375M466 375L465 380M466 375L464 378M484 374L480 365M484 374L482 365M484 374L489 378M484 374L483 379M484 374L476 378M484 374L474 375M484 374L474 375M491 371L482 365M491 371L485 363M491 371L494 369M491 371L494 376M491 371L491 378M491 371L489 378M497 371L494 369M497 371L497 367M497 371L504 368M497 371L499 376M497 371L494 376M505 375L504 368M505 375L505 367M505 375L509 370M505 375L507 382M505 375L507 382M505 375L503 381M505 375L499 376M514 377L509 370M514 377L510 370M514 377L517 378M514 377L508 382M514 377L507 382M516 374L510 370M516 374L519 365M516 374L519 366M516 374L520 368M516 374L521 377M516 374L520 379M516 374L517 378M525 372L520 368M525 372L528 369M525 372L529 375M525 372L526 377M525 372L521 377M530 371L528 369M530 371L530 368M530 371L538 372M530 371L537 375M530 371L534 377M530 371L529 375M541 375L537 375M541 375L538 372M541 375L542 368M541 375L542 368M541 375L545 370M541 375L544 380M541 375L544 380M546 376L545 370M546 376L546 371M546 376L552 378M546 376L544 380M553 373L546 371M553 373L555 368M553 373L558 375M553 373L557 377M553 373L552 378M553 373L552 378M387 378L386 376M387 378L394 376M387 378L397 381M387 378L388 386M387 378L384 381M418 382L418 376M418 382L419 376M418 382L422 382M418 382L412 388M418 382L405 384M418 382L405 383M425 379L419 376M425 379L422 374M425 379L430 384M425 379L428 387M425 379L422 382M443 377L435 376M443 377L439 372M443 377L443 372M443 377L446 381M443 377L444 384M443 377L441 384M443 377L435 381M451 384L444 384M451 384L446 381M451 384L453 378M451 384L457 386M451 384L450 390M459 380L453 378M459 380L453 378M459 380L464 378M459 380L465 380M459 380L464 382M459 380L461 388M459 380L457 386M471 384L464 382M471 384L465 380M471 384L474 375M471 384L476 378M471 384L475 384M471 384L474 385M482 385L476 378M482 385L483 379M482 385L483 386M482 385L482 389M482 385L475 384M485 383L483 379M485 383L489 378M485 383L491 378M485 383L491 381M485 383L483 386M497 382L491 381M497 382L491 378M497 382L494 376M497 382L499 376M497 382L503 381M497 382L496 386M497 382L492 383M515 381L508 382M515 381L517 378M515 381L520 379M515 381L522 387M515 381L512 387M525 381L520 379M525 381L521 377M525 381L526 377M525 381L528 386M525 381L526 388M525 381L523 388M525 381L522 387M528 380L526 377M528 380L529 375M528 380L534 377M528 380L534 382M528 380L528 386M540 380L534 377M540 380L537 375M540 380L544 380M540 380L543 382M540 380L541 386M540 380L539 386M540 380L534 382M546 382L543 382M546 382L544 380M546 382L544 380M546 382L552 378M546 382L552 378M546 382L550 385M395 390L387 387M395 390L388 386M395 390L397 381M395 390L404 382M395 390L405 383M395 390L405 384M395 390L403 389M395 390L396 397M395 390L389 395M421 386L422 382M421 386L428 387M421 386L428 387M421 386L422 393M421 386L417 393M421 386L412 388M435 389L428 387M435 389L428 387M435 389L430 384M435 389L435 381M435 389L441 384M435 389L440 390M435 389L433 393M443 390L440 390M443 390L441 384M443 390L444 384M443 390L450 390M443 390L450 391M443 390L441 392M467 385L464 382M467 385L474 385M467 385L472 389M467 385L463 391M467 385L461 388M476 390L472 389M476 390L474 385M476 390L475 384M476 390L482 389M476 390L483 391M476 390L476 395M486 386L491 381M486 386L492 383M486 386L487 393M486 386L483 391M486 386L482 389M486 386L483 386M493 388L492 383M493 388L496 386M493 388L499 394M493 388L497 396M493 388L489 396M493 388L487 393M501 386L496 386M501 386L503 381M501 386L507 382M501 386L501 393M501 386L499 394M507 392L507 382M507 392L507 382M507 392L508 382M507 392L512 387M507 392L511 396M507 392L511 396M507 392L501 393M514 391L512 387M514 391L522 387M514 391L523 388M514 391L519 396M514 391L511 396M534 388L528 386M534 388L534 382M534 388L539 386M534 388L532 393M534 388L526 388M538 392L539 386M538 392L541 386M538 392L545 393M538 392L544 395M538 392L534 399M538 392L532 393M547 385L543 382M547 385L550 385M547 385L551 386M547 385L549 391M547 385L545 393M547 385L541 386M402 401L396 398M402 401L396 397M402 401L403 389M402 401L406 397M402 401L403 403M410 396L403 389M410 396L405 384M410 396L412 388M410 396L417 393M410 396L415 400M410 396L411 400M410 396L406 397M430 395L422 393M430 395L428 387M430 395L433 393M430 395L434 397M430 395L433 398M430 395L425 397M436 393L433 393M436 393L440 390M436 393L441 392M436 393L441 397M436 393L434 397M446 392L441 392M446 392L450 391M446 392L450 398M446 392L443 399M446 392L441 397M455 393L450 391M455 393L450 390M455 393L457 386M455 393L461 388M455 393L463 391M455 393L462 401M455 393L456 402M455 393L450 398M472 396L463 391M472 396L472 389M472 396L476 395M472 396L476 396M472 396L470 401M472 396L465 403M472 396L462 401M481 397L476 396M481 397L476 395M481 397L483 391M481 397L487 393M481 397L489 396M481 397L486 403M481 397L484 403M505 400L497 396M505 400L499 394M505 400L501 393M505 400L511 396M505 400L509 402M505 400L506 403M505 400L502 403M505 400L500 402M526 395L519 396M526 395L523 388M526 395L526 388M526 395L532 393M526 395L534 399M526 395L534 399M526 395L527 405M526 395L527 405M526 395L524 405M526 395L523 404M553 396L544 395M553 396L545 393M553 396L549 391M553 396L557 393M553 396L559 395M553 396L557 402M553 396L554 404M553 396L550 404M389 402L389 395M389 402L396 397M389 402L396 398M389 402L394 405M389 402L374 408M389 402L372 408M398 404L396 398M398 404L403 403M398 404L404 407M398 404L404 407M398 404L402 413M398 404L402 413M398 404L401 413M398 404L398 413M398 404L394 405M406 402L406 397M406 402L411 400M406 402L404 407M406 402L403 403M411 405L411 400M411 405L415 400M411 405L417 404M411 405L414 407M411 405L404 407M411 405L404 407M422 400L417 393M422 400L422 393M422 400L425 397M422 400L425 404M422 400L421 406M422 400L417 404M422 400L415 400M428 401L425 397M428 401L433 398M428 401L432 405M428 401L425 404M439 401L433 398M439 401L434 397M439 401L441 397M439 401L443 399M439 401L442 406M439 401L434 407M439 401L432 405M447 406L443 399M447 406L450 398M447 406L456 402M447 406L454 407M447 406L445 410M447 406L442 406M473 405L466 407M473 405L465 403M473 405L470 401M473 405L480 406M473 405L480 407M473 405L477 410M477 403L470 401M477 403L476 396M477 403L484 403M477 403L480 406M494 403L486 403M494 403L489 396M494 403L497 396M494 403L500 402M494 403L497 407M494 403L490 408M505 407L502 403M505 407L506 403M505 407L506 410M505 407L505 411M507 407L506 403M507 407L509 402M507 407L514 407M507 407L514 407M507 407L506 410M515 402L511 396M515 402L511 396M515 402L519 396M515 402L523 404M515 402L514 407M515 402L509 402M542 403L534 399M542 403L534 399M542 403L544 395M542 403L550 404M542 403L545 409M542 403L543 410M391 410L374 408M391 410L394 405M391 410L398 413M391 410L393 415M410 409L404 407M410 409L414 407M410 409L412 412M410 409L402 413M417 410L414 407M417 410L417 404M417 410L421 406M417 410L423 414M417 410L415 416M417 410L412 412M427 408L421 406M427 408L425 404M427 408L432 405M427 408L434 407M427 408L432 416M427 408L427 418M427 408L423 414M440 410L434 407M440 410L442 406M440 410L445 410M440 410L444 418M440 410L443 418M440 410L437 418M440 410L432 416M451 413L445 410M451 413L454 407M451 413L455 413M451 413L453 416M451 413L444 418M458 412L454 407M458 412L456 402M458 412L462 401M458 412L465 403M458 412L466 407M458 412L466 410M458 412L462 416M458 412L455 413M473 410L466 410M473 410L466 407M473 410L477 410M473 410L475 415M473 410L473 416M479 412L477 410M479 412L480 407M479 412L483 415M479 412L482 418M479 412L475 415M485 411L480 407M485 411L480 406M485 411L484 403M485 411L486 403M485 411L490 408M485 411L489 412M485 411L483 415M496 410L490 408M496 410L497 407M496 410L500 413M496 410L493 417M496 410L489 412M502 409L497 407M502 409L500 402M502 409L502 403M502 409L505 411M502 409L504 413M502 409L502 414M502 409L500 413M509 414L504 413M509 414L505 411M509 414L506 410M509 414L514 407M509 414L514 415M509 414L513 416M518 411L514 407M518 411L514 407M518 411L523 404M518 411L524 405M518 411L518 417M518 411L514 415M521 414L524 405M521 414L527 405M521 414L527 409M521 414L521 419M521 414L518 417M531 413L527 409M531 413L527 405M531 413L527 405M531 413L541 416M531 413L541 419M531 413L531 422M536 407L527 405M536 407L534 399M536 407L543 410M536 407L541 416M552 413L543 410M552 413L545 409M552 413L552 414M552 413L546 421M552 413L541 419M552 413L541 419M552 413L541 416M550 413L545 409M550 413L550 404M550 413L554 404M550 413L556 413M550 413L552 414M388 418L360 410M388 418L372 408M388 418L374 408M388 418L393 415M388 418L391 426M397 419L393 415M397 419L398 413M397 419L401 413M397 419L398 426M397 419L397 427M397 419L391 427M397 419L391 426M401 421L401 413M401 421L402 413M401 421L409 423M401 421L408 423M401 421L398 426M410 416L402 413M410 416L402 413M410 416L412 412M410 416L415 416M410 416L412 422M410 416L409 423M419 421L415 416M419 421L423 414M419 421L427 418M419 421L426 419M419 421L423 423M419 421L419 424M419 421L412 422M452 419L443 418M452 419L444 418M452 419L453 416M452 419L456 422M452 419L453 424M452 419L447 424M452 419L446 424M456 419L453 416M456 419L455 413M456 419L462 416M456 419L462 421M456 419L462 422M456 419L456 422M470 417L462 416M470 417L466 410M470 417L473 416M470 417L472 419M470 417L462 421M470 417L462 421M476 420L472 419M476 420L473 416M476 420L475 415M476 420L482 418M476 420L483 423M476 420L475 425M486 418L483 415M486 418L489 412M486 418L493 417M486 418L493 417M486 418L490 424M486 418L483 423M486 418L483 423M486 418L482 418M495 421L493 417M495 421L503 423M495 421L502 426M495 421L491 425M495 421L490 424M499 418L493 417M499 418L493 417M499 418L500 413M499 418L502 414M499 418L505 422M499 418L503 423M510 416L502 414M510 416L504 413M510 416L513 416M510 416L509 422M510 416L505 422M516 421L513 416M516 421L514 415M516 421L518 417M516 421L521 419M516 421L522 422M516 421L513 425M516 421L509 422M525 416L527 409M525 416L531 422M525 416L529 424M525 416L524 423M525 416L522 422M525 416L521 419M404 427L397 427M404 427L398 426M404 427L408 423M404 427L410 430M404 427L406 436M404 427L404 436M415 426L408 423M415 426L409 423M415 426L412 422M415 426L419 424M415 426L416 431M415 426L410 430M419 429L419 424M419 429L423 423M419 429L424 428M419 429L420 433M419 429L416 431M430 428L423 423M430 428L426 419M430 428L433 430M430 428L429 432M430 428L424 428M433 424L426 419M433 424L427 418M433 424L432 416M433 424L437 418M433 424L435 430M433 424L433 430M436 427L437 418M436 427L443 418M436 427L446 424M436 427L437 431M436 427L435 430M453 429L447 424M453 429L453 424M453 429L457 434M453 429L456 434M453 429L448 431M457 425L453 424M457 425L456 422M457 425L462 422M457 425L459 433M457 425L457 434M462 427L462 422M462 427L462 421M462 427L462 421M462 427L469 428M462 427L468 434M462 427L459 433M469 423L462 421M469 423L472 419M469 423L475 425M469 423L474 425M469 423L469 428M478 428L474 425M478 428L475 425M478 428L483 423M478 428L483 423M478 428L482 430M478 428L477 432M508 428L502 426M508 428L503 423M508 428L505 422M508 428L509 422M508 428L513 425M508 428L513 431M508 428L511 435M508 428L510 435M508 428L502 430M517 429L513 425M517 429L522 422M517 429L524 423M517 429L519 430M517 429L513 431M535 427L529 428M535 427L529 424M535 427L531 422M535 427L541 419M535 427L541 419M535 427L540 434M535 427L535 433M543 428L541 419M543 428L546 421M543 428L549 423M543 428L542 435M543 428L540 434M397 434L390 430M397 434L391 427M397 434L397 427M397 434L404 436M397 434L397 440M397 434L397 440M397 434L390 434M415 435L410 430M415 435L416 431M415 435L420 433M415 435L420 437M415 435L419 438M415 435L408 438M415 435L406 436M424 433L424 428M424 433L429 432M424 433L427 438M424 433L420 437M424 433L420 433M431 435L429 432M431 435L433 430M431 435L435 430M431 435L437 431M431 435L439 437M431 435L427 438M431 435L427 438M445 430L446 424M445 430L447 424M445 430L448 431M445 430L443 439M445 430L442 440M445 430L441 439M445 430L439 437M445 430L437 431M449 436L448 431M449 436L456 434M449 436L456 437M449 436L443 439M472 429L469 428M472 429L474 425M472 429L477 432M472 429L475 436M472 429L469 436M472 429L468 434M480 434L477 432M480 434L482 430M480 434L486 437M480 434L485 440M480 434L480 439M480 434L475 436M486 430L482 430M486 430L483 423M486 430L490 424M486 430L491 425M486 430L491 433M486 430L486 437M495 430L491 425M495 430L502 426M495 430L502 430M495 430L497 435M495 430L491 433M502 436L497 435M502 436L502 430M502 436L510 435M502 436L510 436M502 436L499 441M518 435L513 431M518 435L519 430M518 435L524 437M518 435L523 439M518 435L523 439M518 435L511 435M522 430L519 430M522 430L524 423M522 430L529 424M522 430L529 428M522 430L524 437M529 434L529 428M529 434L535 433M529 434L531 441M529 434L523 439M529 434L524 437M546 430L549 423M546 430L549 423M546 430L551 435M546 430L544 438M546 430L542 435M389 441L385 439M389 441L390 434M389 441L397 440M389 441L395 444M389 441L388 445M403 443L397 440M403 443L404 436M403 443L406 436M403 443L408 438M403 443L409 443M403 443L404 448M415 441L408 438M415 441L419 438M415 441L419 444M415 441L413 447M415 441L409 443M425 442L419 438M425 442L420 437M425 442L427 438M425 442L427 438M425 442L427 440M425 442L424 448M425 442L419 444M432 441L427 440M432 441L427 438M432 441L439 437M432 441L441 439M432 441L432 443M449 439L442 440M449 439L443 439M449 439L456 437M449 439L456 437M449 439L454 445M449 439L451 446M449 439L443 444M458 442L456 437M458 442L465 443M458 442L459 448M458 442L454 445M461 438L456 437M461 438L456 437M461 438L456 434M461 438L457 434M461 438L459 433M461 438L468 434M461 438L469 436M461 438L467 443M461 438L466 443M461 438L465 443M474 442L469 436M474 442L475 436M474 442L480 439M474 442L475 445M474 442L467 443M494 440L486 437M494 440L491 433M494 440L497 435M494 440L499 441M494 440L499 442M494 440L488 445M494 440L488 444M494 440L485 440M504 441L499 442M504 441L499 441M504 441L510 436M504 441L511 444M504 441L510 446M504 441L503 449M504 441L502 449M515 441L510 436M515 441L510 435M515 441L511 435M515 441L523 439M515 441L520 447M515 441L511 444M536 437L535 433M536 437L540 434M536 437L542 435M536 437L544 438M536 437L542 445M536 437L539 447M536 437L532 443M536 437L531 441M550 441L544 438M550 441L551 435M550 441L551 435M550 441L555 446M550 441L547 449M550 441L542 445M391 447L388 445M391 447L395 444M391 447L397 454M391 447L391 456M391 447L388 454M391 447L386 448M401 447L395 444M401 447L397 440M401 447L397 440M401 447L404 448M401 447L402 452M401 447L397 455M401 447L397 454M410 450L404 448M410 450L409 443M410 450L413 447M410 450L413 448M410 450L408 454M410 450L402 452M418 448L413 448M418 448L413 447M418 448L419 444M418 448L424 448M418 448L425 451M418 448L423 453M418 448L416 452M428 445L427 440M428 445L432 443M428 445L431 451M428 445L428 452M428 445L425 451M428 445L424 448M435 446L432 443M435 446L441 439M435 446L442 440M435 446L443 444M435 446L442 446M435 446L441 447M435 446L438 451M435 446L431 451M447 452L442 446M447 452L443 444M447 452L451 446M447 452L451 455M447 452L451 456M447 452L451 456M453 451L451 446M453 451L454 445M453 451L459 448M453 451L459 452M453 451L455 456M453 451L451 455M464 450L459 448M464 450L465 443M464 450L466 443M464 450L468 452M464 450L465 455M464 450L459 452M473 449L466 443M473 449L467 443M473 449L475 445M473 449L477 450M473 449L474 454M473 449L468 452M480 446L475 445M480 446L480 439M480 446L485 440M480 446L488 444M480 446L483 450M480 446L477 450M487 451L483 450M487 451L488 444M487 451L488 445M487 451L492 452M487 451L491 460M487 451L485 456M496 447L488 445M496 447L499 442M496 447L502 449M496 447L492 452M507 452L503 449M507 452L510 446M507 452L512 453M507 452L503 453M513 451L510 446M513 451L511 444M513 451L520 447M513 451L521 450M513 451L519 459M513 451L519 459M513 451L519 459M513 451L512 453M526 447L523 439M526 447L523 439M526 447L531 441M526 447L532 443M526 447L526 449M526 447L521 450M526 447L520 447M530 449L532 443M530 449L539 447M530 449L536 453M530 449L530 451M530 449L526 449M405 458L399 457M405 458L397 455M405 458L402 452M405 458L408 454M405 458L410 457M405 458L408 462M415 455L413 448M415 455L416 452M415 455L414 457M415 455L410 457M415 455L408 454M416 457L416 452M416 457L423 453M416 457L420 459M416 457L417 460M416 457L414 457M425 458L423 453M425 458L425 451M425 458L428 452M425 458L431 461M425 458L431 462M425 458L425 466M425 458L420 459M435 456L428 452M435 456L431 451M435 456L438 451M435 456L439 457M435 456L436 460M435 456L431 461M442 453L438 451M442 453L441 447M442 453L447 458M442 453L445 459M442 453L439 457M446 453L441 447M446 453L442 446M446 453L451 456M446 453L447 458M459 457L455 456M459 457L459 452M459 457L465 455M459 457L465 458M459 457L457 459M469 458L465 455M469 458L468 452M469 458L474 454M469 458L476 458M469 458L467 465M469 458L465 458M479 453L474 454M479 453L477 450M479 453L483 450M479 453L485 456M479 453L477 458M479 453L476 458M498 453L492 452M498 453L502 449M498 453L503 449M498 453L503 453M498 453L503 458M498 453L493 463M498 453L493 463M498 453L491 460M509 456L503 453M509 456L512 453M509 456L519 459M509 456L511 463M509 456L503 458M528 454L521 450M528 454L526 449M528 454L530 451M528 454L523 459M528 454L519 459M529 455L530 451M529 455L536 453M529 455L535 458M529 455L523 459M529 455L523 459M541 455L536 453M541 455L539 447M541 455L542 445M541 455L547 449M541 455L549 460M541 455L537 460M541 455L535 458M394 462L390 461M394 462L391 456M394 462L397 454M394 462L397 455M394 462L399 457M394 462L398 467M394 462L396 468M403 463L399 457M403 463L408 462M403 463L409 467M403 463L401 469M403 463L398 467M413 461L410 457M413 461L414 457M413 461L417 460M413 461L414 466M413 461L410 468M413 461L409 467M413 461L408 462M419 464L417 460M419 464L420 459M419 464L425 466M419 464L424 468M419 464L414 466M441 462L436 460M441 462L439 457M441 462L445 459M441 462L445 466M441 462L442 469M451 463L445 459M451 463L447 458M451 463L451 456M451 463L451 456M451 463L454 467M451 463L445 466M453 460L451 456M453 460L451 455M453 460L455 456M453 460L457 459M453 460L458 469M453 460L454 467M460 460L457 459M460 460L465 458M460 460L467 465M460 460L467 466M460 460L460 470M460 460L458 469M475 463L476 458M475 463L477 458M475 463L480 466M475 463L480 466M475 463L474 469M475 463L467 466M475 463L467 465M481 460L477 458M481 460L485 456M481 460L491 460M481 460L493 463M481 460L480 466M530 463L523 459M530 463L535 458M530 463L537 460M530 463L536 464M530 463L535 465M530 463L530 468" fill="none" stroke="#fff" stroke-opacity="0.65" stroke-width="0.55"/><path d="M392 332L395 343L394 344L381 339zM392 332L393 330L400 330L403 334L399 342L395 343zM403 334L411 328L416 332L416 336L412 338L411 338zM416 332L422 328L423 331L423 337L421 338L416 336zM423 331L432 333L431 336L430 338L423 337zM431 336L432 333L433 332L439 332L441 335L437 339zM441 335L446 338L439 344L437 339zM453 328L454 334L451 341L447 338L448 333zM454 334L461 332L462 334L462 339L455 346L451 341zM462 334L472 331L476 334L465 340L462 339zM476 335L478 333L481 331L487 331L490 336L488 341L480 340L478 339zM490 336L503 335L499 342L488 342L488 341zM507 331L520 337L523 341L515 343zM525 327L534 335L533 337L529 340L524 342L523 341L520 337zM539 335L547 328L551 331L553 336L547 344L547 344zM366 339L381 339L394 344L392 353L390 354zM403 334L403 334L411 338L406 347L406 347L399 342zM411 338L412 338L416 348L415 352L406 347zM412 338L416 336L421 338L420 344L416 348zM421 338L423 337L430 338L430 346L420 344zM430 338L431 336L437 339L439 344L438 346L431 346L430 346zM439 344L446 338L447 338L451 341L455 346L455 347L449 351L441 350L438 346zM462 339L465 340L471 345L462 350L457 349L455 347L455 346zM465 340L476 334L476 335L478 339L476 344L473 345L471 345zM476 344L478 339L480 340L484 347L480 349zM480 340L488 341L488 342L488 345L484 347zM488 342L499 342L499 344L496 349L489 347L488 345zM499 344L499 342L503 335L503 335L509 349L506 350zM503 335L506 330L507 331L515 343L512 350L509 349zM515 343L523 341L524 342L522 350L513 352L512 350zM531 345L529 340L533 337L538 347L536 350zM533 337L534 335L535 334L539 335L547 344L538 347zM394 344L395 343L399 342L406 347L399 356L392 353zM406 347L406 347L415 352L416 354L415 355L401 358L399 356zM420 344L430 346L431 346L427 356L427 356L416 354L415 352L416 348zM431 346L438 346L441 350L434 359L433 359L427 356zM462 350L472 353L473 356L466 357zM462 350L471 345L473 345L472 353L462 350zM473 345L476 344L480 349L481 350L474 357L473 356L472 353zM484 347L488 345L489 347L487 352L485 354L481 350L480 349zM489 347L496 349L497 352L492 354L487 352zM496 349L499 344L506 350L503 354L499 354L497 352zM524 342L529 340L531 345L528 352L525 353L522 350zM531 345L536 350L536 353L528 352zM538 347L547 344L547 344L548 345L543 355L537 355L536 353L536 350zM548 345L552 347L554 353L551 360L547 360L543 355zM388 359L390 354L392 353L399 356L401 358L401 361L399 365L392 364zM401 358L415 355L413 364L412 365L410 366L401 361zM441 350L449 351L448 353L443 361L437 361L434 359zM448 353L452 363L448 366L443 361zM448 353L449 351L455 347L457 349L459 364L452 363zM457 349L462 350L462 350L466 357L465 361L460 364L459 364zM466 357L473 356L474 357L476 362L465 361zM481 350L485 354L485 363L485 363L482 365L480 365L476 362L476 362L474 357zM485 354L487 352L492 354L491 360L485 363zM492 354L497 352L499 354L497 358L495 360L491 360zM497 358L499 354L503 354L507 360L505 365zM503 354L506 350L509 349L512 350L513 352L513 357L507 360zM513 352L522 350L525 353L525 355L518 363L513 357zM525 355L531 360L519 366L519 365L518 363zM525 353L528 352L536 353L537 355L534 360L532 361L531 360L525 355zM534 360L537 355L543 355L547 360L542 368L542 368zM387 360L388 359L392 364L390 370L382 370L381 370zM392 364L399 365L399 367L393 374L390 370zM399 365L401 361L410 366L406 373L399 367zM415 355L416 354L427 356L422 367L413 364zM427 356L427 356L433 359L429 371L424 371L422 367zM433 359L434 359L437 361L439 372L435 376L429 371zM437 361L443 361L448 366L447 370L443 372L439 372zM448 366L452 363L459 364L460 364L461 368L461 369L453 375L447 370zM465 361L476 362L476 362L464 369L461 368L460 364zM476 362L480 365L474 375L464 369zM485 363L485 363L491 360L495 360L497 367L494 369zM495 360L497 358L505 365L505 367L504 368L497 367zM507 360L513 357L518 363L519 365L510 370L509 370L505 367L505 365zM531 360L532 361L530 368L528 369L520 368L519 366zM532 361L534 360L542 368L538 372L530 368zM547 360L551 360L556 364L555 368L546 371L545 370L542 368zM382 370L390 370L393 374L394 376L386 376zM399 367L406 373L404 382L397 381L394 376L393 374zM410 366L412 365L418 376L405 383L404 382L406 373zM412 365L413 364L422 367L424 371L422 374L419 376L418 376zM422 374L424 371L429 371L435 376L435 381L430 384zM443 372L447 370L453 375L453 378L453 378L446 381zM453 375L461 369L464 378L453 378zM461 369L461 368L464 369L474 375L474 375L465 380L464 378zM480 365L482 365L489 378L483 379L476 378L474 375L474 375zM482 365L485 363L494 369L494 376L491 378L489 378zM494 369L497 367L504 368L499 376L494 376zM504 368L505 367L509 370L507 382L507 382L503 381L499 376zM509 370L510 370L517 378L508 382L507 382zM510 370L519 365L519 366L520 368L521 377L520 379L517 378zM520 368L528 369L529 375L526 377L521 377zM528 369L530 368L538 372L537 375L534 377L529 375zM537 375L538 372L542 368L542 368L545 370L544 380L544 380zM545 370L546 371L552 378L544 380zM546 371L555 368L558 375L557 377L552 378L552 378zM386 376L394 376L397 381L388 386L384 381zM418 376L419 376L422 382L412 388L405 384L405 383zM419 376L422 374L430 384L428 387L422 382zM435 376L439 372L443 372L446 381L444 384L441 384L435 381zM444 384L446 381L453 378L457 386L450 390zM453 378L453 378L464 378L465 380L464 382L461 388L457 386zM464 382L465 380L474 375L476 378L475 384L474 385zM476 378L483 379L483 386L482 389L475 384zM483 379L489 378L491 378L491 381L483 386zM491 381L491 378L494 376L499 376L503 381L496 386L492 383zM508 382L517 378L520 379L522 387L512 387zM520 379L521 377L526 377L528 386L526 388L523 388L522 387zM526 377L529 375L534 377L534 382L528 386zM534 377L537 375L544 380L543 382L541 386L539 386L534 382zM543 382L544 380L544 380L552 378L552 378L550 385zM387 387L388 386L397 381L404 382L405 383L405 384L403 389L396 397L389 395zM422 382L428 387L428 387L422 393L417 393L412 388zM428 387L428 387L430 384L435 381L441 384L440 390L433 393zM440 390L441 384L444 384L450 390L450 391L441 392zM464 382L474 385L472 389L463 391L461 388zM472 389L474 385L475 384L482 389L483 391L476 395zM491 381L492 383L487 393L483 391L482 389L483 386zM492 383L496 386L499 394L497 396L489 396L487 393zM496 386L503 381L507 382L501 393L499 394zM507 382L507 382L508 382L512 387L511 396L511 396L501 393zM512 387L522 387L523 388L519 396L511 396zM528 386L534 382L539 386L532 393L526 388zM539 386L541 386L545 393L544 395L534 399L532 393zM543 382L550 385L551 386L549 391L545 393L541 386zM396 398L396 397L403 389L406 397L403 403zM403 389L405 384L412 388L417 393L415 400L411 400L406 397zM422 393L428 387L433 393L434 397L433 398L425 397zM433 393L440 390L441 392L441 397L434 397zM441 392L450 391L450 398L443 399L441 397zM450 391L450 390L457 386L461 388L463 391L462 401L456 402L450 398zM463 391L472 389L476 395L476 396L470 401L465 403L462 401zM476 396L476 395L483 391L487 393L489 396L486 403L484 403zM497 396L499 394L501 393L511 396L509 402L506 403L502 403L500 402zM519 396L523 388L526 388L532 393L534 399L534 399L527 405L527 405L524 405L523 404zM544 395L545 393L549 391L557 393L559 395L557 402L554 404L550 404zM389 395L396 397L396 398L394 405L374 408L372 408zM396 398L403 403L404 407L404 407L402 413L402 413L401 413L398 413L394 405zM406 397L411 400L404 407L403 403zM411 400L415 400L417 404L414 407L404 407L404 407zM417 393L422 393L425 397L425 404L421 406L417 404L415 400zM425 397L433 398L432 405L425 404zM433 398L434 397L441 397L443 399L442 406L434 407L432 405zM443 399L450 398L456 402L454 407L445 410L442 406zM466 407L465 403L470 401L480 406L480 407L477 410zM470 401L476 396L484 403L480 406zM486 403L489 396L497 396L500 402L497 407L490 408zM502 403L506 403L506 410L505 411zM506 403L509 402L514 407L514 407L506 410zM511 396L511 396L519 396L523 404L514 407L509 402zM534 399L534 399L544 395L550 404L545 409L543 410zM374 408L394 405L398 413L393 415zM404 407L414 407L412 412L402 413zM414 407L417 404L421 406L423 414L415 416L412 412zM421 406L425 404L432 405L434 407L432 416L427 418L423 414zM434 407L442 406L445 410L444 418L443 418L437 418L432 416zM445 410L454 407L455 413L453 416L444 418zM454 407L456 402L462 401L465 403L466 407L466 410L462 416L455 413zM466 410L466 407L477 410L475 415L473 416zM477 410L480 407L483 415L482 418L475 415zM480 407L480 406L484 403L486 403L490 408L489 412L483 415zM490 408L497 407L500 413L493 417L489 412zM497 407L500 402L502 403L505 411L504 413L502 414L500 413zM504 413L505 411L506 410L514 407L514 415L513 416zM514 407L514 407L523 404L524 405L518 417L514 415zM524 405L527 405L527 409L521 419L518 417zM527 409L527 405L527 405L541 416L541 419L531 422zM527 405L534 399L543 410L541 416zM543 410L545 409L552 414L546 421L541 419L541 419L541 416zM545 409L550 404L554 404L556 413L552 414zM360 410L372 408L374 408L393 415L391 426zM393 415L398 413L401 413L398 426L397 427L391 427L391 426zM401 413L402 413L409 423L408 423L398 426zM402 413L402 413L412 412L415 416L412 422L409 423zM415 416L423 414L427 418L426 419L423 423L419 424L412 422zM443 418L444 418L453 416L456 422L453 424L447 424L446 424zM453 416L455 413L462 416L462 421L462 422L456 422zM462 416L466 410L473 416L472 419L462 421L462 421zM472 419L473 416L475 415L482 418L483 423L475 425zM483 415L489 412L493 417L493 417L490 424L483 423L483 423L482 418zM493 417L503 423L502 426L491 425L490 424zM493 417L493 417L500 413L502 414L505 422L503 423zM502 414L504 413L513 416L509 422L505 422zM513 416L514 415L518 417L521 419L522 422L513 425L509 422zM527 409L531 422L529 424L524 423L522 422L521 419zM397 427L398 426L408 423L410 430L406 436L404 436zM408 423L409 423L412 422L419 424L416 431L410 430zM419 424L423 423L424 428L420 433L416 431zM423 423L426 419L433 430L429 432L424 428zM426 419L427 418L432 416L437 418L435 430L433 430zM437 418L443 418L446 424L437 431L435 430zM447 424L453 424L457 434L456 434L448 431zM453 424L456 422L462 422L459 433L457 434zM462 422L462 421L462 421L469 428L468 434L459 433zM462 421L472 419L475 425L474 425L469 428zM474 425L475 425L483 423L483 423L482 430L477 432zM502 426L503 423L505 422L509 422L513 425L513 431L511 435L510 435L502 430zM513 425L522 422L524 423L519 430L513 431zM529 428L529 424L531 422L541 419L541 419L540 434L535 433zM541 419L546 421L549 423L542 435L540 434zM390 430L391 427L397 427L404 436L397 440L397 440L390 434zM410 430L416 431L420 433L420 437L419 438L408 438L406 436zM424 428L429 432L427 438L420 437L420 433zM429 432L433 430L435 430L437 431L439 437L427 438L427 438zM446 424L447 424L448 431L443 439L442 440L441 439L439 437L437 431zM448 431L456 434L456 437L443 439zM469 428L474 425L477 432L475 436L469 436L468 434zM477 432L482 430L486 437L485 440L480 439L475 436zM482 430L483 423L490 424L491 425L491 433L486 437zM491 425L502 426L502 430L497 435L491 433zM497 435L502 430L510 435L510 436L499 441zM513 431L519 430L524 437L523 439L523 439L511 435zM519 430L524 423L529 424L529 428L524 437zM529 428L535 433L531 441L523 439L524 437zM549 423L549 423L551 435L544 438L542 435zM385 439L390 434L397 440L395 444L388 445zM397 440L404 436L406 436L408 438L409 443L404 448zM408 438L419 438L419 444L413 447L409 443zM419 438L420 437L427 438L427 438L427 440L424 448L419 444zM427 440L427 438L439 437L441 439L432 443zM442 440L443 439L456 437L456 437L454 445L451 446L443 444zM456 437L465 443L459 448L454 445zM456 437L456 437L456 434L457 434L459 433L468 434L469 436L467 443L466 443L465 443zM469 436L475 436L480 439L475 445L467 443zM486 437L491 433L497 435L499 441L499 442L488 445L488 444L485 440zM499 442L499 441L510 436L511 444L510 446L503 449L502 449zM510 436L510 435L511 435L523 439L520 447L511 444zM535 433L540 434L542 435L544 438L542 445L539 447L532 443L531 441zM544 438L551 435L551 435L555 446L547 449L542 445zM388 445L395 444L397 454L391 456L388 454L386 448zM395 444L397 440L397 440L404 448L402 452L397 455L397 454zM404 448L409 443L413 447L413 448L408 454L402 452zM413 448L413 447L419 444L424 448L425 451L423 453L416 452zM427 440L432 443L431 451L428 452L425 451L424 448zM432 443L441 439L442 440L443 444L442 446L441 447L438 451L431 451zM442 446L443 444L451 446L451 455L451 456L451 456zM451 446L454 445L459 448L459 452L455 456L451 455zM459 448L465 443L466 443L468 452L465 455L459 452zM466 443L467 443L475 445L477 450L474 454L468 452zM475 445L480 439L485 440L488 444L483 450L477 450zM483 450L488 444L488 445L492 452L491 460L485 456zM488 445L499 442L502 449L492 452zM503 449L510 446L512 453L503 453zM510 446L511 444L520 447L521 450L519 459L519 459L519 459L512 453zM523 439L523 439L531 441L532 443L526 449L521 450L520 447zM532 443L539 447L536 453L530 451L526 449zM399 457L397 455L402 452L408 454L410 457L408 462zM413 448L416 452L414 457L410 457L408 454zM416 452L423 453L420 459L417 460L414 457zM423 453L425 451L428 452L431 461L431 462L425 466L420 459zM428 452L431 451L438 451L439 457L436 460L431 461zM438 451L441 447L447 458L445 459L439 457zM441 447L442 446L451 456L447 458zM455 456L459 452L465 455L465 458L457 459zM465 455L468 452L474 454L476 458L467 465L465 458zM474 454L477 450L483 450L485 456L477 458L476 458zM492 452L502 449L503 449L503 453L503 458L493 463L493 463L491 460zM503 453L512 453L519 459L511 463L503 458zM521 450L526 449L530 451L523 459L519 459zM530 451L536 453L535 458L523 459L523 459zM536 453L539 447L542 445L547 449L549 460L537 460L535 458zM390 461L391 456L397 454L397 455L399 457L398 467L396 468zM399 457L408 462L409 467L401 469L398 467zM410 457L414 457L417 460L414 466L410 468L409 467L408 462zM417 460L420 459L425 466L424 468L414 466zM436 460L439 457L445 459L445 466L442 469zM445 459L447 458L451 456L451 456L454 467L445 466zM451 456L451 455L455 456L457 459L458 469L454 467zM457 459L465 458L467 465L467 466L460 470L458 469zM476 458L477 458L480 466L480 466L474 469L467 466L467 465zM477 458L485 456L491 460L493 463L480 466zM523 459L535 458L537 460L536 464L535 465L530 468z" fill="none" stroke="#fff" stroke-opacity="0.9" stroke-width="0.75" stroke-linejoin="bevel"/></g>
</g>
<rect x="239.8" y="231.8" width="12.6" height="13.2" fill="#fff" stroke="none" stroke-width="1" />
<text x="246.10000000000002" y="241.7" font-family="Liberation Serif" font-size="9" text-anchor="middle" fill="#111" font-weight="bold" >(e)</text>
<rect x="394.5" y="231.8" width="12.5" height="15" fill="#fff" stroke="none" stroke-width="1" />
<text x="400.75" y="243.5" font-family="Liberation Serif" font-size="9" text-anchor="middle" fill="#111" font-weight="bold" >(f)</text>
<rect x="241" y="341.8" width="10.3" height="13.2" fill="#fff" stroke="none" stroke-width="1" />
<text x="246.15" y="351.7" font-family="Liberation Serif" font-size="9" text-anchor="middle" fill="#111" font-weight="bold" >(g)</text>
<rect x="396" y="345" width="10" height="10.8" fill="#fff" stroke="none" stroke-width="1" />
<text x="401.0" y="352.5" font-family="Liberation Serif" font-size="9" text-anchor="middle" fill="#111" font-weight="bold" >(h)</text>
<rect x="239.2" y="321.6" width="36" height="17" fill="#2a2a2a" stroke="none" stroke-width="1" />
<text x="257.2" y="331.40000000000003" font-family="Liberation Serif" font-size="9.2" text-anchor="middle" fill="#eee" font-weight="normal" >20μm</text>
<rect x="242.79999999999998" y="333.8" width="28.8" height="2.4" fill="#f4f4f4" stroke="none" stroke-width="1" />
<rect x="393.1" y="322.0" width="34.7" height="17" fill="#2a2a2a" stroke="none" stroke-width="1" />
<text x="410.45000000000005" y="331.8" font-family="Liberation Serif" font-size="9.2" text-anchor="middle" fill="#eee" font-weight="normal" >20μm</text>
<rect x="396.70000000000005" y="334.2" width="27.500000000000004" height="2.4" fill="#f4f4f4" stroke="none" stroke-width="1" />
<rect x="239.2" y="438.8" width="36" height="17" fill="#2a2a2a" stroke="none" stroke-width="1" />
<text x="257.2" y="448.6" font-family="Liberation Serif" font-size="9.2" text-anchor="middle" fill="#eee" font-weight="normal" >20μm</text>
<rect x="242.79999999999998" y="451.0" width="28.8" height="2.4" fill="#f4f4f4" stroke="none" stroke-width="1" />
<rect x="393.1" y="439.3" width="34.7" height="17" fill="#2a2a2a" stroke="none" stroke-width="1" />
<text x="410.45000000000005" y="449.1" font-family="Liberation Serif" font-size="9.2" text-anchor="middle" fill="#eee" font-weight="normal" >20μm</text>
<rect x="396.70000000000005" y="451.5" width="27.500000000000004" height="2.4" fill="#f4f4f4" stroke="none" stroke-width="1" />
<text x="28" y="488.8" font-family="Liberation Serif" font-size="9" text-anchor="start" fill="#222" font-weight="bold" >(i)</text>
<text x="84" y="521.5" font-family="Liberation Serif" font-size="8.6" text-anchor="start" fill="#b8404c" font-weight="normal" >E<tspan font-size="5" dy="1.5">ca</tspan><tspan dy="-1.5">: 0.7 V</tspan></text>
<line x1="98" y1="525.8" x2="108.5" y2="525.8" stroke="#b8404c" stroke-width="1" />
<text x="115.8" y="511.3" font-family="Liberation Serif" font-size="8.6" text-anchor="start" fill="#3a3a8a" font-weight="normal" >E<tspan font-size="5" dy="1.5">ap</tspan><tspan dy="-1.5">: 0.9 V</tspan></text>
<text x="162" y="505.3" font-family="Liberation Serif" font-size="8.6" text-anchor="start" fill="#b8404c" font-weight="normal" >E<tspan font-size="5" dy="1.5">ap</tspan><tspan dy="-1.5">:1.2 V</tspan></text>
<line x1="121.5" y1="514.2" x2="125.9" y2="514.2" stroke="#5050a0" stroke-width="1" />
<line x1="121.5" y1="514.2" x2="121.5" y2="525.8" stroke="#555" stroke-width="0.9" />
<line x1="125.9" y1="514.2" x2="125.9" y2="525.8" stroke="#555" stroke-width="0.9" />
<line x1="125.9" y1="525.8" x2="130.3" y2="525.8" stroke="#d04040" stroke-width="1" />
<line x1="130.3" y1="514.2" x2="134.70000000000002" y2="514.2" stroke="#5050a0" stroke-width="1" />
<line x1="130.3" y1="514.2" x2="130.3" y2="525.8" stroke="#555" stroke-width="0.9" />
<line x1="134.70000000000002" y1="514.2" x2="134.70000000000002" y2="525.8" stroke="#555" stroke-width="0.9" />
<line x1="134.70000000000002" y1="525.8" x2="139.10000000000002" y2="525.8" stroke="#d04040" stroke-width="1" />
<line x1="139.1" y1="514.2" x2="143.5" y2="514.2" stroke="#5050a0" stroke-width="1" />
<line x1="139.1" y1="514.2" x2="139.1" y2="525.8" stroke="#555" stroke-width="0.9" />
<line x1="143.5" y1="514.2" x2="143.5" y2="525.8" stroke="#555" stroke-width="0.9" />
<line x1="120.0" y1="525.8" x2="121.5" y2="525.8" stroke="#d04040" stroke-width="1" />
<line x1="143.5" y1="525.8" x2="145.0" y2="525.8" stroke="#d04040" stroke-width="1" />
<line x1="145" y1="525.8" x2="156.5" y2="525.8" stroke="#b8404c" stroke-width="1" />
<line x1="166.5" y1="510.4" x2="170.7" y2="510.4" stroke="#5050a0" stroke-width="1" />
<line x1="166.5" y1="510.4" x2="166.5" y2="525.8" stroke="#555" stroke-width="0.9" />
<line x1="170.7" y1="510.4" x2="170.7" y2="525.8" stroke="#555" stroke-width="0.9" />
<line x1="170.7" y1="525.8" x2="174.9" y2="525.8" stroke="#d04040" stroke-width="1" />
<line x1="174.9" y1="510.4" x2="179.1" y2="510.4" stroke="#5050a0" stroke-width="1" />
<line x1="174.9" y1="510.4" x2="174.9" y2="525.8" stroke="#555" stroke-width="0.9" />
<line x1="179.1" y1="510.4" x2="179.1" y2="525.8" stroke="#555" stroke-width="0.9" />
<line x1="179.1" y1="525.8" x2="183.3" y2="525.8" stroke="#d04040" stroke-width="1" />
<line x1="183.3" y1="510.4" x2="187.5" y2="510.4" stroke="#5050a0" stroke-width="1" />
<line x1="183.3" y1="510.4" x2="183.3" y2="525.8" stroke="#555" stroke-width="0.9" />
<line x1="187.5" y1="510.4" x2="187.5" y2="525.8" stroke="#555" stroke-width="0.9" />
<line x1="165.0" y1="525.8" x2="166.5" y2="525.8" stroke="#d04040" stroke-width="1" />
<line x1="187.5" y1="525.8" x2="189.0" y2="525.8" stroke="#d04040" stroke-width="1" />
<line x1="193.4" y1="525.8" x2="203.6" y2="525.8" stroke="#b8404c" stroke-width="1" />
<rect x="87.3" y="534.0" width="125.50000000000001" height="174.79999999999995" fill="none" stroke="#1a1a1a" stroke-width="1.2" />
<line x1="87.3" y1="586.4" x2="212.8" y2="586.4" stroke="#1a1a1a" stroke-width="1.2" />
<line x1="119.7" y1="534.0" x2="119.7" y2="708.8" stroke="#222" stroke-width="1.1" stroke-dasharray="1.2,1.6"/>
<line x1="163.9" y1="534.0" x2="163.9" y2="708.8" stroke="#222" stroke-width="1.1" stroke-dasharray="1.2,1.6"/>
<line x1="87.3" y1="534.0" x2="84.8" y2="534.0" stroke="#1a1a1a" stroke-width="0.9" />
<text x="85.3" y="537.2" font-family="Liberation Serif" font-size="9" text-anchor="end" fill="#222" font-weight="normal" stroke="#222" stroke-width="0.22" >−300</text>
<line x1="87.3" y1="551.8" x2="84.8" y2="551.8" stroke="#1a1a1a" stroke-width="0.9" />
<text x="85.3" y="555.0" font-family="Liberation Serif" font-size="9" text-anchor="end" fill="#222" font-weight="normal" stroke="#222" stroke-width="0.22" >−250</text>
<line x1="87.3" y1="569.5" x2="84.8" y2="569.5" stroke="#1a1a1a" stroke-width="0.9" />
<text x="85.3" y="572.7" font-family="Liberation Serif" font-size="9" text-anchor="end" fill="#222" font-weight="normal" stroke="#222" stroke-width="0.22" >−200</text>
<line x1="87.3" y1="542.9" x2="85.8" y2="542.9" stroke="#1a1a1a" stroke-width="0.8" />
<line x1="87.3" y1="560.6" x2="85.8" y2="560.6" stroke="#1a1a1a" stroke-width="0.8" />
<line x1="87.3" y1="578.3" x2="85.8" y2="578.3" stroke="#1a1a1a" stroke-width="0.8" />
<text x="47.8" y="559" font-family="Liberation Serif" font-size="9" text-anchor="middle" fill="#222" font-weight="normal" stroke="#222" stroke-width="0.22" transform="rotate(-90 47.8 559)" >Current Density</text>
<text x="61.5" y="560" font-family="Liberation Serif" font-size="9" text-anchor="middle" fill="#222" font-weight="normal" stroke="#222" stroke-width="0.22" transform="rotate(-90 61.5 560)" >(mA/cm<tspan font-size="6" dy="-3">2</tspan><tspan dy="3">)</tspan></text>
<rect x="104.0" y="548.0" width="3.0" height="4.6" fill="#fff" stroke="#000" stroke-width="1.7" rx="1"/>
<rect x="130.70000000000002" y="546.6999999999999" width="3.4" height="3.4" fill="#fff" stroke="#000" stroke-width="1.7" rx="1"/>
<rect x="148.6" y="551.4" width="3.2" height="4.2" fill="#fff" stroke="#000" stroke-width="1.7" rx="1"/>
<rect x="174.8" y="574.1999999999999" width="3.4" height="3.4" fill="#fff" stroke="#000" stroke-width="1.7" rx="1"/>
<rect x="193.0" y="555.5999999999999" width="3.4" height="3.4" fill="#fff" stroke="#000" stroke-width="1.7" rx="1"/>
<line x1="87.3" y1="708.8" x2="84.8" y2="708.8" stroke="#1a1a1a" stroke-width="0.9" />
<text x="85.3" y="714.5" font-family="Liberation Serif" font-size="9" text-anchor="end" fill="#222" font-weight="normal" stroke="#222" stroke-width="0.22" >0</text>
<line x1="87.3" y1="685.3499999999999" x2="84.8" y2="685.3499999999999" stroke="#1a1a1a" stroke-width="0.9" />
<text x="85.3" y="688.55" font-family="Liberation Serif" font-size="9" text-anchor="end" fill="#222" font-weight="normal" stroke="#222" stroke-width="0.22" >20</text>
<line x1="87.3" y1="661.9" x2="84.8" y2="661.9" stroke="#1a1a1a" stroke-width="0.9" />
<text x="85.3" y="665.1" font-family="Liberation Serif" font-size="9" text-anchor="end" fill="#222" font-weight="normal" stroke="#222" stroke-width="0.22" >40</text>
<line x1="87.3" y1="638.4499999999999" x2="84.8" y2="638.4499999999999" stroke="#1a1a1a" stroke-width="0.9" />
<text x="85.3" y="641.65" font-family="Liberation Serif" font-size="9" text-anchor="end" fill="#222" font-weight="normal" stroke="#222" stroke-width="0.22" >60</text>
<line x1="87.3" y1="615.0" x2="84.8" y2="615.0" stroke="#1a1a1a" stroke-width="0.9" />
<text x="85.3" y="618.2" font-family="Liberation Serif" font-size="9" text-anchor="end" fill="#222" font-weight="normal" stroke="#222" stroke-width="0.22" >80</text>
<line x1="87.3" y1="591.55" x2="84.8" y2="591.55" stroke="#1a1a1a" stroke-width="0.9" />
<text x="85.3" y="594.75" font-family="Liberation Serif" font-size="9" text-anchor="end" fill="#222" font-weight="normal" stroke="#222" stroke-width="0.22" >100</text>
<line x1="87.3" y1="697.0749999999999" x2="85.8" y2="697.0749999999999" stroke="#1a1a1a" stroke-width="0.8" />
<line x1="87.3" y1="673.625" x2="85.8" y2="673.625" stroke="#1a1a1a" stroke-width="0.8" />
<line x1="87.3" y1="650.175" x2="85.8" y2="650.175" stroke="#1a1a1a" stroke-width="0.8" />
<line x1="87.3" y1="626.7249999999999" x2="85.8" y2="626.7249999999999" stroke="#1a1a1a" stroke-width="0.8" />
<line x1="87.3" y1="603.275" x2="85.8" y2="603.275" stroke="#1a1a1a" stroke-width="0.8" />
<text x="65.2" y="652.4" font-family="Liberation Serif" font-size="9.4" text-anchor="middle" fill="#222" font-weight="normal" stroke="#222" stroke-width="0.22" transform="rotate(-90 65.2 652.4)" >Faradaic Efficiency (%)</text>
<rect x="100.9" y="691.2125" width="9.5" height="17.587499999999977" fill="#e8141c" stroke="none" stroke-width="1" />
<text x="105.65" y="701.8062499999999" font-family="Liberation Serif" font-size="5" text-anchor="middle" fill="#fff" font-weight="normal" fill-opacity="0.85">15</text>
<rect x="100.9" y="667.7624999999999" width="9.5" height="23.450000000000045" fill="#1a5c9e" stroke="none" stroke-width="1" />
<text x="105.65" y="681.2874999999999" font-family="Liberation Serif" font-size="5" text-anchor="middle" fill="#fff" font-weight="normal" fill-opacity="0.85">20</text>
<rect x="100.9" y="667.17625" width="9.5" height="0.58624999999995" fill="#f6c21a" stroke="none" stroke-width="1" />
<rect x="100.9" y="620.159" width="9.5" height="47.01724999999999" fill="#20c070" stroke="none" stroke-width="1" />
<text x="105.65" y="645.467625" font-family="Liberation Serif" font-size="5" text-anchor="middle" fill="#fff" font-weight="normal" fill-opacity="0.85">41</text>
<rect x="100.9" y="613.00675" width="9.5" height="7.152249999999981" fill="#f2a446" stroke="none" stroke-width="1" />
<rect x="100.9" y="600.57825" width="9.5" height="12.428499999999985" fill="#e8681a" stroke="none" stroke-width="1" />
<text x="105.65" y="608.5925" font-family="Liberation Serif" font-size="5" text-anchor="middle" fill="#fff" font-weight="normal" fill-opacity="0.85">13</text>
<rect x="100.9" y="595.3019999999999" width="9.5" height="5.276250000000118" fill="#2a9ea4" stroke="none" stroke-width="1" />
<rect x="100.9" y="594.833" width="9.5" height="0.46899999999993724" fill="#d89a22" stroke="none" stroke-width="1" />
<line x1="105.65" y1="666.2624999999999" x2="105.65" y2="669.2624999999999" stroke="#111" stroke-width="0.8" />
<line x1="104.35000000000001" y1="666.2624999999999" x2="106.95" y2="666.2624999999999" stroke="#111" stroke-width="0.8" />
<line x1="104.35000000000001" y1="669.2624999999999" x2="106.95" y2="669.2624999999999" stroke="#111" stroke-width="0.8" />
<line x1="105.65" y1="665.67625" x2="105.65" y2="668.67625" stroke="#111" stroke-width="0.8" />
<line x1="104.35000000000001" y1="665.67625" x2="106.95" y2="665.67625" stroke="#111" stroke-width="0.8" />
<line x1="104.35000000000001" y1="668.67625" x2="106.95" y2="668.67625" stroke="#111" stroke-width="0.8" />
<line x1="105.65" y1="618.659" x2="105.65" y2="621.659" stroke="#111" stroke-width="0.8" />
<line x1="104.35000000000001" y1="618.659" x2="106.95" y2="618.659" stroke="#111" stroke-width="0.8" />
<line x1="104.35000000000001" y1="621.659" x2="106.95" y2="621.659" stroke="#111" stroke-width="0.8" />
<line x1="105.65" y1="611.50675" x2="105.65" y2="614.50675" stroke="#111" stroke-width="0.8" />
<line x1="104.35000000000001" y1="611.50675" x2="106.95" y2="611.50675" stroke="#111" stroke-width="0.8" />
<line x1="104.35000000000001" y1="614.50675" x2="106.95" y2="614.50675" stroke="#111" stroke-width="0.8" />
<line x1="105.65" y1="599.07825" x2="105.65" y2="602.07825" stroke="#111" stroke-width="0.8" />
<line x1="104.35000000000001" y1="599.07825" x2="106.95" y2="599.07825" stroke="#111" stroke-width="0.8" />
<line x1="104.35000000000001" y1="602.07825" x2="106.95" y2="602.07825" stroke="#111" stroke-width="0.8" />
<line x1="105.65" y1="593.8019999999999" x2="105.65" y2="596.8019999999999" stroke="#111" stroke-width="0.8" />
<line x1="104.35000000000001" y1="593.8019999999999" x2="106.95" y2="593.8019999999999" stroke="#111" stroke-width="0.8" />
<line x1="104.35000000000001" y1="596.8019999999999" x2="106.95" y2="596.8019999999999" stroke="#111" stroke-width="0.8" />
<line x1="105.65" y1="593.333" x2="105.65" y2="596.333" stroke="#111" stroke-width="0.8" />
<line x1="104.35000000000001" y1="593.333" x2="106.95" y2="593.333" stroke="#111" stroke-width="0.8" />
<line x1="104.35000000000001" y1="596.333" x2="106.95" y2="596.333" stroke="#111" stroke-width="0.8" />
<rect x="128.1" y="697.544" width="8.900000000000006" height="11.255999999999972" fill="#e8141c" stroke="none" stroke-width="1" />
<text x="132.55" y="704.972" font-family="Liberation Serif" font-size="5" text-anchor="middle" fill="#fff" font-weight="normal" fill-opacity="0.85">9.6</text>
<rect x="128.1" y="681.1289999999999" width="8.900000000000006" height="16.415000000000077" fill="#1a5c9e" stroke="none" stroke-width="1" />
<text x="132.55" y="691.1364999999998" font-family="Liberation Serif" font-size="5" text-anchor="middle" fill="#fff" font-weight="normal" fill-opacity="0.85">14</text>
<rect x="128.1" y="679.4875" width="8.900000000000006" height="1.6414999999999509" fill="#f6c21a" stroke="none" stroke-width="1" />
<rect x="128.1" y="628.48375" width="8.900000000000006" height="51.00374999999997" fill="#20c070" stroke="none" stroke-width="1" />
<text x="132.55" y="655.785625" font-family="Liberation Serif" font-size="5" text-anchor="middle" fill="#fff" font-weight="normal" fill-opacity="0.85">44</text>
<rect x="128.1" y="624.38" width="8.900000000000006" height="4.103749999999991" fill="#f2a446" stroke="none" stroke-width="1" />
<rect x="128.1" y="601.8679999999999" width="8.900000000000006" height="22.512000000000057" fill="#e8681a" stroke="none" stroke-width="1" />
<text x="132.55" y="614.924" font-family="Liberation Serif" font-size="5" text-anchor="middle" fill="#fff" font-weight="normal" fill-opacity="0.85">20</text>
<rect x="128.1" y="597.6469999999999" width="8.900000000000006" height="4.221000000000004" fill="#2a9ea4" stroke="none" stroke-width="1" />
<rect x="128.1" y="597.1779999999999" width="8.900000000000006" height="0.46900000000005093" fill="#d89a22" stroke="none" stroke-width="1" />
<line x1="132.55" y1="679.6289999999999" x2="132.55" y2="682.6289999999999" stroke="#111" stroke-width="0.8" />
<line x1="131.25" y1="679.6289999999999" x2="133.85000000000002" y2="679.6289999999999" stroke="#111" stroke-width="0.8" />
<line x1="131.25" y1="682.6289999999999" x2="133.85000000000002" y2="682.6289999999999" stroke="#111" stroke-width="0.8" />
<line x1="132.55" y1="677.9875" x2="132.55" y2="680.9875" stroke="#111" stroke-width="0.8" />
<line x1="131.25" y1="677.9875" x2="133.85000000000002" y2="677.9875" stroke="#111" stroke-width="0.8" />
<line x1="131.25" y1="680.9875" x2="133.85000000000002" y2="680.9875" stroke="#111" stroke-width="0.8" />
<line x1="132.55" y1="626.98375" x2="132.55" y2="629.98375" stroke="#111" stroke-width="0.8" />
<line x1="131.25" y1="626.98375" x2="133.85000000000002" y2="626.98375" stroke="#111" stroke-width="0.8" />
<line x1="131.25" y1="629.98375" x2="133.85000000000002" y2="629.98375" stroke="#111" stroke-width="0.8" />
<line x1="132.55" y1="622.88" x2="132.55" y2="625.88" stroke="#111" stroke-width="0.8" />
<line x1="131.25" y1="622.88" x2="133.85000000000002" y2="622.88" stroke="#111" stroke-width="0.8" />
<line x1="131.25" y1="625.88" x2="133.85000000000002" y2="625.88" stroke="#111" stroke-width="0.8" />
<line x1="132.55" y1="600.3679999999999" x2="132.55" y2="603.3679999999999" stroke="#111" stroke-width="0.8" />
<line x1="131.25" y1="600.3679999999999" x2="133.85000000000002" y2="600.3679999999999" stroke="#111" stroke-width="0.8" />
<line x1="131.25" y1="603.3679999999999" x2="133.85000000000002" y2="603.3679999999999" stroke="#111" stroke-width="0.8" />
<line x1="132.55" y1="596.1469999999999" x2="132.55" y2="599.1469999999999" stroke="#111" stroke-width="0.8" />
<line x1="131.25" y1="596.1469999999999" x2="133.85000000000002" y2="596.1469999999999" stroke="#111" stroke-width="0.8" />
<line x1="131.25" y1="599.1469999999999" x2="133.85000000000002" y2="599.1469999999999" stroke="#111" stroke-width="0.8" />
<line x1="132.55" y1="595.6779999999999" x2="132.55" y2="598.6779999999999" stroke="#111" stroke-width="0.8" />
<line x1="131.25" y1="595.6779999999999" x2="133.85000000000002" y2="595.6779999999999" stroke="#111" stroke-width="0.8" />
<line x1="131.25" y1="598.6779999999999" x2="133.85000000000002" y2="598.6779999999999" stroke="#111" stroke-width="0.8" />
<rect x="145.6" y="696.137" width="9.099999999999994" height="12.663000000000011" fill="#e8141c" stroke="none" stroke-width="1" />
<text x="150.14999999999998" y="704.2684999999999" font-family="Liberation Serif" font-size="5" text-anchor="middle" fill="#fff" font-weight="normal" fill-opacity="0.85">11</text>
<rect x="145.6" y="682.067" width="9.099999999999994" height="14.069999999999936" fill="#1a5c9e" stroke="none" stroke-width="1" />
<text x="150.14999999999998" y="690.9019999999999" font-family="Liberation Serif" font-size="5" text-anchor="middle" fill="#fff" font-weight="normal" fill-opacity="0.85">12</text>
<rect x="145.6" y="679.722" width="9.099999999999994" height="2.3450000000000273" fill="#f6c21a" stroke="none" stroke-width="1" />
<rect x="145.6" y="622.5039999999999" width="9.099999999999994" height="57.218000000000075" fill="#20c070" stroke="none" stroke-width="1" />
<text x="150.14999999999998" y="652.9129999999999" font-family="Liberation Serif" font-size="5" text-anchor="middle" fill="#fff" font-weight="normal" fill-opacity="0.85">50</text>
<rect x="145.6" y="618.5174999999999" width="9.099999999999994" height="3.986499999999978" fill="#f2a446" stroke="none" stroke-width="1" />
<rect x="145.6" y="597.76425" width="9.099999999999994" height="20.75324999999998" fill="#e8681a" stroke="none" stroke-width="1" />
<text x="150.14999999999998" y="609.9408749999999" font-family="Liberation Serif" font-size="5" text-anchor="middle" fill="#fff" font-weight="normal" fill-opacity="0.85">17</text>
<rect x="145.6" y="593.54325" width="9.099999999999994" height="4.221000000000004" fill="#2a9ea4" stroke="none" stroke-width="1" />
<rect x="145.6" y="593.0742499999999" width="9.099999999999994" height="0.46900000000005093" fill="#d89a22" stroke="none" stroke-width="1" />
<line x1="150.14999999999998" y1="680.567" x2="150.14999999999998" y2="683.567" stroke="#111" stroke-width="0.8" />
<line x1="148.84999999999997" y1="680.567" x2="151.45" y2="680.567" stroke="#111" stroke-width="0.8" />
<line x1="148.84999999999997" y1="683.567" x2="151.45" y2="683.567" stroke="#111" stroke-width="0.8" />
<line x1="150.14999999999998" y1="678.222" x2="150.14999999999998" y2="681.222" stroke="#111" stroke-width="0.8" />
<line x1="148.84999999999997" y1="678.222" x2="151.45" y2="678.222" stroke="#111" stroke-width="0.8" />
<line x1="148.84999999999997" y1="681.222" x2="151.45" y2="681.222" stroke="#111" stroke-width="0.8" />
<line x1="150.14999999999998" y1="621.0039999999999" x2="150.14999999999998" y2="624.0039999999999" stroke="#111" stroke-width="0.8" />
<line x1="148.84999999999997" y1="621.0039999999999" x2="151.45" y2="621.0039999999999" stroke="#111" stroke-width="0.8" />
<line x1="148.84999999999997" y1="624.0039999999999" x2="151.45" y2="624.0039999999999" stroke="#111" stroke-width="0.8" />
<line x1="150.14999999999998" y1="617.0174999999999" x2="150.14999999999998" y2="620.0174999999999" stroke="#111" stroke-width="0.8" />
<line x1="148.84999999999997" y1="617.0174999999999" x2="151.45" y2="617.0174999999999" stroke="#111" stroke-width="0.8" />
<line x1="148.84999999999997" y1="620.0174999999999" x2="151.45" y2="620.0174999999999" stroke="#111" stroke-width="0.8" />
<line x1="150.14999999999998" y1="596.26425" x2="150.14999999999998" y2="599.26425" stroke="#111" stroke-width="0.8" />
<line x1="148.84999999999997" y1="596.26425" x2="151.45" y2="596.26425" stroke="#111" stroke-width="0.8" />
<line x1="148.84999999999997" y1="599.26425" x2="151.45" y2="599.26425" stroke="#111" stroke-width="0.8" />
<line x1="150.14999999999998" y1="592.04325" x2="150.14999999999998" y2="595.04325" stroke="#111" stroke-width="0.8" />
<line x1="148.84999999999997" y1="592.04325" x2="151.45" y2="592.04325" stroke="#111" stroke-width="0.8" />
<line x1="148.84999999999997" y1="595.04325" x2="151.45" y2="595.04325" stroke="#111" stroke-width="0.8" />
<line x1="150.14999999999998" y1="591.5742499999999" x2="150.14999999999998" y2="594.5742499999999" stroke="#111" stroke-width="0.8" />
<line x1="148.84999999999997" y1="591.5742499999999" x2="151.45" y2="591.5742499999999" stroke="#111" stroke-width="0.8" />
<line x1="148.84999999999997" y1="594.5742499999999" x2="151.45" y2="594.5742499999999" stroke="#111" stroke-width="0.8" />
<rect x="172.7" y="694.7299999999999" width="9.0" height="14.07000000000005" fill="#e8141c" stroke="none" stroke-width="1" />
<text x="177.2" y="703.5649999999998" font-family="Liberation Serif" font-size="5" text-anchor="middle" fill="#fff" font-weight="normal" fill-opacity="0.85">12</text>
<rect x="172.7" y="685.93625" width="9.0" height="8.793749999999932" fill="#1a5c9e" stroke="none" stroke-width="1" />
<text x="177.2" y="692.1331249999998" font-family="Liberation Serif" font-size="5" text-anchor="middle" fill="#fff" font-weight="normal" fill-opacity="0.85">7.2</text>
<rect x="172.7" y="630.2425" width="9.0" height="55.69375000000002" fill="#f6c21a" stroke="none" stroke-width="1" />
<text x="177.2" y="659.889375" font-family="Liberation Serif" font-size="5" text-anchor="middle" fill="#fff" font-weight="normal" fill-opacity="0.85">48</text>
<rect x="172.7" y="610.31" width="9.0" height="19.932500000000005" fill="#20c070" stroke="none" stroke-width="1" />
<text x="177.2" y="622.0762499999998" font-family="Liberation Serif" font-size="5" text-anchor="middle" fill="#fff" font-weight="normal" fill-opacity="0.85">16</text>
<rect x="172.7" y="606.7924999999999" width="9.0" height="3.517500000000041" fill="#a0a0a0" stroke="none" stroke-width="1" />
<rect x="172.7" y="593.1914999999999" width="9.0" height="13.600999999999999" fill="#e8681a" stroke="none" stroke-width="1" />
<text x="177.2" y="601.7919999999999" font-family="Liberation Serif" font-size="5" text-anchor="middle" fill="#fff" font-weight="normal" fill-opacity="0.85">12</text>
<rect x="172.7" y="592.60525" width="9.0" height="0.58624999999995" fill="#2a9ea4" stroke="none" stroke-width="1" />
<rect x="172.7" y="592.1362499999999" width="9.0" height="0.46900000000005093" fill="#d89a22" stroke="none" stroke-width="1" />
<line x1="177.2" y1="684.43625" x2="177.2" y2="687.43625" stroke="#111" stroke-width="0.8" />
<line x1="175.89999999999998" y1="684.43625" x2="178.5" y2="684.43625" stroke="#111" stroke-width="0.8" />
<line x1="175.89999999999998" y1="687.43625" x2="178.5" y2="687.43625" stroke="#111" stroke-width="0.8" />
<line x1="177.2" y1="628.7425" x2="177.2" y2="631.7425" stroke="#111" stroke-width="0.8" />
<line x1="175.89999999999998" y1="628.7425" x2="178.5" y2="628.7425" stroke="#111" stroke-width="0.8" />
<line x1="175.89999999999998" y1="631.7425" x2="178.5" y2="631.7425" stroke="#111" stroke-width="0.8" />
<line x1="177.2" y1="608.81" x2="177.2" y2="611.81" stroke="#111" stroke-width="0.8" />
<line x1="175.89999999999998" y1="608.81" x2="178.5" y2="608.81" stroke="#111" stroke-width="0.8" />
<line x1="175.89999999999998" y1="611.81" x2="178.5" y2="611.81" stroke="#111" stroke-width="0.8" />
<line x1="177.2" y1="605.2924999999999" x2="177.2" y2="608.2924999999999" stroke="#111" stroke-width="0.8" />
<line x1="175.89999999999998" y1="605.2924999999999" x2="178.5" y2="605.2924999999999" stroke="#111" stroke-width="0.8" />
<line x1="175.89999999999998" y1="608.2924999999999" x2="178.5" y2="608.2924999999999" stroke="#111" stroke-width="0.8" />
<line x1="177.2" y1="591.6914999999999" x2="177.2" y2="594.6914999999999" stroke="#111" stroke-width="0.8" />
<line x1="175.89999999999998" y1="591.6914999999999" x2="178.5" y2="591.6914999999999" stroke="#111" stroke-width="0.8" />
<line x1="175.89999999999998" y1="594.6914999999999" x2="178.5" y2="594.6914999999999" stroke="#111" stroke-width="0.8" />
<line x1="177.2" y1="591.10525" x2="177.2" y2="594.10525" stroke="#111" stroke-width="0.8" />
<line x1="175.89999999999998" y1="591.10525" x2="178.5" y2="591.10525" stroke="#111" stroke-width="0.8" />
<line x1="175.89999999999998" y1="594.10525" x2="178.5" y2="594.10525" stroke="#111" stroke-width="0.8" />
<line x1="177.2" y1="590.6362499999999" x2="177.2" y2="593.6362499999999" stroke="#111" stroke-width="0.8" />
<line x1="175.89999999999998" y1="590.6362499999999" x2="178.5" y2="590.6362499999999" stroke="#111" stroke-width="0.8" />
<line x1="175.89999999999998" y1="593.6362499999999" x2="178.5" y2="593.6362499999999" stroke="#111" stroke-width="0.8" />
<rect x="190.4" y="694.7299999999999" width="9.0" height="14.07000000000005" fill="#e8141c" stroke="none" stroke-width="1" />
<text x="194.9" y="703.5649999999998" font-family="Liberation Serif" font-size="5" text-anchor="middle" fill="#fff" font-weight="normal" fill-opacity="0.85">11</text>
<rect x="190.4" y="680.0737499999999" width="9.0" height="14.65625" fill="#1a5c9e" stroke="none" stroke-width="1" />
<text x="194.9" y="689.2018749999999" font-family="Liberation Serif" font-size="5" text-anchor="middle" fill="#fff" font-weight="normal" fill-opacity="0.85">12</text>
<rect x="190.4" y="675.9699999999999" width="9.0" height="4.103749999999991" fill="#f6c21a" stroke="none" stroke-width="1" />
<rect x="190.4" y="624.38" width="9.0" height="51.58999999999992" fill="#20c070" stroke="none" stroke-width="1" />
<text x="194.9" y="651.9749999999999" font-family="Liberation Serif" font-size="5" text-anchor="middle" fill="#fff" font-weight="normal" fill-opacity="0.85">44</text>
<rect x="190.4" y="621.4487499999999" width="9.0" height="2.931250000000091" fill="#a0a0a0" stroke="none" stroke-width="1" />
<rect x="190.4" y="617.3449999999999" width="9.0" height="4.103749999999991" fill="#f2a446" stroke="none" stroke-width="1" />
<rect x="190.4" y="598.5849999999999" width="9.0" height="18.75999999999999" fill="#e8681a" stroke="none" stroke-width="1" />
<text x="194.9" y="609.7649999999999" font-family="Liberation Serif" font-size="5" text-anchor="middle" fill="#fff" font-weight="normal" fill-opacity="0.85">18</text>
<rect x="190.4" y="594.833" width="9.0" height="3.7519999999999527" fill="#2a9ea4" stroke="none" stroke-width="1" />
<rect x="190.4" y="594.4812499999999" width="9.0" height="0.3517500000000382" fill="#d89a22" stroke="none" stroke-width="1" />
<line x1="194.9" y1="678.5737499999999" x2="194.9" y2="681.5737499999999" stroke="#111" stroke-width="0.8" />
<line x1="193.6" y1="678.5737499999999" x2="196.20000000000002" y2="678.5737499999999" stroke="#111" stroke-width="0.8" />
<line x1="193.6" y1="681.5737499999999" x2="196.20000000000002" y2="681.5737499999999" stroke="#111" stroke-width="0.8" />
<line x1="194.9" y1="674.4699999999999" x2="194.9" y2="677.4699999999999" stroke="#111" stroke-width="0.8" />
<line x1="193.6" y1="674.4699999999999" x2="196.20000000000002" y2="674.4699999999999" stroke="#111" stroke-width="0.8" />
<line x1="193.6" y1="677.4699999999999" x2="196.20000000000002" y2="677.4699999999999" stroke="#111" stroke-width="0.8" />
<line x1="194.9" y1="622.88" x2="194.9" y2="625.88" stroke="#111" stroke-width="0.8" />
<line x1="193.6" y1="622.88" x2="196.20000000000002" y2="622.88" stroke="#111" stroke-width="0.8" />
<line x1="193.6" y1="625.88" x2="196.20000000000002" y2="625.88" stroke="#111" stroke-width="0.8" />
<line x1="194.9" y1="619.9487499999999" x2="194.9" y2="622.9487499999999" stroke="#111" stroke-width="0.8" />
<line x1="193.6" y1="619.9487499999999" x2="196.20000000000002" y2="619.9487499999999" stroke="#111" stroke-width="0.8" />
<line x1="193.6" y1="622.9487499999999" x2="196.20000000000002" y2="622.9487499999999" stroke="#111" stroke-width="0.8" />
<line x1="194.9" y1="615.8449999999999" x2="194.9" y2="618.8449999999999" stroke="#111" stroke-width="0.8" />
<line x1="193.6" y1="615.8449999999999" x2="196.20000000000002" y2="615.8449999999999" stroke="#111" stroke-width="0.8" />
<line x1="193.6" y1="618.8449999999999" x2="196.20000000000002" y2="618.8449999999999" stroke="#111" stroke-width="0.8" />
<line x1="194.9" y1="597.0849999999999" x2="194.9" y2="600.0849999999999" stroke="#111" stroke-width="0.8" />
<line x1="193.6" y1="597.0849999999999" x2="196.20000000000002" y2="597.0849999999999" stroke="#111" stroke-width="0.8" />
<line x1="193.6" y1="600.0849999999999" x2="196.20000000000002" y2="600.0849999999999" stroke="#111" stroke-width="0.8" />
<line x1="194.9" y1="593.333" x2="194.9" y2="596.333" stroke="#111" stroke-width="0.8" />
<line x1="193.6" y1="593.333" x2="196.20000000000002" y2="593.333" stroke="#111" stroke-width="0.8" />
<line x1="193.6" y1="596.333" x2="196.20000000000002" y2="596.333" stroke="#111" stroke-width="0.8" />
<line x1="194.9" y1="592.9812499999999" x2="194.9" y2="595.9812499999999" stroke="#111" stroke-width="0.8" />
<line x1="193.6" y1="592.9812499999999" x2="196.20000000000002" y2="592.9812499999999" stroke="#111" stroke-width="0.8" />
<line x1="193.6" y1="595.9812499999999" x2="196.20000000000002" y2="595.9812499999999" stroke="#111" stroke-width="0.8" />
<rect x="205.5" y="606" width="56" height="77" fill="#fff" stroke="none" stroke-width="1" />
<rect x="205.9" y="607.9" width="12.4" height="6" fill="#d89a22" stroke="none" stroke-width="1" />
<text x="219.8" y="613.1" font-family="Liberation Sans" font-size="6.2" text-anchor="start" fill="#222" font-weight="bold" >Allyl alcohol</text>
<rect x="205.9" y="615.3" width="12.4" height="6" fill="#2a9ea4" stroke="none" stroke-width="1" />
<text x="219.8" y="620.5" font-family="Liberation Sans" font-size="6.2" text-anchor="start" fill="#222" font-weight="bold" >1-PrOH</text>
<rect x="205.9" y="622.7" width="12.4" height="6" fill="#e8681a" stroke="none" stroke-width="1" />
<text x="219.8" y="627.9000000000001" font-family="Liberation Sans" font-size="6.2" text-anchor="start" fill="#222" font-weight="bold" >EtOH</text>
<rect x="205.9" y="629.8" width="12.4" height="6" fill="#f06a72" stroke="none" stroke-width="1" />
<text x="219.8" y="635.0" font-family="Liberation Sans" font-size="6.2" text-anchor="start" fill="#222" font-weight="bold" >Acetaldehyde</text>
<rect x="205.9" y="636.9" width="12.4" height="6" fill="#a0a0a0" stroke="none" stroke-width="1" />
<text x="219.8" y="642.1" font-family="Liberation Sans" font-size="6.2" text-anchor="start" fill="#222" font-weight="bold" >Acetate</text>
<rect x="205.9" y="644.0" width="12.4" height="6" fill="#f2a446" stroke="none" stroke-width="1" />
<text x="219.8" y="649.2" font-family="Liberation Sans" font-size="6.2" text-anchor="start" fill="#222" font-weight="bold" >Formate</text>
<rect x="205.9" y="651.2" width="12.4" height="6" fill="#20c070" stroke="none" stroke-width="1" />
<text x="219.8" y="656.4000000000001" font-family="Liberation Sans" font-size="6.2" text-anchor="start" fill="#222" font-weight="bold" >C<tspan font-size="4" dy="1">2</tspan><tspan dy="-1">H</tspan><tspan font-size="4" dy="1">4</tspan></text>
<rect x="205.9" y="659.9" width="12.4" height="6" fill="#f6c21a" stroke="none" stroke-width="1" />
<text x="219.8" y="665.1" font-family="Liberation Sans" font-size="6.2" text-anchor="start" fill="#222" font-weight="bold" >CH<tspan font-size="4" dy="1">4</tspan></text>
<rect x="205.9" y="668.2" width="12.4" height="6" fill="#1a5c9e" stroke="none" stroke-width="1" />
<text x="219.8" y="673.4000000000001" font-family="Liberation Sans" font-size="6.2" text-anchor="start" fill="#222" font-weight="bold" >CO</text>
<rect x="205.9" y="675.2" width="12.4" height="6" fill="#e8141c" stroke="none" stroke-width="1" />
<text x="219.8" y="680.4000000000001" font-family="Liberation Sans" font-size="6.2" text-anchor="start" fill="#222" font-weight="bold" >H<tspan font-size="4" dy="1">2</tspan></text>
<path d="M132.5,711.5 L132.5,718 Q132.5,722.3 136.5,722.3 L146.0,722.3 Q150.0,722.3 150.0,718 L150.0,714" fill="none" stroke="#f0b428" stroke-width="2.6"/>
<path d="M147.0,715 L150.0,710.5 L153.0,715 Z" fill="#f0b428"/>
<path d="M177.2,711.5 L177.2,718 Q177.2,722.3 181.2,722.3 L191.0,722.3 Q195.0,722.3 195.0,718 L195.0,714" fill="none" stroke="#f0b428" stroke-width="2.6"/>
<path d="M192.0,715 L195.0,710.5 L198.0,715 Z" fill="#f0b428"/>
<text x="272.2" y="488.3" font-family="Liberation Serif" font-size="9" text-anchor="start" fill="#222" font-weight="bold" >(j)</text>
<polyline points="325.4,580.0 325.8,581.9 326.3,583.1 326.7,574.3 327.2,577.9 327.6,581.4 328.1,573.0 328.5,581.3 328.9,577.6 329.4,577.0 329.8,571.3 330.3,576.2 330.7,576.5 331.2,578.6 331.6,574.1 332.0,574.6 332.5,579.4 332.9,582.3 333.4,579.2 333.8,577.5 334.3,575.5 334.7,574.5 335.2,574.5 335.6,575.5 336.0,578.9 336.5,579.3 336.9,577.6 337.4,576.1 337.8,576.5 338.3,576.4 338.7,578.3 339.1,575.7 339.6,575.9 340.0,576.1 340.5,576.1 340.9,576.7 341.4,576.7 341.8,573.1 342.2,576.7 342.7,579.3 343.1,576.3 343.6,569.1 344.0,575.5 344.5,576.4 344.9,576.3 345.3,578.5 345.8,578.8 346.2,577.2 346.7,574.8 347.1,574.6 347.6,578.1 348.0,576.5 348.4,568.8 348.9,572.3 349.3,573.0 349.8,570.8 350.2,575.4 350.7,579.7 351.1,571.8 351.5,575.4 352.0,573.7 352.4,576.4 352.9,574.7 353.3,572.4 353.8,575.1 354.2,574.8 354.7,577.0 355.1,575.0 355.5,574.6 356.0,573.8 356.4,570.5 356.9,576.2 357.3,579.3 357.8,574.5 358.2,571.1 358.6,570.0 359.1,575.0 359.5,574.4 360.0,572.8 360.4,573.5 360.9,579.1 361.3,577.0 361.7,576.7 362.2,577.2 362.6,577.9 363.1,578.3 363.5,574.5 364.0,574.4 364.4,573.7 364.8,573.5 365.3,577.8 365.7,575.6 366.2,575.4 366.6,568.9 367.1,574.4 367.5,577.7 367.9,576.1 368.4,575.2 368.8,573.9 369.3,578.3 369.7,579.1 370.2,578.0 370.6,573.2 371.0,577.2 371.5,578.7 371.9,579.8 372.4,576.0 372.8,582.3 373.3,576.4 373.7,578.0 374.2,578.0 374.6,576.3 375.0,578.9 375.5,577.4 375.9,566.7 376.4,573.1 376.8,577.7 377.3,583.0 377.7,576.0 378.1,571.0 378.6,580.9 379.0,580.1 379.5,577.0 379.9,571.9 380.4,562.8 380.8,554.3 381.2,566.5 381.7,570.2 382.1,572.1 382.6,577.3 383.0,577.2 383.5,571.7 383.9,576.5 384.3,575.9 384.8,579.5 385.2,582.4 385.7,584.0 386.1,581.2 386.6,572.3 387.0,581.9 387.4,583.0 387.9,582.4 388.3,580.6 388.8,571.9 389.2,559.3 389.7,558.1 390.1,563.9 390.6,572.3 391.0,574.8 391.4,574.4 391.9,580.4 392.3,580.4 392.8,576.3 393.2,578.4 393.7,579.4 394.1,579.8 394.5,583.9 395.0,580.1 395.4,575.6 395.9,577.6 396.3,577.1 396.8,579.2 397.2,579.3 397.6,570.9 398.1,574.6 398.5,574.1 399.0,574.8 399.4,578.7 399.9,578.2 400.3,575.9 400.7,578.9 401.2,570.0 401.6,581.4 402.1,580.8 402.5,580.1 403.0,579.3 403.4,578.5 403.8,573.1 404.3,573.9 404.7,582.6 405.2,572.7 405.6,574.9 406.1,566.8 406.5,570.4 406.9,572.8 407.4,576.1 407.8,578.4 408.3,576.9 408.7,574.2 409.2,574.9 409.6,577.1 410.1,579.5 410.5,579.3 410.9,577.5 411.4,573.8 411.8,576.5 412.3,575.3 412.7,573.2 413.2,574.5 413.6,573.3 414.0,571.1 414.5,565.4 414.9,557.9 415.4,558.2 415.8,558.6 416.3,556.2 416.7,554.4 417.1,556.1 417.6,543.8 418.0,545.1 418.5,536.3 418.9,530.0 419.4,534.5 419.8,530.2 420.2,528.3 420.7,527.7 421.1,527.3 421.6,534.8 422.0,534.9 422.5,535.7 422.9,541.2 423.3,547.4 423.8,548.9 424.2,556.6 424.7,557.3 425.1,560.1 425.6,562.5 426.0,565.2 426.4,569.7 426.9,571.5 427.3,564.3 427.8,569.9 428.2,572.1 428.7,575.6 429.1,574.9 429.6,574.4 430.0,570.8 430.4,576.0 430.9,572.6 431.3,566.8 431.8,573.6 432.2,581.8 432.7,575.6 433.1,573.7 433.5,574.2 434.0,573.8 434.4,570.9 434.9,573.4 435.3,573.6 435.8,575.7 436.2,575.2 436.6,577.3 437.1,577.5 437.5,577.6 438.0,578.4 438.4,577.3 438.9,574.7 439.3,577.2 439.7,572.7 440.2,572.5 440.6,567.2 441.1,571.6 441.5,571.9 442.0,567.9 442.4,565.8 442.8,566.6 443.3,565.7 443.7,564.7 444.2,559.7 444.6,557.0 445.1,555.4 445.5,552.7 446.0,546.1 446.4,544.1 446.8,547.2 447.3,541.2 447.7,542.5 448.2,541.2 448.6,544.0 449.1,542.0 449.5,544.1 449.9,542.1 450.4,540.4 450.8,553.9 451.3,551.6 451.7,558.5 452.2,559.2 452.6,562.2 453.0,559.2 453.5,568.4 453.9,572.2 454.4,570.4 454.8,570.8 455.3,572.4 455.7,578.8 456.1,577.8 456.6,580.8 457.0,575.9 457.5,581.4 457.9,580.6 458.4,582.6 458.8,588.8 459.2,586.5 459.7,585.2 460.1,580.2 460.6,586.5 461.0,588.4 461.5,581.9 461.9,580.4 462.3,588.5 462.8,581.3 463.2,585.6 463.7,582.2 464.1,588.0 464.6,587.8 465.0,585.3 465.5,589.7 465.9,586.9 466.3,583.4 466.8,583.5 467.2,584.8 467.7,584.6 468.1,584.9 468.6,586.2 469.0,578.5 469.4,581.5 469.9,580.6 470.3,587.8 470.8,584.8 471.2,584.0 471.7,588.1 472.1,592.1 472.5,584.7 473.0,589.9 473.4,586.7 473.9,587.5 474.3,586.7 474.8,580.6 475.2,584.3 475.6,583.8 476.1,588.7 476.5,584.9 477.0,586.3 477.4,584.1 477.9,585.2 478.3,586.4 478.7,583.0 479.2,588.1 479.6,587.3 480.1,589.5 480.5,585.7 481.0,588.3 481.4,592.9 481.8,589.2 482.3,585.7 482.7,592.8 483.2,587.7 483.6,586.7 484.1,586.7 484.5,585.7 485.0,587.7 485.4,579.3 485.8,585.0 486.3,588.4 486.7,584.1 487.2,593.1 487.6,583.5 488.1,585.5 488.5,585.5 488.9,587.7 489.4,591.5 489.8,584.0 490.3,590.1 490.7,585.8 491.2,595.8 491.6,588.9 492.0,585.2 492.5,590.4 492.9,588.3 493.4,585.1 493.8,586.9 494.3,590.5 494.7,590.1 495.1,590.0 495.6,592.2 496.0,589.5 496.5,588.7 496.9,587.5 497.4,577.0 497.8,586.3 498.2,584.2 498.7,585.1 499.1,589.5 499.6,589.4 500.0,586.0 500.5,587.3 500.9,591.9 501.4,587.9 501.8,589.3 502.2,591.1 502.7,586.8 503.1,588.7 503.6,594.2 504.0,587.4 504.5,589.2 504.9,587.8 505.3,586.5 505.8,577.7 506.2,588.1 506.7,587.5 507.1,586.6 507.6,585.2 508.0,584.3 508.4,585.4 508.9,585.9 509.3,581.6 509.8,590.9 510.2,590.3 510.7,589.0 511.1,585.8 511.5,591.9 512.0,586.6 512.4,588.5 512.9,592.6 513.3,589.3 513.8,586.8 514.2,582.0 514.6,590.6 515.1,592.3 515.5,590.9 516.0,586.6 516.4,586.3 516.9,588.6 517.3,585.9 517.7,587.2 518.2,593.5 518.6,588.0 519.1,590.5 519.5,587.5 520.0,587.3 520.4,588.4 520.9,585.4 521.3,587.5 521.7,591.7 522.2,591.4 522.6,591.0 523.1,587.6 523.5,588.0 524.0,589.3 524.4,590.6 524.8,592.5" fill="none" stroke="#8e8e8e" stroke-width="1.0" stroke-linejoin="round" />
<polyline points="325.4,659.9 325.8,649.4 326.3,653.2 326.7,655.0 327.2,658.8 327.6,654.4 328.1,652.0 328.5,653.5 328.9,654.8 329.4,654.0 329.8,656.5 330.3,659.9 330.7,657.5 331.2,657.3 331.6,660.1 332.0,657.7 332.5,652.2 332.9,654.4 333.4,654.3 333.8,658.0 334.3,657.7 334.7,655.7 335.2,657.2 335.6,650.7 336.0,656.5 336.5,659.3 336.9,655.1 337.4,650.8 337.8,654.0 338.3,649.7 338.7,653.0 339.1,660.2 339.6,650.5 340.0,650.6 340.5,653.4 340.9,655.0 341.4,657.3 341.8,657.7 342.2,658.2 342.7,658.5 343.1,653.9 343.6,658.1 344.0,653.1 344.5,654.9 344.9,653.7 345.3,647.6 345.8,657.8 346.2,655.2 346.7,652.5 347.1,655.4 347.6,651.9 348.0,651.9 348.4,652.0 348.9,649.0 349.3,646.5 349.8,651.9 350.2,652.5 350.7,645.9 351.1,651.7 351.5,652.5 352.0,657.1 352.4,651.4 352.9,646.4 353.3,651.4 353.8,654.7 354.2,658.0 354.7,647.3 355.1,652.8 355.5,653.3 356.0,659.3 356.4,656.6 356.9,648.6 357.3,654.2 357.8,651.8 358.2,644.4 358.6,653.9 359.1,652.2 359.5,653.5 360.0,655.7 360.4,656.5 360.9,653.9 361.3,653.5 361.7,654.4 362.2,656.5 362.6,655.7 363.1,657.6 363.5,656.9 364.0,651.7 364.4,656.1 364.8,654.4 365.3,655.9 365.7,655.6 366.2,652.6 366.6,656.2 367.1,655.8 367.5,651.9 367.9,650.3 368.4,650.2 368.8,654.9 369.3,658.5 369.7,658.2 370.2,657.0 370.6,657.3 371.0,656.6 371.5,653.7 371.9,652.5 372.4,657.3 372.8,659.3 373.3,658.3 373.7,657.4 374.2,658.8 374.6,659.7 375.0,662.5 375.5,659.0 375.9,659.2 376.4,656.0 376.8,658.0 377.3,654.9 377.7,650.8 378.1,656.5 378.6,656.3 379.0,660.7 379.5,655.1 379.9,655.9 380.4,648.2 380.8,642.4 381.2,645.8 381.7,659.3 382.1,657.7 382.6,661.1 383.0,654.1 383.5,653.9 383.9,654.0 384.3,659.1 384.8,656.4 385.2,656.4 385.7,659.8 386.1,660.1 386.6,655.1 387.0,655.1 387.4,659.7 387.9,656.2 388.3,657.1 388.8,652.7 389.2,641.1 389.7,638.2 390.1,642.6 390.6,651.3 391.0,653.5 391.4,656.9 391.9,656.6 392.3,658.3 392.8,654.5 393.2,655.0 393.7,658.5 394.1,661.9 394.5,659.4 395.0,658.9 395.4,655.2 395.9,656.6 396.3,657.9 396.8,657.2 397.2,657.9 397.6,655.6 398.1,657.5 398.5,656.0 399.0,653.9 399.4,652.0 399.9,657.3 400.3,654.0 400.7,652.7 401.2,651.5 401.6,659.2 402.1,661.6 402.5,655.4 403.0,651.0 403.4,658.8 403.8,653.5 404.3,653.8 404.7,655.7 405.2,652.8 405.6,651.8 406.1,649.7 406.5,649.9 406.9,653.6 407.4,658.2 407.8,653.6 408.3,655.9 408.7,651.8 409.2,655.2 409.6,653.6 410.1,655.5 410.5,650.1 410.9,652.7 411.4,651.7 411.8,654.0 412.3,651.8 412.7,648.0 413.2,650.4 413.6,646.6 414.0,648.1 414.5,641.0 414.9,639.0 415.4,636.6 415.8,633.9 416.3,634.3 416.7,632.2 417.1,629.3 417.6,627.4 418.0,621.3 418.5,615.4 418.9,609.4 419.4,608.1 419.8,608.1 420.2,610.6 420.7,607.4 421.1,612.0 421.6,615.4 422.0,613.8 422.5,615.1 422.9,619.1 423.3,621.0 423.8,623.2 424.2,627.5 424.7,633.5 425.1,631.0 425.6,638.3 426.0,644.9 426.4,652.6 426.9,652.5 427.3,639.0 427.8,636.4 428.2,650.4 428.7,650.4 429.1,645.8 429.6,650.5 430.0,650.9 430.4,642.3 430.9,647.6 431.3,651.3 431.8,650.7 432.2,649.6 432.7,651.4 433.1,648.3 433.5,645.0 434.0,646.2 434.4,648.1 434.9,652.6 435.3,648.5 435.8,650.4 436.2,651.3 436.6,651.8 437.1,653.4 437.5,650.5 438.0,651.7 438.4,647.8 438.9,650.7 439.3,650.4 439.7,646.2 440.2,647.9 440.6,645.2 441.1,645.9 441.5,644.9 442.0,650.8 442.4,642.1 442.8,642.4 443.3,639.5 443.7,636.5 444.2,631.6 444.6,630.6 445.1,630.4 445.5,626.2 446.0,626.0 446.4,623.6 446.8,625.1 447.3,622.7 447.7,620.4 448.2,619.2 448.6,618.1 449.1,621.7 449.5,620.8 449.9,624.5 450.4,626.0 450.8,628.3 451.3,635.2 451.7,636.2 452.2,638.2 452.6,638.4 453.0,641.0 453.5,644.1 453.9,644.3 454.4,651.9 454.8,649.2 455.3,654.0 455.7,650.5 456.1,652.7 456.6,652.8 457.0,655.7 457.5,657.0 457.9,653.9 458.4,653.5 458.8,652.0 459.2,658.9 459.7,659.5 460.1,664.3 460.6,661.5 461.0,665.2 461.5,662.4 461.9,660.3 462.3,659.3 462.8,660.3 463.2,663.7 463.7,659.6 464.1,657.5 464.6,657.2 465.0,661.7 465.5,663.5 465.9,661.8 466.3,656.6 466.8,656.3 467.2,660.6 467.7,661.1 468.1,653.6 468.6,660.6 469.0,659.8 469.4,661.5 469.9,661.1 470.3,657.4 470.8,658.9 471.2,661.7 471.7,660.9 472.1,662.8 472.5,666.0 473.0,660.0 473.4,668.0 473.9,663.2 474.3,661.3 474.8,663.2 475.2,659.4 475.6,664.5 476.1,662.4 476.5,668.1 477.0,662.6 477.4,661.2 477.9,665.8 478.3,659.1 478.7,662.8 479.2,665.2 479.6,667.5 480.1,662.6 480.5,663.8 481.0,662.8 481.4,664.9 481.8,660.3 482.3,660.5 482.7,662.5 483.2,666.7 483.6,660.6 484.1,663.6 484.5,663.7 485.0,664.1 485.4,662.4 485.8,659.6 486.3,665.2 486.7,662.1 487.2,658.0 487.6,661.4 488.1,663.4 488.5,666.5 488.9,665.3 489.4,662.6 489.8,663.0 490.3,664.5 490.7,660.9 491.2,664.0 491.6,664.7 492.0,663.4 492.5,665.5 492.9,665.7 493.4,664.6 493.8,663.7 494.3,662.7 494.7,664.7 495.1,668.2 495.6,666.8 496.0,666.5 496.5,662.1 496.9,660.0 497.4,664.8 497.8,663.7 498.2,672.2 498.7,665.0 499.1,664.1 499.6,665.5 500.0,664.2 500.5,659.4 500.9,666.1 501.4,665.1 501.8,665.6 502.2,663.9 502.7,663.7 503.1,664.5 503.6,671.1 504.0,666.6 504.5,661.9 504.9,665.4 505.3,662.3 505.8,665.2 506.2,667.3 506.7,661.5 507.1,664.4 507.6,665.5 508.0,667.2 508.4,667.2 508.9,668.0 509.3,663.7 509.8,659.0 510.2,663.4 510.7,664.5 511.1,664.7 511.5,673.7 512.0,660.8 512.4,666.7 512.9,667.5 513.3,659.7 513.8,667.8 514.2,667.2 514.6,662.0 515.1,662.4 515.5,663.5 516.0,665.2 516.4,664.9 516.9,666.9 517.3,665.3 517.7,667.7 518.2,667.9 518.6,663.1 519.1,664.9 519.5,664.8 520.0,663.4 520.4,674.6 520.9,664.5 521.3,664.9 521.7,671.6 522.2,665.7 522.6,667.2 523.1,662.8 523.5,669.4 524.0,665.8 524.4,663.7 524.8,663.3" fill="none" stroke="#9a62c6" stroke-width="1.0" stroke-linejoin="round" />
<rect x="324.5" y="515.6" width="201.89999999999998" height="161.39999999999998" fill="none" stroke="#333" stroke-width="1.2" />
<line x1="324.5" y1="596.0" x2="526.4" y2="596.0" stroke="#333" stroke-width="1.2" />
<line x1="325.4" y1="677.0" x2="325.4" y2="679.5" stroke="#333" stroke-width="0.9" />
<line x1="325.4" y1="596.0" x2="325.4" y2="593.5" stroke="#333" stroke-width="0.9" />
<line x1="353.09999999999997" y1="677.0" x2="353.09999999999997" y2="679.5" stroke="#333" stroke-width="0.9" />
<line x1="353.09999999999997" y1="596.0" x2="353.09999999999997" y2="593.5" stroke="#333" stroke-width="0.9" />
<line x1="380.79999999999995" y1="677.0" x2="380.79999999999995" y2="679.5" stroke="#333" stroke-width="0.9" />
<line x1="380.79999999999995" y1="596.0" x2="380.79999999999995" y2="593.5" stroke="#333" stroke-width="0.9" />
<line x1="408.5" y1="677.0" x2="408.5" y2="679.5" stroke="#333" stroke-width="0.9" />
<line x1="408.5" y1="596.0" x2="408.5" y2="593.5" stroke="#333" stroke-width="0.9" />
<line x1="436.2" y1="677.0" x2="436.2" y2="679.5" stroke="#333" stroke-width="0.9" />
<line x1="436.2" y1="596.0" x2="436.2" y2="593.5" stroke="#333" stroke-width="0.9" />
<line x1="463.9" y1="677.0" x2="463.9" y2="679.5" stroke="#333" stroke-width="0.9" />
<line x1="463.9" y1="596.0" x2="463.9" y2="593.5" stroke="#333" stroke-width="0.9" />
<line x1="491.59999999999997" y1="677.0" x2="491.59999999999997" y2="679.5" stroke="#333" stroke-width="0.9" />
<line x1="491.59999999999997" y1="596.0" x2="491.59999999999997" y2="593.5" stroke="#333" stroke-width="0.9" />
<line x1="519.3" y1="677.0" x2="519.3" y2="679.5" stroke="#333" stroke-width="0.9" />
<line x1="519.3" y1="596.0" x2="519.3" y2="593.5" stroke="#333" stroke-width="0.9" />
<text x="325.4" y="688.3" font-family="Liberation Serif" font-size="5.5" text-anchor="middle" fill="#222" font-weight="bold" >500</text>
<text x="380.79999999999995" y="688.3" font-family="Liberation Serif" font-size="5.5" text-anchor="middle" fill="#222" font-weight="bold" >1000</text>
<text x="436.2" y="688.3" font-family="Liberation Serif" font-size="5.5" text-anchor="middle" fill="#222" font-weight="bold" >1500</text>
<text x="491.59999999999997" y="688.3" font-family="Liberation Serif" font-size="5.5" text-anchor="middle" fill="#222" font-weight="bold" >2000</text>
<text x="434.5" y="703" font-family="Liberation Serif" font-size="9" text-anchor="middle" fill="#222" font-weight="normal" stroke="#222" stroke-width="0.22" >Raman shift (cm<tspan font-size="6" dy="-3">−1</tspan><tspan dy="3">)</tspan></text>
<text x="313.3" y="595.4" font-family="Liberation Serif" font-size="9.2" text-anchor="middle" fill="#222" font-weight="normal" stroke="#222" stroke-width="0.22" transform="rotate(-90 313.3 595.4)" >Intensity(a.u.)</text>
<text x="341.4" y="533.5" font-family="Liberation Serif" font-size="9" text-anchor="start" fill="#222" font-weight="bold" >Li<tspan font-size="6" dy="2">2</tspan><tspan dy="-2">SO</tspan><tspan font-size="6" dy="2">4</tspan></text>
<line x1="438" y1="526.6" x2="453" y2="526.6" stroke="#555" stroke-width="0.9" />
<text x="453" y="529.5" font-family="Liberation Serif" font-size="8.1" text-anchor="start" fill="#111" font-weight="bold" >Constant potential</text>
<line x1="438.3" y1="611.3" x2="453.6" y2="611.3" stroke="#9a62c6" stroke-width="0.9" />
<text x="453.6" y="614.2" font-family="Liberation Serif" font-size="8.1" text-anchor="start" fill="#9a62c6" font-weight="bold" >Pulsed potential</text></svg>
</body></html>
